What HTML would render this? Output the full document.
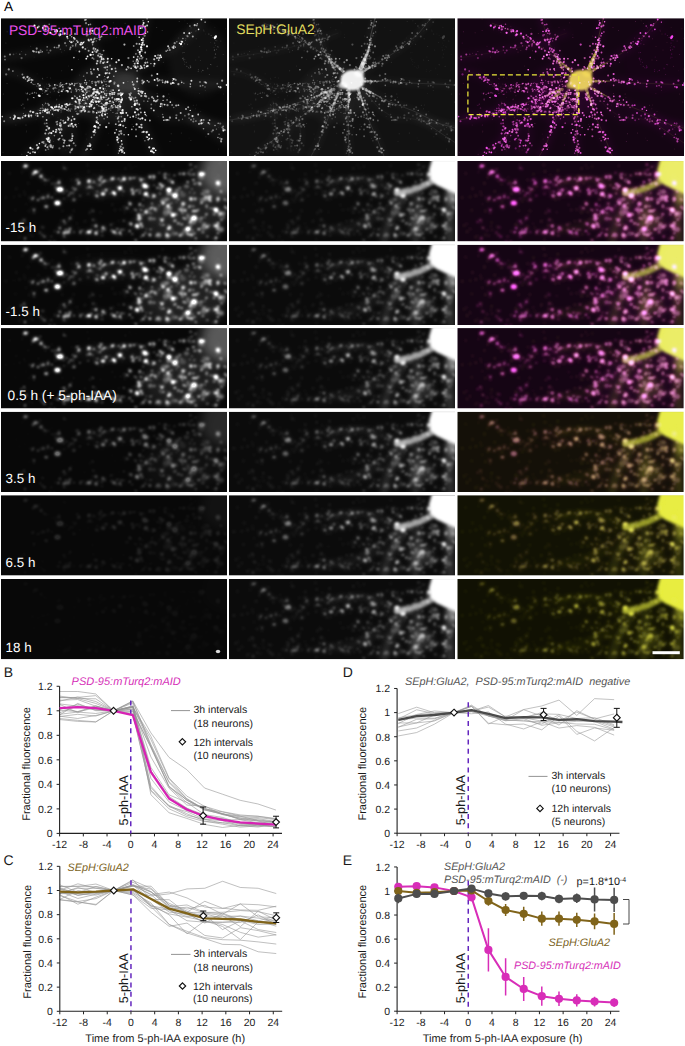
<!DOCTYPE html>
<html><head><meta charset="utf-8"><style>
html,body{margin:0;padding:0;background:#fff;}
svg{display:block;font-family:"Liberation Sans", sans-serif;text-rendering:geometricPrecision;}
</style></head><body>
<svg width="685" height="1046" viewBox="0 0 685 1046">
<text x="4" y="10.9" font-size="13.6">A</text><defs><filter id="bs" x="-20%" y="-20%" width="140%" height="140%"><feGaussianBlur stdDeviation="0.9"/></filter><filter id="b15" x="-20%" y="-20%" width="140%" height="140%"><feGaussianBlur stdDeviation="1.6"/></filter><filter id="b1" x="-5%" y="-5%" width="110%" height="110%"><feGaussianBlur stdDeviation="0.5"/></filter><filter id="gz" x="-5%" y="-5%" width="110%" height="110%"><feGaussianBlur in="SourceGraphic" stdDeviation="0.8" result="a"/><feGaussianBlur in="SourceGraphic" stdDeviation="2.3" result="b"/><feComposite in="a" in2="b" operator="arithmetic" k1="0" k2="1.05" k3="0.5" k4="0"/></filter><filter id="b3" x="-30%" y="-30%" width="160%" height="160%"><feGaussianBlur stdDeviation="3"/></filter><filter id="b6" x="-50%" y="-50%" width="200%" height="200%"><feGaussianBlur stdDeviation="6"/></filter><clipPath id="cz"><rect width="226" height="80.4"/></clipPath><clipPath id="ct"><rect width="226" height="137.8"/></clipPath><clipPath id="ct3"><rect width="226.7" height="137.8"/></clipPath><clipPath id="cz3"><rect width="226.3" height="80.4"/></clipPath><g id="zs"><ellipse cx="24.5" cy="5" rx="1.8" ry="1.4" fill-opacity=".8" transform="rotate(30 24.5 5)"/><ellipse cx="22.7" cy="5.8" rx="1.1" ry=".7" fill-opacity=".44" transform="rotate(30 22.7 5.8)"/><ellipse cx="26.3" cy="4.7" rx="1" ry=".6" fill-opacity=".39"/><ellipse cx="26.6" cy="4.2" rx=".8" ry=".5" fill-opacity=".38" transform="rotate(5 26.6 4.2)"/><ellipse cx="34.5" cy="11" rx="2.3" ry="1.5" fill-opacity=".9" transform="rotate(-10 34.5 11)"/><ellipse cx="37.5" cy="11" rx="1.1" ry=".8" fill-opacity=".39"/><ellipse cx="33.3" cy="12.8" rx=".8" ry=".5" fill-opacity=".48"/><ellipse cx="40" cy="15.5" rx="1.5" ry="1.4" fill-opacity=".7"/><ellipse cx="42.4" cy="17.4" rx=".9" ry=".6" fill-opacity=".29" transform="rotate(-20 42.4 17.4)"/><ellipse cx="44" cy="19" rx="1.1" ry="1.1" fill-opacity=".5"/><ellipse cx="42.8" cy="17.3" rx="1.1" ry=".7" fill-opacity=".14" transform="rotate(30 42.8 17.3)"/><ellipse cx="58" cy="21.5" rx="1.5" ry="1.5" fill-opacity=".6"/><ellipse cx="58.1" cy="19.1" rx="1" ry=".7" fill-opacity=".28" transform="rotate(-5 58.1 19.1)"/><ellipse cx="54.9" cy="21.9" rx=".8" ry=".5" fill-opacity=".32"/><ellipse cx="56.1" cy="22.5" rx=".9" ry=".6" fill-opacity=".22" transform="rotate(-20 56.1 22.5)"/><ellipse cx="59" cy="28.5" rx="3.4" ry="2.1" fill-opacity="1" transform="rotate(5 59 28.5)"/><ellipse cx="59.9" cy="27.2" rx="1.1" ry=".7" fill-opacity=".54"/><ellipse cx="56.5" cy="42" rx="2.9" ry="2.1" fill-opacity="1"/><ellipse cx="56.5" cy="40.4" rx="1" ry=".7" fill-opacity=".42" transform="rotate(30 56.5 40.4)"/><ellipse cx="57.3" cy="43.3" rx=".9" ry=".6" fill-opacity=".53" transform="rotate(5 57.3 43.3)"/><ellipse cx="54.8" cy="41" rx=".8" ry=".5" fill-opacity=".27" transform="rotate(5 54.8 41)"/><ellipse cx="45" cy="45.5" rx="1.7" ry="1.1" fill-opacity=".7"/><ellipse cx="45.8" cy="46.6" rx="1" ry=".6" fill-opacity=".31" transform="rotate(20 45.8 46.6)"/><ellipse cx="46.6" cy="44.8" rx="1.1" ry=".7" fill-opacity=".18" transform="rotate(30 46.6 44.8)"/><ellipse cx="47" cy="35" rx="1.1" ry="1.1" fill-opacity=".5"/><ellipse cx="47.1" cy="37.6" rx=".8" ry=".5" fill-opacity=".14"/><ellipse cx="47.4" cy="33" rx="1.1" ry=".7" fill-opacity=".13" transform="rotate(-10 47.4 33)"/><ellipse cx="46.4" cy="36.8" rx=".8" ry=".5" fill-opacity=".14"/><ellipse cx="42" cy="37" rx="1.1" ry="1.1" fill-opacity=".5"/><ellipse cx="41.9" cy="35" rx=".8" ry=".6" fill-opacity=".27" transform="rotate(-10 41.9 35)"/><ellipse cx="37" cy="39" rx="1.1" ry="1.1" fill-opacity=".5"/><ellipse cx="40.2" cy="38.2" rx=".9" ry=".6" fill-opacity=".15" transform="rotate(20 40.2 38.2)"/><ellipse cx="31.5" cy="38" rx="1.1" ry="1.1" fill-opacity=".5"/><ellipse cx="28.7" cy="36.8" rx=".9" ry=".6" fill-opacity=".21"/><ellipse cx="31.7" cy="36.8" rx="1" ry=".7" fill-opacity=".27" transform="rotate(-5 31.7 36.8)"/><ellipse cx="33" cy="49" rx="1.1" ry="1.1" fill-opacity=".5"/><ellipse cx="33" cy="51.7" rx=".9" ry=".6" fill-opacity=".23"/><ellipse cx="33.7" cy="47.7" rx=".8" ry=".5" fill-opacity=".18" transform="rotate(20 33.7 47.7)"/><ellipse cx="31.1" cy="47.1" rx=".8" ry=".5" fill-opacity=".14" transform="rotate(30 31.1 47.1)"/><ellipse cx="23" cy="59" rx="1.1" ry="1.1" fill-opacity=".3"/><ellipse cx="20.4" cy="60.6" rx="1" ry=".7" fill-opacity=".09" transform="rotate(10 20.4 60.6)"/><ellipse cx="23.9" cy="61.3" rx="1.1" ry=".7" fill-opacity=".13"/><ellipse cx="24" cy="77.5" rx="1.1" ry="1.1" fill-opacity=".4"/><ellipse cx="24.4" cy="76.3" rx=".9" ry=".6" fill-opacity=".11" transform="rotate(30 24.4 76.3)"/><ellipse cx="63" cy="60" rx="1.1" ry="1.1" fill-opacity=".5"/><ellipse cx="63.4" cy="62.7" rx="1" ry=".7" fill-opacity=".24" transform="rotate(20 63.4 62.7)"/><ellipse cx="64.6" cy="62" rx="1.2" ry=".8" fill-opacity=".25"/><ellipse cx="60.4" cy="60.1" rx="1" ry=".7" fill-opacity=".13" transform="rotate(-20 60.4 60.1)"/><ellipse cx="69" cy="57" rx="1.1" ry="1.1" fill-opacity=".5"/><ellipse cx="67.9" cy="59.2" rx="1" ry=".6" fill-opacity=".21"/><ellipse cx="70.4" cy="54.5" rx=".9" ry=".6" fill-opacity=".17"/><ellipse cx="70.3" cy="57.8" rx=".8" ry=".5" fill-opacity=".25" transform="rotate(5 70.3 57.8)"/><ellipse cx="63" cy="72" rx="1.4" ry="1.4" fill-opacity=".6"/><ellipse cx="65.7" cy="71.3" rx="1.1" ry=".7" fill-opacity=".23" transform="rotate(-30 65.7 71.3)"/><ellipse cx="64.2" cy="71.1" rx=".7" ry=".5" fill-opacity=".27" transform="rotate(20 64.2 71.1)"/><ellipse cx="62.6" cy="74.1" rx=".9" ry=".6" fill-opacity=".23" transform="rotate(-10 62.6 74.1)"/><ellipse cx="68" cy="71" rx="1.4" ry="1.4" fill-opacity=".6"/><ellipse cx="65.2" cy="71.2" rx="1.2" ry=".8" fill-opacity=".17" transform="rotate(-10 65.2 71.2)"/><ellipse cx="65.1" cy="71.1" rx="1.1" ry=".8" fill-opacity=".29"/><ellipse cx="73" cy="39" rx="1.1" ry="1.1" fill-opacity=".5"/><ellipse cx="72.7" cy="36.8" rx="1.1" ry=".7" fill-opacity=".16" transform="rotate(-10 72.7 36.8)"/><ellipse cx="70.9" cy="39" rx=".9" ry=".6" fill-opacity=".2"/><ellipse cx="74.5" cy="38.2" rx=".8" ry=".5" fill-opacity=".26" transform="rotate(-5 74.5 38.2)"/><ellipse cx="63" cy="7" rx="1.1" ry="1.1" fill-opacity=".3"/><ellipse cx="64.8" cy="7.8" rx="1.2" ry=".8" fill-opacity=".14" transform="rotate(-30 64.8 7.8)"/><ellipse cx="78" cy="22" rx="1.4" ry="1.4" fill-opacity=".7"/><ellipse cx="77.5" cy="20.5" rx=".9" ry=".6" fill-opacity=".31" transform="rotate(-30 77.5 20.5)"/><ellipse cx="88" cy="20" rx="1.7" ry="1.5" fill-opacity=".9" transform="rotate(-10 88 20)"/><ellipse cx="87.1" cy="21.4" rx="1.1" ry=".8" fill-opacity=".27"/><ellipse cx="93" cy="21" rx="1.1" ry="1.1" fill-opacity=".6"/><ellipse cx="91.9" cy="18.8" rx=".8" ry=".5" fill-opacity=".22" transform="rotate(30 91.9 18.8)"/><ellipse cx="90.3" cy="21.6" rx="1" ry=".7" fill-opacity=".27" transform="rotate(-20 90.3 21.6)"/><ellipse cx="95.8" cy="22.6" rx=".8" ry=".5" fill-opacity=".21" transform="rotate(30 95.8 22.6)"/><ellipse cx="99" cy="19" rx="1.1" ry="1.1" fill-opacity=".6"/><ellipse cx="101.5" cy="19.2" rx=".7" ry=".5" fill-opacity=".26" transform="rotate(-20 101.5 19.2)"/><ellipse cx="99.1" cy="20.2" rx="1" ry=".7" fill-opacity=".17" transform="rotate(-10 99.1 20.2)"/><ellipse cx="103" cy="20" rx="1.1" ry="1.1" fill-opacity=".6"/><ellipse cx="101.8" cy="21" rx="1.1" ry=".7" fill-opacity=".3" transform="rotate(5 101.8 21)"/><ellipse cx="111" cy="18" rx="1.4" ry="1.4" fill-opacity=".7"/><ellipse cx="108.2" cy="19.3" rx=".8" ry=".6" fill-opacity=".3" transform="rotate(30 108.2 19.3)"/><ellipse cx="123" cy="18" rx="1.7" ry="1.7" fill-opacity=".9"/><ellipse cx="124.1" cy="17.2" rx="1" ry=".7" fill-opacity=".25" transform="rotate(-10 124.1 17.2)"/><ellipse cx="122.9" cy="15.6" rx=".8" ry=".5" fill-opacity=".24"/><ellipse cx="129" cy="17" rx="1.1" ry="1.1" fill-opacity=".6"/><ellipse cx="126.1" cy="17.1" rx="1" ry=".7" fill-opacity=".18"/><ellipse cx="128.3" cy="19.2" rx=".7" ry=".5" fill-opacity=".3" transform="rotate(-30 128.3 19.2)"/><ellipse cx="129.7" cy="18.2" rx="1.1" ry=".7" fill-opacity=".21" transform="rotate(-5 129.7 18.2)"/><ellipse cx="133" cy="17" rx="1.1" ry="1.1" fill-opacity=".6"/><ellipse cx="130.1" cy="17.1" rx="1" ry=".7" fill-opacity=".18"/><ellipse cx="135.3" cy="16.1" rx=".9" ry=".6" fill-opacity=".27" transform="rotate(10 135.3 16.1)"/><ellipse cx="131.4" cy="16.8" rx="1.1" ry=".7" fill-opacity=".19"/><ellipse cx="140" cy="19" rx="1.4" ry="1.4" fill-opacity=".7"/><ellipse cx="138.1" cy="17.3" rx=".7" ry=".5" fill-opacity=".25" transform="rotate(-10 138.1 17.3)"/><ellipse cx="141.6" cy="17.6" rx=".7" ry=".5" fill-opacity=".23" transform="rotate(20 141.6 17.6)"/><ellipse cx="138.8" cy="17" rx="1" ry=".7" fill-opacity=".3"/><ellipse cx="149" cy="16" rx="1.4" ry="1.4" fill-opacity=".7"/><ellipse cx="152.2" cy="15" rx="1.1" ry=".7" fill-opacity=".18" transform="rotate(-10 152.2 15)"/><ellipse cx="89" cy="26" rx="1.1" ry="1.1" fill-opacity=".5"/><ellipse cx="91.2" cy="26.3" rx="1.1" ry=".7" fill-opacity=".15" transform="rotate(-10 91.2 26.3)"/><ellipse cx="86.7" cy="26" rx=".8" ry=".6" fill-opacity=".2" transform="rotate(5 86.7 26)"/><ellipse cx="86.1" cy="26.8" rx="1.2" ry=".8" fill-opacity=".26" transform="rotate(30 86.1 26.8)"/><ellipse cx="99" cy="24" rx="1.1" ry="1.1" fill-opacity=".5"/><ellipse cx="96" cy="23.4" rx=".9" ry=".6" fill-opacity=".14" transform="rotate(-20 96 23.4)"/><ellipse cx="96.6" cy="25" rx=".7" ry=".5" fill-opacity=".22" transform="rotate(-20 96.6 25)"/><ellipse cx="105" cy="29" rx="1.1" ry="1.1" fill-opacity=".6"/><ellipse cx="101.7" cy="28.6" rx="1" ry=".6" fill-opacity=".17" transform="rotate(10 101.7 28.6)"/><ellipse cx="102.5" cy="30" rx="1.1" ry=".7" fill-opacity=".29" transform="rotate(-10 102.5 30)"/><ellipse cx="105" cy="30.9" rx=".9" ry=".6" fill-opacity=".24" transform="rotate(-10 105 30.9)"/><ellipse cx="113" cy="32" rx="2.3" ry="1.5" fill-opacity="1" transform="rotate(30 113 32)"/><ellipse cx="113.8" cy="34.4" rx=".9" ry=".6" fill-opacity=".38" transform="rotate(-10 113.8 34.4)"/><ellipse cx="114.2" cy="33.2" rx=".8" ry=".5" fill-opacity=".29"/><ellipse cx="119" cy="27" rx="2.1" ry="1.8" fill-opacity="1"/><ellipse cx="118.1" cy="29.4" rx=".9" ry=".6" fill-opacity=".4" transform="rotate(20 118.1 29.4)"/><ellipse cx="116.1" cy="26.2" rx="1" ry=".7" fill-opacity=".26"/><ellipse cx="120.5" cy="28.3" rx=".9" ry=".6" fill-opacity=".42"/><ellipse cx="102" cy="33" rx="2.1" ry="1.4" fill-opacity=".9" transform="rotate(10 102 33)"/><ellipse cx="104" cy="31.2" rx=".9" ry=".6" fill-opacity=".29" transform="rotate(-20 104 31.2)"/><ellipse cx="96" cy="35" rx="1.4" ry="1.4" fill-opacity=".6"/><ellipse cx="94.2" cy="34" rx="1.1" ry=".8" fill-opacity=".28" transform="rotate(-10 94.2 34)"/><ellipse cx="131" cy="29" rx="1.4" ry="1.4" fill-opacity=".6"/><ellipse cx="133.2" cy="30.3" rx="1" ry=".7" fill-opacity=".24" transform="rotate(-20 133.2 30.3)"/><ellipse cx="131.3" cy="27" rx=".7" ry=".5" fill-opacity=".31"/><ellipse cx="132" cy="32.5" rx="1.4" ry="1.4" fill-opacity=".6"/><ellipse cx="132.6" cy="33.8" rx=".7" ry=".5" fill-opacity=".28" transform="rotate(-30 132.6 33.8)"/><ellipse cx="144" cy="25" rx="2.3" ry="2.3" fill-opacity=".9"/><ellipse cx="143.1" cy="24" rx="1.1" ry=".7" fill-opacity=".39" transform="rotate(-30 143.1 24)"/><ellipse cx="140.6" cy="25" rx=".9" ry=".6" fill-opacity=".4" transform="rotate(20 140.6 25)"/><ellipse cx="142.5" cy="26.3" rx="1.1" ry=".7" fill-opacity=".4"/><ellipse cx="145" cy="33" rx="2.1" ry="2.1" fill-opacity=".9"/><ellipse cx="143.2" cy="33.6" rx="1.1" ry=".8" fill-opacity=".47" transform="rotate(30 143.2 33.6)"/><ellipse cx="129" cy="43" rx="1.4" ry="1.4" fill-opacity=".6"/><ellipse cx="129" cy="41.2" rx=".8" ry=".5" fill-opacity=".15" transform="rotate(30 129 41.2)"/><ellipse cx="128.3" cy="41.4" rx="1.2" ry=".8" fill-opacity=".23" transform="rotate(30 128.3 41.4)"/><ellipse cx="130.8" cy="43.1" rx=".8" ry=".5" fill-opacity=".25" transform="rotate(30 130.8 43.1)"/><ellipse cx="126" cy="47" rx="1.1" ry="1.1" fill-opacity=".5"/><ellipse cx="123.5" cy="48.4" rx=".8" ry=".5" fill-opacity=".23"/><ellipse cx="127.7" cy="47.8" rx="1" ry=".7" fill-opacity=".14" transform="rotate(-20 127.7 47.8)"/><ellipse cx="123.2" cy="45.8" rx="1" ry=".6" fill-opacity=".22" transform="rotate(-10 123.2 45.8)"/><ellipse cx="145" cy="51" rx="1.7" ry="1.7" fill-opacity=".8"/><ellipse cx="146" cy="48.8" rx="1.1" ry=".8" fill-opacity=".3" transform="rotate(20 146 48.8)"/><ellipse cx="147.2" cy="51.5" rx="1.1" ry=".7" fill-opacity=".32" transform="rotate(30 147.2 51.5)"/><ellipse cx="138" cy="55" rx="1.7" ry="1.7" fill-opacity=".7"/><ellipse cx="138.5" cy="52.7" rx="1" ry=".6" fill-opacity=".21"/><ellipse cx="136.6" cy="53.1" rx=".9" ry=".6" fill-opacity=".34" transform="rotate(10 136.6 53.1)"/><ellipse cx="138" cy="58" rx="1.7" ry="1.7" fill-opacity=".7"/><ellipse cx="134.9" cy="58.2" rx=".8" ry=".5" fill-opacity=".33"/><ellipse cx="92" cy="50" rx=".9" ry=".9" fill-opacity=".3"/><ellipse cx="90.7" cy="48.4" rx=".8" ry=".6" fill-opacity=".11" transform="rotate(10 90.7 48.4)"/><ellipse cx="89.4" cy="51" rx="1" ry=".7" fill-opacity=".12" transform="rotate(-20 89.4 51)"/><ellipse cx="92" cy="59" rx=".9" ry=".9" fill-opacity=".3"/><ellipse cx="94.6" cy="59.6" rx="1" ry=".7" fill-opacity=".11"/><ellipse cx="130" cy="63" rx="1.4" ry="1.4" fill-opacity=".6"/><ellipse cx="130.5" cy="64.2" rx=".8" ry=".5" fill-opacity=".31"/><ellipse cx="129" cy="61.6" rx="1" ry=".7" fill-opacity=".23" transform="rotate(30 129 61.6)"/><ellipse cx="127.8" cy="62.7" rx=".9" ry=".6" fill-opacity=".26" transform="rotate(10 127.8 62.7)"/><ellipse cx="136" cy="65" rx="2.1" ry="1.8" fill-opacity=".9"/><ellipse cx="137.4" cy="66.4" rx="1.2" ry=".8" fill-opacity=".4" transform="rotate(-20 137.4 66.4)"/><ellipse cx="136" cy="62.7" rx="1.1" ry=".7" fill-opacity=".25"/><ellipse cx="140" cy="63" rx="1.4" ry="1.4" fill-opacity=".6"/><ellipse cx="138.9" cy="64.6" rx="1.2" ry=".8" fill-opacity=".18" transform="rotate(10 138.9 64.6)"/><ellipse cx="138.6" cy="61.8" rx=".8" ry=".6" fill-opacity=".29" transform="rotate(-20 138.6 61.8)"/><ellipse cx="88" cy="71" rx="2.3" ry="1.5" fill-opacity=".9"/><ellipse cx="90.3" cy="69.1" rx="1.1" ry=".7" fill-opacity=".49" transform="rotate(10 90.3 69.1)"/><ellipse cx="95" cy="72" rx="1.7" ry="1.5" fill-opacity=".7" transform="rotate(-5 95 72)"/><ellipse cx="95.4" cy="73.4" rx="1.2" ry=".8" fill-opacity=".25" transform="rotate(20 95.4 73.4)"/><ellipse cx="95.3" cy="70" rx=".7" ry=".5" fill-opacity=".32"/><ellipse cx="95.9" cy="73.2" rx=".9" ry=".6" fill-opacity=".19"/><ellipse cx="102" cy="67" rx="1.4" ry="1.4" fill-opacity=".6"/><ellipse cx="101.3" cy="68.8" rx="1.1" ry=".7" fill-opacity=".22" transform="rotate(10 101.3 68.8)"/><ellipse cx="101.8" cy="65.6" rx=".9" ry=".6" fill-opacity=".28" transform="rotate(30 101.8 65.6)"/><ellipse cx="104" cy="66.8" rx="1" ry=".7" fill-opacity=".21" transform="rotate(10 104 66.8)"/><ellipse cx="95" cy="65" rx="1.4" ry="1.4" fill-opacity=".6"/><ellipse cx="92.2" cy="64.6" rx="1" ry=".7" fill-opacity=".19" transform="rotate(-5 92.2 64.6)"/><ellipse cx="113" cy="71" rx="1.7" ry="1.5" fill-opacity=".7" transform="rotate(5 113 71)"/><ellipse cx="115.2" cy="71" rx=".8" ry=".5" fill-opacity=".25" transform="rotate(-10 115.2 71)"/><ellipse cx="119" cy="72" rx="1.4" ry="1.4" fill-opacity=".6"/><ellipse cx="120.2" cy="73.9" rx="1" ry=".7" fill-opacity=".3" transform="rotate(30 120.2 73.9)"/><ellipse cx="149" cy="74" rx="1.4" ry="1.4" fill-opacity=".6"/><ellipse cx="147.5" cy="73.1" rx=".8" ry=".5" fill-opacity=".28" transform="rotate(-5 147.5 73.1)"/><ellipse cx="201" cy="13" rx="2.9" ry="1.7" fill-opacity="1" transform="rotate(5 201 13)"/><ellipse cx="198.6" cy="14.5" rx="1.1" ry=".8" fill-opacity=".47" transform="rotate(5 198.6 14.5)"/><ellipse cx="201.1" cy="14.7" rx=".9" ry=".6" fill-opacity=".38" transform="rotate(-5 201.1 14.7)"/><ellipse cx="202.7" cy="13" rx="1.2" ry=".8" fill-opacity=".53"/><ellipse cx="217" cy="22" rx="2.3" ry="2.3" fill-opacity=".9"/><ellipse cx="218.1" cy="24" rx="1.2" ry=".8" fill-opacity=".46" transform="rotate(30 218.1 24)"/><ellipse cx="199" cy="23" rx="1.4" ry="1.4" fill-opacity=".6"/><ellipse cx="195.9" cy="22.1" rx="1.2" ry=".8" fill-opacity=".3"/><ellipse cx="197.9" cy="22.2" rx="1.1" ry=".7" fill-opacity=".33" transform="rotate(20 197.9 22.2)"/><ellipse cx="198.7" cy="21.8" rx="1.1" ry=".8" fill-opacity=".31" transform="rotate(-30 198.7 21.8)"/><ellipse cx="168" cy="29" rx="2.5" ry="2.3" fill-opacity="1" transform="rotate(-5 168 29)"/><ellipse cx="166" cy="28.2" rx="1" ry=".7" fill-opacity=".37" transform="rotate(20 166 28.2)"/><ellipse cx="174" cy="35" rx="2.5" ry="2.3" fill-opacity=".9" transform="rotate(10 174 35)"/><ellipse cx="171.5" cy="34.1" rx="1.2" ry=".8" fill-opacity=".31"/><ellipse cx="153" cy="35" rx="1.7" ry="1.7" fill-opacity=".7"/><ellipse cx="151.5" cy="33.3" rx="1.1" ry=".7" fill-opacity=".26" transform="rotate(-5 151.5 33.3)"/><ellipse cx="151.3" cy="36.5" rx="1.2" ry=".8" fill-opacity=".31" transform="rotate(-10 151.3 36.5)"/><ellipse cx="153" cy="16" rx="1.4" ry="1.4" fill-opacity=".6"/><ellipse cx="152.2" cy="18.5" rx="1" ry=".7" fill-opacity=".24" transform="rotate(10 152.2 18.5)"/><ellipse cx="152.2" cy="14.4" rx="1" ry=".7" fill-opacity=".28" transform="rotate(-5 152.2 14.4)"/><ellipse cx="161" cy="25" rx="1.4" ry="1.4" fill-opacity=".6"/><ellipse cx="163.6" cy="23.4" rx=".8" ry=".5" fill-opacity=".18"/><ellipse cx="162.8" cy="24.6" rx="1.2" ry=".8" fill-opacity=".18" transform="rotate(30 162.8 24.6)"/><ellipse cx="158.3" cy="25.3" rx=".8" ry=".6" fill-opacity=".24" transform="rotate(20 158.3 25.3)"/><ellipse cx="162" cy="42" rx="1.7" ry="1.7" fill-opacity=".7"/><ellipse cx="164.7" cy="40.6" rx="1" ry=".7" fill-opacity=".19" transform="rotate(30 164.7 40.6)"/><ellipse cx="162.7" cy="43.1" rx="1.1" ry=".7" fill-opacity=".28" transform="rotate(-30 162.7 43.1)"/><ellipse cx="160.2" cy="40.3" rx="1.1" ry=".7" fill-opacity=".38" transform="rotate(-20 160.2 40.3)"/><ellipse cx="167" cy="45" rx="1.7" ry="1.7" fill-opacity=".8"/><ellipse cx="166.2" cy="43.2" rx=".7" ry=".5" fill-opacity=".27"/><ellipse cx="167.9" cy="47.1" rx="1.2" ry=".8" fill-opacity=".42"/><ellipse cx="168.5" cy="43.4" rx="1" ry=".7" fill-opacity=".41" transform="rotate(-30 168.5 43.4)"/><ellipse cx="172" cy="54" rx="2.3" ry="2.1" fill-opacity=".9"/><ellipse cx="174.5" cy="53.5" rx="1" ry=".6" fill-opacity=".3" transform="rotate(10 174.5 53.5)"/><ellipse cx="174.6" cy="52.4" rx=".8" ry=".5" fill-opacity=".4" transform="rotate(-5 174.6 52.4)"/><ellipse cx="154" cy="48" rx="1.4" ry="1.4" fill-opacity=".6"/><ellipse cx="155.3" cy="49.9" rx="1.1" ry=".7" fill-opacity=".27"/><ellipse cx="157.1" cy="47.3" rx="1" ry=".6" fill-opacity=".3"/><ellipse cx="155.1" cy="49.6" rx="1.1" ry=".7" fill-opacity=".23"/><ellipse cx="182" cy="43" rx="1.7" ry="1.7" fill-opacity=".7"/><ellipse cx="184.1" cy="42.3" rx="1" ry=".7" fill-opacity=".21" transform="rotate(30 184.1 42.3)"/><ellipse cx="190" cy="38" rx="1.7" ry="1.7" fill-opacity=".8"/><ellipse cx="189.1" cy="36.7" rx="1" ry=".6" fill-opacity=".24"/><ellipse cx="194" cy="38" rx="1.4" ry="1.4" fill-opacity=".6"/><ellipse cx="197" cy="37.5" rx=".9" ry=".6" fill-opacity=".22" transform="rotate(-5 197 37.5)"/><ellipse cx="193" cy="57" rx="2.9" ry="2.5" fill-opacity=".9" transform="rotate(5 193 57)"/><ellipse cx="194.4" cy="56.3" rx="1.1" ry=".7" fill-opacity=".47" transform="rotate(-5 194.4 56.3)"/><ellipse cx="194.5" cy="58.6" rx=".8" ry=".5" fill-opacity=".45" transform="rotate(5 194.5 58.6)"/><ellipse cx="191" cy="58" rx=".9" ry=".6" fill-opacity=".3" transform="rotate(10 191 58)"/><ellipse cx="187" cy="68" rx="2.5" ry="2.3" fill-opacity="1"/><ellipse cx="186" cy="67" rx="1.1" ry=".7" fill-opacity=".46" transform="rotate(-30 186 67)"/><ellipse cx="209" cy="36" rx="1.7" ry="1.7" fill-opacity=".7"/><ellipse cx="206.7" cy="35.1" rx=".8" ry=".6" fill-opacity=".37" transform="rotate(10 206.7 35.1)"/><ellipse cx="206" cy="37" rx="1.1" ry=".8" fill-opacity=".36" transform="rotate(-20 206 37)"/><ellipse cx="217" cy="38" rx="1.7" ry="1.7" fill-opacity=".7"/><ellipse cx="217.1" cy="36.3" rx=".9" ry=".6" fill-opacity=".38" transform="rotate(-30 217.1 36.3)"/><ellipse cx="216.6" cy="40.2" rx="1.2" ry=".8" fill-opacity=".37" transform="rotate(-30 216.6 40.2)"/><ellipse cx="215" cy="49" rx="2.3" ry="2.3" fill-opacity=".9"/><ellipse cx="214.1" cy="50.4" rx=".8" ry=".6" fill-opacity=".44" transform="rotate(10 214.1 50.4)"/><ellipse cx="211.8" cy="48.2" rx=".8" ry=".5" fill-opacity=".39" transform="rotate(20 211.8 48.2)"/><ellipse cx="219" cy="53" rx="1.4" ry="1.4" fill-opacity=".6"/><ellipse cx="217.6" cy="53.8" rx="1" ry=".6" fill-opacity=".31" transform="rotate(-5 217.6 53.8)"/><ellipse cx="216.5" cy="51.2" rx="1.1" ry=".7" fill-opacity=".32" transform="rotate(5 216.5 51.2)"/><ellipse cx="219.6" cy="51.5" rx="1.1" ry=".7" fill-opacity=".15" transform="rotate(5 219.6 51.5)"/><ellipse cx="161" cy="59" rx="1.7" ry="1.7" fill-opacity=".7"/><ellipse cx="158.8" cy="57.7" rx="1.1" ry=".7" fill-opacity=".29"/><ellipse cx="160.7" cy="60.3" rx="1" ry=".7" fill-opacity=".23" transform="rotate(-20 160.7 60.3)"/><ellipse cx="168" cy="67" rx="1.7" ry="1.7" fill-opacity=".7"/><ellipse cx="168.1" cy="64.4" rx="1.2" ry=".8" fill-opacity=".34" transform="rotate(30 168.1 64.4)"/><ellipse cx="171.2" cy="68" rx="1.1" ry=".7" fill-opacity=".23" transform="rotate(-10 171.2 68)"/><ellipse cx="169.2" cy="66.2" rx="1" ry=".6" fill-opacity=".37" transform="rotate(10 169.2 66.2)"/><ellipse cx="166" cy="74" rx="1.7" ry="1.7" fill-opacity=".7"/><ellipse cx="165.2" cy="71.4" rx="1" ry=".7" fill-opacity=".23" transform="rotate(20 165.2 71.4)"/><ellipse cx="168.8" cy="74.7" rx=".9" ry=".6" fill-opacity=".33" transform="rotate(-10 168.8 74.7)"/><ellipse cx="206" cy="66" rx="1.4" ry="1.4" fill-opacity=".6"/><ellipse cx="203.1" cy="64.9" rx="1" ry=".6" fill-opacity=".18"/><ellipse cx="216" cy="65" rx="1.7" ry="1.7" fill-opacity=".7"/><ellipse cx="218" cy="64.8" rx="1.1" ry=".7" fill-opacity=".34" transform="rotate(30 218 64.8)"/><ellipse cx="215" cy="77" rx="1.4" ry="1.4" fill-opacity=".6"/><ellipse cx="211.7" cy="77.4" rx=".8" ry=".5" fill-opacity=".32" transform="rotate(-10 211.7 77.4)"/><ellipse cx="213.6" cy="78.7" rx=".9" ry=".6" fill-opacity=".15" transform="rotate(20 213.6 78.7)"/><ellipse cx="53.9" cy="23.1" rx="1.3" ry=".6" fill-opacity=".2" transform="rotate(10 53.9 23.1)"/><ellipse cx="70.3" cy="32.1" rx="1.4" ry="1" fill-opacity=".25"/><ellipse cx="40.5" cy="13.7" rx="1" ry=".6" fill-opacity=".33" transform="rotate(10 40.5 13.7)"/><ellipse cx="25.1" cy="4.9" rx="1.3" ry=".8" fill-opacity=".3"/><ellipse cx="59.7" cy="26.6" rx="1.5" ry=".7" fill-opacity=".51" transform="rotate(5 59.7 26.6)"/><ellipse cx="31.8" cy="12.9" rx="1.4" ry=".9" fill-opacity=".28" transform="rotate(30 31.8 12.9)"/><ellipse cx="47.8" cy="19" rx=".9" ry=".5" fill-opacity=".36" transform="rotate(-10 47.8 19)"/><ellipse cx="67.8" cy="34.4" rx="1.2" ry=".6" fill-opacity=".44"/><ellipse cx="68.9" cy="32.1" rx=".9" ry=".6" fill-opacity=".4" transform="rotate(5 68.9 32.1)"/><ellipse cx="46" cy="19.4" rx="1" ry=".7" fill-opacity=".31" transform="rotate(-5 46 19.4)"/><ellipse cx="32.2" cy="13.2" rx="1.2" ry=".8" fill-opacity=".54"/><ellipse cx="62.7" cy="31.9" rx="1" ry=".5" fill-opacity=".41" transform="rotate(-5 62.7 31.9)"/><ellipse cx="65.8" cy="30.1" rx="1.1" ry=".7" fill-opacity=".25" transform="rotate(-10 65.8 30.1)"/><ellipse cx="39.4" cy="8.4" rx="1.1" ry=".6" fill-opacity=".31" transform="rotate(-20 39.4 8.4)"/><ellipse cx="51.2" cy="22.7" rx="1.1" ry=".7" fill-opacity=".3"/><ellipse cx="54.6" cy="26.4" rx="1.1" ry=".8" fill-opacity=".36"/><ellipse cx="163.1" cy="13.4" rx="1" ry=".6" fill-opacity=".47"/><ellipse cx="163.7" cy="15.5" rx="1.2" ry=".8" fill-opacity=".43"/><ellipse cx="129.5" cy="17.9" rx="1.1" ry=".6" fill-opacity=".44" transform="rotate(-30 129.5 17.9)"/><ellipse cx="76.8" cy="23.4" rx="1.4" ry=".8" fill-opacity=".25" transform="rotate(-20 76.8 23.4)"/><ellipse cx="194.3" cy="5.9" rx="1.2" ry=".7" fill-opacity=".32" transform="rotate(20 194.3 5.9)"/><ellipse cx="76.7" cy="18.7" rx="1.2" ry=".9" fill-opacity=".37"/><ellipse cx="104" cy="19.6" rx="1.2" ry=".8" fill-opacity=".48" transform="rotate(-20 104 19.6)"/><ellipse cx="164.7" cy="12.9" rx="1.3" ry=".8" fill-opacity=".56" transform="rotate(20 164.7 12.9)"/><ellipse cx="101.7" cy="21.5" rx=".9" ry=".5" fill-opacity=".56" transform="rotate(-5 101.7 21.5)"/><ellipse cx="117.6" cy="17.8" rx="1.5" ry=".8" fill-opacity=".48" transform="rotate(-30 117.6 17.8)"/><ellipse cx="87.2" cy="21.1" rx=".9" ry=".5" fill-opacity=".26" transform="rotate(5 87.2 21.1)"/><ellipse cx="158.3" cy="11.9" rx="1" ry=".6" fill-opacity=".43" transform="rotate(-5 158.3 11.9)"/><ellipse cx="179" cy="12.7" rx="1.4" ry="1" fill-opacity=".46"/><ellipse cx="100.9" cy="21.9" rx="1.5" ry=".9" fill-opacity=".27" transform="rotate(10 100.9 21.9)"/><ellipse cx="97.2" cy="18.5" rx="1.3" ry=".9" fill-opacity=".21" transform="rotate(-5 97.2 18.5)"/><ellipse cx="105.4" cy="20.1" rx="1.2" ry=".8" fill-opacity=".26" transform="rotate(-30 105.4 20.1)"/><ellipse cx="189.3" cy="13.9" rx="1.2" ry=".6" fill-opacity=".49" transform="rotate(5 189.3 13.9)"/><ellipse cx="188.2" cy="9.9" rx="1" ry=".7" fill-opacity=".28" transform="rotate(20 188.2 9.9)"/><ellipse cx="100.2" cy="16.1" rx="1.5" ry="1" fill-opacity=".56" transform="rotate(30 100.2 16.1)"/><ellipse cx="112.4" cy="17.7" rx="1.6" ry=".9" fill-opacity=".54" transform="rotate(10 112.4 17.7)"/><ellipse cx="182.9" cy="12.3" rx="1.3" ry=".8" fill-opacity=".54" transform="rotate(-10 182.9 12.3)"/><ellipse cx="192.7" cy="13.3" rx="1.5" ry="1.1" fill-opacity=".41" transform="rotate(-10 192.7 13.3)"/><ellipse cx="98.8" cy="17.3" rx="1.5" ry=".8" fill-opacity=".26" transform="rotate(5 98.8 17.3)"/><ellipse cx="112.3" cy="16.7" rx="1.1" ry=".8" fill-opacity=".4" transform="rotate(-30 112.3 16.7)"/><ellipse cx="88.4" cy="23.5" rx=".9" ry=".5" fill-opacity=".24" transform="rotate(30 88.4 23.5)"/><ellipse cx="190.7" cy="8.6" rx="1.3" ry=".7" fill-opacity=".4" transform="rotate(-30 190.7 8.6)"/><ellipse cx="75.4" cy="19.1" rx="1.5" ry="1" fill-opacity=".2" transform="rotate(-30 75.4 19.1)"/><ellipse cx="164.2" cy="17.1" rx="1.4" ry=".9" fill-opacity=".57" transform="rotate(20 164.2 17.1)"/><ellipse cx="142.6" cy="18.2" rx="1.2" ry=".8" fill-opacity=".35"/><ellipse cx="187" cy="12.5" rx="1.3" ry=".9" fill-opacity=".32"/><ellipse cx="189" cy="12.1" rx="1.1" ry=".6" fill-opacity=".23"/><ellipse cx="182.8" cy="13.3" rx="1.4" ry="1" fill-opacity=".46" transform="rotate(10 182.8 13.3)"/><ellipse cx="120.2" cy="19.7" rx="1.3" ry=".7" fill-opacity=".53" transform="rotate(-10 120.2 19.7)"/><ellipse cx="88.4" cy="26" rx="1.4" ry=".9" fill-opacity=".45"/><ellipse cx="168.1" cy="13.8" rx="1" ry=".5" fill-opacity=".35" transform="rotate(-30 168.1 13.8)"/><ellipse cx="91.5" cy="26.8" rx="1.4" ry=".7" fill-opacity=".26" transform="rotate(30 91.5 26.8)"/><ellipse cx="225.4" cy="39.5" rx="1.5" ry=".9" fill-opacity=".25"/><ellipse cx="47" cy="36.4" rx="1.2" ry=".6" fill-opacity=".31"/><ellipse cx="74.3" cy="28.1" rx="1.4" ry=".8" fill-opacity=".54" transform="rotate(-20 74.3 28.1)"/><ellipse cx="122.6" cy="30.2" rx="1.3" ry=".8" fill-opacity=".37"/><ellipse cx="119.1" cy="27.8" rx="1.3" ry=".8" fill-opacity=".44" transform="rotate(-10 119.1 27.8)"/><ellipse cx="190.9" cy="28" rx="1" ry=".7" fill-opacity=".39" transform="rotate(10 190.9 28)"/><ellipse cx="133.3" cy="30.2" rx=".9" ry=".6" fill-opacity=".44" transform="rotate(10 133.3 30.2)"/><ellipse cx="87.2" cy="32.7" rx="1.2" ry=".8" fill-opacity=".24" transform="rotate(-5 87.2 32.7)"/><ellipse cx="203" cy="32.9" rx="1.1" ry=".7" fill-opacity=".52" transform="rotate(20 203 32.9)"/><ellipse cx="63.1" cy="37.7" rx="1.1" ry=".7" fill-opacity=".23" transform="rotate(-20 63.1 37.7)"/><ellipse cx="108.8" cy="27.8" rx="1" ry=".5" fill-opacity=".22"/><ellipse cx="50.8" cy="36.5" rx="1" ry=".7" fill-opacity=".58"/><ellipse cx="188.9" cy="31.5" rx="1" ry=".6" fill-opacity=".45"/><ellipse cx="202.6" cy="30.2" rx=".9" ry=".7" fill-opacity=".39" transform="rotate(-10 202.6 30.2)"/><ellipse cx="139" cy="29.1" rx="1.1" ry=".7" fill-opacity=".5" transform="rotate(20 139 29.1)"/><ellipse cx="160" cy="27.7" rx="1.6" ry="1.1" fill-opacity=".31" transform="rotate(-5 160 27.7)"/><ellipse cx="71.9" cy="26.9" rx="1" ry=".6" fill-opacity=".53"/><ellipse cx="176.1" cy="34.6" rx="1.1" ry=".6" fill-opacity=".55" transform="rotate(-20 176.1 34.6)"/><ellipse cx="43.3" cy="36.6" rx="1.2" ry=".9" fill-opacity=".39" transform="rotate(-5 43.3 36.6)"/><ellipse cx="180.5" cy="30.7" rx="1" ry=".7" fill-opacity=".41" transform="rotate(-20 180.5 30.7)"/><ellipse cx="204.3" cy="35.6" rx="1.5" ry=".8" fill-opacity=".45" transform="rotate(-10 204.3 35.6)"/><ellipse cx="118" cy="27.4" rx=".9" ry=".5" fill-opacity=".22" transform="rotate(-10 118 27.4)"/><ellipse cx="169.8" cy="33.1" rx="1.3" ry=".9" fill-opacity=".54" transform="rotate(-10 169.8 33.1)"/><ellipse cx="109.2" cy="32.6" rx=".9" ry=".5" fill-opacity=".54"/><ellipse cx="223.7" cy="38.3" rx="1.3" ry=".8" fill-opacity=".57" transform="rotate(-20 223.7 38.3)"/><ellipse cx="39.7" cy="37" rx="1.3" ry=".9" fill-opacity=".25" transform="rotate(-30 39.7 37)"/><ellipse cx="156.5" cy="26.9" rx="1.5" ry=".8" fill-opacity=".5"/><ellipse cx="142.1" cy="23.1" rx="1.5" ry=".8" fill-opacity=".53" transform="rotate(-5 142.1 23.1)"/><ellipse cx="96.4" cy="30.7" rx="1.5" ry=".8" fill-opacity=".34" transform="rotate(30 96.4 30.7)"/><ellipse cx="79" cy="34.7" rx="1.3" ry=".8" fill-opacity=".25" transform="rotate(-10 79 34.7)"/><ellipse cx="105.3" cy="28.7" rx="1.5" ry="1" fill-opacity=".43" transform="rotate(20 105.3 28.7)"/><ellipse cx="72.7" cy="30.4" rx=".9" ry=".6" fill-opacity=".29"/><ellipse cx="158.9" cy="32.6" rx="1.5" ry="1" fill-opacity=".29" transform="rotate(5 158.9 32.6)"/><ellipse cx="145.7" cy="26.5" rx="1.5" ry=".9" fill-opacity=".55" transform="rotate(5 145.7 26.5)"/><ellipse cx="72.3" cy="32.6" rx="1.1" ry=".8" fill-opacity=".21" transform="rotate(5 72.3 32.6)"/><ellipse cx="153.1" cy="24.2" rx="1.1" ry=".7" fill-opacity=".31" transform="rotate(-10 153.1 24.2)"/><ellipse cx="200.8" cy="32.9" rx="1.2" ry=".6" fill-opacity=".56" transform="rotate(20 200.8 32.9)"/><ellipse cx="193.3" cy="32" rx="1.4" ry=".7" fill-opacity=".36" transform="rotate(-30 193.3 32)"/><ellipse cx="32.5" cy="36.3" rx="1" ry=".6" fill-opacity=".49" transform="rotate(20 32.5 36.3)"/><ellipse cx="224.4" cy="45.3" rx="1.2" ry=".7" fill-opacity=".33" transform="rotate(-5 224.4 45.3)"/><ellipse cx="181.4" cy="52.4" rx="1.3" ry=".9" fill-opacity=".3" transform="rotate(30 181.4 52.4)"/><ellipse cx="160.2" cy="64.7" rx=".8" ry=".5" fill-opacity=".4"/><ellipse cx="69" cy="67.8" rx="1.5" ry="1" fill-opacity=".51" transform="rotate(10 69 67.8)"/><ellipse cx="128.7" cy="70" rx="1.4" ry=".9" fill-opacity=".47" transform="rotate(-10 128.7 70)"/><ellipse cx="223.9" cy="46.2" rx="1.2" ry=".8" fill-opacity=".5" transform="rotate(-20 223.9 46.2)"/><ellipse cx="121.5" cy="68.2" rx=".9" ry=".5" fill-opacity=".2" transform="rotate(-10 121.5 68.2)"/><ellipse cx="120.2" cy="68.8" rx="1.4" ry=".9" fill-opacity=".35"/><ellipse cx="213.2" cy="53.3" rx="1.5" ry="1" fill-opacity=".41" transform="rotate(-5 213.2 53.3)"/><ellipse cx="203.7" cy="56.4" rx="1.4" ry=".7" fill-opacity=".32"/><ellipse cx="110.5" cy="69.5" rx="1.1" ry=".6" fill-opacity=".58" transform="rotate(-30 110.5 69.5)"/><ellipse cx="101.1" cy="74.5" rx="1.4" ry=".8" fill-opacity=".25"/><ellipse cx="79.4" cy="71.7" rx="1.2" ry=".8" fill-opacity=".51" transform="rotate(30 79.4 71.7)"/><ellipse cx="67.7" cy="68.9" rx="1.2" ry=".7" fill-opacity=".28" transform="rotate(-5 67.7 68.9)"/><ellipse cx="145.2" cy="68" rx="1" ry=".6" fill-opacity=".32" transform="rotate(-20 145.2 68)"/><ellipse cx="97.1" cy="69.5" rx="1" ry=".6" fill-opacity=".28"/><ellipse cx="85.2" cy="72" rx=".9" ry=".6" fill-opacity=".43" transform="rotate(5 85.2 72)"/><ellipse cx="200.4" cy="56.9" rx="1.3" ry=".9" fill-opacity=".59"/><ellipse cx="81.9" cy="69.5" rx="1.1" ry=".7" fill-opacity=".25" transform="rotate(5 81.9 69.5)"/><ellipse cx="115.3" cy="72.5" rx="1.1" ry=".7" fill-opacity=".53" transform="rotate(-20 115.3 72.5)"/><ellipse cx="182.6" cy="57" rx="1.4" ry="1" fill-opacity=".51" transform="rotate(-10 182.6 57)"/><ellipse cx="225.8" cy="48" rx="1.3" ry=".7" fill-opacity=".23" transform="rotate(-10 225.8 48)"/><ellipse cx="116.3" cy="67.9" rx="1.3" ry=".7" fill-opacity=".56"/><ellipse cx="65.8" cy="71.9" rx="1.2" ry=".9" fill-opacity=".53" transform="rotate(20 65.8 71.9)"/><ellipse cx="64.9" cy="68.8" rx="1" ry=".7" fill-opacity=".54" transform="rotate(10 64.9 68.8)"/><ellipse cx="64" cy="71.3" rx="1" ry=".7" fill-opacity=".25" transform="rotate(20 64 71.3)"/><ellipse cx="73" cy="71" rx="1" ry=".6" fill-opacity=".5" transform="rotate(5 73 71)"/><ellipse cx="205.4" cy="53.2" rx="1.5" ry="1.1" fill-opacity=".49" transform="rotate(-30 205.4 53.2)"/><ellipse cx="184.1" cy="57.9" rx="1.5" ry=".9" fill-opacity=".24" transform="rotate(5 184.1 57.9)"/><ellipse cx="184.2" cy="57.8" rx="1.4" ry=".8" fill-opacity=".37" transform="rotate(30 184.2 57.8)"/><ellipse cx="57.4" cy="71.1" rx="1.3" ry="1" fill-opacity=".59" transform="rotate(-30 57.4 71.1)"/><ellipse cx="63.2" cy="75.6" rx="1.5" ry=".8" fill-opacity=".29" transform="rotate(10 63.2 75.6)"/><ellipse cx="123" cy="68.7" rx="1.3" ry=".9" fill-opacity=".22" transform="rotate(-10 123 68.7)"/><ellipse cx="79.8" cy="70" rx="1.3" ry=".7" fill-opacity=".41" transform="rotate(-10 79.8 70)"/><ellipse cx="50.3" cy="75.5" rx="1.1" ry=".7" fill-opacity=".21" transform="rotate(-30 50.3 75.5)"/><ellipse cx="159.1" cy="63" rx="1" ry=".5" fill-opacity=".54" transform="rotate(10 159.1 63)"/><ellipse cx="131.2" cy="72.9" rx="1.2" ry=".7" fill-opacity=".44"/><ellipse cx="58.8" cy="67.1" rx="1.4" ry=".8" fill-opacity=".56" transform="rotate(10 58.8 67.1)"/><ellipse cx="100.9" cy="70.7" rx="1.2" ry=".6" fill-opacity=".42" transform="rotate(10 100.9 70.7)"/><ellipse cx="103.8" cy="68.7" rx="1.1" ry=".6" fill-opacity=".55" transform="rotate(-20 103.8 68.7)"/><ellipse cx="149.5" cy="68.4" rx="1.4" ry=".9" fill-opacity=".36"/><ellipse cx="53.9" cy="70.4" rx=".9" ry=".5" fill-opacity=".3" transform="rotate(30 53.9 70.4)"/><ellipse cx="141.1" cy="64.5" rx="1" ry=".6" fill-opacity=".37" transform="rotate(-20 141.1 64.5)"/><ellipse cx="133.6" cy="48.3" rx="1" ry=".6" fill-opacity=".44" transform="rotate(-30 133.6 48.3)"/><ellipse cx="141.6" cy="53.6" rx="1.2" ry=".7" fill-opacity=".45" transform="rotate(20 141.6 53.6)"/><ellipse cx="144.2" cy="71.8" rx="1.4" ry=".9" fill-opacity=".35" transform="rotate(-10 144.2 71.8)"/><ellipse cx="135" cy="49.3" rx="1.2" ry=".7" fill-opacity=".48" transform="rotate(5 135 49.3)"/><ellipse cx="139.9" cy="75.8" rx="1" ry=".7" fill-opacity=".29" transform="rotate(-5 139.9 75.8)"/><ellipse cx="139.1" cy="48.3" rx="1.1" ry=".6" fill-opacity=".22" transform="rotate(20 139.1 48.3)"/><ellipse cx="140" cy="56.8" rx="1" ry=".7" fill-opacity=".45" transform="rotate(20 140 56.8)"/><ellipse cx="139" cy="44.6" rx="1.1" ry=".6" fill-opacity=".39" transform="rotate(-5 139 44.6)"/><ellipse cx="134.8" cy="79.2" rx="1.4" ry="1" fill-opacity=".38" transform="rotate(20 134.8 79.2)"/><ellipse cx="141.3" cy="65.8" rx="1.5" ry="1" fill-opacity=".47" transform="rotate(-30 141.3 65.8)"/><ellipse cx="136.2" cy="66.8" rx="1.2" ry=".7" fill-opacity=".49" transform="rotate(30 136.2 66.8)"/><ellipse cx="140.1" cy="49.2" rx="1.3" ry=".7" fill-opacity=".45" transform="rotate(10 140.1 49.2)"/><ellipse cx="137.8" cy="53.4" rx="1.1" ry=".6" fill-opacity=".5" transform="rotate(5 137.8 53.4)"/><ellipse cx="142.2" cy="38.5" rx="1.1" ry=".8" fill-opacity=".27"/><ellipse cx="138.8" cy="31.9" rx="1.2" ry=".9" fill-opacity=".49"/><ellipse cx="29.7" cy="69.5" rx=".9" ry=".6" fill-opacity=".19" transform="rotate(-10 29.7 69.5)"/><ellipse cx="41.8" cy="66.3" rx="1.5" ry=".9" fill-opacity=".19" transform="rotate(-5 41.8 66.3)"/><ellipse cx="39.1" cy="71.5" rx="1" ry=".6" fill-opacity=".39" transform="rotate(-30 39.1 71.5)"/><ellipse cx="48.9" cy="80.9" rx="1.2" ry=".8" fill-opacity=".34" transform="rotate(10 48.9 80.9)"/><ellipse cx="53.6" cy="80.8" rx="1.3" ry=".7" fill-opacity=".3" transform="rotate(30 53.6 80.8)"/><ellipse cx="25.6" cy="66.8" rx="1.5" ry=".8" fill-opacity=".29" transform="rotate(30 25.6 66.8)"/><ellipse cx="41.3" cy="73.8" rx="1.4" ry=".9" fill-opacity=".23"/><ellipse cx="20.3" cy="61" rx=".9" ry=".7" fill-opacity=".34"/><ellipse cx="43.5" cy="75.6" rx="1.4" ry=".9" fill-opacity=".37" transform="rotate(-10 43.5 75.6)"/><ellipse cx="175.6" cy="32.4" rx="1.1" ry=".7" fill-opacity=".73"/><ellipse cx="186.7" cy="21" rx="1.2" ry=".8" fill-opacity=".7" transform="rotate(30 186.7 21)"/><ellipse cx="194.7" cy="59.8" rx="1.2" ry=".8" fill-opacity=".4" transform="rotate(-30 194.7 59.8)"/><ellipse cx="192.1" cy="45.3" rx="1.7" ry="1.1" fill-opacity=".33"/><ellipse cx="158.3" cy="44.6" rx="1.1" ry=".7" fill-opacity=".41"/><ellipse cx="192.4" cy="50.1" rx="1.7" ry="1.1" fill-opacity=".67" transform="rotate(-5 192.4 50.1)"/><ellipse cx="178" cy="48.6" rx="1.2" ry=".8" fill-opacity=".47" transform="rotate(10 178 48.6)"/><ellipse cx="148.8" cy="51.6" rx="1" ry=".7" fill-opacity=".36" transform="rotate(-10 148.8 51.6)"/><ellipse cx="122.8" cy="59.8" rx="1" ry=".7" fill-opacity=".4" transform="rotate(5 122.8 59.8)"/><ellipse cx="188.8" cy="44.9" rx="1.3" ry=".9" fill-opacity=".49" transform="rotate(-20 188.8 44.9)"/><ellipse cx="190.1" cy="58.1" rx="1" ry=".7" fill-opacity=".52" transform="rotate(30 190.1 58.1)"/><ellipse cx="200.5" cy="41.9" rx="1.3" ry=".9" fill-opacity=".71" transform="rotate(-30 200.5 41.9)"/><ellipse cx="179.2" cy="26.6" rx="1" ry=".7" fill-opacity=".49" transform="rotate(5 179.2 26.6)"/><ellipse cx="189.8" cy="60.3" rx="1.7" ry="1.1" fill-opacity=".59" transform="rotate(-30 189.8 60.3)"/><ellipse cx="169.3" cy="66" rx="1.2" ry=".8" fill-opacity=".74"/><ellipse cx="216.9" cy="72.2" rx="1.3" ry=".8" fill-opacity=".54" transform="rotate(-10 216.9 72.2)"/><ellipse cx="188.2" cy="46.2" rx="1.4" ry=".9" fill-opacity=".45" transform="rotate(-10 188.2 46.2)"/><ellipse cx="177.4" cy="62.4" rx="1.6" ry="1.1" fill-opacity=".51" transform="rotate(-5 177.4 62.4)"/><ellipse cx="163.1" cy="51" rx="1" ry=".7" fill-opacity=".42" transform="rotate(10 163.1 51)"/><ellipse cx="147.4" cy="35.4" rx="1.1" ry=".7" fill-opacity=".65" transform="rotate(-30 147.4 35.4)"/><ellipse cx="171.6" cy="21" rx="1.4" ry=".9" fill-opacity=".73" transform="rotate(10 171.6 21)"/><ellipse cx="217" cy="62" rx="1.6" ry="1" fill-opacity=".64" transform="rotate(-10 217 62)"/><ellipse cx="148.7" cy="48.3" rx="1.4" ry="1" fill-opacity=".33" transform="rotate(5 148.7 48.3)"/><ellipse cx="218.9" cy="55.3" rx="1.1" ry=".8" fill-opacity=".31" transform="rotate(30 218.9 55.3)"/><ellipse cx="181.1" cy="50.5" rx="1.5" ry="1" fill-opacity=".31" transform="rotate(-10 181.1 50.5)"/><ellipse cx="138.7" cy="43.2" rx="1.3" ry=".9" fill-opacity=".68" transform="rotate(-30 138.7 43.2)"/><ellipse cx="197.2" cy="48.9" rx="1.4" ry="1" fill-opacity=".43" transform="rotate(-5 197.2 48.9)"/><ellipse cx="214.1" cy="65" rx="1.4" ry="1" fill-opacity=".74" transform="rotate(-30 214.1 65)"/><ellipse cx="201.9" cy="71.2" rx="1.5" ry="1" fill-opacity=".44"/><ellipse cx="193.6" cy="22.8" rx="1.4" ry="1" fill-opacity=".46" transform="rotate(30 193.6 22.8)"/><ellipse cx="162.4" cy="63.6" rx="1.1" ry=".7" fill-opacity=".32"/><ellipse cx="173" cy="33" rx="1.5" ry="1" fill-opacity=".73" transform="rotate(-20 173 33)"/><ellipse cx="191.4" cy="69.4" rx="1.2" ry=".8" fill-opacity=".37" transform="rotate(-10 191.4 69.4)"/><ellipse cx="180.4" cy="49.1" rx="1.6" ry="1.1" fill-opacity=".52" transform="rotate(5 180.4 49.1)"/><ellipse cx="189.6" cy="73.5" rx="1.4" ry=".9" fill-opacity=".63"/><ellipse cx="209.6" cy="47.3" rx="1" ry=".7" fill-opacity=".59" transform="rotate(20 209.6 47.3)"/><ellipse cx="208.9" cy="39.3" rx="1.8" ry="1.2" fill-opacity=".75" transform="rotate(30 208.9 39.3)"/><ellipse cx="153.2" cy="57.9" rx="1.6" ry="1.1" fill-opacity=".33" transform="rotate(-10 153.2 57.9)"/><ellipse cx="215.1" cy="47.6" rx="1.3" ry=".9" fill-opacity=".73"/><ellipse cx="225.7" cy="47.4" rx="1.3" ry=".9" fill-opacity=".53" transform="rotate(5 225.7 47.4)"/><ellipse cx="162.2" cy="25.5" rx="1.1" ry=".7" fill-opacity=".49" transform="rotate(-20 162.2 25.5)"/><ellipse cx="162.3" cy="63.9" rx="1" ry=".7" fill-opacity=".71" transform="rotate(20 162.3 63.9)"/><ellipse cx="175.1" cy="53.5" rx="1.7" ry="1.2" fill-opacity=".32"/><ellipse cx="173.9" cy="59.7" rx="1.7" ry="1.1" fill-opacity=".57" transform="rotate(-10 173.9 59.7)"/><ellipse cx="177.3" cy="38.3" rx="1" ry=".7" fill-opacity=".66"/><ellipse cx="193.4" cy="72.3" rx="1.5" ry="1" fill-opacity=".38" transform="rotate(5 193.4 72.3)"/><ellipse cx="151" cy="42.6" rx="1.2" ry=".8" fill-opacity=".55"/><ellipse cx="159.2" cy="23.1" rx="1.6" ry="1" fill-opacity=".67"/><ellipse cx="155.2" cy="74.9" rx="1.3" ry=".9" fill-opacity=".32" transform="rotate(-20 155.2 74.9)"/><ellipse cx="171.6" cy="21.7" rx="1.7" ry="1.2" fill-opacity=".41" transform="rotate(30 171.6 21.7)"/><ellipse cx="212.7" cy="47.5" rx="1" ry=".7" fill-opacity=".65" transform="rotate(5 212.7 47.5)"/><ellipse cx="191.2" cy="73.8" rx="1.4" ry=".9" fill-opacity=".41"/><ellipse cx="184" cy="49.1" rx="1.5" ry="1" fill-opacity=".7" transform="rotate(-10 184 49.1)"/><ellipse cx="170" cy="46.9" rx="1.2" ry=".8" fill-opacity=".5" transform="rotate(-10 170 46.9)"/><ellipse cx="109.9" cy="63.8" rx="1.1" ry=".8" fill-opacity=".38"/><ellipse cx="189.6" cy="3.6" rx="1.2" ry=".8" fill-opacity=".53"/><ellipse cx="186.2" cy="72.1" rx="1.2" ry=".8" fill-opacity=".58" transform="rotate(-10 186.2 72.1)"/><ellipse cx="197.9" cy="68.3" rx="1.5" ry="1" fill-opacity=".73" transform="rotate(-5 197.9 68.3)"/><ellipse cx="205.6" cy="45.9" rx="1.3" ry=".9" fill-opacity=".49" transform="rotate(10 205.6 45.9)"/><ellipse cx="142.2" cy="74.3" rx="1.5" ry="1" fill-opacity=".58" transform="rotate(-10 142.2 74.3)"/><ellipse cx="189.8" cy="65.6" rx="1" ry=".7" fill-opacity=".58" transform="rotate(-5 189.8 65.6)"/><ellipse cx="192.4" cy="19.1" rx="1.6" ry="1.1" fill-opacity=".48"/><ellipse cx="157.3" cy="73.6" rx="1" ry=".7" fill-opacity=".58" transform="rotate(-5 157.3 73.6)"/><ellipse cx="142" cy="44.9" rx="1.1" ry=".8" fill-opacity=".32"/><ellipse cx="167.5" cy="67.9" rx="1.7" ry="1.1" fill-opacity=".52"/><ellipse cx="175.6" cy="40.9" rx="1" ry=".7" fill-opacity=".32" transform="rotate(-20 175.6 40.9)"/><ellipse cx="173.4" cy="14.4" rx="1" ry=".7" fill-opacity=".56"/><ellipse cx="150.3" cy="52.5" rx="1" ry=".7" fill-opacity=".3"/><ellipse cx="206.4" cy="75.5" rx="1.3" ry=".9" fill-opacity=".39"/><ellipse cx="193.3" cy="61.9" rx="1.6" ry="1" fill-opacity=".34"/><ellipse cx="188.6" cy="61.6" rx="1" ry=".6" fill-opacity=".72" transform="rotate(-5 188.6 61.6)"/><ellipse cx="194.8" cy="77.3" rx="1.4" ry=".9" fill-opacity=".5" transform="rotate(30 194.8 77.3)"/><ellipse cx="220.4" cy="58.6" rx="1.4" ry=".9" fill-opacity=".49" transform="rotate(30 220.4 58.6)"/><ellipse cx="170.5" cy="42.1" rx="1.1" ry=".7" fill-opacity=".56"/><ellipse cx="166.9" cy="33.2" rx="1.3" ry=".9" fill-opacity=".45"/><ellipse cx="180.6" cy="63.4" rx="1.3" ry=".8" fill-opacity=".68" transform="rotate(-20 180.6 63.4)"/><ellipse cx="195" cy="50" rx="1.7" ry="1.1" fill-opacity=".71"/><ellipse cx="184.4" cy="50.2" rx="1.3" ry=".8" fill-opacity=".38" transform="rotate(10 184.4 50.2)"/><ellipse cx="219.9" cy="30.5" rx="1.3" ry=".9" fill-opacity=".72" transform="rotate(20 219.9 30.5)"/><ellipse cx="173.1" cy="35" rx="1.7" ry="1.1" fill-opacity=".7" transform="rotate(5 173.1 35)"/><ellipse cx="187.2" cy="73.5" rx="1.5" ry="1" fill-opacity=".57" transform="rotate(20 187.2 73.5)"/><ellipse cx="216.3" cy="68.1" rx="1.5" ry="1" fill-opacity=".53"/><ellipse cx="179.2" cy="74.5" rx="1.5" ry="1" fill-opacity=".74"/><ellipse cx="150.6" cy="46.8" rx="1.8" ry="1.2" fill-opacity=".49" transform="rotate(-20 150.6 46.8)"/><ellipse cx="197.5" cy="57.6" rx="1.1" ry=".7" fill-opacity=".51" transform="rotate(-5 197.5 57.6)"/><ellipse cx="135.9" cy="29.4" rx="1.1" ry=".7" fill-opacity=".74" transform="rotate(-30 135.9 29.4)"/><ellipse cx="222.6" cy="56.7" rx="1.3" ry=".8" fill-opacity=".34" transform="rotate(-30 222.6 56.7)"/><ellipse cx="140.1" cy="57.6" rx="1" ry=".7" fill-opacity=".37" transform="rotate(30 140.1 57.6)"/><ellipse cx="175.5" cy="34.3" rx="1.6" ry="1.1" fill-opacity=".43" transform="rotate(-30 175.5 34.3)"/><ellipse cx="205.7" cy="44.3" rx="1.3" ry=".9" fill-opacity=".4" transform="rotate(20 205.7 44.3)"/><ellipse cx="146.8" cy="25.3" rx="1.5" ry="1" fill-opacity=".49"/><ellipse cx="166.9" cy="75.3" rx="2.5" ry="2" fill-opacity=".29" transform="rotate(-30 166.9 75.3)"/><ellipse cx="203.2" cy="63.6" rx="2.4" ry="2" fill-opacity=".3" transform="rotate(-5 203.2 63.6)"/><ellipse cx="186.9" cy="54.3" rx="2.1" ry="1.7" fill-opacity=".2" transform="rotate(10 186.9 54.3)"/><ellipse cx="180.5" cy="47.3" rx="2.5" ry="2.1" fill-opacity=".21" transform="rotate(-10 180.5 47.3)"/><ellipse cx="175.5" cy="29.8" rx="2.1" ry="1.7" fill-opacity=".22" transform="rotate(10 175.5 29.8)"/><ellipse cx="149.3" cy="57.6" rx="2.4" ry="2" fill-opacity=".27" transform="rotate(-5 149.3 57.6)"/><ellipse cx="184.2" cy="69.4" rx="2.4" ry="2" fill-opacity=".26" transform="rotate(10 184.2 69.4)"/><ellipse cx="222.1" cy="52.8" rx="2.9" ry="2.4" fill-opacity=".18" transform="rotate(-30 222.1 52.8)"/><ellipse cx="168.3" cy="50.8" rx="2.9" ry="2.4" fill-opacity=".27" transform="rotate(5 168.3 50.8)"/><ellipse cx="219.8" cy="68.5" rx="3" ry="2.4" fill-opacity=".29"/><ellipse cx="168.8" cy="19.6" rx="2.8" ry="2.3" fill-opacity=".15" transform="rotate(10 168.8 19.6)"/><ellipse cx="165.4" cy="47.9" rx="2.9" ry="2.4" fill-opacity=".14"/><ellipse cx="181.9" cy="33.6" rx="3.1" ry="2.5" fill-opacity=".14" transform="rotate(20 181.9 33.6)"/><ellipse cx="205.5" cy="37.1" rx="3" ry="2.5" fill-opacity=".27" transform="rotate(-20 205.5 37.1)"/><ellipse cx="162.8" cy="39.1" rx="2.9" ry="2.4" fill-opacity=".19" transform="rotate(-10 162.8 39.1)"/><ellipse cx="187.2" cy="56.7" rx="2.1" ry="1.8" fill-opacity=".17" transform="rotate(20 187.2 56.7)"/><ellipse cx="221.1" cy="52.5" rx="2.1" ry="1.7" fill-opacity=".25" transform="rotate(30 221.1 52.5)"/><ellipse cx="190.4" cy="62.6" rx="2" ry="1.6" fill-opacity=".23" transform="rotate(-10 190.4 62.6)"/><ellipse cx="206.2" cy="30.7" rx="2.6" ry="2.2" fill-opacity=".27" transform="rotate(10 206.2 30.7)"/><ellipse cx="166.3" cy="38.1" rx="2.4" ry="1.9" fill-opacity=".25"/><ellipse cx="202.4" cy="67" rx="2.8" ry="2.3" fill-opacity=".21" transform="rotate(10 202.4 67)"/><ellipse cx="217.7" cy="50.8" rx="2.5" ry="2" fill-opacity=".16"/><ellipse cx="175.4" cy="72.7" rx="2" ry="1.6" fill-opacity=".24"/><ellipse cx="190.7" cy="74.1" rx="2" ry="1.7" fill-opacity=".24" transform="rotate(-30 190.7 74.1)"/><ellipse cx="181.1" cy="72.9" rx="2.4" ry="2" fill-opacity=".23" transform="rotate(-30 181.1 72.9)"/><ellipse cx="157.7" cy="74" rx="2.9" ry="2.3" fill-opacity=".3" transform="rotate(20 157.7 74)"/><ellipse cx="185.5" cy="25.3" rx="2.6" ry="2.1" fill-opacity=".23"/><ellipse cx="177.5" cy="28.1" rx="2.2" ry="1.8" fill-opacity=".18" transform="rotate(-10 177.5 28.1)"/><ellipse cx="207.7" cy="64.7" rx="2" ry="1.7" fill-opacity=".22" transform="rotate(5 207.7 64.7)"/><ellipse cx="201.7" cy="39" rx="2.8" ry="2.3" fill-opacity=".24" transform="rotate(-20 201.7 39)"/><ellipse cx="182.5" cy="42.2" rx="2.4" ry="1.9" fill-opacity=".17" transform="rotate(30 182.5 42.2)"/><ellipse cx="199.6" cy="59.8" rx="2.2" ry="1.8" fill-opacity=".17" transform="rotate(-30 199.6 59.8)"/><ellipse cx="167.9" cy="31.8" rx="2.4" ry="2" fill-opacity=".17" transform="rotate(20 167.9 31.8)"/><ellipse cx="190.6" cy="59.4" rx="2" ry="1.6" fill-opacity=".21" transform="rotate(20 190.6 59.4)"/><ellipse cx="199.5" cy="13.4" rx="2.9" ry="2.4" fill-opacity=".27" transform="rotate(30 199.5 13.4)"/><ellipse cx="200.2" cy="16.5" rx="3.1" ry="2.5" fill-opacity=".17"/><ellipse cx="164.7" cy="52.7" rx="2.8" ry="2.3" fill-opacity=".18"/><ellipse cx="213.9" cy="64.1" rx="2.3" ry="1.8" fill-opacity=".19" transform="rotate(-10 213.9 64.1)"/><ellipse cx="172.6" cy="72.6" rx="2.8" ry="2.3" fill-opacity=".14" transform="rotate(-20 172.6 72.6)"/><ellipse cx="182" cy="63.4" rx=".7" ry=".7" fill-opacity=".14"/><ellipse cx="183" cy="51.5" rx=".7" ry=".7" fill-opacity=".13"/><ellipse cx="51.1" cy="16.1" rx=".7" ry=".7" fill-opacity=".12"/><ellipse cx="86.5" cy="4" rx=".7" ry=".7" fill-opacity=".15"/><ellipse cx="171.5" cy="71" rx=".7" ry=".7" fill-opacity=".14"/><ellipse cx="196.3" cy="5.2" rx=".7" ry=".7" fill-opacity=".15"/><ellipse cx="84.3" cy="59.8" rx=".7" ry=".7" fill-opacity=".06"/><ellipse cx="208.8" cy="63.4" rx=".7" ry=".7" fill-opacity=".05"/><ellipse cx="24.2" cy="59.2" rx=".7" ry=".7" fill-opacity=".13"/><ellipse cx="215.3" cy="26.8" rx=".7" ry=".7" fill-opacity=".09"/><ellipse cx="83.5" cy="71.6" rx=".7" ry=".7" fill-opacity=".15"/><ellipse cx="119.8" cy="22.9" rx=".7" ry=".7" fill-opacity=".09"/><ellipse cx="166.5" cy="38.9" rx=".7" ry=".7" fill-opacity=".15"/><ellipse cx="28.1" cy="50" rx=".7" ry=".7" fill-opacity=".13"/><ellipse cx="110.1" cy="19.8" rx=".7" ry=".7" fill-opacity=".1"/><ellipse cx="209.8" cy="32.2" rx=".7" ry=".7" fill-opacity=".07"/><ellipse cx="99.5" cy="51.2" rx=".7" ry=".7" fill-opacity=".11"/><ellipse cx="111.3" cy="43.8" rx=".7" ry=".7" fill-opacity=".15"/><ellipse cx="130.5" cy="7" rx=".7" ry=".7" fill-opacity=".07"/><ellipse cx="143.3" cy="24.3" rx=".7" ry=".7" fill-opacity=".06"/><ellipse cx="126.1" cy="48.4" rx=".7" ry=".7" fill-opacity=".05"/><ellipse cx="14.4" cy="49.2" rx=".7" ry=".7" fill-opacity=".07"/><ellipse cx="206.4" cy="48.3" rx=".7" ry=".7" fill-opacity=".15"/><ellipse cx="159.9" cy="29.1" rx=".7" ry=".7" fill-opacity=".15"/><ellipse cx="120.8" cy="15.1" rx=".7" ry=".7" fill-opacity=".06"/><ellipse cx="75.9" cy="62.5" rx=".7" ry=".7" fill-opacity=".1"/><ellipse cx="28.3" cy="73.9" rx=".7" ry=".7" fill-opacity=".1"/><ellipse cx="90.8" cy="64.4" rx=".7" ry=".7" fill-opacity=".09"/><ellipse cx="70" cy="65.5" rx=".7" ry=".7" fill-opacity=".09"/><ellipse cx="125.1" cy="73.2" rx=".7" ry=".7" fill-opacity=".11"/><ellipse cx="163.4" cy="57.4" rx=".7" ry=".7" fill-opacity=".15"/><ellipse cx="101.6" cy="38.1" rx=".7" ry=".7" fill-opacity=".15"/><ellipse cx="131.9" cy="58.3" rx=".7" ry=".7" fill-opacity=".12"/><ellipse cx="130.5" cy="51" rx=".7" ry=".7" fill-opacity=".1"/><ellipse cx="83.8" cy="60.5" rx=".7" ry=".7" fill-opacity=".15"/><ellipse cx="18.6" cy="34.7" rx=".7" ry=".7" fill-opacity=".14"/><ellipse cx="207.5" cy="7.4" rx=".7" ry=".7" fill-opacity=".09"/><ellipse cx="24" cy="33.5" rx=".7" ry=".7" fill-opacity=".11"/><ellipse cx="106.6" cy="36.1" rx=".7" ry=".7" fill-opacity=".06"/><ellipse cx="25" cy="43.1" rx=".7" ry=".7" fill-opacity=".08"/><ellipse cx="34.3" cy="61.6" rx=".7" ry=".7" fill-opacity=".06"/><ellipse cx="23.2" cy="30.9" rx=".7" ry=".7" fill-opacity=".12"/><ellipse cx="12.9" cy="35.9" rx=".7" ry=".7" fill-opacity=".07"/><ellipse cx="117.7" cy="60.1" rx=".7" ry=".7" fill-opacity=".14"/><ellipse cx="201.1" cy="30" rx=".7" ry=".7" fill-opacity=".12"/><ellipse cx="218.4" cy="75.4" rx=".7" ry=".7" fill-opacity=".15"/><ellipse cx="116.5" cy="75" rx=".7" ry=".7" fill-opacity=".05"/><ellipse cx="37.5" cy="30.4" rx=".7" ry=".7" fill-opacity=".14"/><ellipse cx="128.5" cy="4.1" rx=".7" ry=".7" fill-opacity=".09"/><ellipse cx="124.3" cy="7.4" rx=".7" ry=".7" fill-opacity=".16"/><ellipse cx="157.4" cy="36.3" rx=".7" ry=".7" fill-opacity=".07"/><ellipse cx="148.1" cy="28.6" rx=".7" ry=".7" fill-opacity=".11"/><ellipse cx="152.1" cy="46.5" rx=".7" ry=".7" fill-opacity=".16"/><ellipse cx="20.2" cy="74.6" rx=".7" ry=".7" fill-opacity=".06"/><ellipse cx="217.9" cy="51.5" rx=".7" ry=".7" fill-opacity=".08"/><ellipse cx="34.7" cy="68.9" rx=".7" ry=".7" fill-opacity=".15"/><ellipse cx="65" cy="40.2" rx=".7" ry=".7" fill-opacity=".05"/><ellipse cx="26.5" cy="4.4" rx=".7" ry=".7" fill-opacity=".09"/><ellipse cx="31.3" cy="74.8" rx=".7" ry=".7" fill-opacity=".16"/><ellipse cx="127.2" cy="17.7" rx=".7" ry=".7" fill-opacity=".06"/><ellipse cx="145.6" cy="16.4" rx=".7" ry=".7" fill-opacity=".12"/><ellipse cx="188.1" cy="44.9" rx=".7" ry=".7" fill-opacity=".08"/><ellipse cx="187.6" cy="63.1" rx=".7" ry=".7" fill-opacity=".12"/><ellipse cx="162.9" cy="56.7" rx=".7" ry=".7" fill-opacity=".12"/><ellipse cx="77.4" cy="66.4" rx=".7" ry=".7" fill-opacity=".08"/><ellipse cx="132.6" cy="25.9" rx=".7" ry=".7" fill-opacity=".08"/><ellipse cx="193.7" cy="55.9" rx=".7" ry=".7" fill-opacity=".1"/><ellipse cx="9.2" cy="62.9" rx=".7" ry=".7" fill-opacity=".12"/><ellipse cx="65.5" cy="71.2" rx=".7" ry=".7" fill-opacity=".13"/><ellipse cx="93.4" cy="30.7" rx=".7" ry=".7" fill-opacity=".1"/><ellipse cx="121.3" cy="34" rx=".7" ry=".7" fill-opacity=".13"/><ellipse cx="119.9" cy="25.3" rx=".7" ry=".7" fill-opacity=".1"/><ellipse cx="65.2" cy="29.3" rx=".7" ry=".7" fill-opacity=".16"/><ellipse cx="186.3" cy="79" rx=".7" ry=".7" fill-opacity=".14"/><ellipse cx="44.4" cy="23.1" rx=".7" ry=".7" fill-opacity=".13"/><ellipse cx="30.4" cy="16.4" rx=".7" ry=".7" fill-opacity=".13"/><ellipse cx="70.5" cy="19" rx=".7" ry=".7" fill-opacity=".15"/><ellipse cx="189.8" cy="71.9" rx=".7" ry=".7" fill-opacity=".1"/><ellipse cx="96.9" cy="69.2" rx=".7" ry=".7" fill-opacity=".06"/><ellipse cx="217.4" cy="14.7" rx=".7" ry=".7" fill-opacity=".11"/><ellipse cx="44.7" cy="40.6" rx=".7" ry=".7" fill-opacity=".12"/><ellipse cx="59.6" cy="64.9" rx=".7" ry=".7" fill-opacity=".12"/><ellipse cx="76.2" cy="13.1" rx=".7" ry=".7" fill-opacity=".06"/><ellipse cx="79.4" cy="25.2" rx=".7" ry=".7" fill-opacity=".08"/><ellipse cx="203.1" cy="28.2" rx=".7" ry=".7" fill-opacity=".14"/><ellipse cx="128.1" cy="16.8" rx=".7" ry=".7" fill-opacity=".08"/><ellipse cx="112.1" cy="62.8" rx=".7" ry=".7" fill-opacity=".16"/><ellipse cx="224.9" cy="50.7" rx=".7" ry=".7" fill-opacity=".1"/><ellipse cx="87.2" cy="78.4" rx=".7" ry=".7" fill-opacity=".09"/><ellipse cx="165.5" cy="63.4" rx=".7" ry=".7" fill-opacity=".09"/><ellipse cx="6.9" cy="64.4" rx=".7" ry=".7" fill-opacity=".08"/><ellipse cx="33.7" cy="65.2" rx=".7" ry=".7" fill-opacity=".07"/><ellipse cx="144.8" cy="19.3" rx=".7" ry=".7" fill-opacity=".13"/><ellipse cx="92.5" cy="58.3" rx=".7" ry=".7" fill-opacity=".13"/><ellipse cx="72.6" cy="49.9" rx=".7" ry=".7" fill-opacity=".14"/><ellipse cx="88.3" cy="52" rx=".7" ry=".7" fill-opacity=".15"/><ellipse cx="135" cy="5.4" rx=".7" ry=".7" fill-opacity=".06"/><ellipse cx="129.1" cy="42.4" rx=".7" ry=".7" fill-opacity=".06"/><ellipse cx="21.1" cy="11.1" rx=".7" ry=".7" fill-opacity=".14"/><ellipse cx="74" cy="29.5" rx=".7" ry=".7" fill-opacity=".14"/><ellipse cx="30.4" cy="39.9" rx=".7" ry=".7" fill-opacity=".06"/><ellipse cx="195.4" cy="38.7" rx=".7" ry=".7" fill-opacity=".11"/><ellipse cx="87.7" cy="10.5" rx=".7" ry=".7" fill-opacity=".16"/><ellipse cx="40.2" cy="65.7" rx=".7" ry=".7" fill-opacity=".07"/><ellipse cx="155.2" cy="33.6" rx=".7" ry=".7" fill-opacity=".09"/><ellipse cx="58.3" cy="63.5" rx=".7" ry=".7" fill-opacity=".07"/><ellipse cx="124.6" cy="51.6" rx=".7" ry=".7" fill-opacity=".06"/><ellipse cx="54.1" cy="32.7" rx=".7" ry=".7" fill-opacity=".16"/><ellipse cx="4.9" cy="36.6" rx=".7" ry=".7" fill-opacity=".11"/><ellipse cx="223" cy="51.1" rx=".7" ry=".7" fill-opacity=".08"/><ellipse cx="110.6" cy="67.7" rx=".7" ry=".7" fill-opacity=".13"/><ellipse cx="41.3" cy="19.8" rx=".7" ry=".7" fill-opacity=".11"/><ellipse cx="177.7" cy="75.1" rx=".7" ry=".7" fill-opacity=".06"/><ellipse cx="188" cy="52.6" rx=".7" ry=".7" fill-opacity=".13"/><ellipse cx="93.2" cy="14" rx=".7" ry=".7" fill-opacity=".08"/><ellipse cx="66.7" cy="37.3" rx=".7" ry=".7" fill-opacity=".1"/><ellipse cx="131.8" cy="67.2" rx=".7" ry=".7" fill-opacity=".1"/><ellipse cx="190.3" cy="61.3" rx=".7" ry=".7" fill-opacity=".09"/><ellipse cx="151.4" cy="67.7" rx=".7" ry=".7" fill-opacity=".11"/><ellipse cx="114" cy="49" rx=".7" ry=".7" fill-opacity=".16"/><ellipse cx="210.1" cy="35.1" rx=".7" ry=".7" fill-opacity=".11"/><ellipse cx="180.1" cy="35.4" rx=".7" ry=".7" fill-opacity=".08"/><ellipse cx="123.4" cy="51.4" rx=".7" ry=".7" fill-opacity=".07"/><ellipse cx="126.4" cy="22.5" rx=".7" ry=".7" fill-opacity=".1"/><ellipse cx="52.2" cy="20.7" rx=".7" ry=".7" fill-opacity=".05"/><ellipse cx="216.1" cy="26.3" rx=".7" ry=".7" fill-opacity=".12"/><ellipse cx="218.2" cy="56.5" rx=".7" ry=".7" fill-opacity=".09"/><ellipse cx="9.8" cy="70.8" rx=".7" ry=".7" fill-opacity=".12"/><ellipse cx="107.4" cy="34.6" rx=".7" ry=".7" fill-opacity=".09"/><ellipse cx="12.8" cy="68.1" rx=".7" ry=".7" fill-opacity=".12"/><ellipse cx="98.1" cy="38.5" rx=".7" ry=".7" fill-opacity=".09"/><ellipse cx="198.5" cy="60.9" rx=".7" ry=".7" fill-opacity=".11"/><ellipse cx="142" cy="22.2" rx=".7" ry=".7" fill-opacity=".08"/><ellipse cx="100.6" cy="9.5" rx=".7" ry=".7" fill-opacity=".07"/><ellipse cx="218.7" cy="2.5" rx=".7" ry=".7" fill-opacity=".09"/><ellipse cx="214.6" cy="17.1" rx=".7" ry=".7" fill-opacity=".06"/><ellipse cx="8.4" cy="12.4" rx=".7" ry=".7" fill-opacity=".14"/><ellipse cx="170.1" cy="59.2" rx=".7" ry=".7" fill-opacity=".06"/><ellipse cx="104.5" cy="68.7" rx=".7" ry=".7" fill-opacity=".08"/><ellipse cx="61.3" cy="49.8" rx=".7" ry=".7" fill-opacity=".13"/><ellipse cx="18.4" cy="76" rx=".7" ry=".7" fill-opacity=".11"/><ellipse cx="122.6" cy="29.6" rx=".7" ry=".7" fill-opacity=".05"/><ellipse cx="75.8" cy="28.7" rx=".7" ry=".7" fill-opacity=".14"/><ellipse cx="161.6" cy="4.8" rx=".7" ry=".7" fill-opacity=".13"/><ellipse cx="15.2" cy="27.8" rx=".7" ry=".7" fill-opacity=".15"/><ellipse cx="119.3" cy="48.4" rx=".7" ry=".7" fill-opacity=".15"/><ellipse cx="62.3" cy="3.7" rx=".7" ry=".7" fill-opacity=".09"/><ellipse cx="141.9" cy="18.4" rx=".7" ry=".7" fill-opacity=".14"/><ellipse cx="27.1" cy="22.3" rx=".7" ry=".7" fill-opacity=".13"/><ellipse cx="108.4" cy="21.7" rx=".7" ry=".7" fill-opacity=".08"/></g><g id="zg"><ellipse cx="24.5" cy="5" rx="1.8" ry="1.4" fill-opacity=".21" transform="rotate(30 24.5 5)"/><ellipse cx="22.7" cy="5.8" rx="1.1" ry=".7" fill-opacity=".15" transform="rotate(30 22.7 5.8)"/><ellipse cx="26.3" cy="4.7" rx="1" ry=".6" fill-opacity=".09"/><ellipse cx="26.6" cy="4.2" rx=".8" ry=".5" fill-opacity=".18" transform="rotate(5 26.6 4.2)"/><ellipse cx="34.5" cy="11" rx="2.3" ry="1.5" fill-opacity=".37" transform="rotate(-10 34.5 11)"/><ellipse cx="37.5" cy="11" rx="1.1" ry=".8" fill-opacity=".09"/><ellipse cx="33.3" cy="12.8" rx=".8" ry=".5" fill-opacity=".16"/><ellipse cx="40" cy="15.5" rx="1.5" ry="1.4" fill-opacity=".18"/><ellipse cx="42.4" cy="17.4" rx=".9" ry=".6" fill-opacity=".09" transform="rotate(-20 42.4 17.4)"/><ellipse cx="44" cy="19" rx="1.1" ry="1.1" fill-opacity=".18"/><ellipse cx="42.8" cy="17.3" rx="1.1" ry=".7" fill-opacity=".04" transform="rotate(30 42.8 17.3)"/><ellipse cx="58" cy="21.5" rx="1.5" ry="1.5" fill-opacity=".25"/><ellipse cx="58.1" cy="19.1" rx="1" ry=".7" fill-opacity=".07" transform="rotate(-5 58.1 19.1)"/><ellipse cx="54.9" cy="21.9" rx=".8" ry=".5" fill-opacity=".15"/><ellipse cx="56.1" cy="22.5" rx=".9" ry=".6" fill-opacity=".11" transform="rotate(-20 56.1 22.5)"/><ellipse cx="59" cy="28.5" rx="3.4" ry="2.1" fill-opacity=".33" transform="rotate(5 59 28.5)"/><ellipse cx="59.9" cy="27.2" rx="1.1" ry=".7" fill-opacity=".12"/><ellipse cx="56.5" cy="42" rx="2.9" ry="2.1" fill-opacity=".24"/><ellipse cx="56.5" cy="40.4" rx="1" ry=".7" fill-opacity=".16" transform="rotate(30 56.5 40.4)"/><ellipse cx="57.3" cy="43.3" rx=".9" ry=".6" fill-opacity=".17" transform="rotate(5 57.3 43.3)"/><ellipse cx="54.8" cy="41" rx=".8" ry=".5" fill-opacity=".12" transform="rotate(5 54.8 41)"/><ellipse cx="45" cy="45.5" rx="1.7" ry="1.1" fill-opacity=".31"/><ellipse cx="45.8" cy="46.6" rx="1" ry=".6" fill-opacity=".09" transform="rotate(20 45.8 46.6)"/><ellipse cx="46.6" cy="44.8" rx="1.1" ry=".7" fill-opacity=".06" transform="rotate(30 46.6 44.8)"/><ellipse cx="47" cy="35" rx="1.1" ry="1.1" fill-opacity=".18"/><ellipse cx="47.1" cy="37.6" rx=".8" ry=".5" fill-opacity=".06"/><ellipse cx="47.4" cy="33" rx="1.1" ry=".7" fill-opacity=".04" transform="rotate(-10 47.4 33)"/><ellipse cx="46.4" cy="36.8" rx=".8" ry=".5" fill-opacity=".04"/><ellipse cx="42" cy="37" rx="1.1" ry="1.1" fill-opacity=".24"/><ellipse cx="41.9" cy="35" rx=".8" ry=".6" fill-opacity=".1" transform="rotate(-10 41.9 35)"/><ellipse cx="37" cy="39" rx="1.1" ry="1.1" fill-opacity=".21"/><ellipse cx="40.2" cy="38.2" rx=".9" ry=".6" fill-opacity=".05" transform="rotate(20 40.2 38.2)"/><ellipse cx="31.5" cy="38" rx="1.1" ry="1.1" fill-opacity=".22"/><ellipse cx="28.7" cy="36.8" rx=".9" ry=".6" fill-opacity=".06"/><ellipse cx="31.7" cy="36.8" rx="1" ry=".7" fill-opacity=".06" transform="rotate(-5 31.7 36.8)"/><ellipse cx="33" cy="49" rx="1.1" ry="1.1" fill-opacity=".19"/><ellipse cx="33" cy="51.7" rx=".9" ry=".6" fill-opacity=".1"/><ellipse cx="33.7" cy="47.7" rx=".8" ry=".5" fill-opacity=".05" transform="rotate(20 33.7 47.7)"/><ellipse cx="31.1" cy="47.1" rx=".8" ry=".5" fill-opacity=".04" transform="rotate(30 31.1 47.1)"/><ellipse cx="23" cy="59" rx="1.1" ry="1.1" fill-opacity=".09"/><ellipse cx="20.4" cy="60.6" rx="1" ry=".7" fill-opacity=".04" transform="rotate(10 20.4 60.6)"/><ellipse cx="23.9" cy="61.3" rx="1.1" ry=".7" fill-opacity=".05"/><ellipse cx="24" cy="77.5" rx="1.1" ry="1.1" fill-opacity=".17"/><ellipse cx="24.4" cy="76.3" rx=".9" ry=".6" fill-opacity=".05" transform="rotate(30 24.4 76.3)"/><ellipse cx="63" cy="60" rx="1.1" ry="1.1" fill-opacity=".14"/><ellipse cx="63.4" cy="62.7" rx="1" ry=".7" fill-opacity=".07" transform="rotate(20 63.4 62.7)"/><ellipse cx="64.6" cy="62" rx="1.2" ry=".8" fill-opacity=".11"/><ellipse cx="60.4" cy="60.1" rx="1" ry=".7" fill-opacity=".05" transform="rotate(-20 60.4 60.1)"/><ellipse cx="69" cy="57" rx="1.1" ry="1.1" fill-opacity=".16"/><ellipse cx="67.9" cy="59.2" rx="1" ry=".6" fill-opacity=".05"/><ellipse cx="70.4" cy="54.5" rx=".9" ry=".6" fill-opacity=".09"/><ellipse cx="70.3" cy="57.8" rx=".8" ry=".5" fill-opacity=".11" transform="rotate(5 70.3 57.8)"/><ellipse cx="63" cy="72" rx="1.4" ry="1.4" fill-opacity=".21"/><ellipse cx="65.7" cy="71.3" rx="1.1" ry=".7" fill-opacity=".09" transform="rotate(-30 65.7 71.3)"/><ellipse cx="64.2" cy="71.1" rx=".7" ry=".5" fill-opacity=".06" transform="rotate(20 64.2 71.1)"/><ellipse cx="62.6" cy="74.1" rx=".9" ry=".6" fill-opacity=".1" transform="rotate(-10 62.6 74.1)"/><ellipse cx="68" cy="71" rx="1.4" ry="1.4" fill-opacity=".21"/><ellipse cx="65.2" cy="71.2" rx="1.2" ry=".8" fill-opacity=".06" transform="rotate(-10 65.2 71.2)"/><ellipse cx="65.1" cy="71.1" rx="1.1" ry=".8" fill-opacity=".12"/><ellipse cx="73" cy="39" rx="1.1" ry="1.1" fill-opacity=".23"/><ellipse cx="72.7" cy="36.8" rx="1.1" ry=".7" fill-opacity=".06" transform="rotate(-10 72.7 36.8)"/><ellipse cx="70.9" cy="39" rx=".9" ry=".6" fill-opacity=".09"/><ellipse cx="74.5" cy="38.2" rx=".8" ry=".5" fill-opacity=".11" transform="rotate(-5 74.5 38.2)"/><ellipse cx="63" cy="7" rx="1.1" ry="1.1" fill-opacity=".08"/><ellipse cx="64.8" cy="7.8" rx="1.2" ry=".8" fill-opacity=".05" transform="rotate(-30 64.8 7.8)"/><ellipse cx="78" cy="22" rx="1.4" ry="1.4" fill-opacity=".2"/><ellipse cx="77.5" cy="20.5" rx=".9" ry=".6" fill-opacity=".14" transform="rotate(-30 77.5 20.5)"/><ellipse cx="88" cy="20" rx="1.7" ry="1.5" fill-opacity=".3" transform="rotate(-10 88 20)"/><ellipse cx="87.1" cy="21.4" rx="1.1" ry=".8" fill-opacity=".12"/><ellipse cx="93" cy="21" rx="1.1" ry="1.1" fill-opacity=".2"/><ellipse cx="91.9" cy="18.8" rx=".8" ry=".5" fill-opacity=".08" transform="rotate(30 91.9 18.8)"/><ellipse cx="90.3" cy="21.6" rx="1" ry=".7" fill-opacity=".12" transform="rotate(-20 90.3 21.6)"/><ellipse cx="95.8" cy="22.6" rx=".8" ry=".5" fill-opacity=".1" transform="rotate(30 95.8 22.6)"/><ellipse cx="99" cy="19" rx="1.1" ry="1.1" fill-opacity=".32"/><ellipse cx="101.5" cy="19.2" rx=".7" ry=".5" fill-opacity=".12" transform="rotate(-20 101.5 19.2)"/><ellipse cx="99.1" cy="20.2" rx="1" ry=".7" fill-opacity=".06" transform="rotate(-10 99.1 20.2)"/><ellipse cx="103" cy="20" rx="1.1" ry="1.1" fill-opacity=".25"/><ellipse cx="101.8" cy="21" rx="1.1" ry=".7" fill-opacity=".13" transform="rotate(5 101.8 21)"/><ellipse cx="111" cy="18" rx="1.4" ry="1.4" fill-opacity=".22"/><ellipse cx="108.2" cy="19.3" rx=".8" ry=".6" fill-opacity=".16" transform="rotate(30 108.2 19.3)"/><ellipse cx="123" cy="18" rx="1.7" ry="1.7" fill-opacity=".43"/><ellipse cx="124.1" cy="17.2" rx="1" ry=".7" fill-opacity=".14" transform="rotate(-10 124.1 17.2)"/><ellipse cx="122.9" cy="15.6" rx=".8" ry=".5" fill-opacity=".13"/><ellipse cx="129" cy="17" rx="1.1" ry="1.1" fill-opacity=".3"/><ellipse cx="126.1" cy="17.1" rx="1" ry=".7" fill-opacity=".07"/><ellipse cx="128.3" cy="19.2" rx=".7" ry=".5" fill-opacity=".15" transform="rotate(-30 128.3 19.2)"/><ellipse cx="129.7" cy="18.2" rx="1.1" ry=".7" fill-opacity=".09" transform="rotate(-5 129.7 18.2)"/><ellipse cx="133" cy="17" rx="1.1" ry="1.1" fill-opacity=".23"/><ellipse cx="130.1" cy="17.1" rx="1" ry=".7" fill-opacity=".06"/><ellipse cx="135.3" cy="16.1" rx=".9" ry=".6" fill-opacity=".15" transform="rotate(10 135.3 16.1)"/><ellipse cx="131.4" cy="16.8" rx="1.1" ry=".7" fill-opacity=".07"/><ellipse cx="140" cy="19" rx="1.4" ry="1.4" fill-opacity=".31"/><ellipse cx="138.1" cy="17.3" rx=".7" ry=".5" fill-opacity=".12" transform="rotate(-10 138.1 17.3)"/><ellipse cx="141.6" cy="17.6" rx=".7" ry=".5" fill-opacity=".08" transform="rotate(20 141.6 17.6)"/><ellipse cx="138.8" cy="17" rx="1" ry=".7" fill-opacity=".11"/><ellipse cx="149" cy="16" rx="1.4" ry="1.4" fill-opacity=".31"/><ellipse cx="152.2" cy="15" rx="1.1" ry=".7" fill-opacity=".08" transform="rotate(-10 152.2 15)"/><ellipse cx="89" cy="26" rx="1.1" ry="1.1" fill-opacity=".22"/><ellipse cx="91.2" cy="26.3" rx="1.1" ry=".7" fill-opacity=".08" transform="rotate(-10 91.2 26.3)"/><ellipse cx="86.7" cy="26" rx=".8" ry=".6" fill-opacity=".07" transform="rotate(5 86.7 26)"/><ellipse cx="86.1" cy="26.8" rx="1.2" ry=".8" fill-opacity=".09" transform="rotate(30 86.1 26.8)"/><ellipse cx="99" cy="24" rx="1.1" ry="1.1" fill-opacity=".22"/><ellipse cx="96" cy="23.4" rx=".9" ry=".6" fill-opacity=".04" transform="rotate(-20 96 23.4)"/><ellipse cx="96.6" cy="25" rx=".7" ry=".5" fill-opacity=".08" transform="rotate(-20 96.6 25)"/><ellipse cx="105" cy="29" rx="1.1" ry="1.1" fill-opacity=".19"/><ellipse cx="101.7" cy="28.6" rx="1" ry=".6" fill-opacity=".06" transform="rotate(10 101.7 28.6)"/><ellipse cx="102.5" cy="30" rx="1.1" ry=".7" fill-opacity=".13" transform="rotate(-10 102.5 30)"/><ellipse cx="105" cy="30.9" rx=".9" ry=".6" fill-opacity=".09" transform="rotate(-10 105 30.9)"/><ellipse cx="113" cy="32" rx="2.3" ry="1.5" fill-opacity=".45" transform="rotate(30 113 32)"/><ellipse cx="113.8" cy="34.4" rx=".9" ry=".6" fill-opacity=".15" transform="rotate(-10 113.8 34.4)"/><ellipse cx="114.2" cy="33.2" rx=".8" ry=".5" fill-opacity=".09"/><ellipse cx="119" cy="27" rx="2.1" ry="1.8" fill-opacity=".53"/><ellipse cx="118.1" cy="29.4" rx=".9" ry=".6" fill-opacity=".22" transform="rotate(20 118.1 29.4)"/><ellipse cx="116.1" cy="26.2" rx="1" ry=".7" fill-opacity=".15"/><ellipse cx="120.5" cy="28.3" rx=".9" ry=".6" fill-opacity=".18"/><ellipse cx="102" cy="33" rx="2.1" ry="1.4" fill-opacity=".44" transform="rotate(10 102 33)"/><ellipse cx="104" cy="31.2" rx=".9" ry=".6" fill-opacity=".15" transform="rotate(-20 104 31.2)"/><ellipse cx="96" cy="35" rx="1.4" ry="1.4" fill-opacity=".3"/><ellipse cx="94.2" cy="34" rx="1.1" ry=".8" fill-opacity=".1" transform="rotate(-10 94.2 34)"/><ellipse cx="131" cy="29" rx="1.4" ry="1.4" fill-opacity=".22"/><ellipse cx="133.2" cy="30.3" rx="1" ry=".7" fill-opacity=".09" transform="rotate(-20 133.2 30.3)"/><ellipse cx="131.3" cy="27" rx=".7" ry=".5" fill-opacity=".18"/><ellipse cx="132" cy="32.5" rx="1.4" ry="1.4" fill-opacity=".29"/><ellipse cx="132.6" cy="33.8" rx=".7" ry=".5" fill-opacity=".12" transform="rotate(-30 132.6 33.8)"/><ellipse cx="144" cy="25" rx="2.3" ry="2.3" fill-opacity=".35"/><ellipse cx="143.1" cy="24" rx="1.1" ry=".7" fill-opacity=".18" transform="rotate(-30 143.1 24)"/><ellipse cx="140.6" cy="25" rx=".9" ry=".6" fill-opacity=".21" transform="rotate(20 140.6 25)"/><ellipse cx="142.5" cy="26.3" rx="1.1" ry=".7" fill-opacity=".19"/><ellipse cx="145" cy="33" rx="2.1" ry="2.1" fill-opacity=".45"/><ellipse cx="143.2" cy="33.6" rx="1.1" ry=".8" fill-opacity=".28" transform="rotate(30 143.2 33.6)"/><ellipse cx="129" cy="43" rx="1.4" ry="1.4" fill-opacity=".33"/><ellipse cx="129" cy="41.2" rx=".8" ry=".5" fill-opacity=".06" transform="rotate(30 129 41.2)"/><ellipse cx="128.3" cy="41.4" rx="1.2" ry=".8" fill-opacity=".09" transform="rotate(30 128.3 41.4)"/><ellipse cx="130.8" cy="43.1" rx=".8" ry=".5" fill-opacity=".09" transform="rotate(30 130.8 43.1)"/><ellipse cx="126" cy="47" rx="1.1" ry="1.1" fill-opacity=".25"/><ellipse cx="123.5" cy="48.4" rx=".8" ry=".5" fill-opacity=".11"/><ellipse cx="127.7" cy="47.8" rx="1" ry=".7" fill-opacity=".05" transform="rotate(-20 127.7 47.8)"/><ellipse cx="123.2" cy="45.8" rx="1" ry=".6" fill-opacity=".07" transform="rotate(-10 123.2 45.8)"/><ellipse cx="145" cy="51" rx="1.7" ry="1.7" fill-opacity=".35"/><ellipse cx="146" cy="48.8" rx="1.1" ry=".8" fill-opacity=".15" transform="rotate(20 146 48.8)"/><ellipse cx="147.2" cy="51.5" rx="1.1" ry=".7" fill-opacity=".11" transform="rotate(30 147.2 51.5)"/><ellipse cx="138" cy="55" rx="1.7" ry="1.7" fill-opacity=".37"/><ellipse cx="138.5" cy="52.7" rx="1" ry=".6" fill-opacity=".09"/><ellipse cx="136.6" cy="53.1" rx=".9" ry=".6" fill-opacity=".12" transform="rotate(10 136.6 53.1)"/><ellipse cx="138" cy="58" rx="1.7" ry="1.7" fill-opacity=".3"/><ellipse cx="134.9" cy="58.2" rx=".8" ry=".5" fill-opacity=".14"/><ellipse cx="92" cy="50" rx=".9" ry=".9" fill-opacity=".11"/><ellipse cx="90.7" cy="48.4" rx=".8" ry=".6" fill-opacity=".06" transform="rotate(10 90.7 48.4)"/><ellipse cx="89.4" cy="51" rx="1" ry=".7" fill-opacity=".05" transform="rotate(-20 89.4 51)"/><ellipse cx="92" cy="59" rx=".9" ry=".9" fill-opacity=".11"/><ellipse cx="94.6" cy="59.6" rx="1" ry=".7" fill-opacity=".06"/><ellipse cx="130" cy="63" rx="1.4" ry="1.4" fill-opacity=".2"/><ellipse cx="130.5" cy="64.2" rx=".8" ry=".5" fill-opacity=".13"/><ellipse cx="129" cy="61.6" rx="1" ry=".7" fill-opacity=".12" transform="rotate(30 129 61.6)"/><ellipse cx="127.8" cy="62.7" rx=".9" ry=".6" fill-opacity=".14" transform="rotate(10 127.8 62.7)"/><ellipse cx="136" cy="65" rx="2.1" ry="1.8" fill-opacity=".48"/><ellipse cx="137.4" cy="66.4" rx="1.2" ry=".8" fill-opacity=".17" transform="rotate(-20 137.4 66.4)"/><ellipse cx="136" cy="62.7" rx="1.1" ry=".7" fill-opacity=".09"/><ellipse cx="140" cy="63" rx="1.4" ry="1.4" fill-opacity=".33"/><ellipse cx="138.9" cy="64.6" rx="1.2" ry=".8" fill-opacity=".08" transform="rotate(10 138.9 64.6)"/><ellipse cx="138.6" cy="61.8" rx=".8" ry=".6" fill-opacity=".15" transform="rotate(-20 138.6 61.8)"/><ellipse cx="88" cy="71" rx="2.3" ry="1.5" fill-opacity=".43"/><ellipse cx="90.3" cy="69.1" rx="1.1" ry=".7" fill-opacity=".2" transform="rotate(10 90.3 69.1)"/><ellipse cx="95" cy="72" rx="1.7" ry="1.5" fill-opacity=".33" transform="rotate(-5 95 72)"/><ellipse cx="95.4" cy="73.4" rx="1.2" ry=".8" fill-opacity=".14" transform="rotate(20 95.4 73.4)"/><ellipse cx="95.3" cy="70" rx=".7" ry=".5" fill-opacity=".16"/><ellipse cx="95.9" cy="73.2" rx=".9" ry=".6" fill-opacity=".07"/><ellipse cx="102" cy="67" rx="1.4" ry="1.4" fill-opacity=".2"/><ellipse cx="101.3" cy="68.8" rx="1.1" ry=".7" fill-opacity=".09" transform="rotate(10 101.3 68.8)"/><ellipse cx="101.8" cy="65.6" rx=".9" ry=".6" fill-opacity=".14" transform="rotate(30 101.8 65.6)"/><ellipse cx="104" cy="66.8" rx="1" ry=".7" fill-opacity=".1" transform="rotate(10 104 66.8)"/><ellipse cx="95" cy="65" rx="1.4" ry="1.4" fill-opacity=".31"/><ellipse cx="92.2" cy="64.6" rx="1" ry=".7" fill-opacity=".06" transform="rotate(-5 92.2 64.6)"/><ellipse cx="113" cy="71" rx="1.7" ry="1.5" fill-opacity=".23" transform="rotate(5 113 71)"/><ellipse cx="115.2" cy="71" rx=".8" ry=".5" fill-opacity=".09" transform="rotate(-10 115.2 71)"/><ellipse cx="119" cy="72" rx="1.4" ry="1.4" fill-opacity=".19"/><ellipse cx="120.2" cy="73.9" rx="1" ry=".7" fill-opacity=".17" transform="rotate(30 120.2 73.9)"/><ellipse cx="149" cy="74" rx="1.4" ry="1.4" fill-opacity=".32"/><ellipse cx="147.5" cy="73.1" rx=".8" ry=".5" fill-opacity=".13" transform="rotate(-5 147.5 73.1)"/><ellipse cx="201" cy="13" rx="2.9" ry="1.7" fill-opacity=".53" transform="rotate(5 201 13)"/><ellipse cx="198.6" cy="14.5" rx="1.1" ry=".8" fill-opacity=".31" transform="rotate(5 198.6 14.5)"/><ellipse cx="201.1" cy="14.7" rx=".9" ry=".6" fill-opacity=".26" transform="rotate(-5 201.1 14.7)"/><ellipse cx="202.7" cy="13" rx="1.2" ry=".8" fill-opacity=".3"/><ellipse cx="217" cy="22" rx="2.3" ry="2.3" fill-opacity=".57"/><ellipse cx="218.1" cy="24" rx="1.2" ry=".8" fill-opacity=".32" transform="rotate(30 218.1 24)"/><ellipse cx="199" cy="23" rx="1.4" ry="1.4" fill-opacity=".28"/><ellipse cx="195.9" cy="22.1" rx="1.2" ry=".8" fill-opacity=".21"/><ellipse cx="197.9" cy="22.2" rx="1.1" ry=".7" fill-opacity=".19" transform="rotate(20 197.9 22.2)"/><ellipse cx="198.7" cy="21.8" rx="1.1" ry=".8" fill-opacity=".22" transform="rotate(-30 198.7 21.8)"/><ellipse cx="168" cy="29" rx="2.5" ry="2.3" fill-opacity=".66" transform="rotate(-5 168 29)"/><ellipse cx="166" cy="28.2" rx="1" ry=".7" fill-opacity=".19" transform="rotate(20 166 28.2)"/><ellipse cx="174" cy="35" rx="2.5" ry="2.3" fill-opacity=".55" transform="rotate(10 174 35)"/><ellipse cx="171.5" cy="34.1" rx="1.2" ry=".8" fill-opacity=".2"/><ellipse cx="153" cy="35" rx="1.7" ry="1.7" fill-opacity=".28"/><ellipse cx="151.5" cy="33.3" rx="1.1" ry=".7" fill-opacity=".15" transform="rotate(-5 151.5 33.3)"/><ellipse cx="151.3" cy="36.5" rx="1.2" ry=".8" fill-opacity=".19" transform="rotate(-10 151.3 36.5)"/><ellipse cx="153" cy="16" rx="1.4" ry="1.4" fill-opacity=".3"/><ellipse cx="152.2" cy="18.5" rx="1" ry=".7" fill-opacity=".14" transform="rotate(10 152.2 18.5)"/><ellipse cx="152.2" cy="14.4" rx="1" ry=".7" fill-opacity=".15" transform="rotate(-5 152.2 14.4)"/><ellipse cx="161" cy="25" rx="1.4" ry="1.4" fill-opacity=".35"/><ellipse cx="163.6" cy="23.4" rx=".8" ry=".5" fill-opacity=".1"/><ellipse cx="162.8" cy="24.6" rx="1.2" ry=".8" fill-opacity=".11" transform="rotate(30 162.8 24.6)"/><ellipse cx="158.3" cy="25.3" rx=".8" ry=".6" fill-opacity=".1" transform="rotate(20 158.3 25.3)"/><ellipse cx="162" cy="42" rx="1.7" ry="1.7" fill-opacity=".38"/><ellipse cx="164.7" cy="40.6" rx="1" ry=".7" fill-opacity=".12" transform="rotate(30 164.7 40.6)"/><ellipse cx="162.7" cy="43.1" rx="1.1" ry=".7" fill-opacity=".17" transform="rotate(-30 162.7 43.1)"/><ellipse cx="160.2" cy="40.3" rx="1.1" ry=".7" fill-opacity=".24" transform="rotate(-20 160.2 40.3)"/><ellipse cx="167" cy="45" rx="1.7" ry="1.7" fill-opacity=".4"/><ellipse cx="166.2" cy="43.2" rx=".7" ry=".5" fill-opacity=".13"/><ellipse cx="167.9" cy="47.1" rx="1.2" ry=".8" fill-opacity=".24"/><ellipse cx="168.5" cy="43.4" rx="1" ry=".7" fill-opacity=".17" transform="rotate(-30 168.5 43.4)"/><ellipse cx="172" cy="54" rx="2.3" ry="2.1" fill-opacity=".45"/><ellipse cx="174.5" cy="53.5" rx="1" ry=".6" fill-opacity=".13" transform="rotate(10 174.5 53.5)"/><ellipse cx="174.6" cy="52.4" rx=".8" ry=".5" fill-opacity=".26" transform="rotate(-5 174.6 52.4)"/><ellipse cx="154" cy="48" rx="1.4" ry="1.4" fill-opacity=".25"/><ellipse cx="155.3" cy="49.9" rx="1.1" ry=".7" fill-opacity=".11"/><ellipse cx="157.1" cy="47.3" rx="1" ry=".6" fill-opacity=".16"/><ellipse cx="155.1" cy="49.6" rx="1.1" ry=".7" fill-opacity=".09"/><ellipse cx="182" cy="43" rx="1.7" ry="1.7" fill-opacity=".32"/><ellipse cx="184.1" cy="42.3" rx="1" ry=".7" fill-opacity=".13" transform="rotate(30 184.1 42.3)"/><ellipse cx="190" cy="38" rx="1.7" ry="1.7" fill-opacity=".43"/><ellipse cx="189.1" cy="36.7" rx="1" ry=".6" fill-opacity=".11"/><ellipse cx="194" cy="38" rx="1.4" ry="1.4" fill-opacity=".31"/><ellipse cx="197" cy="37.5" rx=".9" ry=".6" fill-opacity=".14" transform="rotate(-5 197 37.5)"/><ellipse cx="193" cy="57" rx="2.9" ry="2.5" fill-opacity=".45" transform="rotate(5 193 57)"/><ellipse cx="194.4" cy="56.3" rx="1.1" ry=".7" fill-opacity=".28" transform="rotate(-5 194.4 56.3)"/><ellipse cx="194.5" cy="58.6" rx=".8" ry=".5" fill-opacity=".25" transform="rotate(5 194.5 58.6)"/><ellipse cx="191" cy="58" rx=".9" ry=".6" fill-opacity=".18" transform="rotate(10 191 58)"/><ellipse cx="187" cy="68" rx="2.5" ry="2.3" fill-opacity=".44"/><ellipse cx="186" cy="67" rx="1.1" ry=".7" fill-opacity=".23" transform="rotate(-30 186 67)"/><ellipse cx="209" cy="36" rx="1.7" ry="1.7" fill-opacity=".4"/><ellipse cx="206.7" cy="35.1" rx=".8" ry=".6" fill-opacity=".24" transform="rotate(10 206.7 35.1)"/><ellipse cx="206" cy="37" rx="1.1" ry=".8" fill-opacity=".24" transform="rotate(-20 206 37)"/><ellipse cx="217" cy="38" rx="1.7" ry="1.7" fill-opacity=".37"/><ellipse cx="217.1" cy="36.3" rx=".9" ry=".6" fill-opacity=".18" transform="rotate(-30 217.1 36.3)"/><ellipse cx="216.6" cy="40.2" rx="1.2" ry=".8" fill-opacity=".21" transform="rotate(-30 216.6 40.2)"/><ellipse cx="215" cy="49" rx="2.3" ry="2.3" fill-opacity=".6"/><ellipse cx="214.1" cy="50.4" rx=".8" ry=".6" fill-opacity=".21" transform="rotate(10 214.1 50.4)"/><ellipse cx="211.8" cy="48.2" rx=".8" ry=".5" fill-opacity=".23" transform="rotate(20 211.8 48.2)"/><ellipse cx="219" cy="53" rx="1.4" ry="1.4" fill-opacity=".43"/><ellipse cx="217.6" cy="53.8" rx="1" ry=".6" fill-opacity=".14" transform="rotate(-5 217.6 53.8)"/><ellipse cx="216.5" cy="51.2" rx="1.1" ry=".7" fill-opacity=".16" transform="rotate(5 216.5 51.2)"/><ellipse cx="219.6" cy="51.5" rx="1.1" ry=".7" fill-opacity=".1" transform="rotate(5 219.6 51.5)"/><ellipse cx="161" cy="59" rx="1.7" ry="1.7" fill-opacity=".3"/><ellipse cx="158.8" cy="57.7" rx="1.1" ry=".7" fill-opacity=".19"/><ellipse cx="160.7" cy="60.3" rx="1" ry=".7" fill-opacity=".15" transform="rotate(-20 160.7 60.3)"/><ellipse cx="168" cy="67" rx="1.7" ry="1.7" fill-opacity=".45"/><ellipse cx="168.1" cy="64.4" rx="1.2" ry=".8" fill-opacity=".17" transform="rotate(30 168.1 64.4)"/><ellipse cx="171.2" cy="68" rx="1.1" ry=".7" fill-opacity=".09" transform="rotate(-10 171.2 68)"/><ellipse cx="169.2" cy="66.2" rx="1" ry=".6" fill-opacity=".19" transform="rotate(10 169.2 66.2)"/><ellipse cx="166" cy="74" rx="1.7" ry="1.7" fill-opacity=".46"/><ellipse cx="165.2" cy="71.4" rx="1" ry=".7" fill-opacity=".13" transform="rotate(20 165.2 71.4)"/><ellipse cx="168.8" cy="74.7" rx=".9" ry=".6" fill-opacity=".14" transform="rotate(-10 168.8 74.7)"/><ellipse cx="206" cy="66" rx="1.4" ry="1.4" fill-opacity=".36"/><ellipse cx="203.1" cy="64.9" rx="1" ry=".6" fill-opacity=".11"/><ellipse cx="216" cy="65" rx="1.7" ry="1.7" fill-opacity=".35"/><ellipse cx="218" cy="64.8" rx="1.1" ry=".7" fill-opacity=".22" transform="rotate(30 218 64.8)"/><ellipse cx="215" cy="77" rx="1.4" ry="1.4" fill-opacity=".32"/><ellipse cx="211.7" cy="77.4" rx=".8" ry=".5" fill-opacity=".21" transform="rotate(-10 211.7 77.4)"/><ellipse cx="213.6" cy="78.7" rx=".9" ry=".6" fill-opacity=".1" transform="rotate(20 213.6 78.7)"/><ellipse cx="53.9" cy="23.1" rx="1.3" ry=".6" fill-opacity=".1" transform="rotate(10 53.9 23.1)"/><ellipse cx="70.3" cy="32.1" rx="1.4" ry="1" fill-opacity=".1"/><ellipse cx="40.5" cy="13.7" rx="1" ry=".6" fill-opacity=".08" transform="rotate(10 40.5 13.7)"/><ellipse cx="25.1" cy="4.9" rx="1.3" ry=".8" fill-opacity=".1"/><ellipse cx="59.7" cy="26.6" rx="1.5" ry=".7" fill-opacity=".22" transform="rotate(5 59.7 26.6)"/><ellipse cx="31.8" cy="12.9" rx="1.4" ry=".9" fill-opacity=".09" transform="rotate(30 31.8 12.9)"/><ellipse cx="47.8" cy="19" rx=".9" ry=".5" fill-opacity=".12" transform="rotate(-10 47.8 19)"/><ellipse cx="67.8" cy="34.4" rx="1.2" ry=".6" fill-opacity=".17"/><ellipse cx="68.9" cy="32.1" rx=".9" ry=".6" fill-opacity=".13" transform="rotate(5 68.9 32.1)"/><ellipse cx="46" cy="19.4" rx="1" ry=".7" fill-opacity=".08" transform="rotate(-5 46 19.4)"/><ellipse cx="32.2" cy="13.2" rx="1.2" ry=".8" fill-opacity=".17"/><ellipse cx="62.7" cy="31.9" rx="1" ry=".5" fill-opacity=".16" transform="rotate(-5 62.7 31.9)"/><ellipse cx="65.8" cy="30.1" rx="1.1" ry=".7" fill-opacity=".1" transform="rotate(-10 65.8 30.1)"/><ellipse cx="39.4" cy="8.4" rx="1.1" ry=".6" fill-opacity=".1" transform="rotate(-20 39.4 8.4)"/><ellipse cx="51.2" cy="22.7" rx="1.1" ry=".7" fill-opacity=".09"/><ellipse cx="54.6" cy="26.4" rx="1.1" ry=".8" fill-opacity=".16"/><ellipse cx="163.1" cy="13.4" rx="1" ry=".6" fill-opacity=".31"/><ellipse cx="163.7" cy="15.5" rx="1.2" ry=".8" fill-opacity=".24"/><ellipse cx="129.5" cy="17.9" rx="1.1" ry=".6" fill-opacity=".22" transform="rotate(-30 129.5 17.9)"/><ellipse cx="76.8" cy="23.4" rx="1.4" ry=".8" fill-opacity=".12" transform="rotate(-20 76.8 23.4)"/><ellipse cx="194.3" cy="5.9" rx="1.2" ry=".7" fill-opacity=".2" transform="rotate(20 194.3 5.9)"/><ellipse cx="76.7" cy="18.7" rx="1.2" ry=".9" fill-opacity=".09"/><ellipse cx="104" cy="19.6" rx="1.2" ry=".8" fill-opacity=".18" transform="rotate(-20 104 19.6)"/><ellipse cx="164.7" cy="12.9" rx="1.3" ry=".8" fill-opacity=".22" transform="rotate(20 164.7 12.9)"/><ellipse cx="101.7" cy="21.5" rx=".9" ry=".5" fill-opacity=".31" transform="rotate(-5 101.7 21.5)"/><ellipse cx="117.6" cy="17.8" rx="1.5" ry=".8" fill-opacity=".19" transform="rotate(-30 117.6 17.8)"/><ellipse cx="87.2" cy="21.1" rx=".9" ry=".5" fill-opacity=".1" transform="rotate(5 87.2 21.1)"/><ellipse cx="158.3" cy="11.9" rx="1" ry=".6" fill-opacity=".16" transform="rotate(-5 158.3 11.9)"/><ellipse cx="179" cy="12.7" rx="1.4" ry="1" fill-opacity=".29"/><ellipse cx="100.9" cy="21.9" rx="1.5" ry=".9" fill-opacity=".14" transform="rotate(10 100.9 21.9)"/><ellipse cx="97.2" cy="18.5" rx="1.3" ry=".9" fill-opacity=".1" transform="rotate(-5 97.2 18.5)"/><ellipse cx="105.4" cy="20.1" rx="1.2" ry=".8" fill-opacity=".14" transform="rotate(-30 105.4 20.1)"/><ellipse cx="189.3" cy="13.9" rx="1.2" ry=".6" fill-opacity=".28" transform="rotate(5 189.3 13.9)"/><ellipse cx="188.2" cy="9.9" rx="1" ry=".7" fill-opacity=".12" transform="rotate(20 188.2 9.9)"/><ellipse cx="100.2" cy="16.1" rx="1.5" ry="1" fill-opacity=".25" transform="rotate(30 100.2 16.1)"/><ellipse cx="112.4" cy="17.7" rx="1.6" ry=".9" fill-opacity=".3" transform="rotate(10 112.4 17.7)"/><ellipse cx="182.9" cy="12.3" rx="1.3" ry=".8" fill-opacity=".36" transform="rotate(-10 182.9 12.3)"/><ellipse cx="192.7" cy="13.3" rx="1.5" ry="1.1" fill-opacity=".27" transform="rotate(-10 192.7 13.3)"/><ellipse cx="98.8" cy="17.3" rx="1.5" ry=".8" fill-opacity=".08" transform="rotate(5 98.8 17.3)"/><ellipse cx="112.3" cy="16.7" rx="1.1" ry=".8" fill-opacity=".21" transform="rotate(-30 112.3 16.7)"/><ellipse cx="88.4" cy="23.5" rx=".9" ry=".5" fill-opacity=".1" transform="rotate(30 88.4 23.5)"/><ellipse cx="190.7" cy="8.6" rx="1.3" ry=".7" fill-opacity=".17" transform="rotate(-30 190.7 8.6)"/><ellipse cx="75.4" cy="19.1" rx="1.5" ry="1" fill-opacity=".06" transform="rotate(-30 75.4 19.1)"/><ellipse cx="164.2" cy="17.1" rx="1.4" ry=".9" fill-opacity=".35" transform="rotate(20 164.2 17.1)"/><ellipse cx="142.6" cy="18.2" rx="1.2" ry=".8" fill-opacity=".19"/><ellipse cx="187" cy="12.5" rx="1.3" ry=".9" fill-opacity=".16"/><ellipse cx="189" cy="12.1" rx="1.1" ry=".6" fill-opacity=".1"/><ellipse cx="182.8" cy="13.3" rx="1.4" ry="1" fill-opacity=".31" transform="rotate(10 182.8 13.3)"/><ellipse cx="120.2" cy="19.7" rx="1.3" ry=".7" fill-opacity=".31" transform="rotate(-10 120.2 19.7)"/><ellipse cx="88.4" cy="26" rx="1.4" ry=".9" fill-opacity=".15"/><ellipse cx="168.1" cy="13.8" rx="1" ry=".5" fill-opacity=".22" transform="rotate(-30 168.1 13.8)"/><ellipse cx="91.5" cy="26.8" rx="1.4" ry=".7" fill-opacity=".1" transform="rotate(30 91.5 26.8)"/><ellipse cx="225.4" cy="39.5" rx="1.5" ry=".9" fill-opacity=".17"/><ellipse cx="47" cy="36.4" rx="1.2" ry=".6" fill-opacity=".15"/><ellipse cx="74.3" cy="28.1" rx="1.4" ry=".8" fill-opacity=".24" transform="rotate(-20 74.3 28.1)"/><ellipse cx="122.6" cy="30.2" rx="1.3" ry=".8" fill-opacity=".19"/><ellipse cx="119.1" cy="27.8" rx="1.3" ry=".8" fill-opacity=".18" transform="rotate(-10 119.1 27.8)"/><ellipse cx="190.9" cy="28" rx="1" ry=".7" fill-opacity=".23" transform="rotate(10 190.9 28)"/><ellipse cx="133.3" cy="30.2" rx=".9" ry=".6" fill-opacity=".25" transform="rotate(10 133.3 30.2)"/><ellipse cx="87.2" cy="32.7" rx="1.2" ry=".8" fill-opacity=".09" transform="rotate(-5 87.2 32.7)"/><ellipse cx="203" cy="32.9" rx="1.1" ry=".7" fill-opacity=".26" transform="rotate(20 203 32.9)"/><ellipse cx="63.1" cy="37.7" rx="1.1" ry=".7" fill-opacity=".07" transform="rotate(-20 63.1 37.7)"/><ellipse cx="108.8" cy="27.8" rx="1" ry=".5" fill-opacity=".1"/><ellipse cx="50.8" cy="36.5" rx="1" ry=".7" fill-opacity=".17"/><ellipse cx="188.9" cy="31.5" rx="1" ry=".6" fill-opacity=".2"/><ellipse cx="202.6" cy="30.2" rx=".9" ry=".7" fill-opacity=".28" transform="rotate(-10 202.6 30.2)"/><ellipse cx="139" cy="29.1" rx="1.1" ry=".7" fill-opacity=".18" transform="rotate(20 139 29.1)"/><ellipse cx="160" cy="27.7" rx="1.6" ry="1.1" fill-opacity=".16" transform="rotate(-5 160 27.7)"/><ellipse cx="71.9" cy="26.9" rx="1" ry=".6" fill-opacity=".23"/><ellipse cx="176.1" cy="34.6" rx="1.1" ry=".6" fill-opacity=".36" transform="rotate(-20 176.1 34.6)"/><ellipse cx="43.3" cy="36.6" rx="1.2" ry=".9" fill-opacity=".1" transform="rotate(-5 43.3 36.6)"/><ellipse cx="180.5" cy="30.7" rx="1" ry=".7" fill-opacity=".25" transform="rotate(-20 180.5 30.7)"/><ellipse cx="204.3" cy="35.6" rx="1.5" ry=".8" fill-opacity=".28" transform="rotate(-10 204.3 35.6)"/><ellipse cx="118" cy="27.4" rx=".9" ry=".5" fill-opacity=".09" transform="rotate(-10 118 27.4)"/><ellipse cx="169.8" cy="33.1" rx="1.3" ry=".9" fill-opacity=".33" transform="rotate(-10 169.8 33.1)"/><ellipse cx="109.2" cy="32.6" rx=".9" ry=".5" fill-opacity=".28"/><ellipse cx="223.7" cy="38.3" rx="1.3" ry=".8" fill-opacity=".38" transform="rotate(-20 223.7 38.3)"/><ellipse cx="39.7" cy="37" rx="1.3" ry=".9" fill-opacity=".08" transform="rotate(-30 39.7 37)"/><ellipse cx="156.5" cy="26.9" rx="1.5" ry=".8" fill-opacity=".21"/><ellipse cx="142.1" cy="23.1" rx="1.5" ry=".8" fill-opacity=".21" transform="rotate(-5 142.1 23.1)"/><ellipse cx="96.4" cy="30.7" rx="1.5" ry=".8" fill-opacity=".13" transform="rotate(30 96.4 30.7)"/><ellipse cx="79" cy="34.7" rx="1.3" ry=".8" fill-opacity=".07" transform="rotate(-10 79 34.7)"/><ellipse cx="105.3" cy="28.7" rx="1.5" ry="1" fill-opacity=".17" transform="rotate(20 105.3 28.7)"/><ellipse cx="72.7" cy="30.4" rx=".9" ry=".6" fill-opacity=".14"/><ellipse cx="158.9" cy="32.6" rx="1.5" ry="1" fill-opacity=".17" transform="rotate(5 158.9 32.6)"/><ellipse cx="145.7" cy="26.5" rx="1.5" ry=".9" fill-opacity=".22" transform="rotate(5 145.7 26.5)"/><ellipse cx="72.3" cy="32.6" rx="1.1" ry=".8" fill-opacity=".06" transform="rotate(5 72.3 32.6)"/><ellipse cx="153.1" cy="24.2" rx="1.1" ry=".7" fill-opacity=".14" transform="rotate(-10 153.1 24.2)"/><ellipse cx="200.8" cy="32.9" rx="1.2" ry=".6" fill-opacity=".4" transform="rotate(20 200.8 32.9)"/><ellipse cx="193.3" cy="32" rx="1.4" ry=".7" fill-opacity=".25" transform="rotate(-30 193.3 32)"/><ellipse cx="32.5" cy="36.3" rx="1" ry=".6" fill-opacity=".24" transform="rotate(20 32.5 36.3)"/><ellipse cx="224.4" cy="45.3" rx="1.2" ry=".7" fill-opacity=".2" transform="rotate(-5 224.4 45.3)"/><ellipse cx="181.4" cy="52.4" rx="1.3" ry=".9" fill-opacity=".18" transform="rotate(30 181.4 52.4)"/><ellipse cx="160.2" cy="64.7" rx=".8" ry=".5" fill-opacity=".25"/><ellipse cx="69" cy="67.8" rx="1.5" ry="1" fill-opacity=".2" transform="rotate(10 69 67.8)"/><ellipse cx="128.7" cy="70" rx="1.4" ry=".9" fill-opacity=".17" transform="rotate(-10 128.7 70)"/><ellipse cx="223.9" cy="46.2" rx="1.2" ry=".8" fill-opacity=".35" transform="rotate(-20 223.9 46.2)"/><ellipse cx="121.5" cy="68.2" rx=".9" ry=".5" fill-opacity=".08" transform="rotate(-10 121.5 68.2)"/><ellipse cx="120.2" cy="68.8" rx="1.4" ry=".9" fill-opacity=".17"/><ellipse cx="213.2" cy="53.3" rx="1.5" ry="1" fill-opacity=".24" transform="rotate(-5 213.2 53.3)"/><ellipse cx="203.7" cy="56.4" rx="1.4" ry=".7" fill-opacity=".23"/><ellipse cx="110.5" cy="69.5" rx="1.1" ry=".6" fill-opacity=".27" transform="rotate(-30 110.5 69.5)"/><ellipse cx="101.1" cy="74.5" rx="1.4" ry=".8" fill-opacity=".11"/><ellipse cx="79.4" cy="71.7" rx="1.2" ry=".8" fill-opacity=".25" transform="rotate(30 79.4 71.7)"/><ellipse cx="67.7" cy="68.9" rx="1.2" ry=".7" fill-opacity=".14" transform="rotate(-5 67.7 68.9)"/><ellipse cx="145.2" cy="68" rx="1" ry=".6" fill-opacity=".19" transform="rotate(-20 145.2 68)"/><ellipse cx="97.1" cy="69.5" rx="1" ry=".6" fill-opacity=".11"/><ellipse cx="85.2" cy="72" rx=".9" ry=".6" fill-opacity=".2" transform="rotate(5 85.2 72)"/><ellipse cx="200.4" cy="56.9" rx="1.3" ry=".9" fill-opacity=".31"/><ellipse cx="81.9" cy="69.5" rx="1.1" ry=".7" fill-opacity=".09" transform="rotate(5 81.9 69.5)"/><ellipse cx="115.3" cy="72.5" rx="1.1" ry=".7" fill-opacity=".26" transform="rotate(-20 115.3 72.5)"/><ellipse cx="182.6" cy="57" rx="1.4" ry="1" fill-opacity=".3" transform="rotate(-10 182.6 57)"/><ellipse cx="225.8" cy="48" rx="1.3" ry=".7" fill-opacity=".16" transform="rotate(-10 225.8 48)"/><ellipse cx="116.3" cy="67.9" rx="1.3" ry=".7" fill-opacity=".21"/><ellipse cx="65.8" cy="71.9" rx="1.2" ry=".9" fill-opacity=".27" transform="rotate(20 65.8 71.9)"/><ellipse cx="64.9" cy="68.8" rx="1" ry=".7" fill-opacity=".16" transform="rotate(10 64.9 68.8)"/><ellipse cx="64" cy="71.3" rx="1" ry=".7" fill-opacity=".12" transform="rotate(20 64 71.3)"/><ellipse cx="73" cy="71" rx="1" ry=".6" fill-opacity=".13" transform="rotate(5 73 71)"/><ellipse cx="205.4" cy="53.2" rx="1.5" ry="1.1" fill-opacity=".26" transform="rotate(-30 205.4 53.2)"/><ellipse cx="184.1" cy="57.9" rx="1.5" ry=".9" fill-opacity=".12" transform="rotate(5 184.1 57.9)"/><ellipse cx="184.2" cy="57.8" rx="1.4" ry=".8" fill-opacity=".25" transform="rotate(30 184.2 57.8)"/><ellipse cx="57.4" cy="71.1" rx="1.3" ry="1" fill-opacity=".21" transform="rotate(-30 57.4 71.1)"/><ellipse cx="63.2" cy="75.6" rx="1.5" ry=".8" fill-opacity=".07" transform="rotate(10 63.2 75.6)"/><ellipse cx="123" cy="68.7" rx="1.3" ry=".9" fill-opacity=".1" transform="rotate(-10 123 68.7)"/><ellipse cx="79.8" cy="70" rx="1.3" ry=".7" fill-opacity=".2" transform="rotate(-10 79.8 70)"/><ellipse cx="50.3" cy="75.5" rx="1.1" ry=".7" fill-opacity=".08" transform="rotate(-30 50.3 75.5)"/><ellipse cx="159.1" cy="63" rx="1" ry=".5" fill-opacity=".24" transform="rotate(10 159.1 63)"/><ellipse cx="131.2" cy="72.9" rx="1.2" ry=".7" fill-opacity=".16"/><ellipse cx="58.8" cy="67.1" rx="1.4" ry=".8" fill-opacity=".13" transform="rotate(10 58.8 67.1)"/><ellipse cx="100.9" cy="70.7" rx="1.2" ry=".6" fill-opacity=".19" transform="rotate(10 100.9 70.7)"/><ellipse cx="103.8" cy="68.7" rx="1.1" ry=".6" fill-opacity=".28" transform="rotate(-20 103.8 68.7)"/><ellipse cx="149.5" cy="68.4" rx="1.4" ry=".9" fill-opacity=".2"/><ellipse cx="53.9" cy="70.4" rx=".9" ry=".5" fill-opacity=".15" transform="rotate(30 53.9 70.4)"/><ellipse cx="141.1" cy="64.5" rx="1" ry=".6" fill-opacity=".15" transform="rotate(-20 141.1 64.5)"/><ellipse cx="133.6" cy="48.3" rx="1" ry=".6" fill-opacity=".18" transform="rotate(-30 133.6 48.3)"/><ellipse cx="141.6" cy="53.6" rx="1.2" ry=".7" fill-opacity=".25" transform="rotate(20 141.6 53.6)"/><ellipse cx="144.2" cy="71.8" rx="1.4" ry=".9" fill-opacity=".18" transform="rotate(-10 144.2 71.8)"/><ellipse cx="135" cy="49.3" rx="1.2" ry=".7" fill-opacity=".27" transform="rotate(5 135 49.3)"/><ellipse cx="139.9" cy="75.8" rx="1" ry=".7" fill-opacity=".14" transform="rotate(-5 139.9 75.8)"/><ellipse cx="139.1" cy="48.3" rx="1.1" ry=".6" fill-opacity=".12" transform="rotate(20 139.1 48.3)"/><ellipse cx="140" cy="56.8" rx="1" ry=".7" fill-opacity=".22" transform="rotate(20 140 56.8)"/><ellipse cx="139" cy="44.6" rx="1.1" ry=".6" fill-opacity=".16" transform="rotate(-5 139 44.6)"/><ellipse cx="134.8" cy="79.2" rx="1.4" ry="1" fill-opacity=".21" transform="rotate(20 134.8 79.2)"/><ellipse cx="141.3" cy="65.8" rx="1.5" ry="1" fill-opacity=".26" transform="rotate(-30 141.3 65.8)"/><ellipse cx="136.2" cy="66.8" rx="1.2" ry=".7" fill-opacity=".2" transform="rotate(30 136.2 66.8)"/><ellipse cx="140.1" cy="49.2" rx="1.3" ry=".7" fill-opacity=".16" transform="rotate(10 140.1 49.2)"/><ellipse cx="137.8" cy="53.4" rx="1.1" ry=".6" fill-opacity=".25" transform="rotate(5 137.8 53.4)"/><ellipse cx="142.2" cy="38.5" rx="1.1" ry=".8" fill-opacity=".17"/><ellipse cx="138.8" cy="31.9" rx="1.2" ry=".9" fill-opacity=".21"/><ellipse cx="29.7" cy="69.5" rx=".9" ry=".6" fill-opacity=".09" transform="rotate(-10 29.7 69.5)"/><ellipse cx="41.8" cy="66.3" rx="1.5" ry=".9" fill-opacity=".05" transform="rotate(-5 41.8 66.3)"/><ellipse cx="39.1" cy="71.5" rx="1" ry=".6" fill-opacity=".15" transform="rotate(-30 39.1 71.5)"/><ellipse cx="48.9" cy="80.9" rx="1.2" ry=".8" fill-opacity=".08" transform="rotate(10 48.9 80.9)"/><ellipse cx="53.6" cy="80.8" rx="1.3" ry=".7" fill-opacity=".13" transform="rotate(30 53.6 80.8)"/><ellipse cx="25.6" cy="66.8" rx="1.5" ry=".8" fill-opacity=".14" transform="rotate(30 25.6 66.8)"/><ellipse cx="41.3" cy="73.8" rx="1.4" ry=".9" fill-opacity=".11"/><ellipse cx="20.3" cy="61" rx=".9" ry=".7" fill-opacity=".09"/><ellipse cx="43.5" cy="75.6" rx="1.4" ry=".9" fill-opacity=".1" transform="rotate(-10 43.5 75.6)"/><ellipse cx="175.6" cy="32.4" rx="1.1" ry=".7" fill-opacity=".43"/><ellipse cx="186.7" cy="21" rx="1.2" ry=".8" fill-opacity=".3" transform="rotate(30 186.7 21)"/><ellipse cx="194.7" cy="59.8" rx="1.2" ry=".8" fill-opacity=".19" transform="rotate(-30 194.7 59.8)"/><ellipse cx="192.1" cy="45.3" rx="1.7" ry="1.1" fill-opacity=".22"/><ellipse cx="158.3" cy="44.6" rx="1.1" ry=".7" fill-opacity=".17"/><ellipse cx="192.4" cy="50.1" rx="1.7" ry="1.1" fill-opacity=".41" transform="rotate(-5 192.4 50.1)"/><ellipse cx="178" cy="48.6" rx="1.2" ry=".8" fill-opacity=".2" transform="rotate(10 178 48.6)"/><ellipse cx="148.8" cy="51.6" rx="1" ry=".7" fill-opacity=".21" transform="rotate(-10 148.8 51.6)"/><ellipse cx="122.8" cy="59.8" rx="1" ry=".7" fill-opacity=".23" transform="rotate(5 122.8 59.8)"/><ellipse cx="188.8" cy="44.9" rx="1.3" ry=".9" fill-opacity=".32" transform="rotate(-20 188.8 44.9)"/><ellipse cx="190.1" cy="58.1" rx="1" ry=".7" fill-opacity=".35" transform="rotate(30 190.1 58.1)"/><ellipse cx="200.5" cy="41.9" rx="1.3" ry=".9" fill-opacity=".5" transform="rotate(-30 200.5 41.9)"/><ellipse cx="179.2" cy="26.6" rx="1" ry=".7" fill-opacity=".33" transform="rotate(5 179.2 26.6)"/><ellipse cx="189.8" cy="60.3" rx="1.7" ry="1.1" fill-opacity=".34" transform="rotate(-30 189.8 60.3)"/><ellipse cx="169.3" cy="66" rx="1.2" ry=".8" fill-opacity=".36"/><ellipse cx="216.9" cy="72.2" rx="1.3" ry=".8" fill-opacity=".26" transform="rotate(-10 216.9 72.2)"/><ellipse cx="188.2" cy="46.2" rx="1.4" ry=".9" fill-opacity=".3" transform="rotate(-10 188.2 46.2)"/><ellipse cx="177.4" cy="62.4" rx="1.6" ry="1.1" fill-opacity=".33" transform="rotate(-5 177.4 62.4)"/><ellipse cx="163.1" cy="51" rx="1" ry=".7" fill-opacity=".27" transform="rotate(10 163.1 51)"/><ellipse cx="147.4" cy="35.4" rx="1.1" ry=".7" fill-opacity=".39" transform="rotate(-30 147.4 35.4)"/><ellipse cx="171.6" cy="21" rx="1.4" ry=".9" fill-opacity=".41" transform="rotate(10 171.6 21)"/><ellipse cx="217" cy="62" rx="1.6" ry="1" fill-opacity=".46" transform="rotate(-10 217 62)"/><ellipse cx="148.7" cy="48.3" rx="1.4" ry="1" fill-opacity=".13" transform="rotate(5 148.7 48.3)"/><ellipse cx="218.9" cy="55.3" rx="1.1" ry=".8" fill-opacity=".2" transform="rotate(30 218.9 55.3)"/><ellipse cx="181.1" cy="50.5" rx="1.5" ry="1" fill-opacity=".14" transform="rotate(-10 181.1 50.5)"/><ellipse cx="138.7" cy="43.2" rx="1.3" ry=".9" fill-opacity=".24" transform="rotate(-30 138.7 43.2)"/><ellipse cx="197.2" cy="48.9" rx="1.4" ry="1" fill-opacity=".22" transform="rotate(-5 197.2 48.9)"/><ellipse cx="214.1" cy="65" rx="1.4" ry="1" fill-opacity=".53" transform="rotate(-30 214.1 65)"/><ellipse cx="201.9" cy="71.2" rx="1.5" ry="1" fill-opacity=".26"/><ellipse cx="193.6" cy="22.8" rx="1.4" ry="1" fill-opacity=".29" transform="rotate(30 193.6 22.8)"/><ellipse cx="162.4" cy="63.6" rx="1.1" ry=".7" fill-opacity=".19"/><ellipse cx="173" cy="33" rx="1.5" ry="1" fill-opacity=".35" transform="rotate(-20 173 33)"/><ellipse cx="191.4" cy="69.4" rx="1.2" ry=".8" fill-opacity=".18" transform="rotate(-10 191.4 69.4)"/><ellipse cx="180.4" cy="49.1" rx="1.6" ry="1.1" fill-opacity=".27" transform="rotate(5 180.4 49.1)"/><ellipse cx="189.6" cy="73.5" rx="1.4" ry=".9" fill-opacity=".28"/><ellipse cx="209.6" cy="47.3" rx="1" ry=".7" fill-opacity=".29" transform="rotate(20 209.6 47.3)"/><ellipse cx="208.9" cy="39.3" rx="1.8" ry="1.2" fill-opacity=".41" transform="rotate(30 208.9 39.3)"/><ellipse cx="153.2" cy="57.9" rx="1.6" ry="1.1" fill-opacity=".19" transform="rotate(-10 153.2 57.9)"/><ellipse cx="215.1" cy="47.6" rx="1.3" ry=".9" fill-opacity=".41"/><ellipse cx="225.7" cy="47.4" rx="1.3" ry=".9" fill-opacity=".36" transform="rotate(5 225.7 47.4)"/><ellipse cx="162.2" cy="25.5" rx="1.1" ry=".7" fill-opacity=".19" transform="rotate(-20 162.2 25.5)"/><ellipse cx="162.3" cy="63.9" rx="1" ry=".7" fill-opacity=".33" transform="rotate(20 162.3 63.9)"/><ellipse cx="175.1" cy="53.5" rx="1.7" ry="1.2" fill-opacity=".21"/><ellipse cx="173.9" cy="59.7" rx="1.7" ry="1.1" fill-opacity=".31" transform="rotate(-10 173.9 59.7)"/><ellipse cx="177.3" cy="38.3" rx="1" ry=".7" fill-opacity=".37"/><ellipse cx="193.4" cy="72.3" rx="1.5" ry="1" fill-opacity=".26" transform="rotate(5 193.4 72.3)"/><ellipse cx="151" cy="42.6" rx="1.2" ry=".8" fill-opacity=".3"/><ellipse cx="159.2" cy="23.1" rx="1.6" ry="1" fill-opacity=".27"/><ellipse cx="155.2" cy="74.9" rx="1.3" ry=".9" fill-opacity=".19" transform="rotate(-20 155.2 74.9)"/><ellipse cx="171.6" cy="21.7" rx="1.7" ry="1.2" fill-opacity=".18" transform="rotate(30 171.6 21.7)"/><ellipse cx="212.7" cy="47.5" rx="1" ry=".7" fill-opacity=".37" transform="rotate(5 212.7 47.5)"/><ellipse cx="191.2" cy="73.8" rx="1.4" ry=".9" fill-opacity=".27"/><ellipse cx="184" cy="49.1" rx="1.5" ry="1" fill-opacity=".4" transform="rotate(-10 184 49.1)"/><ellipse cx="170" cy="46.9" rx="1.2" ry=".8" fill-opacity=".33" transform="rotate(-10 170 46.9)"/><ellipse cx="109.9" cy="63.8" rx="1.1" ry=".8" fill-opacity=".21"/><ellipse cx="189.6" cy="3.6" rx="1.2" ry=".8" fill-opacity=".24"/><ellipse cx="186.2" cy="72.1" rx="1.2" ry=".8" fill-opacity=".27" transform="rotate(-10 186.2 72.1)"/><ellipse cx="197.9" cy="68.3" rx="1.5" ry="1" fill-opacity=".39" transform="rotate(-5 197.9 68.3)"/><ellipse cx="205.6" cy="45.9" rx="1.3" ry=".9" fill-opacity=".3" transform="rotate(10 205.6 45.9)"/><ellipse cx="142.2" cy="74.3" rx="1.5" ry="1" fill-opacity=".26" transform="rotate(-10 142.2 74.3)"/><ellipse cx="189.8" cy="65.6" rx="1" ry=".7" fill-opacity=".37" transform="rotate(-5 189.8 65.6)"/><ellipse cx="192.4" cy="19.1" rx="1.6" ry="1.1" fill-opacity=".31"/><ellipse cx="157.3" cy="73.6" rx="1" ry=".7" fill-opacity=".22" transform="rotate(-5 157.3 73.6)"/><ellipse cx="142" cy="44.9" rx="1.1" ry=".8" fill-opacity=".14"/><ellipse cx="167.5" cy="67.9" rx="1.7" ry="1.1" fill-opacity=".24"/><ellipse cx="175.6" cy="40.9" rx="1" ry=".7" fill-opacity=".15" transform="rotate(-20 175.6 40.9)"/><ellipse cx="173.4" cy="14.4" rx="1" ry=".7" fill-opacity=".3"/><ellipse cx="150.3" cy="52.5" rx="1" ry=".7" fill-opacity=".15"/><ellipse cx="206.4" cy="75.5" rx="1.3" ry=".9" fill-opacity=".22"/><ellipse cx="193.3" cy="61.9" rx="1.6" ry="1" fill-opacity=".24"/><ellipse cx="188.6" cy="61.6" rx="1" ry=".6" fill-opacity=".45" transform="rotate(-5 188.6 61.6)"/><ellipse cx="194.8" cy="77.3" rx="1.4" ry=".9" fill-opacity=".22" transform="rotate(30 194.8 77.3)"/><ellipse cx="220.4" cy="58.6" rx="1.4" ry=".9" fill-opacity=".26" transform="rotate(30 220.4 58.6)"/><ellipse cx="170.5" cy="42.1" rx="1.1" ry=".7" fill-opacity=".28"/><ellipse cx="166.9" cy="33.2" rx="1.3" ry=".9" fill-opacity=".21"/><ellipse cx="180.6" cy="63.4" rx="1.3" ry=".8" fill-opacity=".39" transform="rotate(-20 180.6 63.4)"/><ellipse cx="195" cy="50" rx="1.7" ry="1.1" fill-opacity=".46"/><ellipse cx="184.4" cy="50.2" rx="1.3" ry=".8" fill-opacity=".21" transform="rotate(10 184.4 50.2)"/><ellipse cx="219.9" cy="30.5" rx="1.3" ry=".9" fill-opacity=".36" transform="rotate(20 219.9 30.5)"/><ellipse cx="173.1" cy="35" rx="1.7" ry="1.1" fill-opacity=".35" transform="rotate(5 173.1 35)"/><ellipse cx="187.2" cy="73.5" rx="1.5" ry="1" fill-opacity=".37" transform="rotate(20 187.2 73.5)"/><ellipse cx="216.3" cy="68.1" rx="1.5" ry="1" fill-opacity=".37"/><ellipse cx="179.2" cy="74.5" rx="1.5" ry="1" fill-opacity=".46"/><ellipse cx="150.6" cy="46.8" rx="1.8" ry="1.2" fill-opacity=".2" transform="rotate(-20 150.6 46.8)"/><ellipse cx="197.5" cy="57.6" rx="1.1" ry=".7" fill-opacity=".36" transform="rotate(-5 197.5 57.6)"/><ellipse cx="135.9" cy="29.4" rx="1.1" ry=".7" fill-opacity=".29" transform="rotate(-30 135.9 29.4)"/><ellipse cx="222.6" cy="56.7" rx="1.3" ry=".8" fill-opacity=".2" transform="rotate(-30 222.6 56.7)"/><ellipse cx="140.1" cy="57.6" rx="1" ry=".7" fill-opacity=".16" transform="rotate(30 140.1 57.6)"/><ellipse cx="175.5" cy="34.3" rx="1.6" ry="1.1" fill-opacity=".23" transform="rotate(-30 175.5 34.3)"/><ellipse cx="205.7" cy="44.3" rx="1.3" ry=".9" fill-opacity=".24" transform="rotate(20 205.7 44.3)"/><ellipse cx="146.8" cy="25.3" rx="1.5" ry="1" fill-opacity=".25"/><ellipse cx="166.9" cy="75.3" rx="2.5" ry="2" fill-opacity=".13" transform="rotate(-30 166.9 75.3)"/><ellipse cx="203.2" cy="63.6" rx="2.4" ry="2" fill-opacity=".2" transform="rotate(-5 203.2 63.6)"/><ellipse cx="186.9" cy="54.3" rx="2.1" ry="1.7" fill-opacity=".13" transform="rotate(10 186.9 54.3)"/><ellipse cx="180.5" cy="47.3" rx="2.5" ry="2.1" fill-opacity=".1" transform="rotate(-10 180.5 47.3)"/><ellipse cx="175.5" cy="29.8" rx="2.1" ry="1.7" fill-opacity=".1" transform="rotate(10 175.5 29.8)"/><ellipse cx="149.3" cy="57.6" rx="2.4" ry="2" fill-opacity=".11" transform="rotate(-5 149.3 57.6)"/><ellipse cx="184.2" cy="69.4" rx="2.4" ry="2" fill-opacity=".16" transform="rotate(10 184.2 69.4)"/><ellipse cx="222.1" cy="52.8" rx="2.9" ry="2.4" fill-opacity=".1" transform="rotate(-30 222.1 52.8)"/><ellipse cx="168.3" cy="50.8" rx="2.9" ry="2.4" fill-opacity=".11" transform="rotate(5 168.3 50.8)"/><ellipse cx="219.8" cy="68.5" rx="3" ry="2.4" fill-opacity=".13"/><ellipse cx="168.8" cy="19.6" rx="2.8" ry="2.3" fill-opacity=".08" transform="rotate(10 168.8 19.6)"/><ellipse cx="165.4" cy="47.9" rx="2.9" ry="2.4" fill-opacity=".06"/><ellipse cx="181.9" cy="33.6" rx="3.1" ry="2.5" fill-opacity=".06" transform="rotate(20 181.9 33.6)"/><ellipse cx="205.5" cy="37.1" rx="3" ry="2.5" fill-opacity=".17" transform="rotate(-20 205.5 37.1)"/><ellipse cx="162.8" cy="39.1" rx="2.9" ry="2.4" fill-opacity=".08" transform="rotate(-10 162.8 39.1)"/><ellipse cx="187.2" cy="56.7" rx="2.1" ry="1.8" fill-opacity=".1" transform="rotate(20 187.2 56.7)"/><ellipse cx="221.1" cy="52.5" rx="2.1" ry="1.7" fill-opacity=".13" transform="rotate(30 221.1 52.5)"/><ellipse cx="190.4" cy="62.6" rx="2" ry="1.6" fill-opacity=".11" transform="rotate(-10 190.4 62.6)"/><ellipse cx="206.2" cy="30.7" rx="2.6" ry="2.2" fill-opacity=".19" transform="rotate(10 206.2 30.7)"/><ellipse cx="166.3" cy="38.1" rx="2.4" ry="1.9" fill-opacity=".16"/><ellipse cx="202.4" cy="67" rx="2.8" ry="2.3" fill-opacity=".12" transform="rotate(10 202.4 67)"/><ellipse cx="217.7" cy="50.8" rx="2.5" ry="2" fill-opacity=".08"/><ellipse cx="175.4" cy="72.7" rx="2" ry="1.6" fill-opacity=".15"/><ellipse cx="190.7" cy="74.1" rx="2" ry="1.7" fill-opacity=".15" transform="rotate(-30 190.7 74.1)"/><ellipse cx="181.1" cy="72.9" rx="2.4" ry="2" fill-opacity=".14" transform="rotate(-30 181.1 72.9)"/><ellipse cx="157.7" cy="74" rx="2.9" ry="2.3" fill-opacity=".14" transform="rotate(20 157.7 74)"/><ellipse cx="185.5" cy="25.3" rx="2.6" ry="2.1" fill-opacity=".14"/><ellipse cx="177.5" cy="28.1" rx="2.2" ry="1.8" fill-opacity=".08" transform="rotate(-10 177.5 28.1)"/><ellipse cx="207.7" cy="64.7" rx="2" ry="1.7" fill-opacity=".12" transform="rotate(5 207.7 64.7)"/><ellipse cx="201.7" cy="39" rx="2.8" ry="2.3" fill-opacity=".12" transform="rotate(-20 201.7 39)"/><ellipse cx="182.5" cy="42.2" rx="2.4" ry="1.9" fill-opacity=".11" transform="rotate(30 182.5 42.2)"/><ellipse cx="199.6" cy="59.8" rx="2.2" ry="1.8" fill-opacity=".11" transform="rotate(-30 199.6 59.8)"/><ellipse cx="167.9" cy="31.8" rx="2.4" ry="2" fill-opacity=".1" transform="rotate(20 167.9 31.8)"/><ellipse cx="190.6" cy="59.4" rx="2" ry="1.6" fill-opacity=".15" transform="rotate(20 190.6 59.4)"/><ellipse cx="199.5" cy="13.4" rx="2.9" ry="2.4" fill-opacity=".12" transform="rotate(30 199.5 13.4)"/><ellipse cx="200.2" cy="16.5" rx="3.1" ry="2.5" fill-opacity=".12"/><ellipse cx="164.7" cy="52.7" rx="2.8" ry="2.3" fill-opacity=".11"/><ellipse cx="213.9" cy="64.1" rx="2.3" ry="1.8" fill-opacity=".08" transform="rotate(-10 213.9 64.1)"/><ellipse cx="172.6" cy="72.6" rx="2.8" ry="2.3" fill-opacity=".08" transform="rotate(-20 172.6 72.6)"/><ellipse cx="182" cy="63.4" rx=".7" ry=".7" fill-opacity=".17"/><ellipse cx="183" cy="51.5" rx=".7" ry=".7" fill-opacity=".14"/><ellipse cx="51.1" cy="16.1" rx=".7" ry=".7" fill-opacity=".06"/><ellipse cx="86.5" cy="4" rx=".7" ry=".7" fill-opacity=".13"/><ellipse cx="171.5" cy="71" rx=".7" ry=".7" fill-opacity=".14"/><ellipse cx="196.3" cy="5.2" rx=".7" ry=".7" fill-opacity=".09"/><ellipse cx="84.3" cy="59.8" rx=".7" ry=".7" fill-opacity=".08"/><ellipse cx="208.8" cy="63.4" rx=".7" ry=".7" fill-opacity=".13"/><ellipse cx="24.2" cy="59.2" rx=".7" ry=".7" fill-opacity=".14"/><ellipse cx="215.3" cy="26.8" rx=".7" ry=".7" fill-opacity=".11"/><ellipse cx="83.5" cy="71.6" rx=".7" ry=".7" fill-opacity=".07"/><ellipse cx="119.8" cy="22.9" rx=".7" ry=".7" fill-opacity=".11"/><ellipse cx="166.5" cy="38.9" rx=".7" ry=".7" fill-opacity=".17"/><ellipse cx="28.1" cy="50" rx=".7" ry=".7" fill-opacity=".19"/><ellipse cx="110.1" cy="19.8" rx=".7" ry=".7" fill-opacity=".16"/><ellipse cx="209.8" cy="32.2" rx=".7" ry=".7" fill-opacity=".16"/><ellipse cx="99.5" cy="51.2" rx=".7" ry=".7" fill-opacity=".07"/><ellipse cx="111.3" cy="43.8" rx=".7" ry=".7" fill-opacity=".07"/><ellipse cx="130.5" cy="7" rx=".7" ry=".7" fill-opacity=".07"/><ellipse cx="143.3" cy="24.3" rx=".7" ry=".7" fill-opacity=".14"/><ellipse cx="126.1" cy="48.4" rx=".7" ry=".7" fill-opacity=".19"/><ellipse cx="14.4" cy="49.2" rx=".7" ry=".7" fill-opacity=".14"/><ellipse cx="206.4" cy="48.3" rx=".7" ry=".7" fill-opacity=".09"/><ellipse cx="159.9" cy="29.1" rx=".7" ry=".7" fill-opacity=".15"/><ellipse cx="120.8" cy="15.1" rx=".7" ry=".7" fill-opacity=".2"/><ellipse cx="75.9" cy="62.5" rx=".7" ry=".7" fill-opacity=".06"/><ellipse cx="28.3" cy="73.9" rx=".7" ry=".7" fill-opacity=".18"/><ellipse cx="90.8" cy="64.4" rx=".7" ry=".7" fill-opacity=".19"/><ellipse cx="70" cy="65.5" rx=".7" ry=".7" fill-opacity=".19"/><ellipse cx="125.1" cy="73.2" rx=".7" ry=".7" fill-opacity=".18"/><ellipse cx="163.4" cy="57.4" rx=".7" ry=".7" fill-opacity=".19"/><ellipse cx="101.6" cy="38.1" rx=".7" ry=".7" fill-opacity=".12"/><ellipse cx="131.9" cy="58.3" rx=".7" ry=".7" fill-opacity=".1"/><ellipse cx="130.5" cy="51" rx=".7" ry=".7" fill-opacity=".17"/><ellipse cx="83.8" cy="60.5" rx=".7" ry=".7" fill-opacity=".13"/><ellipse cx="18.6" cy="34.7" rx=".7" ry=".7" fill-opacity=".18"/><ellipse cx="207.5" cy="7.4" rx=".7" ry=".7" fill-opacity=".11"/><ellipse cx="24" cy="33.5" rx=".7" ry=".7" fill-opacity=".11"/><ellipse cx="106.6" cy="36.1" rx=".7" ry=".7" fill-opacity=".09"/><ellipse cx="25" cy="43.1" rx=".7" ry=".7" fill-opacity=".07"/><ellipse cx="34.3" cy="61.6" rx=".7" ry=".7" fill-opacity=".18"/><ellipse cx="23.2" cy="30.9" rx=".7" ry=".7" fill-opacity=".11"/><ellipse cx="12.9" cy="35.9" rx=".7" ry=".7" fill-opacity=".17"/><ellipse cx="117.7" cy="60.1" rx=".7" ry=".7" fill-opacity=".19"/><ellipse cx="201.1" cy="30" rx=".7" ry=".7" fill-opacity=".15"/><ellipse cx="218.4" cy="75.4" rx=".7" ry=".7" fill-opacity=".07"/><ellipse cx="116.5" cy="75" rx=".7" ry=".7" fill-opacity=".09"/><ellipse cx="37.5" cy="30.4" rx=".7" ry=".7" fill-opacity=".2"/><ellipse cx="128.5" cy="4.1" rx=".7" ry=".7" fill-opacity=".09"/><ellipse cx="124.3" cy="7.4" rx=".7" ry=".7" fill-opacity=".18"/><ellipse cx="157.4" cy="36.3" rx=".7" ry=".7" fill-opacity=".13"/><ellipse cx="148.1" cy="28.6" rx=".7" ry=".7" fill-opacity=".16"/><ellipse cx="152.1" cy="46.5" rx=".7" ry=".7" fill-opacity=".18"/><ellipse cx="20.2" cy="74.6" rx=".7" ry=".7" fill-opacity=".07"/><ellipse cx="217.9" cy="51.5" rx=".7" ry=".7" fill-opacity=".08"/><ellipse cx="34.7" cy="68.9" rx=".7" ry=".7" fill-opacity=".1"/><ellipse cx="65" cy="40.2" rx=".7" ry=".7" fill-opacity=".15"/><ellipse cx="26.5" cy="4.4" rx=".7" ry=".7" fill-opacity=".12"/><ellipse cx="31.3" cy="74.8" rx=".7" ry=".7" fill-opacity=".1"/><ellipse cx="127.2" cy="17.7" rx=".7" ry=".7" fill-opacity=".19"/><ellipse cx="145.6" cy="16.4" rx=".7" ry=".7" fill-opacity=".07"/><ellipse cx="188.1" cy="44.9" rx=".7" ry=".7" fill-opacity=".18"/><ellipse cx="187.6" cy="63.1" rx=".7" ry=".7" fill-opacity=".17"/><ellipse cx="162.9" cy="56.7" rx=".7" ry=".7" fill-opacity=".12"/><ellipse cx="77.4" cy="66.4" rx=".7" ry=".7" fill-opacity=".1"/><ellipse cx="132.6" cy="25.9" rx=".7" ry=".7" fill-opacity=".16"/><ellipse cx="193.7" cy="55.9" rx=".7" ry=".7" fill-opacity=".2"/><ellipse cx="9.2" cy="62.9" rx=".7" ry=".7" fill-opacity=".09"/><ellipse cx="65.5" cy="71.2" rx=".7" ry=".7" fill-opacity=".18"/><ellipse cx="93.4" cy="30.7" rx=".7" ry=".7" fill-opacity=".12"/><ellipse cx="121.3" cy="34" rx=".7" ry=".7" fill-opacity=".1"/><ellipse cx="119.9" cy="25.3" rx=".7" ry=".7" fill-opacity=".09"/><ellipse cx="65.2" cy="29.3" rx=".7" ry=".7" fill-opacity=".07"/><ellipse cx="186.3" cy="79" rx=".7" ry=".7" fill-opacity=".08"/><ellipse cx="44.4" cy="23.1" rx=".7" ry=".7" fill-opacity=".16"/><ellipse cx="30.4" cy="16.4" rx=".7" ry=".7" fill-opacity=".15"/><ellipse cx="70.5" cy="19" rx=".7" ry=".7" fill-opacity=".14"/><ellipse cx="189.8" cy="71.9" rx=".7" ry=".7" fill-opacity=".08"/><ellipse cx="96.9" cy="69.2" rx=".7" ry=".7" fill-opacity=".18"/><ellipse cx="217.4" cy="14.7" rx=".7" ry=".7" fill-opacity=".2"/><ellipse cx="44.7" cy="40.6" rx=".7" ry=".7" fill-opacity=".17"/><ellipse cx="59.6" cy="64.9" rx=".7" ry=".7" fill-opacity=".18"/><ellipse cx="76.2" cy="13.1" rx=".7" ry=".7" fill-opacity=".19"/><ellipse cx="79.4" cy="25.2" rx=".7" ry=".7" fill-opacity=".18"/><ellipse cx="203.1" cy="28.2" rx=".7" ry=".7" fill-opacity=".2"/><ellipse cx="128.1" cy="16.8" rx=".7" ry=".7" fill-opacity=".09"/><ellipse cx="112.1" cy="62.8" rx=".7" ry=".7" fill-opacity=".13"/><ellipse cx="224.9" cy="50.7" rx=".7" ry=".7" fill-opacity=".17"/><ellipse cx="87.2" cy="78.4" rx=".7" ry=".7" fill-opacity=".1"/><ellipse cx="165.5" cy="63.4" rx=".7" ry=".7" fill-opacity=".15"/><ellipse cx="6.9" cy="64.4" rx=".7" ry=".7" fill-opacity=".18"/><ellipse cx="33.7" cy="65.2" rx=".7" ry=".7" fill-opacity=".09"/><ellipse cx="144.8" cy="19.3" rx=".7" ry=".7" fill-opacity=".18"/><ellipse cx="92.5" cy="58.3" rx=".7" ry=".7" fill-opacity=".19"/><ellipse cx="72.6" cy="49.9" rx=".7" ry=".7" fill-opacity=".16"/><ellipse cx="88.3" cy="52" rx=".7" ry=".7" fill-opacity=".14"/><ellipse cx="135" cy="5.4" rx=".7" ry=".7" fill-opacity=".12"/><ellipse cx="129.1" cy="42.4" rx=".7" ry=".7" fill-opacity=".16"/><ellipse cx="21.1" cy="11.1" rx=".7" ry=".7" fill-opacity=".07"/><ellipse cx="74" cy="29.5" rx=".7" ry=".7" fill-opacity=".2"/><ellipse cx="30.4" cy="39.9" rx=".7" ry=".7" fill-opacity=".18"/><ellipse cx="195.4" cy="38.7" rx=".7" ry=".7" fill-opacity=".15"/><ellipse cx="87.7" cy="10.5" rx=".7" ry=".7" fill-opacity=".19"/><ellipse cx="40.2" cy="65.7" rx=".7" ry=".7" fill-opacity=".19"/><ellipse cx="155.2" cy="33.6" rx=".7" ry=".7" fill-opacity=".08"/><ellipse cx="58.3" cy="63.5" rx=".7" ry=".7" fill-opacity=".17"/><ellipse cx="124.6" cy="51.6" rx=".7" ry=".7" fill-opacity=".18"/><ellipse cx="54.1" cy="32.7" rx=".7" ry=".7" fill-opacity=".2"/><ellipse cx="4.9" cy="36.6" rx=".7" ry=".7" fill-opacity=".18"/><ellipse cx="223" cy="51.1" rx=".7" ry=".7" fill-opacity=".15"/><ellipse cx="110.6" cy="67.7" rx=".7" ry=".7" fill-opacity=".14"/><ellipse cx="41.3" cy="19.8" rx=".7" ry=".7" fill-opacity=".14"/><ellipse cx="177.7" cy="75.1" rx=".7" ry=".7" fill-opacity=".18"/><ellipse cx="188" cy="52.6" rx=".7" ry=".7" fill-opacity=".06"/><ellipse cx="93.2" cy="14" rx=".7" ry=".7" fill-opacity=".1"/><ellipse cx="66.7" cy="37.3" rx=".7" ry=".7" fill-opacity=".15"/><ellipse cx="131.8" cy="67.2" rx=".7" ry=".7" fill-opacity=".12"/><ellipse cx="190.3" cy="61.3" rx=".7" ry=".7" fill-opacity=".06"/><ellipse cx="151.4" cy="67.7" rx=".7" ry=".7" fill-opacity=".08"/><ellipse cx="114" cy="49" rx=".7" ry=".7" fill-opacity=".11"/><ellipse cx="210.1" cy="35.1" rx=".7" ry=".7" fill-opacity=".12"/><ellipse cx="180.1" cy="35.4" rx=".7" ry=".7" fill-opacity=".19"/><ellipse cx="123.4" cy="51.4" rx=".7" ry=".7" fill-opacity=".08"/><ellipse cx="126.4" cy="22.5" rx=".7" ry=".7" fill-opacity=".15"/><ellipse cx="52.2" cy="20.7" rx=".7" ry=".7" fill-opacity=".2"/><ellipse cx="216.1" cy="26.3" rx=".7" ry=".7" fill-opacity=".17"/><ellipse cx="218.2" cy="56.5" rx=".7" ry=".7" fill-opacity=".16"/><ellipse cx="9.8" cy="70.8" rx=".7" ry=".7" fill-opacity=".18"/><ellipse cx="107.4" cy="34.6" rx=".7" ry=".7" fill-opacity=".11"/><ellipse cx="12.8" cy="68.1" rx=".7" ry=".7" fill-opacity=".13"/><ellipse cx="98.1" cy="38.5" rx=".7" ry=".7" fill-opacity=".15"/><ellipse cx="198.5" cy="60.9" rx=".7" ry=".7" fill-opacity=".17"/><ellipse cx="142" cy="22.2" rx=".7" ry=".7" fill-opacity=".09"/><ellipse cx="100.6" cy="9.5" rx=".7" ry=".7" fill-opacity=".2"/><ellipse cx="218.7" cy="2.5" rx=".7" ry=".7" fill-opacity=".07"/><ellipse cx="214.6" cy="17.1" rx=".7" ry=".7" fill-opacity=".11"/><ellipse cx="8.4" cy="12.4" rx=".7" ry=".7" fill-opacity=".12"/><ellipse cx="170.1" cy="59.2" rx=".7" ry=".7" fill-opacity=".16"/><ellipse cx="104.5" cy="68.7" rx=".7" ry=".7" fill-opacity=".09"/><ellipse cx="61.3" cy="49.8" rx=".7" ry=".7" fill-opacity=".12"/><ellipse cx="18.4" cy="76" rx=".7" ry=".7" fill-opacity=".19"/><ellipse cx="122.6" cy="29.6" rx=".7" ry=".7" fill-opacity=".16"/><ellipse cx="75.8" cy="28.7" rx=".7" ry=".7" fill-opacity=".14"/><ellipse cx="161.6" cy="4.8" rx=".7" ry=".7" fill-opacity=".1"/><ellipse cx="15.2" cy="27.8" rx=".7" ry=".7" fill-opacity=".15"/><ellipse cx="119.3" cy="48.4" rx=".7" ry=".7" fill-opacity=".13"/><ellipse cx="62.3" cy="3.7" rx=".7" ry=".7" fill-opacity=".07"/><ellipse cx="141.9" cy="18.4" rx=".7" ry=".7" fill-opacity=".19"/><ellipse cx="27.1" cy="22.3" rx=".7" ry=".7" fill-opacity=".19"/><ellipse cx="108.4" cy="21.7" rx=".7" ry=".7" fill-opacity=".1"/></g><g id="zsp"><ellipse cx="228" cy="10" rx="28" ry="26" fill-opacity="0.34"/><path d="M212 20L200 25L187 29L175 33L165 37" fill="none" stroke="currentColor" stroke-width="6" stroke-opacity="0.12"/><ellipse cx="182" cy="55" rx="42" ry="26" fill-opacity="0.09"/><ellipse cx="110" cy="25" rx="40" ry="8" fill-opacity="0.05"/></g><g id="zsg"><path d="M203 -2L200 9L201 18L207 24L218 29L227 33L232 33L232 -2Z" fill-opacity="1"/><path d="M204 20L192 26L180 30L168 32" fill="none" stroke="currentColor" stroke-linecap="round" stroke-width="6" stroke-opacity="0.6"/></g><g id="zsb"><ellipse cx="224" cy="34" rx="6" ry="10" fill-opacity="0.45"/><g fill="none" stroke="currentColor" stroke-linecap="round"><path d="M175 30L171 42L165 51L160 60L156 73L155 82" stroke-width="5" stroke-opacity="0.18"/><path d="M188 32L189 45L187 58L186 69L187 82" stroke-width="5" stroke-opacity="0.18"/><path d="M222 30L221 50L222 82" stroke-width="6" stroke-opacity="0.2"/><path d="M165 31L150 22L128 18L101 22" stroke-width="3" stroke-opacity="0.1"/><path d="M153 54L138 60L119 67L101 69" stroke-width="3" stroke-opacity="0.1"/></g><ellipse cx="192" cy="60" rx="12" ry="10" fill-opacity="0.12"/></g></defs><g transform="translate(1 161)" clip-path="url(#cz)"><rect width="226" height="80.4" fill="#080808"/><use href="#zsp" fill="#fff" style="color:#fff" opacity="1" filter="url(#b6)"/><use href="#zs" fill="#fff" opacity="1" filter="url(#gz)"/></g><g transform="translate(229 161)" clip-path="url(#cz)"><rect width="226" height="80.4" fill="#0b0b0b"/><use href="#zsb" fill="#fff" style="color:#fff" filter="url(#b3)"/><use href="#zsg" fill="#fff" style="color:#fff" filter="url(#b15)"/><use href="#zg" fill="#fff" filter="url(#gz)"/></g><g transform="translate(457.3 161)" clip-path="url(#cz3)" style="isolation:isolate"><rect width="227" height="80.4" fill="#150514"/><use href="#zsp" fill="#f028f0" style="color:#f028f0" opacity="0.5" filter="url(#b6)"/><use href="#zs" fill="#f028f0" opacity="1" filter="url(#gz)"/><g style="mix-blend-mode:screen"><use href="#zsb" fill="#e6ec3c" style="color:#e6ec3c" filter="url(#b3)"/><use href="#zsg" fill="#e6ec3c" style="color:#e6ec3c" filter="url(#b15)"/><use href="#zg" fill="#e6ec3c" filter="url(#gz)"/></g></g><text x="5.6" y="231.6" fill="#fff" font-size="13.4">-15 h</text><g transform="translate(1 244.7)" clip-path="url(#cz)"><rect width="226" height="80.4" fill="#080808"/><use href="#zsp" fill="#fff" style="color:#fff" opacity="1" filter="url(#b6)"/><use href="#zs" fill="#fff" opacity="1" filter="url(#gz)"/></g><g transform="translate(229 244.7)" clip-path="url(#cz)"><rect width="226" height="80.4" fill="#0b0b0b"/><use href="#zsb" fill="#fff" style="color:#fff" filter="url(#b3)"/><use href="#zsg" fill="#fff" style="color:#fff" filter="url(#b15)"/><use href="#zg" fill="#fff" filter="url(#gz)"/></g><g transform="translate(457.3 244.7)" clip-path="url(#cz3)" style="isolation:isolate"><rect width="227" height="80.4" fill="#150514"/><use href="#zsp" fill="#f028f0" style="color:#f028f0" opacity="0.5" filter="url(#b6)"/><use href="#zs" fill="#f028f0" opacity="1" filter="url(#gz)"/><g style="mix-blend-mode:screen"><use href="#zsb" fill="#e6ec3c" style="color:#e6ec3c" filter="url(#b3)"/><use href="#zsg" fill="#e6ec3c" style="color:#e6ec3c" filter="url(#b15)"/><use href="#zg" fill="#e6ec3c" filter="url(#gz)"/></g></g><text x="5.6" y="315.8" fill="#fff" font-size="13.4">-1.5 h</text><g transform="translate(1 328.1)" clip-path="url(#cz)"><rect width="226" height="80.4" fill="#080808"/><use href="#zsp" fill="#fff" style="color:#fff" opacity="0.97" filter="url(#b6)"/><use href="#zs" fill="#fff" opacity="0.97" filter="url(#gz)"/></g><g transform="translate(229 328.1)" clip-path="url(#cz)"><rect width="226" height="80.4" fill="#0b0b0b"/><use href="#zsb" fill="#fff" style="color:#fff" filter="url(#b3)"/><use href="#zsg" fill="#fff" style="color:#fff" filter="url(#b15)"/><use href="#zg" fill="#fff" filter="url(#gz)"/></g><g transform="translate(457.3 328.1)" clip-path="url(#cz3)" style="isolation:isolate"><rect width="227" height="80.4" fill="#150514"/><use href="#zsp" fill="#f028f0" style="color:#f028f0" opacity="0.47" filter="url(#b6)"/><use href="#zs" fill="#f028f0" opacity="0.95" filter="url(#gz)"/><g style="mix-blend-mode:screen"><use href="#zsb" fill="#e6ec3c" style="color:#e6ec3c" filter="url(#b3)"/><use href="#zsg" fill="#e6ec3c" style="color:#e6ec3c" filter="url(#b15)"/><use href="#zg" fill="#e6ec3c" filter="url(#gz)"/></g></g><text x="7.6" y="399.9" fill="#fff" font-size="13.7">0.5 h (+ 5-ph-IAA)</text><g transform="translate(1 411.7)" clip-path="url(#cz)"><rect width="226" height="80.4" fill="#080808"/><use href="#zsp" fill="#fff" style="color:#fff" opacity="0.4" filter="url(#b6)"/><use href="#zs" fill="#fff" opacity="0.4" filter="url(#gz)"/></g><g transform="translate(229 411.7)" clip-path="url(#cz)"><rect width="226" height="80.4" fill="#0b0b0b"/><use href="#zsb" fill="#fff" style="color:#fff" filter="url(#b3)"/><use href="#zsg" fill="#fff" style="color:#fff" filter="url(#b15)"/><use href="#zg" fill="#fff" filter="url(#gz)"/></g><g transform="translate(457.3 411.7)" clip-path="url(#cz3)" style="isolation:isolate"><rect width="227" height="80.4" fill="#141008"/><use href="#zsp" fill="#f028f0" style="color:#f028f0" opacity="0.15" filter="url(#b6)"/><use href="#zs" fill="#f028f0" opacity="0.3" filter="url(#gz)"/><g style="mix-blend-mode:screen"><use href="#zsb" fill="#e6ec3c" style="color:#e6ec3c" filter="url(#b3)"/><use href="#zsg" fill="#e6ec3c" style="color:#e6ec3c" filter="url(#b15)"/><use href="#zg" fill="#e6ec3c" filter="url(#gz)"/></g></g><text x="5.6" y="483.4" fill="#fff" font-size="13.4">3.5 h</text><g transform="translate(1 495.2)" clip-path="url(#cz)"><rect width="226" height="80.4" fill="#080808"/><use href="#zsp" fill="#fff" style="color:#fff" opacity="0.13" filter="url(#b6)"/><use href="#zs" fill="#fff" opacity="0.13" filter="url(#gz)"/></g><g transform="translate(229 495.2)" clip-path="url(#cz)"><rect width="226" height="80.4" fill="#0b0b0b"/><use href="#zsb" fill="#fff" style="color:#fff" filter="url(#b3)"/><use href="#zsg" fill="#fff" style="color:#fff" filter="url(#b15)"/><use href="#zg" fill="#fff" filter="url(#gz)"/></g><g transform="translate(457.3 495.2)" clip-path="url(#cz3)" style="isolation:isolate"><rect width="227" height="80.4" fill="#121204"/><use href="#zsp" fill="#f028f0" style="color:#f028f0" opacity="0.05" filter="url(#b6)"/><use href="#zs" fill="#f028f0" opacity="0.1" filter="url(#gz)"/><g style="mix-blend-mode:screen"><use href="#zsb" fill="#e6ec3c" style="color:#e6ec3c" filter="url(#b3)"/><use href="#zsg" fill="#e6ec3c" style="color:#e6ec3c" filter="url(#b15)"/><use href="#zg" fill="#e6ec3c" filter="url(#gz)"/></g></g><text x="5.6" y="567.3" fill="#fff" font-size="13.4">6.5 h</text><g transform="translate(1 578.9)" clip-path="url(#cz)"><rect width="226" height="80.4" fill="#080808"/><use href="#zsp" fill="#fff" style="color:#fff" opacity="0.04" filter="url(#b6)"/><use href="#zs" fill="#fff" opacity="0.04" filter="url(#gz)"/></g><g transform="translate(229 578.9)" clip-path="url(#cz)"><rect width="226" height="80.4" fill="#0b0b0b"/><use href="#zsb" fill="#fff" style="color:#fff" filter="url(#b3)"/><use href="#zsg" fill="#fff" style="color:#fff" filter="url(#b15)"/><use href="#zg" fill="#fff" filter="url(#gz)"/></g><g transform="translate(457.3 578.9)" clip-path="url(#cz3)" style="isolation:isolate"><rect width="227" height="80.4" fill="#111103"/><use href="#zsp" fill="#f028f0" style="color:#f028f0" opacity="0.01" filter="url(#b6)"/><use href="#zs" fill="#f028f0" opacity="0.03" filter="url(#gz)"/><g style="mix-blend-mode:screen"><use href="#zsb" fill="#e6ec3c" style="color:#e6ec3c" filter="url(#b3)"/><use href="#zsg" fill="#e6ec3c" style="color:#e6ec3c" filter="url(#b15)"/><use href="#zg" fill="#e6ec3c" filter="url(#gz)"/></g></g><ellipse cx="218" cy="651.5" rx="2.2" ry="1.8" fill="#fff" fill-opacity="0.85" filter="url(#b1)"/><text x="5.6" y="651.5" fill="#fff" font-size="13.4">18 h</text><defs><g id="ts"><ellipse cx="138.2" cy="19.1" rx=".8" ry=".8" fill-opacity=".85"/><ellipse cx="146.1" cy="7.3" rx="1" ry="1" fill-opacity=".74"/><ellipse cx="135.6" cy="25.6" rx="1" ry="1" fill-opacity=".61"/><ellipse cx="143.1" cy="26.5" rx="1" ry="1" fill-opacity=".69"/><ellipse cx="142" cy="2.6" rx=".8" ry=".8" fill-opacity=".44"/><ellipse cx="138.7" cy="40.4" rx="1" ry="1" fill-opacity=".49"/><ellipse cx="136.8" cy="38.5" rx=".9" ry=".9" fill-opacity=".61"/><ellipse cx="136.1" cy="41.4" rx="1.1" ry="1.1" fill-opacity=".91"/><ellipse cx="135.1" cy="44.8" rx=".8" ry=".8" fill-opacity=".44"/><ellipse cx="137.2" cy="42.9" rx=".9" ry=".9" fill-opacity=".72"/><ellipse cx="141.1" cy="21.8" rx=".7" ry=".7" fill-opacity=".73"/><ellipse cx="146.6" cy="13.7" rx=".7" ry=".7" fill-opacity=".77"/><ellipse cx="140.9" cy="32.8" rx=".8" ry=".8" fill-opacity=".74"/><ellipse cx="135.2" cy="49.8" rx="1" ry="1" fill-opacity=".72"/><ellipse cx="140.1" cy="29.2" rx="1.1" ry="1.1" fill-opacity=".73"/><ellipse cx="140" cy="29" rx=".7" ry=".7" fill-opacity=".53"/><ellipse cx="140.7" cy="21.9" rx="1" ry="1" fill-opacity="1"/><ellipse cx="141.6" cy="24.6" rx="1.1" ry="1.1" fill-opacity=".91"/><ellipse cx="142.3" cy="22.6" rx="1" ry="1" fill-opacity=".56"/><ellipse cx="134.9" cy="35.7" rx=".8" ry=".8" fill-opacity=".53"/><ellipse cx="136.8" cy="45" rx="1" ry="1" fill-opacity="1"/><ellipse cx="134.2" cy="48.9" rx="1.1" ry="1.1" fill-opacity=".95"/><ellipse cx="136.6" cy="48.5" rx="1.1" ry="1.1" fill-opacity=".56"/><ellipse cx="140.2" cy="29.2" rx="1.1" ry="1.1" fill-opacity="1"/><ellipse cx="144.2" cy="8.3" rx="1.1" ry="1.1" fill-opacity=".82"/><ellipse cx="133.6" cy="45.4" rx=".9" ry=".9" fill-opacity=".71"/><ellipse cx="134" cy="47" rx=".7" ry=".7" fill-opacity=".68"/><ellipse cx="141.1" cy="9.5" rx="1" ry="1" fill-opacity=".56"/><ellipse cx="132.5" cy="47.8" rx=".8" ry=".8" fill-opacity=".61"/><ellipse cx="130.1" cy="50.2" rx=".8" ry=".8" fill-opacity=".89"/><ellipse cx="136.1" cy="52.6" rx=".9" ry=".9" fill-opacity=".48"/><ellipse cx="143.6" cy="17.5" rx="1.1" ry="1.1" fill-opacity=".43"/><ellipse cx="139.5" cy="10" rx=".9" ry=".9" fill-opacity=""/><ellipse cx="142" cy="20.3" rx="1.1" ry="1.1" fill-opacity=".7"/><ellipse cx="137" cy="32" rx="1" ry="1" fill-opacity=".56"/><ellipse cx="146.1" cy=".4" rx=".9" ry=".9" fill-opacity=".47"/><ellipse cx="135.3" cy="42.9" rx=".8" ry=".8" fill-opacity=".66"/><ellipse cx="132.2" cy="43.1" rx=".7" ry=".7" fill-opacity=".5"/><ellipse cx="147.3" cy="3.6" rx=".7" ry=".7" fill-opacity=".99"/><ellipse cx="142.6" cy="4.7" rx="1" ry="1" fill-opacity=".94"/><ellipse cx="138.4" cy="25.7" rx=".9" ry=".9" fill-opacity=".77"/><ellipse cx="141.3" cy="26.8" rx=".8" ry=".8" fill-opacity=".61"/><ellipse cx="140.4" cy="31.3" rx="1.1" ry="1.1" fill-opacity=".95"/><ellipse cx="140.6" cy="26.6" rx="1" ry="1" fill-opacity=".99"/><ellipse cx="139.4" cy="33.4" rx=".8" ry=".8" fill-opacity=".77"/><ellipse cx="142" cy="6.7" rx="1.1" ry="1.1" fill-opacity=".63"/><ellipse cx="138.7" cy="34" rx="1.1" ry="1.1" fill-opacity="1"/><ellipse cx="144.5" cy="15.1" rx=".8" ry=".8" fill-opacity="1"/><ellipse cx="75.1" cy="25.5" rx=".8" ry=".8" fill-opacity=".45"/><ellipse cx="72.8" cy="19.5" rx=".8" ry=".8" fill-opacity="1"/><ellipse cx="81.8" cy="29.2" rx="1.1" ry="1.1" fill-opacity=".89"/><ellipse cx="102.3" cy="40.4" rx=".8" ry=".8" fill-opacity=".61"/><ellipse cx="68.8" cy="23" rx=".7" ry=".7" fill-opacity=".77"/><ellipse cx="94.4" cy="30.7" rx="1" ry="1" fill-opacity=".68"/><ellipse cx="66.6" cy="20.1" rx=".9" ry=".9" fill-opacity=".54"/><ellipse cx="58.9" cy="13.6" rx=".8" ry=".8" fill-opacity=".63"/><ellipse cx="36.6" cy="9.3" rx=".9" ry=".9" fill-opacity="1"/><ellipse cx="66.1" cy="18.6" rx="1" ry="1" fill-opacity="1"/><ellipse cx="70.6" cy="24.1" rx="1" ry="1" fill-opacity=".82"/><ellipse cx="59.8" cy="12.9" rx="1.1" ry="1.1" fill-opacity=".9"/><ellipse cx="49.3" cy="14.6" rx="1.1" ry="1.1" fill-opacity="1"/><ellipse cx="59.5" cy="16.2" rx="1" ry="1" fill-opacity="1"/><ellipse cx="99.4" cy="35.8" rx=".8" ry=".8" fill-opacity=".5"/><ellipse cx="73.7" cy="21" rx="1.1" ry="1.1" fill-opacity=".44"/><ellipse cx="73.4" cy="20.3" rx="1" ry="1" fill-opacity=".65"/><ellipse cx="76.8" cy="23.9" rx=".9" ry=".9" fill-opacity=".85"/><ellipse cx="99.9" cy="38.1" rx=".9" ry=".9" fill-opacity=".93"/><ellipse cx="48" cy="10.3" rx=".7" ry=".7" fill-opacity=".69"/><ellipse cx="92.8" cy="40.8" rx=".8" ry=".8" fill-opacity=".48"/><ellipse cx="106.9" cy="43.3" rx=".9" ry=".9" fill-opacity=".42"/><ellipse cx="96.5" cy="42.9" rx="1.1" ry="1.1" fill-opacity=".67"/><ellipse cx="79.5" cy="26.2" rx="1.1" ry="1.1" fill-opacity=".93"/><ellipse cx="33.5" cy="7.5" rx="1.1" ry="1.1" fill-opacity="1"/><ellipse cx="44.8" cy="11" rx="1" ry="1" fill-opacity=".49"/><ellipse cx="87.6" cy="32.5" rx="1" ry="1" fill-opacity=".61"/><ellipse cx="53.9" cy="11.5" rx="1" ry="1" fill-opacity=".46"/><ellipse cx="100.7" cy="41" rx="1.1" ry="1.1" fill-opacity=".85"/><ellipse cx="44.5" cy="8.6" rx=".8" ry=".8" fill-opacity=".98"/><ellipse cx="69.1" cy="17" rx=".9" ry=".9" fill-opacity=".53"/><ellipse cx="42.3" cy="7.7" rx=".7" ry=".7" fill-opacity=".71"/><ellipse cx="45.9" cy="8.5" rx=".8" ry=".8" fill-opacity=".93"/><ellipse cx="91.5" cy="34" rx=".9" ry=".9" fill-opacity="1"/><ellipse cx="44.3" cy="11.4" rx="1.1" ry="1.1" fill-opacity=".49"/><ellipse cx="37.8" cy="8.2" rx="1" ry="1" fill-opacity=".58"/><ellipse cx="58.5" cy="17.1" rx="1.1" ry="1.1" fill-opacity=".73"/><ellipse cx="50.5" cy="10.8" rx=".7" ry=".7" fill-opacity=".73"/><ellipse cx="59.3" cy="16.3" rx=".9" ry=".9" fill-opacity=".71"/><ellipse cx="43.8" cy="7.3" rx=".8" ry=".8" fill-opacity=".99"/><ellipse cx="48.2" cy="6" rx=".8" ry=".8" fill-opacity=".45"/><ellipse cx="80.2" cy="24.4" rx=".9" ry=".9" fill-opacity=".9"/><ellipse cx="74.7" cy="26.8" rx=".7" ry=".7" fill-opacity=".72"/><ellipse cx="63.7" cy="15.4" rx="1.1" ry="1.1" fill-opacity=".88"/><ellipse cx="70" cy="24.1" rx=".7" ry=".7" fill-opacity="1"/><ellipse cx="114.9" cy="53.2" rx=".8" ry=".8" fill-opacity=".97"/><ellipse cx="41.9" cy="9.7" rx="1.1" ry="1.1" fill-opacity=".98"/><ellipse cx="109" cy="47.3" rx=".9" ry=".9" fill-opacity=".48"/><ellipse cx="89.6" cy="36.7" rx="1.1" ry="1.1" fill-opacity=".52"/><ellipse cx="74.1" cy="15.7" rx="1.1" ry="1.1" fill-opacity=".49"/><ellipse cx="54.1" cy="13.2" rx="1" ry="1" fill-opacity=".83"/><ellipse cx="56" cy="12.9" rx="1.1" ry="1.1" fill-opacity="1"/><ellipse cx="55.7" cy="11.6" rx=".9" ry=".9" fill-opacity=".81"/><ellipse cx="82.2" cy="24.4" rx=".9" ry=".9" fill-opacity="1"/><ellipse cx="70.7" cy="18.6" rx=".8" ry=".8" fill-opacity=".59"/><ellipse cx="84.3" cy="30.9" rx="1" ry="1" fill-opacity=".55"/><ellipse cx="81.3" cy="25.7" rx=".8" ry=".8" fill-opacity=".93"/><ellipse cx="103.3" cy="44" rx="1" ry="1" fill-opacity=".48"/><ellipse cx="92.6" cy="29.8" rx="1" ry="1" fill-opacity=".53"/><ellipse cx="87.7" cy="21" rx=".7" ry=".7" fill-opacity=".38"/><ellipse cx="88.8" cy="13.1" rx=".9" ry=".9" fill-opacity=".92"/><ellipse cx="90.3" cy="10.5" rx=".9" ry=".9" fill-opacity=".36"/><ellipse cx="98.6" cy="38.6" rx=".9" ry=".9" fill-opacity=".62"/><ellipse cx="85.7" cy="13.3" rx=".8" ry=".8" fill-opacity=".93"/><ellipse cx="92.3" cy="15.4" rx="1.1" ry="1.1" fill-opacity=".39"/><ellipse cx="102.1" cy="44.7" rx="1" ry="1" fill-opacity=".78"/><ellipse cx="85" cy="5" rx="1.1" ry="1.1" fill-opacity=".45"/><ellipse cx="96.5" cy="32.2" rx="1.1" ry="1.1" fill-opacity=".79"/><ellipse cx="91.5" cy="12.6" rx="1.1" ry="1.1" fill-opacity=".92"/><ellipse cx="87" cy="16.6" rx=".8" ry=".8" fill-opacity=".5"/><ellipse cx="98" cy="35.6" rx=".8" ry=".8" fill-opacity=".47"/><ellipse cx="89.2" cy="12.1" rx="1" ry="1" fill-opacity=".87"/><ellipse cx="90.2" cy="21.4" rx="1.1" ry="1.1" fill-opacity=".83"/><ellipse cx="92.4" cy="23.3" rx="1.1" ry="1.1" fill-opacity=".66"/><ellipse cx="97.1" cy="37.4" rx="1.1" ry="1.1" fill-opacity=".59"/><ellipse cx="85" cy="1.5" rx=".8" ry=".8" fill-opacity=".72"/><ellipse cx="87.7" cy="22.2" rx=".9" ry=".9" fill-opacity=".7"/><ellipse cx="84" cy="1.9" rx="1" ry="1" fill-opacity=".58"/><ellipse cx="92.3" cy="30.8" rx=".8" ry=".8" fill-opacity=".67"/><ellipse cx="95.4" cy="33.7" rx="1" ry="1" fill-opacity=".69"/><ellipse cx="101" cy="36.5" rx=".7" ry=".7" fill-opacity=".84"/><ellipse cx="91.6" cy="26.6" rx=".8" ry=".8" fill-opacity=".52"/><ellipse cx="85.8" cy="17.2" rx="1.1" ry="1.1" fill-opacity=".38"/><ellipse cx="89.4" cy="6.1" rx=".9" ry=".9" fill-opacity=".49"/><ellipse cx="87.6" cy="6.6" rx=".8" ry=".8" fill-opacity=".76"/><ellipse cx="106.3" cy="48.8" rx=".9" ry=".9" fill-opacity=".67"/><ellipse cx="91.6" cy="24.2" rx="1.1" ry="1.1" fill-opacity=".74"/><ellipse cx="87.4" cy="21.6" rx="1" ry="1" fill-opacity=".5"/><ellipse cx="99.3" cy="44.6" rx=".9" ry=".9" fill-opacity=".43"/><ellipse cx="92.9" cy="21.1" rx=".9" ry=".9" fill-opacity=".51"/><ellipse cx="102.7" cy="41.1" rx="1" ry="1" fill-opacity=".63"/><ellipse cx="90.4" cy="15.1" rx=".8" ry=".8" fill-opacity=".54"/><ellipse cx="46.2" cy="94.5" rx="1.1" ry="1.1" fill-opacity=".91"/><ellipse cx="55.4" cy="88.4" rx="1.1" ry="1.1" fill-opacity=".94"/><ellipse cx="50.1" cy="88.7" rx="1" ry="1" fill-opacity=".75"/><ellipse cx="59.4" cy="89.7" rx=".8" ry=".8" fill-opacity=".58"/><ellipse cx="24.2" cy="97.8" rx=".9" ry=".9" fill-opacity=".8"/><ellipse cx="78.8" cy="78.1" rx=".8" ry=".8" fill-opacity=".5"/><ellipse cx="21.6" cy="99.3" rx=".9" ry=".9" fill-opacity=".74"/><ellipse cx="67.1" cy="86.8" rx="1" ry="1" fill-opacity=".55"/><ellipse cx="91.1" cy="76.9" rx="1.1" ry="1.1" fill-opacity=".55"/><ellipse cx="68.9" cy="85.9" rx=".9" ry=".9" fill-opacity=".68"/><ellipse cx="39.4" cy="92.3" rx=".8" ry=".8" fill-opacity=".43"/><ellipse cx="47.9" cy="86.9" rx="1.1" ry="1.1" fill-opacity=".51"/><ellipse cx="85.4" cy="79" rx=".9" ry=".9" fill-opacity="1"/><ellipse cx="102.5" cy="73.8" rx="1.1" ry="1.1" fill-opacity=".47"/><ellipse cx="14" cy="98.4" rx=".9" ry=".9" fill-opacity=".86"/><ellipse cx="14" cy="97.7" rx=".9" ry=".9" fill-opacity=".47"/><ellipse cx="82.5" cy="77.1" rx="1" ry="1" fill-opacity=".94"/><ellipse cx="36.6" cy="97.9" rx="1" ry="1" fill-opacity=".72"/><ellipse cx="36.3" cy="95.3" rx=".8" ry=".8" fill-opacity=".87"/><ellipse cx="82.7" cy="79.6" rx=".9" ry=".9" fill-opacity=".98"/><ellipse cx="17.1" cy="99.8" rx="1.1" ry="1.1" fill-opacity=".85"/><ellipse cx="53.9" cy="89.3" rx="1.1" ry="1.1" fill-opacity=".42"/><ellipse cx="31.7" cy="94.1" rx=".8" ry=".8" fill-opacity=".74"/><ellipse cx="92.2" cy="75.2" rx="1.1" ry="1.1" fill-opacity=".88"/><ellipse cx="27.6" cy="97.8" rx=".7" ry=".7" fill-opacity=".91"/><ellipse cx="98.2" cy="75.3" rx="1.1" ry="1.1" fill-opacity=".94"/><ellipse cx="66.4" cy="87.3" rx=".8" ry=".8" fill-opacity=".75"/><ellipse cx="96.6" cy="74.2" rx="1.1" ry="1.1" fill-opacity=".42"/><ellipse cx="3.2" cy="103" rx="1" ry="1" fill-opacity=".46"/><ellipse cx="13.8" cy="99.6" rx=".8" ry=".8" fill-opacity=""/><ellipse cx="29.3" cy="93.4" rx="1" ry="1" fill-opacity=".77"/><ellipse cx="30.2" cy="97.2" rx="1" ry="1" fill-opacity=".79"/><ellipse cx="78" cy="82.2" rx=".9" ry=".9" fill-opacity=".52"/><ellipse cx="76.1" cy="79.8" rx="1.1" ry="1.1" fill-opacity=".62"/><ellipse cx="1.3" cy="98.4" rx=".8" ry=".8" fill-opacity=".72"/><ellipse cx="65.7" cy="86" rx="1.1" ry="1.1" fill-opacity=".9"/><ellipse cx="58.2" cy="88.5" rx="1.1" ry="1.1" fill-opacity=".83"/><ellipse cx="44" cy="93.1" rx=".9" ry=".9" fill-opacity=".95"/><ellipse cx="99.1" cy="69.7" rx="1" ry="1" fill-opacity="1"/><ellipse cx="87.6" cy="77.9" rx="1.1" ry="1.1" fill-opacity=".71"/><ellipse cx="51" cy="89.4" rx="1.1" ry="1.1" fill-opacity=".99"/><ellipse cx="43.7" cy="92.3" rx="1.1" ry="1.1" fill-opacity=".63"/><ellipse cx="53.8" cy="88.9" rx=".9" ry=".9" fill-opacity=".83"/><ellipse cx="71.1" cy="80.1" rx="1" ry="1" fill-opacity=".99"/><ellipse cx="61" cy="87.7" rx=".9" ry=".9" fill-opacity="1"/><ellipse cx="84.5" cy="75.9" rx=".8" ry=".8" fill-opacity=".64"/><ellipse cx="58.3" cy="86.3" rx=".8" ry=".8" fill-opacity=".57"/><ellipse cx="77.9" cy="81.4" rx=".9" ry=".9" fill-opacity=".93"/><ellipse cx="46.6" cy="91.4" rx="1" ry="1" fill-opacity=".65"/><ellipse cx="65.1" cy="88.9" rx=".8" ry=".8" fill-opacity=".88"/><ellipse cx="100.5" cy="73.9" rx="1" ry="1" fill-opacity=".82"/><ellipse cx="27.7" cy="97.2" rx="1" ry="1" fill-opacity=".7"/><ellipse cx="88.2" cy="78.7" rx=".7" ry=".7" fill-opacity=".75"/><ellipse cx="12.7" cy="100.2" rx="1" ry="1" fill-opacity=".47"/><ellipse cx="9.3" cy="99.4" rx=".8" ry=".8" fill-opacity=".5"/><ellipse cx="64.1" cy="86.3" rx=".9" ry=".9" fill-opacity=".74"/><ellipse cx="52.1" cy="90.6" rx=".9" ry=".9" fill-opacity=".93"/><ellipse cx="44.9" cy="91.8" rx=".9" ry=".9" fill-opacity=".99"/><ellipse cx="75.3" cy="84.1" rx=".9" ry=".9" fill-opacity=".62"/><ellipse cx="82.3" cy="77" rx=".8" ry=".8" fill-opacity=".92"/><ellipse cx="94.1" cy="73.5" rx=".9" ry=".9" fill-opacity=".6"/><ellipse cx="97.1" cy="74.3" rx="1.1" ry="1.1" fill-opacity=".42"/><ellipse cx="79.1" cy="81.6" rx="1.1" ry="1.1" fill-opacity=".66"/><ellipse cx="68.4" cy="86.5" rx=".8" ry=".8" fill-opacity=".55"/><ellipse cx="74.5" cy="83.4" rx="1" ry="1" fill-opacity=".96"/><ellipse cx="39.2" cy="94.9" rx="1.1" ry="1.1" fill-opacity=".65"/><ellipse cx="31.7" cy="130.9" rx=".8" ry=".8" fill-opacity=".66"/><ellipse cx="83.2" cy="89" rx="1.1" ry="1.1" fill-opacity=".76"/><ellipse cx="50.4" cy="114.9" rx="1.1" ry="1.1" fill-opacity=".83"/><ellipse cx="91.3" cy="83.2" rx="1.1" ry="1.1" fill-opacity=".68"/><ellipse cx="96.5" cy="80.3" rx=".8" ry=".8" fill-opacity=".89"/><ellipse cx="32" cy="133.8" rx=".8" ry=".8" fill-opacity=".94"/><ellipse cx="48.9" cy="122.1" rx="1" ry="1" fill-opacity=".58"/><ellipse cx="42.8" cy="125.2" rx=".7" ry=".7" fill-opacity=".48"/><ellipse cx="35.9" cy="127" rx="1.1" ry="1.1" fill-opacity=".6"/><ellipse cx="83.1" cy="90.5" rx=".7" ry=".7" fill-opacity=".45"/><ellipse cx="34" cy="134.2" rx=".9" ry=".9" fill-opacity="1"/><ellipse cx="82.1" cy="91.8" rx=".9" ry=".9" fill-opacity=".71"/><ellipse cx="96.8" cy="79.9" rx="1.1" ry="1.1" fill-opacity=""/><ellipse cx="76.2" cy="95.6" rx="1.1" ry="1.1" fill-opacity=".49"/><ellipse cx="47.4" cy="120.6" rx="1" ry="1" fill-opacity=".98"/><ellipse cx="91.7" cy="81.5" rx=".8" ry=".8" fill-opacity="1"/><ellipse cx="29.1" cy="135.1" rx=".8" ry=".8" fill-opacity=".92"/><ellipse cx="97.7" cy="83.5" rx="1.1" ry="1.1" fill-opacity=".99"/><ellipse cx="82.8" cy="89.5" rx=".8" ry=".8" fill-opacity="1"/><ellipse cx="73.4" cy="100.9" rx="1.1" ry="1.1" fill-opacity=".79"/><ellipse cx="50.2" cy="115.1" rx=".8" ry=".8" fill-opacity=".73"/><ellipse cx="25.9" cy="137.8" rx=".9" ry=".9" fill-opacity="1"/><ellipse cx="95.4" cy="83.9" rx=".8" ry=".8" fill-opacity=".57"/><ellipse cx="63.1" cy="104.8" rx=".9" ry=".9" fill-opacity=".76"/><ellipse cx="53.4" cy="117.4" rx=".8" ry=".8" fill-opacity=".5"/><ellipse cx="38.4" cy="125.4" rx=".8" ry=".8" fill-opacity=".99"/><ellipse cx="79.4" cy="92.7" rx="1" ry="1" fill-opacity=".41"/><ellipse cx="83.1" cy="91.2" rx=".7" ry=".7" fill-opacity=".64"/><ellipse cx="55.2" cy="111.4" rx=".9" ry=".9" fill-opacity=".93"/><ellipse cx="41.3" cy="124" rx="1" ry="1" fill-opacity=".64"/><ellipse cx="90.2" cy="87.5" rx="1.1" ry="1.1" fill-opacity=".83"/><ellipse cx="80.7" cy="92.6" rx=".9" ry=".9" fill-opacity=".84"/><ellipse cx="45.7" cy="120.5" rx="1" ry="1" fill-opacity=".83"/><ellipse cx="42.7" cy="123.8" rx=".8" ry=".8" fill-opacity=".68"/><ellipse cx="94.9" cy="76.9" rx=".9" ry=".9" fill-opacity="1"/><ellipse cx="77.6" cy="95.5" rx=".8" ry=".8" fill-opacity=".44"/><ellipse cx="54.7" cy="113.9" rx="1" ry="1" fill-opacity=".78"/><ellipse cx="48.5" cy="123.8" rx="1" ry="1" fill-opacity=".92"/><ellipse cx="36.5" cy="130.3" rx="1" ry="1" fill-opacity=".76"/><ellipse cx="67.6" cy="100.3" rx=".9" ry=".9" fill-opacity=".83"/><ellipse cx="71.6" cy="98.4" rx=".8" ry=".8" fill-opacity=".66"/><ellipse cx="88.8" cy="85.6" rx=".9" ry=".9" fill-opacity=".94"/><ellipse cx="64.5" cy="104.3" rx=".9" ry=".9" fill-opacity="1"/><ellipse cx="93.9" cy="79.4" rx=".9" ry=".9" fill-opacity=".54"/><ellipse cx="70.8" cy="105.6" rx="1.1" ry="1.1" fill-opacity="1"/><ellipse cx="92.2" cy="84.3" rx=".8" ry=".8" fill-opacity=".89"/><ellipse cx="47.2" cy="119.4" rx=".8" ry=".8" fill-opacity=".85"/><ellipse cx="58.8" cy="107" rx=".7" ry=".7" fill-opacity="1"/><ellipse cx="88.5" cy="88.3" rx="1.1" ry="1.1" fill-opacity=".97"/><ellipse cx="27.2" cy="134" rx=".8" ry=".8" fill-opacity=".79"/><ellipse cx="85.9" cy="88" rx=".8" ry=".8" fill-opacity=".54"/><ellipse cx="46.7" cy="121.5" rx="1" ry="1" fill-opacity="1"/><ellipse cx="30.1" cy="130.6" rx=".8" ry=".8" fill-opacity=".56"/><ellipse cx="29.4" cy="129.7" rx="1.1" ry="1.1" fill-opacity=".98"/><ellipse cx="90.9" cy="86.6" rx=".8" ry=".8" fill-opacity=".93"/><ellipse cx="90.4" cy="83.3" rx=".9" ry=".9" fill-opacity=".98"/><ellipse cx="84.1" cy="92.7" rx="1.1" ry="1.1" fill-opacity=".71"/><ellipse cx="37.3" cy="129.3" rx="1.1" ry="1.1" fill-opacity=".92"/><ellipse cx="52.2" cy="113" rx=".9" ry=".9" fill-opacity=".89"/><ellipse cx="100.2" cy="79.6" rx="1.1" ry="1.1" fill-opacity=".79"/><ellipse cx="83" cy="89" rx=".8" ry=".8" fill-opacity=".96"/><ellipse cx="94.2" cy="114.1" rx="1.1" ry="1.1" fill-opacity=".49"/><ellipse cx="92.4" cy="113.6" rx="1" ry="1" fill-opacity=".79"/><ellipse cx="99.4" cy="94.1" rx=".8" ry=".8" fill-opacity=".76"/><ellipse cx="109.2" cy="83" rx="1" ry="1" fill-opacity=".6"/><ellipse cx="105.1" cy="89.5" rx=".9" ry=".9" fill-opacity=".68"/><ellipse cx="88.8" cy="125.6" rx="1" ry="1" fill-opacity=".48"/><ellipse cx="95.6" cy="103.1" rx="1.1" ry="1.1" fill-opacity=".6"/><ellipse cx="94.6" cy="108.8" rx=".9" ry=".9" fill-opacity=".89"/><ellipse cx="86" cy="130.9" rx=".8" ry=".8" fill-opacity=".93"/><ellipse cx="96.5" cy="104.2" rx=".8" ry=".8" fill-opacity=".56"/><ellipse cx="89.1" cy="127.7" rx="1.1" ry="1.1" fill-opacity=".69"/><ellipse cx="93.1" cy="116.8" rx=".8" ry=".8" fill-opacity=".62"/><ellipse cx="100.9" cy="96.7" rx=".9" ry=".9" fill-opacity=".92"/><ellipse cx="108.9" cy="75.6" rx="1" ry="1" fill-opacity=".8"/><ellipse cx="84.9" cy="131.9" rx=".8" ry=".8" fill-opacity=".6"/><ellipse cx="104.1" cy="96.3" rx="1" ry="1" fill-opacity=""/><ellipse cx="86.6" cy="127.8" rx=".8" ry=".8" fill-opacity=".69"/><ellipse cx="97.5" cy="93.9" rx=".7" ry=".7" fill-opacity=".85"/><ellipse cx="100.9" cy="88.6" rx="1.1" ry="1.1" fill-opacity=".85"/><ellipse cx="89.9" cy="131.1" rx=".7" ry=".7" fill-opacity=".91"/><ellipse cx="101.3" cy="93" rx="1.1" ry="1.1" fill-opacity=".72"/><ellipse cx="103.9" cy="92.4" rx="1" ry="1" fill-opacity=".65"/><ellipse cx="107.1" cy="80.3" rx=".8" ry=".8" fill-opacity=".5"/><ellipse cx="87.6" cy="127.7" rx="1.1" ry="1.1" fill-opacity=".57"/><ellipse cx="106.1" cy="84.6" rx=".7" ry=".7" fill-opacity=".86"/><ellipse cx="89.5" cy="126.7" rx="1" ry="1" fill-opacity=".65"/><ellipse cx="103.1" cy="100.5" rx=".8" ry=".8" fill-opacity=".41"/><ellipse cx="96.7" cy="101" rx=".7" ry=".7" fill-opacity=".41"/><ellipse cx="93" cy="113.4" rx="1" ry="1" fill-opacity=".95"/><ellipse cx="102.2" cy="91.9" rx=".9" ry=".9" fill-opacity=".85"/><ellipse cx="97.4" cy="109.5" rx="1.1" ry="1.1" fill-opacity=".66"/><ellipse cx="93.9" cy="107.8" rx=".9" ry=".9" fill-opacity="1"/><ellipse cx="95.8" cy="99.3" rx="1.1" ry="1.1" fill-opacity=".71"/><ellipse cx="111.2" cy="76.3" rx=".8" ry=".8" fill-opacity=".72"/><ellipse cx="95.7" cy="94.6" rx=".9" ry=".9" fill-opacity=".95"/><ellipse cx="101.4" cy="97.6" rx=".9" ry=".9" fill-opacity=".57"/><ellipse cx="90.5" cy="119.2" rx=".8" ry=".8" fill-opacity=".59"/><ellipse cx="89" cy="128" rx=".7" ry=".7" fill-opacity=".86"/><ellipse cx="105.6" cy="91.6" rx=".9" ry=".9" fill-opacity=".71"/><ellipse cx="93.8" cy="111.7" rx="1" ry="1" fill-opacity=".95"/><ellipse cx="101.4" cy="95" rx=".9" ry=".9" fill-opacity=".58"/><ellipse cx="95.5" cy="104.2" rx=".8" ry=".8" fill-opacity="1"/><ellipse cx="98.9" cy="106.7" rx=".9" ry=".9" fill-opacity=".71"/><ellipse cx="98.5" cy="97.5" rx=".8" ry=".8" fill-opacity=".48"/><ellipse cx="102.3" cy="86.8" rx=".8" ry=".8" fill-opacity=".84"/><ellipse cx="93.2" cy="108.2" rx="1" ry="1" fill-opacity="1"/><ellipse cx="105.3" cy="77.2" rx=".9" ry=".9" fill-opacity=".84"/><ellipse cx="97.2" cy="105" rx=".9" ry=".9" fill-opacity=".83"/><ellipse cx="118.4" cy="132.6" rx=".9" ry=".9" fill-opacity=".88"/><ellipse cx="121.3" cy="92.5" rx="1.1" ry="1.1" fill-opacity=".67"/><ellipse cx="117.8" cy="81" rx="1.1" ry="1.1" fill-opacity=".99"/><ellipse cx="116.9" cy="87.5" rx=".8" ry=".8" fill-opacity=".51"/><ellipse cx="119.5" cy="94.5" rx=".8" ry=".8" fill-opacity="1"/><ellipse cx="117.2" cy="124.1" rx=".9" ry=".9" fill-opacity=".63"/><ellipse cx="117.8" cy="72.1" rx=".9" ry=".9" fill-opacity="1"/><ellipse cx="120.1" cy="76.7" rx="1" ry="1" fill-opacity=".83"/><ellipse cx="121" cy="126" rx="1" ry="1" fill-opacity=".53"/><ellipse cx="119.3" cy="106.7" rx="1.1" ry="1.1" fill-opacity="1"/><ellipse cx="120.4" cy="132.1" rx=".8" ry=".8" fill-opacity=".76"/><ellipse cx="122.1" cy="129.7" rx="1.1" ry="1.1" fill-opacity=".45"/><ellipse cx="121.9" cy="94.9" rx="1" ry="1" fill-opacity="1"/><ellipse cx="119.2" cy="88.5" rx="1.1" ry="1.1" fill-opacity="1"/><ellipse cx="121" cy="133.8" rx="1" ry="1" fill-opacity=".73"/><ellipse cx="120" cy="74.7" rx="1" ry="1" fill-opacity=".41"/><ellipse cx="118.7" cy="130.6" rx=".8" ry=".8" fill-opacity=".72"/><ellipse cx="121" cy="103.1" rx=".9" ry=".9" fill-opacity=".9"/><ellipse cx="116.4" cy="121.2" rx="1" ry="1" fill-opacity="1"/><ellipse cx="121" cy="131.9" rx="1.1" ry="1.1" fill-opacity=".53"/><ellipse cx="123.5" cy="102.6" rx="1.1" ry="1.1" fill-opacity=".7"/><ellipse cx="118" cy="116.5" rx="1.1" ry="1.1" fill-opacity=".45"/><ellipse cx="118.3" cy="113.1" rx=".8" ry=".8" fill-opacity=".63"/><ellipse cx="121.9" cy="133" rx=".9" ry=".9" fill-opacity=".51"/><ellipse cx="118.3" cy="75.8" rx=".8" ry=".8" fill-opacity=".68"/><ellipse cx="121" cy="76.1" rx="1" ry="1" fill-opacity="1"/><ellipse cx="121" cy="81.4" rx="1" ry="1" fill-opacity=".95"/><ellipse cx="119.6" cy="128.5" rx="1.1" ry="1.1" fill-opacity=".58"/><ellipse cx="113.8" cy="81.6" rx="1" ry="1" fill-opacity=".56"/><ellipse cx="120.1" cy="112.7" rx=".8" ry=".8" fill-opacity=".56"/><ellipse cx="119.2" cy="75" rx=".8" ry=".8" fill-opacity=".63"/><ellipse cx="120.5" cy="131.4" rx="1.1" ry="1.1" fill-opacity=".53"/><ellipse cx="116.7" cy="100.5" rx="1" ry="1" fill-opacity=".43"/><ellipse cx="118.6" cy="86.6" rx="1.1" ry="1.1" fill-opacity=".43"/><ellipse cx="120.1" cy="77.2" rx="1.1" ry="1.1" fill-opacity=".72"/><ellipse cx="123.3" cy="134.7" rx=".9" ry=".9" fill-opacity=".88"/><ellipse cx="120.5" cy="122.7" rx=".8" ry=".8" fill-opacity="1"/><ellipse cx="121.9" cy="75.2" rx=".8" ry=".8" fill-opacity=".69"/><ellipse cx="114.8" cy="106" rx=".9" ry=".9" fill-opacity=".62"/><ellipse cx="119.6" cy="131.7" rx=".7" ry=".7" fill-opacity=".97"/><ellipse cx="117.8" cy="107.1" rx=".8" ry=".8" fill-opacity=".64"/><ellipse cx="120.3" cy="95" rx="1.1" ry="1.1" fill-opacity=".84"/><ellipse cx="113.9" cy="114.7" rx=".8" ry=".8" fill-opacity="1"/><ellipse cx="119.5" cy="113.3" rx="1.1" ry="1.1" fill-opacity=".46"/><ellipse cx="120" cy="83.9" rx="1.1" ry="1.1" fill-opacity=".9"/><ellipse cx="117.4" cy="134.9" rx=".7" ry=".7" fill-opacity=".6"/><ellipse cx="120.1" cy="81.6" rx="1.1" ry="1.1" fill-opacity=".51"/><ellipse cx="117.7" cy="120.2" rx=".8" ry=".8" fill-opacity=".55"/><ellipse cx="145.4" cy="113.9" rx="1.1" ry="1.1" fill-opacity=".66"/><ellipse cx="139.2" cy="90.4" rx="1" ry="1" fill-opacity=".5"/><ellipse cx="130.1" cy="81.1" rx="1.1" ry="1.1" fill-opacity=".98"/><ellipse cx="140.1" cy="106.4" rx=".7" ry=".7" fill-opacity=".63"/><ellipse cx="154.7" cy="132.2" rx=".8" ry=".8" fill-opacity="1"/><ellipse cx="150.5" cy="131.7" rx=".9" ry=".9" fill-opacity=".41"/><ellipse cx="128.4" cy="79.4" rx="1" ry="1" fill-opacity=".78"/><ellipse cx="150" cy="133" rx="1" ry="1" fill-opacity="1"/><ellipse cx="141.3" cy="114" rx=".9" ry=".9" fill-opacity=".56"/><ellipse cx="146.4" cy="119.1" rx=".8" ry=".8" fill-opacity=".96"/><ellipse cx="134.9" cy="85.6" rx=".9" ry=".9" fill-opacity=".52"/><ellipse cx="134" cy="94.1" rx="1.1" ry="1.1" fill-opacity=".92"/><ellipse cx="148" cy="116.6" rx="1.1" ry="1.1" fill-opacity=".98"/><ellipse cx="129.1" cy="80" rx=".7" ry=".7" fill-opacity=".59"/><ellipse cx="152.4" cy="134.2" rx=".9" ry=".9" fill-opacity=".5"/><ellipse cx="128.3" cy="75.6" rx=".9" ry=".9" fill-opacity=".49"/><ellipse cx="140.7" cy="109.4" rx="1" ry="1" fill-opacity=".74"/><ellipse cx="129.1" cy="76.9" rx="1.1" ry="1.1" fill-opacity=".62"/><ellipse cx="133.5" cy="86.5" rx=".9" ry=".9" fill-opacity="1"/><ellipse cx="142.7" cy="113.6" rx="1.1" ry="1.1" fill-opacity=".86"/><ellipse cx="135" cy="98.9" rx=".7" ry=".7" fill-opacity=".62"/><ellipse cx="129.5" cy="81.3" rx=".9" ry=".9" fill-opacity="1"/><ellipse cx="138.3" cy="86.3" rx=".9" ry=".9" fill-opacity=".79"/><ellipse cx="148.3" cy="129.1" rx="1.1" ry="1.1" fill-opacity=".77"/><ellipse cx="145.7" cy="114.3" rx=".9" ry=".9" fill-opacity=".61"/><ellipse cx="134" cy="85.3" rx="1.1" ry="1.1" fill-opacity=".85"/><ellipse cx="150.8" cy="120.4" rx=".8" ry=".8" fill-opacity=".88"/><ellipse cx="145.6" cy="118.7" rx=".9" ry=".9" fill-opacity=".54"/><ellipse cx="143.9" cy="122.6" rx=".8" ry=".8" fill-opacity=".43"/><ellipse cx="130.6" cy="79.2" rx="1.1" ry="1.1" fill-opacity=".49"/><ellipse cx="132.7" cy="80.3" rx=".9" ry=".9" fill-opacity=".44"/><ellipse cx="138.3" cy="108.7" rx="1" ry="1" fill-opacity=".74"/><ellipse cx="136.5" cy="90.9" rx=".9" ry=".9" fill-opacity=".42"/><ellipse cx="147.2" cy="121.6" rx=".8" ry=".8" fill-opacity=".96"/><ellipse cx="136.8" cy="91.6" rx="1" ry="1" fill-opacity=".75"/><ellipse cx="151.9" cy="130.3" rx=".9" ry=".9" fill-opacity=".98"/><ellipse cx="136.3" cy="85.2" rx="1.1" ry="1.1" fill-opacity=".64"/><ellipse cx="143.7" cy="94.2" rx=".9" ry=".9" fill-opacity=".99"/><ellipse cx="152.9" cy="134.4" rx=".9" ry=".9" fill-opacity=".92"/><ellipse cx="137.4" cy="100.1" rx=".9" ry=".9" fill-opacity=".61"/><ellipse cx="135.9" cy="82.4" rx="1.1" ry="1.1" fill-opacity=".71"/><ellipse cx="141.3" cy="100.1" rx="1.1" ry="1.1" fill-opacity="1"/><ellipse cx="133.9" cy="86.9" rx="1" ry="1" fill-opacity="1"/><ellipse cx="148.3" cy="120.4" rx=".9" ry=".9" fill-opacity=".95"/><ellipse cx="146.2" cy="113.7" rx="1.1" ry="1.1" fill-opacity=".44"/><ellipse cx="152.9" cy="130.3" rx="1.1" ry="1.1" fill-opacity="1"/><ellipse cx="135.6" cy="90.8" rx="1.1" ry="1.1" fill-opacity=".79"/><ellipse cx="129.9" cy="75" rx=".9" ry=".9" fill-opacity=".47"/><ellipse cx="151.1" cy="79" rx="1.1" ry="1.1" fill-opacity=".56"/><ellipse cx="156.2" cy="82.6" rx=".9" ry=".9" fill-opacity=".46"/><ellipse cx="222.2" cy="108.2" rx=".9" ry=".9" fill-opacity=".39"/><ellipse cx="222.3" cy="111" rx="1.1" ry="1.1" fill-opacity=".45"/><ellipse cx="215.4" cy="110.9" rx=".7" ry=".7" fill-opacity=".41"/><ellipse cx="140.3" cy="73.4" rx="1" ry="1" fill-opacity=".81"/><ellipse cx="144.2" cy="75.4" rx=".9" ry=".9" fill-opacity=".9"/><ellipse cx="177.4" cy="87" rx=".9" ry=".9" fill-opacity=".71"/><ellipse cx="166.1" cy="81.7" rx=".7" ry=".7" fill-opacity=".81"/><ellipse cx="175.4" cy="97.1" rx="1.1" ry="1.1" fill-opacity=".36"/><ellipse cx="155.4" cy="82.3" rx=".8" ry=".8" fill-opacity=".47"/><ellipse cx="152.4" cy="80.2" rx=".8" ry=".8" fill-opacity=".7"/><ellipse cx="133.9" cy="70.7" rx="1" ry="1" fill-opacity=".89"/><ellipse cx="171.1" cy="86.9" rx="1" ry="1" fill-opacity=".44"/><ellipse cx="160" cy="85.4" rx=".9" ry=".9" fill-opacity=".71"/><ellipse cx="137.4" cy="72.7" rx=".9" ry=".9" fill-opacity=".81"/><ellipse cx="139.5" cy="73.9" rx=".8" ry=".8" fill-opacity=".61"/><ellipse cx="200.6" cy="101.7" rx="1" ry="1" fill-opacity=".55"/><ellipse cx="166.5" cy="87" rx="1.1" ry="1.1" fill-opacity=".54"/><ellipse cx="156.8" cy="81.5" rx=".8" ry=".8" fill-opacity=".56"/><ellipse cx="217.2" cy="105.1" rx=".8" ry=".8" fill-opacity=".55"/><ellipse cx="133.1" cy="69.6" rx=".8" ry=".8" fill-opacity=".52"/><ellipse cx="163.6" cy="86.4" rx=".9" ry=".9" fill-opacity=".86"/><ellipse cx="160.9" cy="87.8" rx=".7" ry=".7" fill-opacity=".42"/><ellipse cx="162.1" cy="82.2" rx=".7" ry=".7" fill-opacity=".72"/><ellipse cx="159.8" cy="86" rx=".8" ry=".8" fill-opacity=".79"/><ellipse cx="179.7" cy="94.7" rx="1" ry="1" fill-opacity=".65"/><ellipse cx="153.1" cy="82.5" rx="1.1" ry="1.1" fill-opacity=".78"/><ellipse cx="222.2" cy="112.5" rx=".9" ry=".9" fill-opacity=".55"/><ellipse cx="161.4" cy="86" rx="1.1" ry="1.1" fill-opacity=".36"/><ellipse cx="197.2" cy="96.3" rx=".9" ry=".9" fill-opacity=".77"/><ellipse cx="175.2" cy="87.3" rx="1.1" ry="1.1" fill-opacity=".61"/><ellipse cx="191.5" cy="97.9" rx="1.1" ry="1.1" fill-opacity=".86"/><ellipse cx="230.7" cy="110.7" rx="1.1" ry="1.1" fill-opacity=".4"/><ellipse cx="207.4" cy="104.6" rx=".9" ry=".9" fill-opacity=".82"/><ellipse cx="169.3" cy="83.9" rx=".9" ry=".9" fill-opacity=".89"/><ellipse cx="192.7" cy="100.8" rx=".8" ry=".8" fill-opacity=".36"/><ellipse cx="187.2" cy="89" rx="1" ry="1" fill-opacity=".59"/><ellipse cx="159.4" cy="88.1" rx=".9" ry=".9" fill-opacity=".92"/><ellipse cx="141.1" cy="74.8" rx="1" ry="1" fill-opacity=".82"/><ellipse cx="162.5" cy="78.2" rx="1.1" ry="1.1" fill-opacity=".71"/><ellipse cx="172.7" cy="89.3" rx=".8" ry=".8" fill-opacity=".37"/><ellipse cx="202.7" cy="101.7" rx=".9" ry=".9" fill-opacity=".54"/><ellipse cx="185" cy="90.8" rx=".9" ry=".9" fill-opacity=".76"/><ellipse cx="137.4" cy="70.3" rx=".8" ry=".8" fill-opacity=".35"/><ellipse cx="223.7" cy="111.9" rx="1.1" ry="1.1" fill-opacity=".49"/><ellipse cx="156.5" cy="78.2" rx=".8" ry=".8" fill-opacity=".78"/><ellipse cx="189.2" cy="92.2" rx=".7" ry=".7" fill-opacity=".93"/><ellipse cx="214" cy="107.3" rx=".8" ry=".8" fill-opacity=".54"/><ellipse cx="154.9" cy="83.2" rx=".9" ry=".9" fill-opacity=".77"/><ellipse cx="222.4" cy="112.4" rx=".8" ry=".8" fill-opacity=".85"/><ellipse cx="200.3" cy="101.9" rx=".8" ry=".8" fill-opacity=".71"/><ellipse cx="166.5" cy="64" rx="1.1" ry="1.1" fill-opacity=".9"/><ellipse cx="199.4" cy="67.8" rx=".9" ry=".9" fill-opacity=".4"/><ellipse cx="156.3" cy="60.6" rx="1.1" ry="1.1" fill-opacity=".73"/><ellipse cx="204" cy="68.8" rx=".8" ry=".8" fill-opacity=".35"/><ellipse cx="164" cy="64.5" rx="1.1" ry="1.1" fill-opacity=".51"/><ellipse cx="172.1" cy="60.5" rx=".7" ry=".7" fill-opacity=".89"/><ellipse cx="173.5" cy="60.9" rx="1.1" ry="1.1" fill-opacity=".48"/><ellipse cx="180.7" cy="64.2" rx=".8" ry=".8" fill-opacity=".7"/><ellipse cx="189.4" cy="65.9" rx=".8" ry=".8" fill-opacity=".75"/><ellipse cx="189.3" cy="68.4" rx=".9" ry=".9" fill-opacity=".5"/><ellipse cx="171.8" cy="62.4" rx=".7" ry=".7" fill-opacity=".52"/><ellipse cx="171.8" cy="64.9" rx="1" ry="1" fill-opacity=".72"/><ellipse cx="143.1" cy="63.3" rx=".7" ry=".7" fill-opacity=".75"/><ellipse cx="136.1" cy="63.2" rx="1" ry="1" fill-opacity=".75"/><ellipse cx="153.6" cy="61.9" rx="1" ry="1" fill-opacity=".94"/><ellipse cx="190.4" cy="62.6" rx="1" ry="1" fill-opacity=".82"/><ellipse cx="164.7" cy="63.3" rx=".9" ry=".9" fill-opacity=".7"/><ellipse cx="219.5" cy="69.1" rx="1" ry="1" fill-opacity=".69"/><ellipse cx="219.4" cy="69.2" rx="1.1" ry="1.1" fill-opacity=".44"/><ellipse cx="203.6" cy="63.9" rx="1.1" ry="1.1" fill-opacity=".34"/><ellipse cx="221.1" cy="62.5" rx="1.1" ry="1.1" fill-opacity=".56"/><ellipse cx="170" cy="65.5" rx="1.1" ry="1.1" fill-opacity=".7"/><ellipse cx="205.3" cy="64.7" rx=".9" ry=".9" fill-opacity=".44"/><ellipse cx="141.4" cy="62.5" rx="1.1" ry="1.1" fill-opacity=".56"/><ellipse cx="146.3" cy="62.5" rx=".8" ry=".8" fill-opacity=".82"/><ellipse cx="166.6" cy="62.8" rx=".8" ry=".8" fill-opacity=".34"/><ellipse cx="216.3" cy="65.5" rx=".9" ry=".9" fill-opacity=".47"/><ellipse cx="141.5" cy="65.1" rx="1.1" ry="1.1" fill-opacity=".51"/><ellipse cx="156.3" cy="67.2" rx=".8" ry=".8" fill-opacity=".58"/><ellipse cx="225.6" cy="66.9" rx="1" ry="1" fill-opacity=".82"/><ellipse cx="172.6" cy="61" rx=".7" ry=".7" fill-opacity=".91"/><ellipse cx="173.2" cy="65" rx=".8" ry=".8" fill-opacity=".47"/><ellipse cx="142.5" cy="64.2" rx=".8" ry=".8" fill-opacity=".88"/><ellipse cx="161.7" cy="64.2" rx=".8" ry=".8" fill-opacity=".63"/><ellipse cx="199" cy="63.8" rx="1.1" ry="1.1" fill-opacity=".35"/><ellipse cx="171.9" cy="64.6" rx="1" ry="1" fill-opacity=".84"/><ellipse cx="157" cy="62.6" rx=".9" ry=".9" fill-opacity=".59"/><ellipse cx="161.3" cy="62.2" rx="1.1" ry="1.1" fill-opacity=".39"/><ellipse cx="217.6" cy="68.5" rx=".8" ry=".8" fill-opacity=".75"/><ellipse cx="147.9" cy="63.7" rx=".7" ry=".7" fill-opacity=".91"/><ellipse cx="229" cy="63.4" rx=".8" ry=".8" fill-opacity=".65"/><ellipse cx="158.5" cy="62" rx="1.1" ry="1.1" fill-opacity=".48"/><ellipse cx="177.4" cy="66" rx="1.1" ry="1.1" fill-opacity=".63"/><ellipse cx="204.6" cy="64.2" rx=".9" ry=".9" fill-opacity=".68"/><ellipse cx="226.7" cy="65" rx=".9" ry=".9" fill-opacity=".46"/><ellipse cx="201.8" cy="67.4" rx=".8" ry=".8" fill-opacity=".48"/><ellipse cx="182.8" cy="65.1" rx=".8" ry=".8" fill-opacity=".36"/><ellipse cx="174.9" cy="61.7" rx="1" ry="1" fill-opacity=".46"/><ellipse cx="158.3" cy="39.7" rx="1.1" ry="1.1" fill-opacity=".77"/><ellipse cx="181" cy="23.5" rx="1" ry="1" fill-opacity=".94"/><ellipse cx="159.3" cy="37.4" rx="1" ry="1" fill-opacity=".99"/><ellipse cx="149.9" cy="45.4" rx=".7" ry=".7" fill-opacity=".74"/><ellipse cx="168.8" cy="31.7" rx="1" ry="1" fill-opacity=".5"/><ellipse cx="146.4" cy="44.2" rx=".9" ry=".9" fill-opacity=".66"/><ellipse cx="202.1" cy="-.8" rx="1.1" ry="1.1" fill-opacity=".41"/><ellipse cx="197.6" cy="11.2" rx=".8" ry=".8" fill-opacity=".89"/><ellipse cx="166.7" cy="32" rx=".7" ry=".7" fill-opacity=".58"/><ellipse cx="153.5" cy="45.6" rx="1" ry="1" fill-opacity=".96"/><ellipse cx="193.7" cy="7" rx="1.1" ry="1.1" fill-opacity=".71"/><ellipse cx="204.1" cy="3.9" rx=".7" ry=".7" fill-opacity=".86"/><ellipse cx="167.1" cy="28.1" rx="1" ry="1" fill-opacity=".78"/><ellipse cx="178.5" cy="25" rx=".7" ry=".7" fill-opacity=".94"/><ellipse cx="144.3" cy="44.6" rx="1.1" ry="1.1" fill-opacity=".66"/><ellipse cx="145.7" cy="48.2" rx=".9" ry=".9" fill-opacity=".99"/><ellipse cx="180.1" cy="23.2" rx=".8" ry=".8" fill-opacity=".42"/><ellipse cx="173.7" cy="25" rx="1.1" ry="1.1" fill-opacity=".47"/><ellipse cx="140.3" cy="48.6" rx=".9" ry=".9" fill-opacity=".7"/><ellipse cx="168" cy="29.8" rx=".7" ry=".7" fill-opacity=".91"/><ellipse cx="165.2" cy="32.9" rx=".9" ry=".9" fill-opacity=".57"/><ellipse cx="153.2" cy="41.1" rx="1.1" ry="1.1" fill-opacity=".72"/><ellipse cx="200.4" cy="1.3" rx=".9" ry=".9" fill-opacity=".95"/><ellipse cx="195.7" cy="7.2" rx=".9" ry=".9" fill-opacity=".53"/><ellipse cx="146.7" cy="47.8" rx="1" ry="1" fill-opacity=".86"/><ellipse cx="171.5" cy="29.1" rx="1" ry="1" fill-opacity=".54"/><ellipse cx="139.7" cy="47.7" rx=".9" ry=".9" fill-opacity=".67"/><ellipse cx="160.2" cy="39" rx=".9" ry=".9" fill-opacity=".92"/><ellipse cx="172.2" cy="29.7" rx=".8" ry=".8" fill-opacity=".66"/><ellipse cx="174.3" cy="28.9" rx=".7" ry=".7" fill-opacity=""/><ellipse cx="196.4" cy="5.6" rx=".7" ry=".7" fill-opacity=".61"/><ellipse cx="139.3" cy="50.2" rx=".9" ry=".9" fill-opacity=".8"/><ellipse cx="152.9" cy="47.7" rx=".9" ry=".9" fill-opacity=".44"/><ellipse cx="172.8" cy="29.8" rx=".8" ry=".8" fill-opacity=".87"/><ellipse cx="181.9" cy="20.3" rx=".7" ry=".7" fill-opacity=".6"/><ellipse cx="188.9" cy="7.9" rx=".8" ry=".8" fill-opacity=".47"/><ellipse cx="156" cy="39.7" rx="1" ry="1" fill-opacity=".75"/><ellipse cx="172.8" cy="28" rx=".9" ry=".9" fill-opacity=".72"/><ellipse cx="157.1" cy="37.1" rx="1.1" ry="1.1" fill-opacity=".43"/><ellipse cx="183.1" cy="14.8" rx=".9" ry=".9" fill-opacity=".77"/><ellipse cx="179.9" cy="26" rx="1" ry="1" fill-opacity=".95"/><ellipse cx="191.8" cy="18.2" rx="1" ry="1" fill-opacity=".61"/><ellipse cx="186.5" cy="18.1" rx="1" ry="1" fill-opacity=".47"/><ellipse cx="157.7" cy="42" rx=".9" ry=".9" fill-opacity=".7"/><ellipse cx="180.1" cy="25.5" rx="1" ry="1" fill-opacity="1"/><ellipse cx="175.8" cy="23.5" rx=".8" ry=".8" fill-opacity=".43"/><ellipse cx="188.4" cy="15" rx="1" ry="1" fill-opacity=".93"/><ellipse cx="143.6" cy="49.6" rx=".9" ry=".9" fill-opacity=".58"/><ellipse cx="35.7" cy="30.2" rx="1.1" ry="1.1" fill-opacity=".38"/><ellipse cx="33.3" cy="33.3" rx=".8" ry=".8" fill-opacity=".25"/><ellipse cx="41.3" cy="33.5" rx=".7" ry=".7" fill-opacity=".6"/><ellipse cx="95.3" cy="22.7" rx=".8" ry=".8" fill-opacity=".25"/><ellipse cx="96" cy="20.2" rx=".7" ry=".7" fill-opacity=".45"/><ellipse cx="59.4" cy="31" rx=".8" ry=".8" fill-opacity=".24"/><ellipse cx="74.6" cy="28.2" rx=".8" ry=".8" fill-opacity=".21"/><ellipse cx="20.6" cy="39.9" rx="1.1" ry="1.1" fill-opacity=".31"/><ellipse cx="39.8" cy="34.1" rx=".8" ry=".8" fill-opacity=".44"/><ellipse cx="9" cy="36.3" rx="1" ry="1" fill-opacity=".53"/><ellipse cx="39.6" cy="32.2" rx="1" ry="1" fill-opacity=".34"/><ellipse cx="37.8" cy="33.8" rx="1" ry="1" fill-opacity=".56"/><ellipse cx="24.6" cy="36.4" rx=".8" ry=".8" fill-opacity=".27"/><ellipse cx="71.7" cy="27.6" rx="1.1" ry="1.1" fill-opacity=".38"/><ellipse cx="58" cy="27.5" rx="1.1" ry="1.1" fill-opacity=".59"/><ellipse cx="72.3" cy="23.1" rx=".7" ry=".7" fill-opacity=".48"/><ellipse cx="57.5" cy="29.2" rx=".9" ry=".9" fill-opacity=".36"/><ellipse cx="75.8" cy="22.5" rx=".9" ry=".9" fill-opacity=".56"/><ellipse cx="53.5" cy="29.1" rx=".9" ry=".9" fill-opacity=".53"/><ellipse cx="100.6" cy="18.2" rx=".9" ry=".9" fill-opacity=".37"/><ellipse cx="64.1" cy="25" rx="1.1" ry="1.1" fill-opacity=".4"/><ellipse cx="97.9" cy="16.5" rx="1" ry="1" fill-opacity=".27"/><ellipse cx="49.4" cy="32.4" rx="1" ry="1" fill-opacity=".36"/><ellipse cx="65.3" cy="27.6" rx=".8" ry=".8" fill-opacity=".28"/><ellipse cx="3.8" cy="38.2" rx="1" ry="1" fill-opacity=".41"/><ellipse cx="18.8" cy="36.1" rx=".7" ry=".7" fill-opacity=".39"/><ellipse cx="37.9" cy="34.5" rx=".9" ry=".9" fill-opacity=".55"/><ellipse cx="69.6" cy="29.3" rx=".9" ry=".9" fill-opacity=".52"/><ellipse cx="35.4" cy="33.7" rx="1.1" ry="1.1" fill-opacity=".45"/><ellipse cx="32.7" cy="33.2" rx="1" ry="1" fill-opacity=".59"/><ellipse cx="83.1" cy="23.7" rx=".7" ry=".7" fill-opacity=".57"/><ellipse cx="100.3" cy="18.3" rx=".9" ry=".9" fill-opacity=".35"/><ellipse cx="47.6" cy="34.5" rx="1" ry="1" fill-opacity=".21"/><ellipse cx="35.7" cy="30.9" rx=".8" ry=".8" fill-opacity=".27"/><ellipse cx="80.4" cy="26.5" rx=".7" ry=".7" fill-opacity=".52"/><ellipse cx="93.8" cy="20.3" rx=".9" ry=".9" fill-opacity=".55"/><ellipse cx="31.9" cy="32.8" rx=".9" ry=".9" fill-opacity=".51"/><ellipse cx="88.3" cy="22.4" rx="1.1" ry="1.1" fill-opacity=".33"/><ellipse cx="46.2" cy="28.6" rx=".9" ry=".9" fill-opacity=".41"/><ellipse cx="99.2" cy="19.2" rx=".8" ry=".8" fill-opacity=".52"/><ellipse cx="4" cy="41.4" rx=".9" ry=".9" fill-opacity=".41"/><ellipse cx="55.8" cy="29.4" rx=".9" ry=".9" fill-opacity=".37"/><ellipse cx="12.5" cy="36.2" rx=".8" ry=".8" fill-opacity=".2"/><ellipse cx="46" cy="31.9" rx=".7" ry=".7" fill-opacity=".34"/><ellipse cx="67" cy="73.3" rx="1.1" ry="1.1" fill-opacity=".62"/><ellipse cx="59.1" cy="67.9" rx=".9" ry=".9" fill-opacity=".64"/><ellipse cx="67.5" cy="69.4" rx="1" ry="1" fill-opacity=".29"/><ellipse cx="61.8" cy="68.6" rx="1.1" ry="1.1" fill-opacity=".5"/><ellipse cx="85.9" cy="70.3" rx="1" ry="1" fill-opacity=".52"/><ellipse cx="26.3" cy="59" rx="1" ry="1" fill-opacity=".52"/><ellipse cx="84.8" cy="72" rx=".9" ry=".9" fill-opacity=".49"/><ellipse cx="31.4" cy="61.9" rx="1.1" ry="1.1" fill-opacity=".57"/><ellipse cx="84.7" cy="71.2" rx=".7" ry=".7" fill-opacity=".44"/><ellipse cx="28.8" cy="59.5" rx=".8" ry=".8" fill-opacity=".39"/><ellipse cx="22.8" cy="60.2" rx=".7" ry=".7" fill-opacity=".54"/><ellipse cx="26.6" cy="58.6" rx="1.1" ry="1.1" fill-opacity=".56"/><ellipse cx="5.2" cy="56.2" rx="1.1" ry="1.1" fill-opacity=".38"/><ellipse cx="7.8" cy="51.2" rx="1.1" ry="1.1" fill-opacity=".53"/><ellipse cx="24.5" cy="60.8" rx=".8" ry=".8" fill-opacity=".56"/><ellipse cx="28.1" cy="60.6" rx="1.1" ry="1.1" fill-opacity=".48"/><ellipse cx="38.7" cy="67.3" rx="1" ry="1" fill-opacity=".6"/><ellipse cx="88.9" cy="68.9" rx="1" ry="1" fill-opacity=".53"/><ellipse cx="30.3" cy="61.5" rx=".9" ry=".9" fill-opacity=".67"/><ellipse cx="86.9" cy="72.9" rx=".8" ry=".8" fill-opacity=".37"/><ellipse cx="11.9" cy="52.9" rx=".8" ry=".8" fill-opacity=".59"/><ellipse cx="45" cy="72.6" rx=".9" ry=".9" fill-opacity=".42"/><ellipse cx="37" cy="65.6" rx=".9" ry=".9" fill-opacity=".6"/><ellipse cx="86.4" cy="69.4" rx=".9" ry=".9" fill-opacity=".32"/><ellipse cx="52.4" cy="70.4" rx="1.1" ry="1.1" fill-opacity=".46"/><ellipse cx="21.4" cy="56.3" rx=".9" ry=".9" fill-opacity=".46"/><ellipse cx="47.4" cy="131" rx=".9" ry=".9" fill-opacity=".28"/><ellipse cx="44.7" cy="131.8" rx=".9" ry=".9" fill-opacity=".41"/><ellipse cx="44.8" cy="126.3" rx="1.1" ry="1.1" fill-opacity=".38"/><ellipse cx="45.4" cy="108.1" rx=".7" ry=".7" fill-opacity=".39"/><ellipse cx="45.8" cy="105.1" rx=".8" ry=".8" fill-opacity=".58"/><ellipse cx="45.3" cy="111.7" rx="1" ry="1" fill-opacity=".67"/><ellipse cx="48.2" cy="109.8" rx="1" ry="1" fill-opacity=".75"/><ellipse cx="49.6" cy="126.5" rx="1" ry="1" fill-opacity=".45"/><ellipse cx="44.3" cy="127.8" rx=".9" ry=".9" fill-opacity=".73"/><ellipse cx="43.5" cy="92.9" rx=".7" ry=".7" fill-opacity=".43"/><ellipse cx="47.4" cy="123.1" rx=".9" ry=".9" fill-opacity=".52"/><ellipse cx="48.6" cy="114.5" rx="1" ry="1" fill-opacity=".54"/><ellipse cx="41.9" cy="98.6" rx=".7" ry=".7" fill-opacity=".68"/><ellipse cx="47.5" cy="115.5" rx=".8" ry=".8" fill-opacity=".57"/><ellipse cx="47" cy="85.5" rx=".9" ry=".9" fill-opacity=".39"/><ellipse cx="49.8" cy="128.8" rx="1.1" ry="1.1" fill-opacity=".53"/><ellipse cx="50" cy="127.6" rx="1.1" ry="1.1" fill-opacity=".53"/><ellipse cx="48.1" cy="95.1" rx="1" ry="1" fill-opacity=".42"/><ellipse cx="52.2" cy="127.7" rx=".9" ry=".9" fill-opacity=".39"/><ellipse cx="46.4" cy="108.3" rx=".9" ry=".9" fill-opacity=".6"/><ellipse cx="43.8" cy="105.3" rx="1.1" ry="1.1" fill-opacity=".3"/><ellipse cx="48.3" cy="119.8" rx=".8" ry=".8" fill-opacity=".74"/><ellipse cx="44.3" cy="115.3" rx="1" ry="1" fill-opacity=".65"/><ellipse cx="48.2" cy="127.8" rx=".8" ry=".8" fill-opacity=".45"/><ellipse cx="41.4" cy="90.1" rx="1" ry="1" fill-opacity=".27"/><ellipse cx="51.5" cy="129.4" rx="1" ry="1" fill-opacity=".68"/><ellipse cx="47.1" cy="123" rx=".8" ry=".8" fill-opacity=".74"/><ellipse cx="46.4" cy="129" rx="1" ry="1" fill-opacity=".66"/><ellipse cx="45.6" cy="101.8" rx=".9" ry=".9" fill-opacity=".73"/><ellipse cx="47.7" cy="110.5" rx="1.1" ry="1.1" fill-opacity=".59"/><ellipse cx="66" cy="127.6" rx=".7" ry=".7" fill-opacity=".8"/><ellipse cx="55.5" cy="112.6" rx="1" ry="1" fill-opacity=".37"/><ellipse cx="59.2" cy="105" rx="1.1" ry="1.1" fill-opacity=".6"/><ellipse cx="55.4" cy="103.9" rx="1.1" ry="1.1" fill-opacity=".36"/><ellipse cx="59.3" cy="107.4" rx="1" ry="1" fill-opacity=".46"/><ellipse cx="63" cy="124.7" rx=".8" ry=".8" fill-opacity=".76"/><ellipse cx="60.1" cy="106.7" rx=".8" ry=".8" fill-opacity=".63"/><ellipse cx="59.2" cy="114.3" rx="1.1" ry="1.1" fill-opacity=".8"/><ellipse cx="58.4" cy="130.2" rx="1.1" ry="1.1" fill-opacity=".29"/><ellipse cx="60.5" cy="111.6" rx="1.1" ry="1.1" fill-opacity=".41"/><ellipse cx="59.6" cy="108.2" rx="1.1" ry="1.1" fill-opacity=".55"/><ellipse cx="57.6" cy="121.3" rx="1.1" ry="1.1" fill-opacity=".67"/><ellipse cx="56.3" cy="103.4" rx=".8" ry=".8" fill-opacity=".49"/><ellipse cx="62.4" cy="128.1" rx="1" ry="1" fill-opacity=".64"/><ellipse cx="58.7" cy="120.3" rx=".8" ry=".8" fill-opacity=".68"/><ellipse cx="63.5" cy="122.4" rx="1.1" ry="1.1" fill-opacity=".8"/><ellipse cx="55.3" cy="113.8" rx=".8" ry=".8" fill-opacity=".37"/><ellipse cx="56.2" cy="106.1" rx="1.1" ry="1.1" fill-opacity=".5"/><ellipse cx="59.9" cy="101.7" rx="1" ry="1" fill-opacity=".31"/><ellipse cx="57.7" cy="110.8" rx="1.1" ry="1.1" fill-opacity=".63"/><ellipse cx="60.5" cy="110.7" rx=".9" ry=".9" fill-opacity=".45"/><ellipse cx="62.2" cy="102.6" rx="1" ry="1" fill-opacity=".49"/><ellipse cx="60.9" cy="117.5" rx=".9" ry=".9" fill-opacity=".62"/><ellipse cx="59.3" cy="110.7" rx=".9" ry=".9" fill-opacity=".35"/><ellipse cx="62" cy="121.3" rx="1.1" ry="1.1" fill-opacity=".35"/><ellipse cx="58.5" cy="111.8" rx=".8" ry=".8" fill-opacity=".73"/><ellipse cx="71.3" cy="122.1" rx=".7" ry=".7" fill-opacity=".71"/><ellipse cx="68.5" cy="122.3" rx="1.1" ry="1.1" fill-opacity=".54"/><ellipse cx="70.9" cy="131.6" rx="1" ry="1" fill-opacity=".36"/><ellipse cx="72.7" cy="125.1" rx="1" ry="1" fill-opacity=".54"/><ellipse cx="71.1" cy="120.1" rx=".9" ry=".9" fill-opacity=".78"/><ellipse cx="74.6" cy="106.6" rx="1.1" ry="1.1" fill-opacity=".73"/><ellipse cx="68.2" cy="127.4" rx="1" ry="1" fill-opacity=".79"/><ellipse cx="70.5" cy="101.9" rx=".8" ry=".8" fill-opacity=".77"/><ellipse cx="74" cy="106.6" rx=".8" ry=".8" fill-opacity=".51"/><ellipse cx="66.8" cy="99.1" rx=".8" ry=".8" fill-opacity=".68"/><ellipse cx="70.1" cy="122.5" rx="1.1" ry="1.1" fill-opacity=".68"/><ellipse cx="67" cy="101.7" rx="1.1" ry="1.1" fill-opacity=".59"/><ellipse cx="71.1" cy="115.7" rx="1" ry="1" fill-opacity=".33"/><ellipse cx="71.5" cy="107.6" rx=".7" ry=".7" fill-opacity=".55"/><ellipse cx="70.4" cy="131.6" rx="1" ry="1" fill-opacity=".36"/><ellipse cx="70.4" cy="102.5" rx=".8" ry=".8" fill-opacity=".48"/><ellipse cx="71.3" cy="130.6" rx="1" ry="1" fill-opacity=".41"/><ellipse cx="67.7" cy="107.7" rx="1.1" ry="1.1" fill-opacity=".68"/><ellipse cx="75.5" cy="108.5" rx=".7" ry=".7" fill-opacity=".57"/><ellipse cx="69.2" cy="134.1" rx="1.1" ry="1.1" fill-opacity=".4"/><ellipse cx="69.8" cy="107.8" rx=".9" ry=".9" fill-opacity=".44"/><ellipse cx="74.5" cy="127.3" rx="1" ry="1" fill-opacity=".28"/><ellipse cx="72.3" cy="108.5" rx="1.1" ry="1.1" fill-opacity=".69"/><ellipse cx="71.5" cy="117.9" rx="1.1" ry="1.1" fill-opacity=".73"/><ellipse cx="70.1" cy="132.4" rx=".8" ry=".8" fill-opacity=".32"/><ellipse cx="69.2" cy="106.3" rx=".9" ry=".9" fill-opacity=".53"/><ellipse cx="199" cy="105.3" rx=".9" ry=".9" fill-opacity=".38"/><ellipse cx="220.1" cy="123.3" rx="1" ry="1" fill-opacity=".6"/><ellipse cx="218.1" cy="116" rx=".8" ry=".8" fill-opacity=".35"/><ellipse cx="202.3" cy="104.1" rx=".9" ry=".9" fill-opacity=".22"/><ellipse cx="194.9" cy="102.9" rx=".8" ry=".8" fill-opacity=".51"/><ellipse cx="188.1" cy="100" rx=".9" ry=".9" fill-opacity=".26"/><ellipse cx="190" cy="101.5" rx=".9" ry=".9" fill-opacity=".44"/><ellipse cx="192.3" cy="103.2" rx="1" ry="1" fill-opacity=".39"/><ellipse cx="187.7" cy="96.1" rx="1.1" ry="1.1" fill-opacity=".52"/><ellipse cx="220.7" cy="120.7" rx=".9" ry=".9" fill-opacity=".59"/><ellipse cx="210.8" cy="113.3" rx="1.1" ry="1.1" fill-opacity=".28"/><ellipse cx="212" cy="112" rx="1" ry="1" fill-opacity=".48"/><ellipse cx="202.5" cy="110.6" rx=".8" ry=".8" fill-opacity=".51"/><ellipse cx="219" cy="120.1" rx=".7" ry=".7" fill-opacity=".59"/><ellipse cx="220" cy="121.7" rx="1" ry="1" fill-opacity=".32"/><ellipse cx="216.9" cy="119.3" rx=".8" ry=".8" fill-opacity=".58"/><ellipse cx="207.3" cy="115.9" rx="1" ry="1" fill-opacity=".5"/><ellipse cx="12.8" cy="100.8" rx=".9" ry=".9" fill-opacity=".73"/><ellipse cx="56.3" cy="91.7" rx=".8" ry=".8" fill-opacity=".57"/><ellipse cx="36.8" cy="95.4" rx=".9" ry=".9" fill-opacity=".36"/><ellipse cx="67.6" cy="91.1" rx=".9" ry=".9" fill-opacity=".52"/><ellipse cx="30.4" cy="98.5" rx=".8" ry=".8" fill-opacity=".32"/><ellipse cx="32.3" cy="94" rx="1.1" ry="1.1" fill-opacity=".66"/><ellipse cx="48" cy="93.8" rx="1" ry="1" fill-opacity=".63"/><ellipse cx="19.3" cy="100.2" rx="1.1" ry="1.1" fill-opacity=".31"/><ellipse cx="13.3" cy="97.2" rx="1" ry="1" fill-opacity=".49"/><ellipse cx="56.6" cy="92.1" rx=".9" ry=".9" fill-opacity=".36"/><ellipse cx="56.9" cy="92" rx="1" ry="1" fill-opacity=".34"/><ellipse cx="51.4" cy="96" rx=".8" ry=".8" fill-opacity=".74"/><ellipse cx="55" cy="91.7" rx=".8" ry=".8" fill-opacity=".63"/><ellipse cx="18.1" cy="99.9" rx=".9" ry=".9" fill-opacity=".57"/><ellipse cx="74.5" cy="90.1" rx="1.1" ry="1.1" fill-opacity=".57"/><ellipse cx="57.8" cy="91.3" rx="1" ry="1" fill-opacity=".42"/><ellipse cx="60.1" cy="89" rx=".8" ry=".8" fill-opacity=".51"/><ellipse cx="27.9" cy="98.6" rx="1.1" ry="1.1" fill-opacity=".35"/><ellipse cx="24.6" cy="97.1" rx=".9" ry=".9" fill-opacity=".72"/><ellipse cx="81" cy="88.2" rx=".9" ry=".9" fill-opacity=".53"/><ellipse cx="22.5" cy="97.3" rx=".7" ry=".7" fill-opacity=".28"/><ellipse cx="60.7" cy="89.2" rx=".8" ry=".8" fill-opacity=".36"/><ellipse cx="35" cy="95.6" rx=".7" ry=".7" fill-opacity=".57"/><ellipse cx="18.8" cy="100" rx="1" ry="1" fill-opacity=".45"/><ellipse cx="76.1" cy="88.7" rx=".9" ry=".9" fill-opacity=".57"/><ellipse cx="27.9" cy="98.1" rx=".8" ry=".8" fill-opacity=".59"/><ellipse cx="81.9" cy="90" rx="1" ry="1" fill-opacity=".44"/><ellipse cx="62.7" cy="90.4" rx=".9" ry=".9" fill-opacity=".33"/><ellipse cx="27.8" cy="96" rx=".8" ry=".8" fill-opacity=".34"/><ellipse cx="63.6" cy="90.9" rx="1" ry="1" fill-opacity=".69"/><ellipse cx="167.6" cy="101.7" rx="1" ry="1" fill-opacity=".43"/><ellipse cx="146.7" cy="83" rx=".8" ry=".8" fill-opacity=".47"/><ellipse cx="150.3" cy="86.2" rx=".9" ry=".9" fill-opacity=".4"/><ellipse cx="134.5" cy="79.4" rx=".9" ry=".9" fill-opacity=".52"/><ellipse cx="138.7" cy="72.8" rx=".8" ry=".8" fill-opacity=".73"/><ellipse cx="177.9" cy="102" rx="1" ry="1" fill-opacity=".31"/><ellipse cx="208.5" cy="105.7" rx=".8" ry=".8" fill-opacity=".39"/><ellipse cx="181.5" cy="101" rx=".7" ry=".7" fill-opacity=".35"/><ellipse cx="140.3" cy="77.7" rx="1.1" ry="1.1" fill-opacity=".66"/><ellipse cx="138.6" cy="76.4" rx=".7" ry=".7" fill-opacity=".63"/><ellipse cx="199.7" cy="102.9" rx="1.1" ry="1.1" fill-opacity=".37"/><ellipse cx="200.2" cy="105.4" rx="1" ry="1" fill-opacity=".55"/><ellipse cx="166.2" cy="101.6" rx=".8" ry=".8" fill-opacity=".73"/><ellipse cx="162.8" cy="102.1" rx=".8" ry=".8" fill-opacity=".73"/><ellipse cx="221.3" cy="109.2" rx="1" ry="1" fill-opacity=".35"/><ellipse cx="169" cy="99.5" rx="1.1" ry="1.1" fill-opacity=".56"/><ellipse cx="145.1" cy="78.2" rx="1.1" ry="1.1" fill-opacity=".62"/><ellipse cx="219.2" cy="105.4" rx="1.1" ry="1.1" fill-opacity=".3"/><ellipse cx="200.8" cy="105.1" rx="1" ry="1" fill-opacity=".72"/><ellipse cx="175.2" cy="99.9" rx="1" ry="1" fill-opacity=".57"/><ellipse cx="197.9" cy="105.7" rx=".9" ry=".9" fill-opacity=".69"/><ellipse cx="150.3" cy="90.1" rx=".9" ry=".9" fill-opacity=".55"/><ellipse cx="165.9" cy="101.9" rx="1.1" ry="1.1" fill-opacity=".56"/><ellipse cx="142.9" cy="82.9" rx=".9" ry=".9" fill-opacity=".27"/><ellipse cx="164.3" cy="101.9" rx="1" ry="1" fill-opacity=".4"/><ellipse cx="183.9" cy="97.5" rx=".9" ry=".9" fill-opacity=".32"/><ellipse cx="161.6" cy="96.3" rx=".8" ry=".8" fill-opacity=".37"/><ellipse cx="162.2" cy="98.9" rx=".9" ry=".9" fill-opacity=".62"/><ellipse cx="143.8" cy="77.8" rx="1" ry="1" fill-opacity=".66"/><ellipse cx="208.6" cy="102" rx=".9" ry=".9" fill-opacity=".62"/><ellipse cx="100.9" cy="64.2" rx="1" ry="1" fill-opacity=".73"/><ellipse cx="110.6" cy="40.6" rx=".8" ry=".8" fill-opacity=".91"/><ellipse cx="126.9" cy="48.6" rx=".9" ry=".9" fill-opacity=".66"/><ellipse cx="70.2" cy="73.9" rx=".8" ry=".8" fill-opacity=".47"/><ellipse cx="113.3" cy="65.7" rx=".9" ry=".9" fill-opacity=".37"/><ellipse cx="90" cy="53.7" rx=".9" ry=".9" fill-opacity=".54"/><ellipse cx="91.5" cy="39.9" rx="1" ry="1" fill-opacity=".48"/><ellipse cx="68.9" cy="66.4" rx="1.1" ry="1.1" fill-opacity=".46"/><ellipse cx="102.4" cy="70.6" rx=".9" ry=".9" fill-opacity=".99"/><ellipse cx="120.3" cy="98.4" rx=".9" ry=".9" fill-opacity=".41"/><ellipse cx="104.7" cy="55.1" rx="1.1" ry="1.1" fill-opacity=".9"/><ellipse cx="90.6" cy="55.5" rx="1.1" ry="1.1" fill-opacity=".54"/><ellipse cx="113.6" cy="74.5" rx=".9" ry=".9" fill-opacity=".6"/><ellipse cx="82.6" cy="58.1" rx=".8" ry=".8" fill-opacity=".36"/><ellipse cx="80.5" cy="71.4" rx=".8" ry=".8" fill-opacity=".84"/><ellipse cx="97.7" cy="64.2" rx="1" ry="1" fill-opacity=".38"/><ellipse cx="96.3" cy="58.7" rx=".9" ry=".9" fill-opacity=".8"/><ellipse cx="92.9" cy="51.2" rx=".9" ry=".9" fill-opacity=".74"/><ellipse cx="97" cy="63.1" rx=".9" ry=".9" fill-opacity=".59"/><ellipse cx="89.9" cy="84.2" rx=".8" ry=".8" fill-opacity=".69"/><ellipse cx="108.6" cy="83.1" rx=".9" ry=".9" fill-opacity=".64"/><ellipse cx="79.4" cy="68" rx=".9" ry=".9" fill-opacity=".9"/><ellipse cx="86" cy="54.7" rx=".9" ry=".9" fill-opacity=".45"/><ellipse cx="103.1" cy="49.3" rx=".7" ry=".7" fill-opacity=".41"/><ellipse cx="89" cy="77.9" rx=".8" ry=".8" fill-opacity=".41"/><ellipse cx="110.8" cy="87.6" rx="1" ry="1" fill-opacity=".7"/><ellipse cx="94.8" cy="66.2" rx="1" ry="1" fill-opacity=".38"/><ellipse cx="98.8" cy="83.2" rx=".8" ry=".8" fill-opacity=".58"/><ellipse cx="111.2" cy="74.9" rx=".8" ry=".8" fill-opacity=".56"/><ellipse cx="125.5" cy="51.4" rx="1" ry="1" fill-opacity=".75"/><ellipse cx="84" cy="70.9" rx=".9" ry=".9" fill-opacity=".91"/><ellipse cx="98.3" cy="56.8" rx="1.1" ry="1.1" fill-opacity=".81"/><ellipse cx="84.9" cy="85" rx=".8" ry=".8" fill-opacity=".92"/><ellipse cx="96.3" cy="71.9" rx="1.1" ry="1.1" fill-opacity=".38"/><ellipse cx="131.4" cy="63.8" rx=".7" ry=".7" fill-opacity=".87"/><ellipse cx="95.3" cy="79.4" rx="1.1" ry="1.1" fill-opacity=".67"/><ellipse cx="87.1" cy="68.5" rx="1.1" ry="1.1" fill-opacity=".58"/><ellipse cx="96.8" cy="50.7" rx=".9" ry=".9" fill-opacity=".95"/><ellipse cx="106.1" cy="54.7" rx=".9" ry=".9" fill-opacity=".61"/><ellipse cx="112.8" cy="58.1" rx=".7" ry=".7" fill-opacity=".63"/><ellipse cx="73.3" cy="67.2" rx=".8" ry=".8" fill-opacity=".68"/><ellipse cx="94.6" cy="64.2" rx="1.1" ry="1.1" fill-opacity=".53"/><ellipse cx="106.8" cy="40.6" rx="1" ry="1" fill-opacity=".92"/><ellipse cx="109.5" cy="62.6" rx=".9" ry=".9" fill-opacity=".69"/><ellipse cx="93" cy="74.5" rx="1.1" ry="1.1" fill-opacity=".6"/><ellipse cx="107.3" cy="58.8" rx=".7" ry=".7" fill-opacity=".96"/><ellipse cx="106.6" cy="59.4" rx=".9" ry=".9" fill-opacity=".82"/><ellipse cx="113.5" cy="64.5" rx="1.1" ry="1.1" fill-opacity=".36"/><ellipse cx="108.4" cy="55.1" rx="1" ry="1" fill-opacity=".75"/><ellipse cx="84.4" cy="62" rx=".8" ry=".8" fill-opacity=".85"/><ellipse cx="123.7" cy="100.9" rx="1.1" ry="1.1" fill-opacity=".86"/><ellipse cx="121.7" cy="91.7" rx="1" ry="1" fill-opacity=".89"/><ellipse cx="117.7" cy="103.3" rx=".9" ry=".9" fill-opacity=".47"/><ellipse cx="126.7" cy="96.8" rx=".8" ry=".8" fill-opacity=".54"/><ellipse cx="111.2" cy="79.6" rx="1.1" ry="1.1" fill-opacity=".4"/><ellipse cx="121.3" cy="76.1" rx=".8" ry=".8" fill-opacity=".77"/><ellipse cx="120.7" cy="82.2" rx="1.1" ry="1.1" fill-opacity=".69"/><ellipse cx="117.7" cy="98.5" rx="1" ry="1" fill-opacity=".49"/><ellipse cx="122.5" cy="64.6" rx=".9" ry=".9" fill-opacity=".86"/><ellipse cx="102.5" cy="79" rx="1" ry="1" fill-opacity=".78"/><ellipse cx="137.5" cy="96.2" rx="1" ry="1" fill-opacity=".77"/><ellipse cx="114.8" cy="89" rx="1" ry="1" fill-opacity=".53"/><ellipse cx="116.2" cy="122.3" rx=".9" ry=".9" fill-opacity=".51"/><ellipse cx="101.3" cy="89.8" rx="1.1" ry="1.1" fill-opacity=".77"/><ellipse cx="140.5" cy="106.6" rx="1.1" ry="1.1" fill-opacity=".6"/><ellipse cx="132.4" cy="66.4" rx="1.1" ry="1.1" fill-opacity=".65"/><ellipse cx="126.6" cy="97.4" rx=".8" ry=".8" fill-opacity=".67"/><ellipse cx="105.2" cy="108.9" rx="1.1" ry="1.1" fill-opacity=".87"/><ellipse cx="107.8" cy="80.1" rx=".8" ry=".8" fill-opacity=".87"/><ellipse cx="152.8" cy="92.2" rx=".9" ry=".9" fill-opacity=".84"/><ellipse cx="137.6" cy="75.2" rx=".9" ry=".9" fill-opacity=".86"/><ellipse cx="130.9" cy="88.6" rx=".7" ry=".7" fill-opacity=".82"/><ellipse cx="107.9" cy="105" rx=".9" ry=".9" fill-opacity=".38"/><ellipse cx="125.3" cy="94.6" rx=".9" ry=".9" fill-opacity=".91"/><ellipse cx="122.2" cy="107.6" rx="1.1" ry="1.1" fill-opacity=".58"/><ellipse cx="114.5" cy="87.7" rx=".8" ry=".8" fill-opacity=".53"/><ellipse cx="135.2" cy="96.9" rx=".9" ry=".9" fill-opacity=".54"/><ellipse cx="112.2" cy="72.1" rx=".7" ry=".7" fill-opacity=".79"/><ellipse cx="141.8" cy="73.5" rx=".9" ry=".9" fill-opacity=".84"/><ellipse cx="121.9" cy="93.5" rx="1" ry="1" fill-opacity=".37"/><ellipse cx="139.7" cy="109" rx=".9" ry=".9" fill-opacity=".39"/><ellipse cx="112.9" cy="86.4" rx=".8" ry=".8" fill-opacity=".71"/><ellipse cx="139.9" cy="94.2" rx=".9" ry=".9" fill-opacity=".68"/><ellipse cx="127.4" cy="116.5" rx=".8" ry=".8" fill-opacity=".92"/><ellipse cx="117" cy="99.8" rx="1.1" ry="1.1" fill-opacity=".5"/><ellipse cx="117.8" cy="42" rx="1.1" ry="1.1" fill-opacity=".81"/><ellipse cx="115.4" cy="111.5" rx=".8" ry=".8" fill-opacity=".82"/><ellipse cx="106.3" cy="98.9" rx=".8" ry=".8" fill-opacity=".71"/><ellipse cx="147.8" cy="80.2" rx=".9" ry=".9" fill-opacity=".45"/><ellipse cx="112.3" cy="84.2" rx=".9" ry=".9" fill-opacity=".79"/><ellipse cx="85.3" cy="40.5" rx=".9" ry=".9" fill-opacity=".97"/><ellipse cx="102.6" cy="32.4" rx=".9" ry=".9" fill-opacity=".52"/><ellipse cx="89.6" cy="36.6" rx="1.1" ry="1.1" fill-opacity=".98"/><ellipse cx="99.6" cy="43.6" rx=".8" ry=".8" fill-opacity=".59"/><ellipse cx="78.4" cy="33.3" rx=".9" ry=".9" fill-opacity=".72"/><ellipse cx="93.6" cy="32.8" rx="1.1" ry="1.1" fill-opacity=".38"/><ellipse cx="100.5" cy="39" rx="1" ry="1" fill-opacity=".79"/><ellipse cx="70.9" cy="51.5" rx=".8" ry=".8" fill-opacity=".99"/><ellipse cx="86.5" cy="38.2" rx=".9" ry=".9" fill-opacity=".94"/><ellipse cx="72.9" cy="39.4" rx=".8" ry=".8" fill-opacity=".8"/><ellipse cx="95.8" cy="45.2" rx="1" ry="1" fill-opacity=".8"/><ellipse cx="98.6" cy="21.1" rx="1.1" ry="1.1" fill-opacity=".51"/><ellipse cx="69" cy="31.1" rx="1" ry="1" fill-opacity=".4"/><ellipse cx="120.9" cy="46.9" rx="1.1" ry="1.1" fill-opacity=".66"/><ellipse cx="106.3" cy="44" rx=".9" ry=".9" fill-opacity=".86"/><ellipse cx="115.3" cy="44.1" rx="1" ry="1" fill-opacity=".87"/><ellipse cx="114.4" cy="50.2" rx=".9" ry=".9" fill-opacity=".56"/><ellipse cx="99.7" cy="42.8" rx="1.1" ry="1.1" fill-opacity=".5"/><ellipse cx="92.1" cy="36.4" rx=".9" ry=".9" fill-opacity=".62"/><ellipse cx="110.8" cy="50.9" rx="1.1" ry="1.1" fill-opacity=".86"/><ellipse cx="97.3" cy="52" rx=".7" ry=".7" fill-opacity=".56"/><ellipse cx="85.3" cy="66" rx=".7" ry=".7" fill-opacity=".65"/><ellipse cx="106.1" cy="51.7" rx=".7" ry=".7" fill-opacity=".85"/><ellipse cx="89.7" cy="50.9" rx=".7" ry=".7" fill-opacity=".78"/><ellipse cx="104.3" cy="49.2" rx="1" ry="1" fill-opacity=".65"/><ellipse cx="127.4" cy="39.9" rx="1.1" ry="1.1" fill-opacity=".49"/><ellipse cx="145.5" cy="40.8" rx=".8" ry=".8" fill-opacity=".56"/><ellipse cx="123.4" cy="26.4" rx="1.1" ry="1.1" fill-opacity=".68"/><ellipse cx="144.2" cy="34.3" rx=".9" ry=".9" fill-opacity=".66"/><ellipse cx="140.2" cy="37.7" rx=".9" ry=".9" fill-opacity=".98"/><ellipse cx="127.7" cy="49.6" rx="1.1" ry="1.1" fill-opacity=".36"/><ellipse cx="141.5" cy="26.3" rx="1" ry="1" fill-opacity=".36"/><ellipse cx="156.3" cy="55.7" rx="1" ry="1" fill-opacity=".87"/><ellipse cx="143.2" cy="46.9" rx=".7" ry=".7" fill-opacity=".63"/><ellipse cx="132.7" cy="38.9" rx=".9" ry=".9" fill-opacity=".86"/><ellipse cx="150.8" cy="57.4" rx="1" ry="1" fill-opacity=".53"/><ellipse cx="140.9" cy="49.8" rx="1" ry="1" fill-opacity=".84"/><ellipse cx="136.3" cy="60.3" rx=".9" ry=".9" fill-opacity=".73"/><ellipse cx="143.3" cy="47.2" rx="1" ry="1" fill-opacity=".48"/><ellipse cx="132.7" cy="27.8" rx=".9" ry=".9" fill-opacity=".49"/><ellipse cx="154.2" cy="37.8" rx="1.1" ry="1.1" fill-opacity=".87"/><ellipse cx="146" cy="28.1" rx="1.1" ry="1.1" fill-opacity=".96"/><ellipse cx="141.5" cy="39.2" rx="1" ry="1" fill-opacity=".45"/><ellipse cx="140.8" cy="40.5" rx=".9" ry=".9" fill-opacity=".36"/><ellipse cx="138.9" cy="35.9" rx="1.1" ry="1.1" fill-opacity=".55"/><ellipse cx="145.2" cy="97.4" rx=".8" ry=".8" fill-opacity=".48"/><ellipse cx="132.2" cy="98.4" rx="1" ry="1" fill-opacity=".94"/><ellipse cx="129.2" cy="99" rx=".7" ry=".7" fill-opacity=".84"/><ellipse cx="124.8" cy="109.4" rx=".7" ry=".7" fill-opacity=".87"/><ellipse cx="151.3" cy="133.3" rx="1" ry="1" fill-opacity=".94"/><ellipse cx="144.3" cy="96.3" rx=".8" ry=".8" fill-opacity=".88"/><ellipse cx="133.6" cy="82.8" rx="1.1" ry="1.1" fill-opacity=".57"/><ellipse cx="116.2" cy="119" rx="1" ry="1" fill-opacity=".92"/><ellipse cx="144.4" cy="101.8" rx=".8" ry=".8" fill-opacity=".9"/><ellipse cx="135.6" cy="106.2" rx=".8" ry=".8" fill-opacity=".47"/><ellipse cx="135" cy="111.4" rx="1" ry="1" fill-opacity=".46"/><ellipse cx="120.3" cy="115.4" rx="1.1" ry="1.1" fill-opacity=".64"/><ellipse cx="135.1" cy="118.1" rx="1" ry="1" fill-opacity=".56"/><ellipse cx="135.6" cy="106.2" rx="1.1" ry="1.1" fill-opacity=".64"/><ellipse cx="144.1" cy="101.6" rx="1.1" ry="1.1" fill-opacity=".38"/><ellipse cx="130.8" cy="111.1" rx=".9" ry=".9" fill-opacity=".62"/><ellipse cx="139.2" cy="100.7" rx="1" ry="1" fill-opacity=".67"/><ellipse cx="123.1" cy="116.5" rx=".8" ry=".8" fill-opacity=".68"/><ellipse cx="132.4" cy="108.4" rx=".7" ry=".7" fill-opacity=".43"/><ellipse cx="148.9" cy="102.3" rx=".9" ry=".9" fill-opacity=".69"/><ellipse cx="22.6" cy="59.1" rx="1" ry=".8" fill-opacity=".72" transform="rotate(10 22.6 59.1)"/><ellipse cx="21.7" cy="59.5" rx=".6" ry=".5" fill-opacity=".39"/><ellipse cx="23.5" cy="58.9" rx=".5" ry=".5" fill-opacity=".35"/><ellipse cx="23.7" cy="58.7" rx=".5" ry=".5" fill-opacity=".34"/><ellipse cx="27.5" cy="62.1" rx="1.3" ry=".8" fill-opacity=".81" transform="rotate(-10 27.5 62.1)"/><ellipse cx="29" cy="62.1" rx=".6" ry=".5" fill-opacity=".35"/><ellipse cx="26.9" cy="63" rx=".5" ry=".5" fill-opacity=".43"/><ellipse cx="30.2" cy="64.3" rx=".8" ry=".8" fill-opacity=".63"/><ellipse cx="31.4" cy="65.3" rx=".5" ry=".5" fill-opacity=".26"/><ellipse cx="32.2" cy="66.1" rx=".6" ry=".6" fill-opacity=".45"/><ellipse cx="39.1" cy="67.3" rx=".8" ry=".8" fill-opacity=".54"/><ellipse cx="39.1" cy="66.1" rx=".5" ry=".5" fill-opacity=".25"/><ellipse cx="37.5" cy="67.5" rx=".5" ry=".5" fill-opacity=".28"/><ellipse cx="38.1" cy="67.8" rx=".5" ry=".5" fill-opacity=".2"/><ellipse cx="39.6" cy="70.8" rx="1.9" ry="1.1" fill-opacity=".9" transform="rotate(10 39.6 70.8)"/><ellipse cx="40" cy="70.2" rx=".6" ry=".5" fill-opacity=".49"/><ellipse cx="38.3" cy="77.5" rx="1.6" ry="1.1" fill-opacity=".9" transform="rotate(20 38.3 77.5)"/><ellipse cx="38.3" cy="76.8" rx=".6" ry=".5" fill-opacity=".38"/><ellipse cx="38.7" cy="78.2" rx=".5" ry=".5" fill-opacity=".48"/><ellipse cx="37.5" cy="77.1" rx=".5" ry=".5" fill-opacity=".24"/><ellipse cx="32.7" cy="79.3" rx=".9" ry=".6" fill-opacity=".63" transform="rotate(-10 32.7 79.3)"/><ellipse cx="33.1" cy="79.8" rx=".5" ry=".5" fill-opacity=".28"/><ellipse cx="33.7" cy="74.1" rx=".6" ry=".6" fill-opacity=".45"/><ellipse cx="31.2" cy="75.1" rx=".6" ry=".6" fill-opacity=".45"/><ellipse cx="31.2" cy="74.1" rx=".5" ry=".5" fill-opacity=".24"/><ellipse cx="28.8" cy="76.1" rx=".6" ry=".6" fill-opacity=".45"/><ellipse cx="26.1" cy="75.6" rx=".6" ry=".6" fill-opacity=".45"/><ellipse cx="24.7" cy="74.9" rx=".5" ry=".5" fill-opacity=".18"/><ellipse cx="26.1" cy="75" rx=".6" ry=".5" fill-opacity=".24"/><ellipse cx="26.8" cy="81" rx=".6" ry=".6" fill-opacity=".45"/><ellipse cx="26.8" cy="82.4" rx=".5" ry=".5" fill-opacity=".2"/><ellipse cx="21.9" cy="86" rx=".6" ry=".6" fill-opacity=".27"/><ellipse cx="22.4" cy="95.3" rx=".6" ry=".6" fill-opacity=".36"/><ellipse cx="41.5" cy="86.5" rx=".6" ry=".6" fill-opacity=".45"/><ellipse cx="41.7" cy="87.9" rx=".6" ry=".5" fill-opacity=".21"/><ellipse cx="42.3" cy="87.5" rx=".7" ry=".5" fill-opacity=".22" transform="rotate(20 42.3 87.5)"/><ellipse cx="44.5" cy="85" rx=".6" ry=".6" fill-opacity=".45"/><ellipse cx="43.9" cy="86.1" rx=".5" ry=".5" fill-opacity=".19"/><ellipse cx="45.1" cy="85.4" rx=".5" ry=".5" fill-opacity=".22"/><ellipse cx="41.5" cy="92.5" rx=".8" ry=".8" fill-opacity=".54"/><ellipse cx="42.8" cy="92.1" rx=".6" ry=".5" fill-opacity=".21"/><ellipse cx="42.1" cy="92.1" rx=".5" ry=".5" fill-opacity=".24"/><ellipse cx="41.3" cy="93.6" rx=".5" ry=".5" fill-opacity=".2"/><ellipse cx="44" cy="92" rx=".8" ry=".8" fill-opacity=".54"/><ellipse cx="42.5" cy="92.1" rx=".6" ry=".5" fill-opacity=".26"/><ellipse cx="46.4" cy="76.1" rx=".6" ry=".6" fill-opacity=".45"/><ellipse cx="45.4" cy="76.1" rx=".5" ry=".5" fill-opacity=".18"/><ellipse cx="47.2" cy="75.7" rx=".5" ry=".5" fill-opacity=".23"/><ellipse cx="41.5" cy="60.1" rx=".6" ry=".6" fill-opacity=".27"/><ellipse cx="48.9" cy="67.6" rx=".8" ry=".8" fill-opacity=".63"/><ellipse cx="48.6" cy="66.8" rx=".5" ry=".5" fill-opacity=".28"/><ellipse cx="53.8" cy="66.6" rx=".9" ry=".8" fill-opacity=".81"/><ellipse cx="53.4" cy="67.3" rx=".6" ry=".5" fill-opacity=".24"/><ellipse cx="56.2" cy="67.1" rx=".6" ry=".6" fill-opacity=".54"/><ellipse cx="55.7" cy="66" rx=".5" ry=".5" fill-opacity=".2"/><ellipse cx="54.9" cy="67.4" rx=".6" ry=".5" fill-opacity=".24"/><ellipse cx="57.6" cy="67.9" rx=".5" ry=".5" fill-opacity=".19"/><ellipse cx="59.2" cy="66.1" rx=".6" ry=".6" fill-opacity=".54"/><ellipse cx="60.4" cy="66.2" rx=".5" ry=".5" fill-opacity=".23"/><ellipse cx="61.1" cy="66.6" rx=".6" ry=".6" fill-opacity=".54"/><ellipse cx="60.5" cy="67.1" rx=".6" ry=".5" fill-opacity=".27"/><ellipse cx="65.1" cy="65.6" rx=".8" ry=".8" fill-opacity=".63"/><ellipse cx="63.7" cy="66.2" rx=".5" ry=".5" fill-opacity=".27"/><ellipse cx="71" cy="65.6" rx=".9" ry=".9" fill-opacity=".81"/><ellipse cx="71.5" cy="65.2" rx=".5" ry=".5" fill-opacity=".22"/><ellipse cx="70.9" cy="64.4" rx=".5" ry=".5" fill-opacity=".22"/><ellipse cx="73.9" cy="65.1" rx=".6" ry=".6" fill-opacity=".54"/><ellipse cx="73.6" cy="66.2" rx=".5" ry=".5" fill-opacity=".27"/><ellipse cx="74.2" cy="65.7" rx=".6" ry=".5" fill-opacity=".19"/><ellipse cx="75.9" cy="65.1" rx=".6" ry=".6" fill-opacity=".54"/><ellipse cx="77" cy="64.6" rx=".5" ry=".5" fill-opacity=".25"/><ellipse cx="79.3" cy="66.1" rx=".8" ry=".8" fill-opacity=".63"/><ellipse cx="78.4" cy="65.3" rx=".5" ry=".5" fill-opacity=".23"/><ellipse cx="80.1" cy="65.4" rx=".5" ry=".5" fill-opacity=".21"/><ellipse cx="78.7" cy="65.1" rx=".6" ry=".5" fill-opacity=".27"/><ellipse cx="83.7" cy="64.6" rx=".8" ry=".8" fill-opacity=".63"/><ellipse cx="54.3" cy="69.6" rx=".6" ry=".6" fill-opacity=".45"/><ellipse cx="53.1" cy="69.6" rx=".5" ry=".5" fill-opacity=".18"/><ellipse cx="52.9" cy="69.9" rx=".6" ry=".5" fill-opacity=".24"/><ellipse cx="59.2" cy="68.6" rx=".6" ry=".6" fill-opacity=".45"/><ellipse cx="58" cy="69.1" rx=".5" ry=".5" fill-opacity=".2"/><ellipse cx="62.1" cy="71.1" rx=".6" ry=".6" fill-opacity=".54"/><ellipse cx="60.9" cy="71.6" rx=".6" ry=".5" fill-opacity=".26"/><ellipse cx="62.1" cy="72" rx=".5" ry=".5" fill-opacity=".21"/><ellipse cx="66" cy="72.6" rx="1.3" ry=".8" fill-opacity=".9"/><ellipse cx="66.5" cy="73.7" rx=".5" ry=".5" fill-opacity=".34"/><ellipse cx="66.7" cy="73.2" rx=".5" ry=".5" fill-opacity=".26"/><ellipse cx="69" cy="70.1" rx="1.1" ry="1" fill-opacity=".9"/><ellipse cx="68.5" cy="71.3" rx=".5" ry=".5" fill-opacity=".36"/><ellipse cx="67.6" cy="69.7" rx=".6" ry=".5" fill-opacity=".23"/><ellipse cx="69.7" cy="70.7" rx=".5" ry=".5" fill-opacity=".38"/><ellipse cx="60.7" cy="73.1" rx="1.1" ry=".8" fill-opacity=".81" transform="rotate(10 60.7 73.1)"/><ellipse cx="61.6" cy="72.2" rx=".5" ry=".5" fill-opacity=".26"/><ellipse cx="57.7" cy="74.1" rx=".8" ry=".8" fill-opacity=".54"/><ellipse cx="56.8" cy="73.6" rx=".6" ry=".5" fill-opacity=".26"/><ellipse cx="74.9" cy="71.1" rx=".8" ry=".8" fill-opacity=".54"/><ellipse cx="75.9" cy="71.7" rx=".6" ry=".5" fill-opacity=".22"/><ellipse cx="75" cy="70.1" rx=".5" ry=".5" fill-opacity=".28"/><ellipse cx="75.4" cy="72.8" rx=".8" ry=".8" fill-opacity=".54"/><ellipse cx="75.7" cy="73.5" rx=".5" ry=".5" fill-opacity=".25"/><ellipse cx="81.3" cy="69.1" rx="1.3" ry="1.3" fill-opacity=".81"/><ellipse cx="80.8" cy="68.6" rx=".6" ry=".5" fill-opacity=".35"/><ellipse cx="79.6" cy="69.1" rx=".5" ry=".5" fill-opacity=".36"/><ellipse cx="80.5" cy="69.7" rx=".6" ry=".5" fill-opacity=".36"/><ellipse cx="81.8" cy="73.1" rx="1.1" ry="1.1" fill-opacity=".81"/><ellipse cx="80.9" cy="73.4" rx=".6" ry=".5" fill-opacity=".42"/><ellipse cx="73.9" cy="78" rx=".8" ry=".8" fill-opacity=".54"/><ellipse cx="73.5" cy="77.3" rx=".7" ry=".5" fill-opacity=".21" transform="rotate(5 73.5 77.3)"/><ellipse cx="74.8" cy="78.1" rx=".5" ry=".5" fill-opacity=".22"/><ellipse cx="72.4" cy="80" rx=".6" ry=".6" fill-opacity=".45"/><ellipse cx="71.2" cy="80.7" rx=".5" ry=".5" fill-opacity=".21"/><ellipse cx="71.1" cy="79.5" rx=".5" ry=".5" fill-opacity=".2"/><ellipse cx="81.8" cy="82" rx=".9" ry=".9" fill-opacity=".72"/><ellipse cx="82.2" cy="81" rx=".6" ry=".5" fill-opacity=".27"/><ellipse cx="82.8" cy="82.3" rx=".6" ry=".5" fill-opacity=".28"/><ellipse cx="78.3" cy="84" rx=".9" ry=".9" fill-opacity=".63"/><ellipse cx="78.6" cy="82.9" rx=".5" ry=".5" fill-opacity=".19"/><ellipse cx="77.6" cy="83.1" rx=".5" ry=".5" fill-opacity=".31"/><ellipse cx="78.3" cy="85.5" rx=".9" ry=".9" fill-opacity=".63"/><ellipse cx="76.8" cy="85.6" rx=".5" ry=".5" fill-opacity=".29"/><ellipse cx="55.7" cy="81.5" rx=".5" ry=".5" fill-opacity=".27"/><ellipse cx="55.7" cy="86" rx=".5" ry=".5" fill-opacity=".27"/><ellipse cx="74.4" cy="88" rx=".8" ry=".8" fill-opacity=".54"/><ellipse cx="74.6" cy="88.6" rx=".5" ry=".5" fill-opacity=".28"/><ellipse cx="73.9" cy="87.3" rx=".6" ry=".5" fill-opacity=".21"/><ellipse cx="73.3" cy="87.9" rx=".5" ry=".5" fill-opacity=".23"/><ellipse cx="77.3" cy="89" rx="1.1" ry="1" fill-opacity=".81"/><ellipse cx="78" cy="89.7" rx=".6" ry=".5" fill-opacity=".36"/><ellipse cx="77.3" cy="87.9" rx=".6" ry=".5" fill-opacity=".22"/><ellipse cx="79.3" cy="88" rx=".8" ry=".8" fill-opacity=".54"/><ellipse cx="78.6" cy="87.4" rx=".5" ry=".5" fill-opacity=".26"/><ellipse cx="53.8" cy="92" rx="1.3" ry=".8" fill-opacity=".81"/><ellipse cx="54.9" cy="91.1" rx=".6" ry=".5" fill-opacity=".44"/><ellipse cx="57.2" cy="92.5" rx=".9" ry=".8" fill-opacity=".63"/><ellipse cx="57.4" cy="93.2" rx=".6" ry=".5" fill-opacity=".23"/><ellipse cx="57.4" cy="91.5" rx=".5" ry=".5" fill-opacity=".29"/><ellipse cx="60.7" cy="90" rx=".8" ry=".8" fill-opacity=".54"/><ellipse cx="60.3" cy="90.9" rx=".6" ry=".5" fill-opacity=".2"/><ellipse cx="60.5" cy="89.3" rx=".5" ry=".5" fill-opacity=".25"/><ellipse cx="61.6" cy="89.9" rx=".6" ry=".5" fill-opacity=".19"/><ellipse cx="57.2" cy="89" rx=".8" ry=".8" fill-opacity=".54"/><ellipse cx="66" cy="92" rx=".9" ry=".8" fill-opacity=".63"/><ellipse cx="67.1" cy="92" rx=".5" ry=".5" fill-opacity=".22"/><ellipse cx="69" cy="92.5" rx=".8" ry=".8" fill-opacity=".54"/><ellipse cx="69.6" cy="93.4" rx=".5" ry=".5" fill-opacity=".27"/><ellipse cx="83.7" cy="93.5" rx=".8" ry=".8" fill-opacity=".54"/><ellipse cx="83" cy="93" rx=".5" ry=".5" fill-opacity=".25"/><ellipse cx="109.2" cy="63.1" rx="1.6" ry=".9" fill-opacity=".9" transform="rotate(-30 109.2 63.1)"/><ellipse cx="108" cy="63.8" rx=".6" ry=".5" fill-opacity=".43"/><ellipse cx="109.3" cy="63.9" rx=".5" ry=".5" fill-opacity=".34"/><ellipse cx="110" cy="63.1" rx=".7" ry=".5" fill-opacity=".47" transform="rotate(5 110 63.1)"/><ellipse cx="117.1" cy="67.6" rx="1.3" ry="1.3" fill-opacity=".81"/><ellipse cx="117.6" cy="68.6" rx=".7" ry=".5" fill-opacity=".42"/><ellipse cx="108.2" cy="68.1" rx=".8" ry=".8" fill-opacity=".54"/><ellipse cx="106.7" cy="67.6" rx=".6" ry=".5" fill-opacity=".27"/><ellipse cx="107.7" cy="67.7" rx=".6" ry=".5" fill-opacity=".3"/><ellipse cx="108.1" cy="67.5" rx=".6" ry=".5" fill-opacity=".28"/><ellipse cx="93" cy="71.1" rx="1.4" ry="1.3" fill-opacity=".9"/><ellipse cx="92.1" cy="70.7" rx=".6" ry=".5" fill-opacity=".33"/><ellipse cx="96" cy="74.1" rx="1.4" ry="1.3" fill-opacity=".81"/><ellipse cx="94.7" cy="73.6" rx=".7" ry=".5" fill-opacity=".28" transform="rotate(20 94.7 73.6)"/><ellipse cx="85.7" cy="74.1" rx=".9" ry=".9" fill-opacity=".63"/><ellipse cx="84.9" cy="73.2" rx=".6" ry=".5" fill-opacity=".23"/><ellipse cx="84.8" cy="74.8" rx=".6" ry=".5" fill-opacity=".28"/><ellipse cx="85.7" cy="64.6" rx=".8" ry=".8" fill-opacity=".54"/><ellipse cx="85.3" cy="65.8" rx=".6" ry=".5" fill-opacity=".21"/><ellipse cx="85.3" cy="63.8" rx=".6" ry=".5" fill-opacity=".26"/><ellipse cx="89.6" cy="69.1" rx=".8" ry=".8" fill-opacity=".54"/><ellipse cx="88.3" cy="69.2" rx=".5" ry=".5" fill-opacity=".22"/><ellipse cx="90.1" cy="77.5" rx=".9" ry=".9" fill-opacity=".63"/><ellipse cx="90.5" cy="78.1" rx=".6" ry=".5" fill-opacity=".25"/><ellipse cx="89.2" cy="76.7" rx=".6" ry=".5" fill-opacity=".35"/><ellipse cx="92.5" cy="79" rx=".9" ry=".9" fill-opacity=".72"/><ellipse cx="92.1" cy="78.2" rx=".5" ry=".5" fill-opacity=".24"/><ellipse cx="93" cy="80.1" rx=".7" ry=".5" fill-opacity=".38" transform="rotate(10 93 80.1)"/><ellipse cx="93.3" cy="78.3" rx=".6" ry=".5" fill-opacity=".37"/><ellipse cx="95" cy="83.5" rx="1.3" ry="1.1" fill-opacity=".81"/><ellipse cx="96.2" cy="83.3" rx=".5" ry=".5" fill-opacity=".27"/><ellipse cx="96.3" cy="82.8" rx=".5" ry=".5" fill-opacity=".36"/><ellipse cx="86.2" cy="80.5" rx=".8" ry=".8" fill-opacity=".54"/><ellipse cx="86.8" cy="81.5" rx=".6" ry=".5" fill-opacity=".24"/><ellipse cx="87.7" cy="80.2" rx=".5" ry=".5" fill-opacity=".27"/><ellipse cx="86.7" cy="81.3" rx=".6" ry=".5" fill-opacity=".21"/><ellipse cx="99.9" cy="78" rx=".9" ry=".9" fill-opacity=".63"/><ellipse cx="100.9" cy="77.7" rx=".6" ry=".5" fill-opacity=".19"/><ellipse cx="103.8" cy="75.6" rx=".9" ry=".9" fill-opacity=".72"/><ellipse cx="103.4" cy="74.9" rx=".5" ry=".5" fill-opacity=".22"/><ellipse cx="105.8" cy="75.6" rx=".8" ry=".8" fill-opacity=".54"/><ellipse cx="107.3" cy="75.3" rx=".5" ry=".5" fill-opacity=".2"/><ellipse cx="105.3" cy="85" rx="1.6" ry="1.4" fill-opacity=".81" transform="rotate(-30 105.3 85)"/><ellipse cx="106" cy="84.7" rx=".6" ry=".5" fill-opacity=".42"/><ellipse cx="106.1" cy="85.8" rx=".5" ry=".5" fill-opacity=".41"/><ellipse cx="104.3" cy="85.5" rx=".5" ry=".5" fill-opacity=".27"/><ellipse cx="102.4" cy="90.5" rx="1.4" ry="1.3" fill-opacity=".9"/><ellipse cx="101.9" cy="90" rx=".6" ry=".5" fill-opacity=".42"/><ellipse cx="113.2" cy="74.6" rx=".9" ry=".9" fill-opacity=".63"/><ellipse cx="112" cy="74.1" rx=".5" ry=".5" fill-opacity=".34"/><ellipse cx="111.7" cy="75.1" rx=".6" ry=".5" fill-opacity=".32"/><ellipse cx="117.1" cy="75.6" rx=".9" ry=".9" fill-opacity=".63"/><ellipse cx="117.1" cy="74.7" rx=".5" ry=".5" fill-opacity=".34"/><ellipse cx="116.9" cy="76.7" rx=".6" ry=".5" fill-opacity=".34"/><ellipse cx="116.1" cy="81" rx="1.3" ry="1.3" fill-opacity=".81"/><ellipse cx="115.6" cy="81.7" rx=".5" ry=".5" fill-opacity=".39"/><ellipse cx="114.5" cy="80.7" rx=".5" ry=".5" fill-opacity=".36"/><ellipse cx="118.1" cy="83" rx=".8" ry=".8" fill-opacity=".54"/><ellipse cx="117.4" cy="83.4" rx=".5" ry=".5" fill-opacity=".28"/><ellipse cx="116.8" cy="82.1" rx=".6" ry=".5" fill-opacity=".29"/><ellipse cx="89.6" cy="86" rx=".9" ry=".9" fill-opacity=".63"/><ellipse cx="88.5" cy="85.4" rx=".6" ry=".5" fill-opacity=".26"/><ellipse cx="89.4" cy="86.7" rx=".5" ry=".5" fill-opacity=".21"/><ellipse cx="93" cy="90" rx=".9" ry=".9" fill-opacity=".63"/><ellipse cx="93.1" cy="88.7" rx=".6" ry=".5" fill-opacity=".31"/><ellipse cx="94.6" cy="90.5" rx=".6" ry=".5" fill-opacity=".21"/><ellipse cx="93.6" cy="89.6" rx=".5" ry=".5" fill-opacity=".34"/><ellipse cx="92.1" cy="93.5" rx=".9" ry=".9" fill-opacity=".63"/><ellipse cx="91.7" cy="92.2" rx=".5" ry=".5" fill-opacity=".21"/><ellipse cx="93.4" cy="93.9" rx=".5" ry=".5" fill-opacity=".29"/><ellipse cx="111.7" cy="89.5" rx=".8" ry=".8" fill-opacity=".54"/><ellipse cx="116.6" cy="89" rx=".9" ry=".9" fill-opacity=".63"/><ellipse cx="117.6" cy="88.9" rx=".6" ry=".5" fill-opacity=".31"/><ellipse cx="116.1" cy="95" rx=".8" ry=".8" fill-opacity=".54"/><ellipse cx="114.5" cy="95.2" rx=".5" ry=".5" fill-opacity=".29"/><ellipse cx="37.1" cy="68.1" rx=".7" ry=".5" fill-opacity=".18" transform="rotate(-20 37.1 68.1)"/><ellipse cx="45.1" cy="72.6" rx=".8" ry=".6" fill-opacity=".22" transform="rotate(-5 45.1 72.6)"/><ellipse cx="30.5" cy="63.4" rx=".5" ry=".5" fill-opacity=".3"/><ellipse cx="22.9" cy="59.1" rx=".7" ry=".5" fill-opacity=".27" transform="rotate(-20 22.9 59.1)"/><ellipse cx="39.9" cy="69.9" rx=".8" ry=".5" fill-opacity=".45" transform="rotate(20 39.9 69.9)"/><ellipse cx="26.2" cy="63" rx=".8" ry=".5" fill-opacity=".25" transform="rotate(30 26.2 63)"/><ellipse cx="34.1" cy="66.1" rx=".5" ry=".5" fill-opacity=".33"/><ellipse cx="43.9" cy="73.8" rx=".6" ry=".5" fill-opacity=".4"/><ellipse cx="44.4" cy="72.6" rx=".5" ry=".5" fill-opacity=".36"/><ellipse cx="33.2" cy="66.3" rx=".6" ry=".5" fill-opacity=".28"/><ellipse cx="26.4" cy="63.2" rx=".6" ry=".5" fill-opacity=".49"/><ellipse cx="41.4" cy="72.5" rx=".5" ry=".5" fill-opacity=".37"/><ellipse cx="42.9" cy="71.6" rx=".6" ry=".5" fill-opacity=".23"/><ellipse cx="29.9" cy="60.8" rx=".6" ry=".5" fill-opacity=".28"/><ellipse cx="35.7" cy="67.9" rx=".6" ry=".5" fill-opacity=".27"/><ellipse cx="37.4" cy="69.7" rx=".6" ry=".5" fill-opacity=".32"/><ellipse cx="90.6" cy="63.3" rx=".6" ry=".5" fill-opacity=".42"/><ellipse cx="90.9" cy="64.3" rx=".6" ry=".5" fill-opacity=".38"/><ellipse cx="74.1" cy="65.5" rx=".6" ry=".5" fill-opacity=".39"/><ellipse cx="48.3" cy="68.3" rx=".8" ry=".5" fill-opacity=".23" transform="rotate(20 48.3 68.3)"/><ellipse cx="106" cy="59.5" rx=".7" ry=".5" fill-opacity=".29"/><ellipse cx="48.2" cy="65.9" rx=".7" ry=".5" fill-opacity=".33" transform="rotate(30 48.2 65.9)"/><ellipse cx="61.6" cy="66.4" rx=".7" ry=".5" fill-opacity=".43" transform="rotate(10 61.6 66.4)"/><ellipse cx="91.4" cy="63.1" rx=".7" ry=".5" fill-opacity=".51"/><ellipse cx="60.5" cy="67.3" rx=".5" ry=".5" fill-opacity=".5"/><ellipse cx="68.3" cy="65.5" rx=".8" ry=".5" fill-opacity=".43" transform="rotate(-10 68.3 65.5)"/><ellipse cx="53.4" cy="67.1" rx=".5" ry=".5" fill-opacity=".23"/><ellipse cx="88.3" cy="62.5" rx=".6" ry=".5" fill-opacity=".38"/><ellipse cx="98.4" cy="62.9" rx=".8" ry=".6" fill-opacity=".41" transform="rotate(-30 98.4 62.9)"/><ellipse cx="60.1" cy="67.5" rx=".8" ry=".5" fill-opacity=".24" transform="rotate(-5 60.1 67.5)"/><ellipse cx="58.3" cy="65.8" rx=".7" ry=".5" fill-opacity=".19" transform="rotate(-30 58.3 65.8)"/><ellipse cx="62.3" cy="66.6" rx=".6" ry=".5" fill-opacity=".24"/><ellipse cx="103.5" cy="63.5" rx=".6" ry=".5" fill-opacity=".44"/><ellipse cx="103" cy="61.5" rx=".6" ry=".5" fill-opacity=".25"/><ellipse cx="59.7" cy="64.6" rx=".8" ry=".6" fill-opacity=".51" transform="rotate(20 59.7 64.6)"/><ellipse cx="65.7" cy="65.4" rx=".9" ry=".5" fill-opacity=".48"/><ellipse cx="100.3" cy="62.8" rx=".7" ry=".5" fill-opacity=".49" transform="rotate(-10 100.3 62.8)"/><ellipse cx="105.1" cy="63.3" rx=".8" ry=".6" fill-opacity=".37" transform="rotate(-30 105.1 63.3)"/><ellipse cx="59.1" cy="65.2" rx=".8" ry=".5" fill-opacity=".23" transform="rotate(-10 59.1 65.2)"/><ellipse cx="65.7" cy="64.9" rx=".6" ry=".5" fill-opacity=".36"/><ellipse cx="54" cy="68.3" rx=".5" ry=".5" fill-opacity=".22"/><ellipse cx="104.2" cy="60.9" rx=".7" ry=".5" fill-opacity=".36" transform="rotate(20 104.2 60.9)"/><ellipse cx="47.6" cy="66.1" rx=".8" ry=".6" fill-opacity=".18" transform="rotate(5 47.6 66.1)"/><ellipse cx="91.2" cy="65.1" rx=".8" ry=".5" fill-opacity=".51" transform="rotate(10 91.2 65.1)"/><ellipse cx="80.6" cy="65.7" rx=".7" ry=".5" fill-opacity=".31"/><ellipse cx="102.4" cy="62.8" rx=".7" ry=".5" fill-opacity=".29" transform="rotate(20 102.4 62.8)"/><ellipse cx="103.3" cy="62.6" rx=".6" ry=".5" fill-opacity=".21"/><ellipse cx="100.3" cy="63.2" rx=".7" ry=".5" fill-opacity=".42" transform="rotate(-30 100.3 63.2)"/><ellipse cx="69.6" cy="66.4" rx=".7" ry=".5" fill-opacity=".48"/><ellipse cx="54" cy="69.6" rx=".8" ry=".5" fill-opacity=".4" transform="rotate(10 54 69.6)"/><ellipse cx="93.1" cy="63.5" rx=".6" ry=".5" fill-opacity=".32"/><ellipse cx="55.5" cy="70" rx=".8" ry=".5" fill-opacity=".24" transform="rotate(-20 55.5 70)"/><ellipse cx="121.2" cy="76.3" rx=".8" ry=".5" fill-opacity=".22" transform="rotate(5 121.2 76.3)"/><ellipse cx="33.7" cy="74.7" rx=".6" ry=".5" fill-opacity=".28"/><ellipse cx="47.1" cy="70.6" rx=".8" ry=".5" fill-opacity=".49"/><ellipse cx="70.7" cy="71.7" rx=".7" ry=".5" fill-opacity=".34" transform="rotate(-10 70.7 71.7)"/><ellipse cx="69" cy="70.5" rx=".7" ry=".5" fill-opacity=".4" transform="rotate(-30 69 70.5)"/><ellipse cx="104.3" cy="70.6" rx=".6" ry=".5" fill-opacity=".35"/><ellipse cx="76" cy="71.7" rx=".5" ry=".5" fill-opacity=".39"/><ellipse cx="53.4" cy="72.9" rx=".7" ry=".5" fill-opacity=".21" transform="rotate(-5 53.4 72.9)"/><ellipse cx="110.2" cy="73" rx=".6" ry=".5" fill-opacity=".47"/><ellipse cx="41.6" cy="75.4" rx=".6" ry=".5" fill-opacity=".21"/><ellipse cx="64" cy="70.5" rx=".5" ry=".5" fill-opacity=".2"/><ellipse cx="35.5" cy="74.8" rx=".5" ry=".5" fill-opacity=".52"/><ellipse cx="103.3" cy="72.3" rx=".5" ry=".5" fill-opacity=".4"/><ellipse cx="110" cy="71.7" rx=".5" ry=".5" fill-opacity=".35"/><ellipse cx="78.8" cy="71.1" rx=".6" ry=".5" fill-opacity=".45"/><ellipse cx="89.1" cy="70.4" rx=".9" ry=".6" fill-opacity=".28"/><ellipse cx="45.9" cy="70" rx=".5" ry=".5" fill-opacity=".48"/><ellipse cx="97" cy="73.9" rx=".6" ry=".5" fill-opacity=".5"/><ellipse cx="31.8" cy="74.9" rx=".6" ry=".5" fill-opacity=".35"/><ellipse cx="99.2" cy="71.9" rx=".5" ry=".5" fill-opacity=".37"/><ellipse cx="110.9" cy="74.3" rx=".8" ry=".5" fill-opacity=".41" transform="rotate(10 110.9 74.3)"/><ellipse cx="68.5" cy="70.3" rx=".5" ry=".5" fill-opacity=".2"/><ellipse cx="93.9" cy="73.1" rx=".7" ry=".5" fill-opacity=".49"/><ellipse cx="64.2" cy="72.9" rx=".5" ry=".5" fill-opacity=".49"/><ellipse cx="120.4" cy="75.7" rx=".7" ry=".5" fill-opacity=".51"/><ellipse cx="30.1" cy="75.1" rx=".7" ry=".5" fill-opacity=".22" transform="rotate(10 30.1 75.1)"/><ellipse cx="87.4" cy="70" rx=".8" ry=".5" fill-opacity=".45"/><ellipse cx="80.3" cy="68.1" rx=".8" ry=".5" fill-opacity=".48" transform="rotate(-30 80.3 68.1)"/><ellipse cx="57.9" cy="71.9" rx=".8" ry=".5" fill-opacity=".31"/><ellipse cx="49.3" cy="73.9" rx=".7" ry=".5" fill-opacity=".23" transform="rotate(20 49.3 73.9)"/><ellipse cx="62.3" cy="70.9" rx=".8" ry=".5" fill-opacity=".39"/><ellipse cx="46.3" cy="71.8" rx=".5" ry=".5" fill-opacity=".27"/><ellipse cx="88.6" cy="72.9" rx=".8" ry=".6" fill-opacity=".26" transform="rotate(-20 88.6 72.9)"/><ellipse cx="82.1" cy="69.8" rx=".8" ry=".5" fill-opacity=".49"/><ellipse cx="46.1" cy="72.8" rx=".6" ry=".5" fill-opacity=".19"/><ellipse cx="85.7" cy="68.7" rx=".6" ry=".5" fill-opacity=".28"/><ellipse cx="109.1" cy="73" rx=".6" ry=".5" fill-opacity=".51"/><ellipse cx="105.4" cy="72.6" rx=".8" ry=".5" fill-opacity=".33"/><ellipse cx="26.6" cy="74.7" rx=".6" ry=".5" fill-opacity=".44"/><ellipse cx="120.7" cy="79.2" rx=".7" ry=".5" fill-opacity=".3" transform="rotate(30 120.7 79.2)"/><ellipse cx="99.6" cy="82.7" rx=".7" ry=".5" fill-opacity=".27" transform="rotate(-30 99.6 82.7)"/><ellipse cx="89.2" cy="88.9" rx=".5" ry=".5" fill-opacity=".36"/><ellipse cx="44.5" cy="90.4" rx=".8" ry=".6" fill-opacity=".46" transform="rotate(-20 44.5 90.4)"/><ellipse cx="73.8" cy="91.5" rx=".7" ry=".5" fill-opacity=".42" transform="rotate(-10 73.8 91.5)"/><ellipse cx="120.5" cy="79.6" rx=".7" ry=".5" fill-opacity=".45" transform="rotate(-30 120.5 79.6)"/><ellipse cx="70.2" cy="90.6" rx=".5" ry=".5" fill-opacity=".18"/><ellipse cx="69.6" cy="90.9" rx=".8" ry=".5" fill-opacity=".32" transform="rotate(-20 69.6 90.9)"/><ellipse cx="115.2" cy="83.2" rx=".8" ry=".6" fill-opacity=".37" transform="rotate(-20 115.2 83.2)"/><ellipse cx="110.6" cy="84.7" rx=".8" ry=".5" fill-opacity=".29" transform="rotate(-20 110.6 84.7)"/><ellipse cx="64.8" cy="91.3" rx=".6" ry=".5" fill-opacity=".52"/><ellipse cx="60.2" cy="93.8" rx=".8" ry=".5" fill-opacity=".22" transform="rotate(-20 60.2 93.8)"/><ellipse cx="49.6" cy="92.4" rx=".6" ry=".5" fill-opacity=".46"/><ellipse cx="43.8" cy="91" rx=".7" ry=".5" fill-opacity=".25" transform="rotate(10 43.8 91)"/><ellipse cx="81.8" cy="90.5" rx=".5" ry=".5" fill-opacity=".29"/><ellipse cx="58.2" cy="91.3" rx=".6" ry=".5" fill-opacity=".25"/><ellipse cx="52.4" cy="92.5" rx=".5" ry=".5" fill-opacity=".39"/><ellipse cx="108.9" cy="85" rx=".7" ry=".5" fill-opacity=".53"/><ellipse cx="50.8" cy="91.3" rx=".6" ry=".5" fill-opacity=".23"/><ellipse cx="67.2" cy="92.8" rx=".6" ry=".5" fill-opacity=".48"/><ellipse cx="100.2" cy="85" rx=".8" ry=".5" fill-opacity=".46" transform="rotate(-30 100.2 85)"/><ellipse cx="121.4" cy="80.5" rx=".7" ry=".5" fill-opacity=".21" transform="rotate(30 121.4 80.5)"/><ellipse cx="67.6" cy="90.5" rx=".7" ry=".5" fill-opacity=".5" transform="rotate(-10 67.6 90.5)"/><ellipse cx="42.9" cy="92.4" rx=".7" ry=".5" fill-opacity=".47"/><ellipse cx="42.4" cy="90.9" rx=".6" ry=".5" fill-opacity=".49"/><ellipse cx="42" cy="92.1" rx=".6" ry=".5" fill-opacity=".23"/><ellipse cx="46.4" cy="92" rx=".6" ry=".5" fill-opacity=".45"/><ellipse cx="111.4" cy="83.1" rx=".8" ry=".6" fill-opacity=".44" transform="rotate(20 111.4 83.1)"/><ellipse cx="100.9" cy="85.5" rx=".8" ry=".5" fill-opacity=".21" transform="rotate(-20 100.9 85.5)"/><ellipse cx="101" cy="85.4" rx=".8" ry=".5" fill-opacity=".33" transform="rotate(20 101 85.4)"/><ellipse cx="38.8" cy="92.1" rx=".7" ry=".5" fill-opacity=".53" transform="rotate(-10 38.8 92.1)"/><ellipse cx="41.6" cy="94.3" rx=".8" ry=".5" fill-opacity=".26" transform="rotate(10 41.6 94.3)"/><ellipse cx="71" cy="90.9" rx=".7" ry=".5" fill-opacity=".2" transform="rotate(-5 71 90.9)"/><ellipse cx="49.7" cy="91.5" rx=".7" ry=".5" fill-opacity=".37" transform="rotate(10 49.7 91.5)"/><ellipse cx="35.3" cy="94.2" rx=".6" ry=".5" fill-opacity=".19"/><ellipse cx="88.6" cy="88" rx=".5" ry=".5" fill-opacity=".48"/><ellipse cx="75" cy="93" rx=".6" ry=".5" fill-opacity=".4"/><ellipse cx="39.5" cy="90.1" rx=".8" ry=".5" fill-opacity=".5"/><ellipse cx="60.1" cy="91.9" rx=".7" ry=".5" fill-opacity=".38" transform="rotate(-5 60.1 91.9)"/><ellipse cx="61.5" cy="90.9" rx=".6" ry=".5" fill-opacity=".49"/><ellipse cx="84" cy="90.7" rx=".8" ry=".5" fill-opacity=".32" transform="rotate(-30 84 90.7)"/><ellipse cx="37.1" cy="91.7" rx=".5" ry=".5" fill-opacity=".27"/><ellipse cx="79.9" cy="88.8" rx=".5" ry=".5" fill-opacity=".33"/><ellipse cx="76.2" cy="80.7" rx=".6" ry=".5" fill-opacity=".4"/><ellipse cx="80.1" cy="83.3" rx=".7" ry=".5" fill-opacity=".41" transform="rotate(-5 80.1 83.3)"/><ellipse cx="81.4" cy="92.4" rx=".8" ry=".5" fill-opacity=".32"/><ellipse cx="76.9" cy="81.2" rx=".7" ry=".5" fill-opacity=".44" transform="rotate(5 76.9 81.2)"/><ellipse cx="79.2" cy="94.4" rx=".6" ry=".5" fill-opacity=".26"/><ellipse cx="78.9" cy="80.7" rx=".6" ry=".5" fill-opacity=".2"/><ellipse cx="79.3" cy="84.9" rx=".6" ry=".5" fill-opacity=".4"/><ellipse cx="78.8" cy="78.8" rx=".6" ry=".5" fill-opacity=".35"/><ellipse cx="76.7" cy="96.1" rx=".8" ry=".5" fill-opacity=".35" transform="rotate(30 76.7 96.1)"/><ellipse cx="79.9" cy="89.4" rx=".8" ry=".6" fill-opacity=".43"/><ellipse cx="77.4" cy="89.9" rx=".6" ry=".5" fill-opacity=".44"/><ellipse cx="79.4" cy="81.1" rx=".7" ry=".5" fill-opacity=".41" transform="rotate(-30 79.4 81.1)"/><ellipse cx="78.2" cy="83.3" rx=".6" ry=".5" fill-opacity=".45"/><ellipse cx="80.4" cy="75.8" rx=".6" ry=".5" fill-opacity=".24"/><ellipse cx="78.7" cy="72.5" rx=".7" ry=".5" fill-opacity=".44" transform="rotate(-20 78.7 72.5)"/><ellipse cx="29.8" cy="92.3" rx=".6" ry=".5" fill-opacity=".35"/><ellipse cx="34.6" cy="97" rx=".7" ry=".5" fill-opacity=".31"/><ellipse cx="36.9" cy="96.9" rx=".7" ry=".5" fill-opacity=".27" transform="rotate(-10 36.9 96.9)"/><ellipse cx="23.2" cy="89.9" rx=".8" ry=".5" fill-opacity=".26" transform="rotate(-10 23.2 89.9)"/><ellipse cx="30.9" cy="93.4" rx=".8" ry=".5" fill-opacity=".21" transform="rotate(-5 30.9 93.4)"/><ellipse cx="20.6" cy="87" rx=".5" ry=".5" fill-opacity=".31"/><ellipse cx="32" cy="94.3" rx=".7" ry=".5" fill-opacity=".34" transform="rotate(-20 32 94.3)"/><ellipse cx="96.8" cy="72.8" rx=".6" ry=".5" fill-opacity=".66"/><ellipse cx="102.2" cy="67.1" rx=".7" ry=".5" fill-opacity=".63" transform="rotate(10 102.2 67.1)"/><ellipse cx="106.2" cy="86.4" rx=".6" ry=".5" fill-opacity=".36"/><ellipse cx="104.9" cy="79.2" rx=".9" ry=".6" fill-opacity=".3"/><ellipse cx="88.3" cy="78.9" rx=".6" ry=".5" fill-opacity=".37"/><ellipse cx="105" cy="81.6" rx=".9" ry=".6" fill-opacity=".6"/><ellipse cx="97.9" cy="80.8" rx=".7" ry=".5" fill-opacity=".43"/><ellipse cx="83.6" cy="82.3" rx=".6" ry=".5" fill-opacity=".33"/><ellipse cx="70.9" cy="86.4" rx=".6" ry=".5" fill-opacity=".36"/><ellipse cx="103.3" cy="79" rx=".7" ry=".5" fill-opacity=".44" transform="rotate(5 103.3 79)"/><ellipse cx="103.9" cy="85.6" rx=".6" ry=".5" fill-opacity=".47"/><ellipse cx="109" cy="77.5" rx=".7" ry=".5" fill-opacity=".64" transform="rotate(-5 109 77.5)"/><ellipse cx="98.5" cy="69.9" rx=".5" ry=".5" fill-opacity=".44"/><ellipse cx="103.7" cy="86.7" rx=".9" ry=".6" fill-opacity=".54"/><ellipse cx="93.7" cy="89.5" rx=".7" ry=".5" fill-opacity=".66" transform="rotate(5 93.7 89.5)"/><ellipse cx="117" cy="92.6" rx=".7" ry=".5" fill-opacity=".48" transform="rotate(10 117 92.6)"/><ellipse cx="103" cy="79.7" rx=".8" ry=".5" fill-opacity=".4" transform="rotate(5 103 79.7)"/><ellipse cx="97.7" cy="87.7" rx=".9" ry=".6" fill-opacity=".46" transform="rotate(10 97.7 87.7)"/><ellipse cx="90.6" cy="82" rx=".6" ry=".5" fill-opacity=".38"/><ellipse cx="82.9" cy="74.3" rx=".6" ry=".5" fill-opacity=".58"/><ellipse cx="94.8" cy="67.1" rx=".8" ry=".5" fill-opacity=".66" transform="rotate(-10 94.8 67.1)"/><ellipse cx="117.1" cy="87.5" rx=".9" ry=".6" fill-opacity=".58"/><ellipse cx="83.6" cy="80.7" rx=".8" ry=".5" fill-opacity=".29"/><ellipse cx="118" cy="84.2" rx=".6" ry=".5" fill-opacity=".28"/><ellipse cx="99.4" cy="81.8" rx=".8" ry=".5" fill-opacity=".28" transform="rotate(20 99.4 81.8)"/><ellipse cx="78.6" cy="78.1" rx=".7" ry=".5" fill-opacity=".62"/><ellipse cx="107.4" cy="81" rx=".8" ry=".5" fill-opacity=".39"/><ellipse cx="115.7" cy="89" rx=".8" ry=".5" fill-opacity=".66"/><ellipse cx="109.7" cy="92.1" rx=".8" ry=".5" fill-opacity=".39" transform="rotate(5 109.7 92.1)"/><ellipse cx="105.6" cy="68" rx=".8" ry=".5" fill-opacity=".41" transform="rotate(-20 105.6 68)"/><ellipse cx="90.3" cy="88.3" rx=".6" ry=".5" fill-opacity=".29"/><ellipse cx="95.5" cy="73.1" rx=".8" ry=".6" fill-opacity=".66" transform="rotate(-20 95.5 73.1)"/><ellipse cx="104.5" cy="91.2" rx=".7" ry=".5" fill-opacity=".34" transform="rotate(-5 104.5 91.2)"/><ellipse cx="99.1" cy="81.1" rx=".9" ry=".6" fill-opacity=".47" transform="rotate(-20 99.1 81.1)"/><ellipse cx="103.6" cy="93.2" rx=".7" ry=".5" fill-opacity=".57" transform="rotate(-10 103.6 93.2)"/><ellipse cx="113.4" cy="80.2" rx=".5" ry=".5" fill-opacity=".53"/><ellipse cx="113.1" cy="76.2" rx="1" ry=".7" fill-opacity=".67"/><ellipse cx="85.8" cy="85.5" rx=".9" ry=".6" fill-opacity=".3"/><ellipse cx="116.1" cy="80.3" rx=".7" ry=".5" fill-opacity=".66" transform="rotate(-10 116.1 80.3)"/><ellipse cx="121.4" cy="80.2" rx=".7" ry=".5" fill-opacity=".48"/><ellipse cx="90.2" cy="69.3" rx=".6" ry=".5" fill-opacity=".44"/><ellipse cx="90.3" cy="88.5" rx=".6" ry=".5" fill-opacity=".64"/><ellipse cx="96.5" cy="83.3" rx=".9" ry=".6" fill-opacity=".29" transform="rotate(-5 96.5 83.3)"/><ellipse cx="95.9" cy="86.4" rx=".9" ry=".6" fill-opacity=".51" transform="rotate(10 95.9 86.4)"/><ellipse cx="97.6" cy="75.7" rx=".6" ry=".5" fill-opacity=".59"/><ellipse cx="105.5" cy="92.7" rx=".8" ry=".6" fill-opacity=".34" transform="rotate(10 105.5 92.7)"/><ellipse cx="84.7" cy="77.9" rx=".6" ry=".5" fill-opacity=".49"/><ellipse cx="88.7" cy="68.1" rx=".9" ry=".6" fill-opacity=".61" transform="rotate(-10 88.7 68.1)"/><ellipse cx="86.8" cy="94" rx=".7" ry=".5" fill-opacity=".29" transform="rotate(-5 86.8 94)"/><ellipse cx="94.8" cy="67.4" rx="1" ry=".6" fill-opacity=".37" transform="rotate(20 94.8 67.4)"/><ellipse cx="115" cy="80.3" rx=".5" ry=".5" fill-opacity=".58"/><ellipse cx="104.4" cy="93.4" rx=".7" ry=".5" fill-opacity=".37" transform="rotate(-30 104.4 93.4)"/><ellipse cx="100.9" cy="81.1" rx=".8" ry=".6" fill-opacity=".63" transform="rotate(-20 100.9 81.1)"/><ellipse cx="94" cy="80" rx=".7" ry=".5" fill-opacity=".45" transform="rotate(5 94 80)"/><ellipse cx="64.5" cy="88.4" rx=".6" ry=".5" fill-opacity=".34"/><ellipse cx="103.6" cy="58.4" rx=".6" ry=".5" fill-opacity=".47"/><ellipse cx="102" cy="92.6" rx=".6" ry=".5" fill-opacity=".52"/><ellipse cx="107.7" cy="90.7" rx=".8" ry=".6" fill-opacity=".66" transform="rotate(20 107.7 90.7)"/><ellipse cx="111.5" cy="79.5" rx=".7" ry=".5" fill-opacity=".44" transform="rotate(-10 111.5 79.5)"/><ellipse cx="80.4" cy="93.7" rx=".8" ry=".5" fill-opacity=".52" transform="rotate(-10 80.4 93.7)"/><ellipse cx="103.7" cy="89.3" rx=".6" ry=".5" fill-opacity=".52"/><ellipse cx="105" cy="66.1" rx=".9" ry=".6" fill-opacity=".43"/><ellipse cx="87.8" cy="93.3" rx=".6" ry=".5" fill-opacity=".52"/><ellipse cx="80.3" cy="79" rx=".6" ry=".5" fill-opacity=".28"/><ellipse cx="92.8" cy="90.5" rx=".9" ry=".6" fill-opacity=".46"/><ellipse cx="96.8" cy="77" rx=".5" ry=".5" fill-opacity=".29"/><ellipse cx="95.7" cy="63.8" rx=".6" ry=".5" fill-opacity=".51"/><ellipse cx="84.3" cy="82.8" rx=".5" ry=".5" fill-opacity=".27"/><ellipse cx="111.9" cy="94.3" rx=".7" ry=".5" fill-opacity=".35" transform="rotate(-5 111.9 94.3)"/><ellipse cx="105.4" cy="87.5" rx=".9" ry=".6" fill-opacity=".31"/><ellipse cx="103.2" cy="87.3" rx=".5" ry=".5" fill-opacity=".65"/><ellipse cx="106.2" cy="95.2" rx=".8" ry=".5" fill-opacity=".45" transform="rotate(-5 106.2 95.2)"/><ellipse cx="118.8" cy="85.8" rx=".8" ry=".5" fill-opacity=".44" transform="rotate(10 118.8 85.8)"/><ellipse cx="94.3" cy="77.6" rx=".6" ry=".5" fill-opacity=".51"/><ellipse cx="92.5" cy="73.2" rx=".7" ry=".5" fill-opacity=".4"/><ellipse cx="99.2" cy="88.2" rx=".7" ry=".5" fill-opacity=".61" transform="rotate(5 99.2 88.2)"/><ellipse cx="106.3" cy="81.5" rx=".9" ry=".6" fill-opacity=".64"/><ellipse cx="101.1" cy="81.6" rx=".7" ry=".5" fill-opacity=".34" transform="rotate(5 101.1 81.6)"/><ellipse cx="118.5" cy="71.8" rx=".7" ry=".5" fill-opacity=".65" transform="rotate(-20 118.5 71.8)"/><ellipse cx="95.5" cy="74.1" rx=".9" ry=".6" fill-opacity=".63"/><ellipse cx="102.5" cy="93.2" rx=".8" ry=".5" fill-opacity=".51" transform="rotate(5 102.5 93.2)"/><ellipse cx="116.7" cy="90.6" rx=".8" ry=".5" fill-opacity=".48" transform="rotate(-10 116.7 90.6)"/><ellipse cx="98.6" cy="93.8" rx=".8" ry=".6" fill-opacity=".67"/><ellipse cx="84.5" cy="80" rx="1" ry=".6" fill-opacity=".44" transform="rotate(10 84.5 80)"/><ellipse cx="107.5" cy="85.3" rx=".6" ry=".5" fill-opacity=".46"/><ellipse cx="77.3" cy="71.3" rx=".6" ry=".5" fill-opacity=".67"/><ellipse cx="119.8" cy="84.9" rx=".7" ry=".5" fill-opacity=".31"/><ellipse cx="79.3" cy="85.3" rx=".6" ry=".5" fill-opacity=".33"/><ellipse cx="96.7" cy="73.7" rx=".9" ry=".6" fill-opacity=".39"/><ellipse cx="111.5" cy="78.7" rx=".7" ry=".5" fill-opacity=".36" transform="rotate(5 111.5 78.7)"/><ellipse cx="82.6" cy="69.2" rx=".8" ry=".5" fill-opacity=".44" transform="rotate(10 82.6 69.2)"/><ellipse cx="92.5" cy="94.2" rx="1.4" ry="1.1" fill-opacity=".26" transform="rotate(-30 92.5 94.2)"/><ellipse cx="110.3" cy="88.3" rx="1.3" ry="1.1" fill-opacity=".27"/><ellipse cx="99.2" cy="80.2" rx="1.4" ry="1.1" fill-opacity=".19"/><ellipse cx="96.7" cy="71.5" rx="1.1" ry=".9" fill-opacity=".2" transform="rotate(10 96.7 71.5)"/><ellipse cx="83.8" cy="85.3" rx="1.3" ry="1.1" fill-opacity=".24" transform="rotate(-30 83.8 85.3)"/><ellipse cx="101" cy="91.2" rx="1.3" ry="1.1" fill-opacity=".24" transform="rotate(20 101 91.2)"/><ellipse cx="93.2" cy="82" rx="1.6" ry="1.3" fill-opacity=".24" transform="rotate(-30 93.2 82)"/><ellipse cx="118.4" cy="90.8" rx="1.6" ry="1.3" fill-opacity=".26" transform="rotate(30 118.4 90.8)"/><ellipse cx="111.4" cy="75.1" rx="1.7" ry="1.4" fill-opacity=".25" transform="rotate(-10 111.4 75.1)"/><ellipse cx="119.1" cy="82.8" rx="1.2" ry=".9" fill-opacity=".23" transform="rotate(5 119.1 82.8)"/><ellipse cx="104" cy="87.8" rx="1.1" ry=".9" fill-opacity=".21"/><ellipse cx="111.8" cy="71.9" rx="1.4" ry="1.2" fill-opacity=".25" transform="rotate(10 111.8 71.9)"/><ellipse cx="92.2" cy="75.6" rx="1.3" ry="1.1" fill-opacity=".23"/><ellipse cx="109.9" cy="90" rx="1.5" ry="1.3" fill-opacity=".19" transform="rotate(-20 109.9 90)"/><ellipse cx="96.6" cy="92.9" rx="1.1" ry=".9" fill-opacity=".21" transform="rotate(-10 96.6 92.9)"/><ellipse cx="104.2" cy="93.5" rx="1.1" ry=".9" fill-opacity=".22" transform="rotate(30 104.2 93.5)"/><ellipse cx="99.5" cy="93" rx="1.3" ry="1.1" fill-opacity=".21"/><ellipse cx="88" cy="93.5" rx="1.6" ry="1.3" fill-opacity=".27" transform="rotate(5 88 93.5)"/><ellipse cx="101.6" cy="69.2" rx="1.4" ry="1.2" fill-opacity=".2" transform="rotate(5 101.6 69.2)"/><ellipse cx="112.5" cy="88.8" rx="1.1" ry=".9" fill-opacity=".2" transform="rotate(-10 112.5 88.8)"/><ellipse cx="109.6" cy="76" rx="1.5" ry="1.3" fill-opacity=".21"/><ellipse cx="104.1" cy="86.2" rx="1.1" ry=".9" fill-opacity=".19" transform="rotate(20 104.1 86.2)"/><ellipse cx="108.5" cy="63.3" rx="1.6" ry="1.3" fill-opacity=".24"/><ellipse cx="189.3" cy="48.5" rx=".5" ry=".5" fill-opacity=".16"/><ellipse cx="197.4" cy="51.5" rx=".5" ry=".5" fill-opacity=".25"/><ellipse cx="213.5" cy="31.5" rx=".5" ry=".5" fill-opacity=".21"/><ellipse cx="183" cy="34.3" rx=".5" ry=".5" fill-opacity=".27"/><ellipse cx="206.8" cy="50.5" rx=".5" ry=".5" fill-opacity=".26"/><ellipse cx="214.4" cy="27.2" rx=".5" ry=".5" fill-opacity=".12"/><ellipse cx="183.6" cy="25.5" rx=".5" ry=".5" fill-opacity=".29"/><ellipse cx="183.8" cy="41.1" rx=".5" ry=".5" fill-opacity=".17"/><ellipse cx="209.5" cy="46.4" rx=".5" ry=".5" fill-opacity=".25"/><ellipse cx="201.9" cy="52.1" rx=".5" ry=".5" fill-opacity=".22"/><ellipse cx="197.2" cy="53.3" rx=".5" ry=".5" fill-opacity=".21"/><ellipse cx="187.5" cy="49.6" rx=".5" ry=".5" fill-opacity=".25"/><ellipse cx="184.4" cy="22.3" rx=".5" ry=".5" fill-opacity=".21"/><ellipse cx="187.9" cy="18.7" rx=".5" ry=".5" fill-opacity=".13"/><ellipse cx="189.1" cy="47.4" rx=".5" ry=".5" fill-opacity=".16"/><ellipse cx="206.7" cy="49.8" rx=".5" ry=".5" fill-opacity=".18"/><ellipse cx="207.9" cy="15.9" rx=".5" ry=".5" fill-opacity=".29"/><ellipse cx="213.6" cy="38.7" rx=".5" ry=".5" fill-opacity=".15"/><ellipse cx="214.7" cy="22.1" rx=".5" ry=".5" fill-opacity=".21"/><ellipse cx="181.3" cy="24.1" rx=".5" ry=".5" fill-opacity=".2"/><ellipse cx="210.1" cy="17.2" rx=".5" ry=".5" fill-opacity=".23"/><ellipse cx="201.9" cy="52" rx=".5" ry=".5" fill-opacity=".23"/><ellipse cx="185.2" cy="44" rx=".5" ry=".5" fill-opacity=".19"/><ellipse cx="189.8" cy="48.9" rx=".5" ry=".5" fill-opacity=".29"/><ellipse cx="182.7" cy="42" rx=".5" ry=".5" fill-opacity=".14"/><ellipse cx="214.4" cy="35.8" rx=".5" ry=".5" fill-opacity=".3"/><ellipse cx="213" cy="29.1" rx=".5" ry=".5" fill-opacity=".15"/><ellipse cx="211.7" cy="19.2" rx=".5" ry=".5" fill-opacity=".21"/><ellipse cx="213.3" cy="31.8" rx=".5" ry=".5" fill-opacity=".22"/><ellipse cx="197.4" cy="11.2" rx=".5" ry=".5" fill-opacity=".24"/><ellipse cx="194.7" cy="12.8" rx=".5" ry=".5" fill-opacity=".14"/><ellipse cx="181.4" cy="28.1" rx=".5" ry=".5" fill-opacity=".16"/><ellipse cx="189.4" cy="49" rx=".5" ry=".5" fill-opacity=".27"/><ellipse cx="214.6" cy="35.7" rx=".5" ry=".5" fill-opacity=".13"/><ellipse cx="202.6" cy="11.9" rx=".5" ry=".5" fill-opacity=".15"/><ellipse cx="213.7" cy="24.7" rx=".5" ry=".5" fill-opacity=".26"/><ellipse cx="183.5" cy="46" rx=".5" ry=".5" fill-opacity=".13"/><ellipse cx="182.4" cy="23.8" rx=".5" ry=".5" fill-opacity=".15"/><ellipse cx="214.7" cy="39" rx=".5" ry=".5" fill-opacity=".21"/><ellipse cx="183.4" cy="43.6" rx=".5" ry=".5" fill-opacity=".14"/><ellipse cx="213.1" cy="39.8" rx=".5" ry=".5" fill-opacity=".17"/><ellipse cx="215.8" cy="22.6" rx=".5" ry=".5" fill-opacity=".15"/><ellipse cx="190.1" cy="14.1" rx=".5" ry=".5" fill-opacity=".13"/><ellipse cx="216.6" cy="28.5" rx=".5" ry=".5" fill-opacity=".28"/><ellipse cx="185.9" cy="48" rx=".5" ry=".5" fill-opacity=".3"/><ellipse cx="188.8" cy="50.1" rx=".5" ry=".5" fill-opacity=".15"/><ellipse cx="184.8" cy="20.5" rx=".5" ry=".5" fill-opacity=".27"/><ellipse cx="185.2" cy="17.2" rx=".5" ry=".5" fill-opacity=".25"/><ellipse cx="200.4" cy="53.5" rx=".5" ry=".5" fill-opacity=".13"/><ellipse cx="182.3" cy="41.2" rx=".5" ry=".5" fill-opacity=".2"/><ellipse cx="217.4" cy="28.9" rx=".5" ry=".5" fill-opacity=".18"/><ellipse cx="195.2" cy="12.6" rx=".5" ry=".5" fill-opacity=".16"/><ellipse cx="215.4" cy="31.1" rx=".5" ry=".5" fill-opacity=".19"/><ellipse cx="197.2" cy="11.5" rx=".5" ry=".5" fill-opacity=".2"/><ellipse cx="181.6" cy="34.5" rx=".5" ry=".5" fill-opacity=".15"/><ellipse cx="186.7" cy="16.9" rx=".5" ry=".5" fill-opacity=".15"/><ellipse cx="182.1" cy="39.9" rx=".5" ry=".5" fill-opacity=".28"/><ellipse cx="212.5" cy="19.3" rx=".5" ry=".5" fill-opacity=".17"/><ellipse cx="181.8" cy="40.2" rx=".5" ry=".5" fill-opacity=".29"/><ellipse cx="190.5" cy="14.1" rx=".5" ry=".5" fill-opacity=".24"/><ellipse cx="214.4" cy="19" rx="1.3" ry="2.2" fill-opacity="1" transform="rotate(30 214.4 19)"/><ellipse cx="168.5" cy="79" rx=".5" ry=".5" fill-opacity=".08"/><ellipse cx="60.7" cy="33.9" rx=".5" ry=".5" fill-opacity=".15"/><ellipse cx="81" cy="15.3" rx=".5" ry=".5" fill-opacity=".17"/><ellipse cx="166.8" cy="64.2" rx=".5" ry=".5" fill-opacity=".12"/><ellipse cx="49.2" cy="117.5" rx=".5" ry=".5" fill-opacity=".12"/><ellipse cx="4.9" cy="24.9" rx=".5" ry=".5" fill-opacity=".15"/><ellipse cx="221.4" cy="52.6" rx=".5" ry=".5" fill-opacity=".06"/><ellipse cx="57" cy="99.3" rx=".5" ry=".5" fill-opacity=".06"/><ellipse cx="168.7" cy="98" rx=".5" ry=".5" fill-opacity=".14"/><ellipse cx="74.5" cy="25.5" rx=".5" ry=".5" fill-opacity=".12"/><ellipse cx="91.6" cy="86.4" rx=".5" ry=".5" fill-opacity=".09"/><ellipse cx="2.4" cy="75.8" rx=".5" ry=".5" fill-opacity=".18"/><ellipse cx="119.2" cy="131" rx=".5" ry=".5" fill-opacity=".11"/><ellipse cx="17.8" cy="14.6" rx=".5" ry=".5" fill-opacity=".13"/><ellipse cx="85.8" cy="120.9" rx=".5" ry=".5" fill-opacity=".09"/><ellipse cx="20.8" cy="136.1" rx=".5" ry=".5" fill-opacity=".17"/><ellipse cx="155.7" cy="9.2" rx=".5" ry=".5" fill-opacity=".2"/><ellipse cx="41.1" cy="65.6" rx=".5" ry=".5" fill-opacity=".05"/><ellipse cx="167.8" cy="75.9" rx=".5" ry=".5" fill-opacity=".19"/><ellipse cx="144.1" cy="64.5" rx=".5" ry=".5" fill-opacity=".14"/><ellipse cx="210.4" cy="46.5" rx=".5" ry=".5" fill-opacity=".12"/><ellipse cx="63.5" cy="32.4" rx=".5" ry=".5" fill-opacity=".12"/><ellipse cx="204.9" cy="118.6" rx=".5" ry=".5" fill-opacity=".11"/><ellipse cx="107.7" cy="115.1" rx=".5" ry=".5" fill-opacity=".06"/><ellipse cx="120.1" cy="124" rx=".5" ry=".5" fill-opacity=".14"/><ellipse cx="112.3" cy="4.5" rx=".5" ry=".5" fill-opacity=".11"/><ellipse cx="107" cy="126.7" rx=".5" ry=".5" fill-opacity=".19"/><ellipse cx="96.8" cy="82.7" rx=".5" ry=".5" fill-opacity=".08"/><ellipse cx="24.8" cy="12.4" rx=".5" ry=".5" fill-opacity=".16"/><ellipse cx="101.7" cy="9.2" rx=".5" ry=".5" fill-opacity=".12"/><ellipse cx="53.6" cy="8.1" rx=".5" ry=".5" fill-opacity=".05"/><ellipse cx="58.6" cy="77.6" rx=".5" ry=".5" fill-opacity=".17"/><ellipse cx="115.6" cy="16.6" rx=".5" ry=".5" fill-opacity=".07"/><ellipse cx="106.9" cy="11.5" rx=".5" ry=".5" fill-opacity=".12"/><ellipse cx="162.3" cy="44.1" rx=".5" ry=".5" fill-opacity=".18"/><ellipse cx="146.1" cy="97.9" rx=".5" ry=".5" fill-opacity=".12"/><ellipse cx="190" cy="9.6" rx=".5" ry=".5" fill-opacity=".19"/><ellipse cx="106.5" cy="62.8" rx=".5" ry=".5" fill-opacity=".12"/><ellipse cx="222.4" cy="75.9" rx=".5" ry=".5" fill-opacity=".11"/><ellipse cx="91.1" cy="129.4" rx=".5" ry=".5" fill-opacity=".11"/><ellipse cx="16.7" cy="57.5" rx=".5" ry=".5" fill-opacity=".16"/><ellipse cx="48" cy="99.7" rx=".5" ry=".5" fill-opacity=".17"/><ellipse cx="222.2" cy="36.3" rx=".5" ry=".5" fill-opacity=".17"/><ellipse cx="180.1" cy="62.3" rx=".5" ry=".5" fill-opacity=".18"/><ellipse cx="195.2" cy="20.6" rx=".5" ry=".5" fill-opacity=".16"/><ellipse cx="156.1" cy="75.3" rx=".5" ry=".5" fill-opacity=".19"/><ellipse cx="125.5" cy="80" rx=".5" ry=".5" fill-opacity=".1"/><ellipse cx="194.5" cy="90.5" rx=".5" ry=".5" fill-opacity=".1"/><ellipse cx="217.4" cy="130.8" rx=".5" ry=".5" fill-opacity=".09"/><ellipse cx="213.9" cy="9.1" rx=".5" ry=".5" fill-opacity=".08"/><ellipse cx="36.4" cy="11.6" rx=".5" ry=".5" fill-opacity=".15"/><ellipse cx="52.6" cy="123.4" rx=".5" ry=".5" fill-opacity=".12"/><ellipse cx="186.6" cy="26" rx=".5" ry=".5" fill-opacity=".18"/><ellipse cx="25" cy="106.8" rx=".5" ry=".5" fill-opacity=".2"/><ellipse cx="86.2" cy="29.5" rx=".5" ry=".5" fill-opacity=".17"/><ellipse cx="43.6" cy="68.7" rx=".5" ry=".5" fill-opacity=".12"/><ellipse cx="60.7" cy="52.6" rx=".5" ry=".5" fill-opacity=".12"/><ellipse cx="113.5" cy="53.9" rx=".5" ry=".5" fill-opacity=".09"/><ellipse cx="145.5" cy="46.1" rx=".5" ry=".5" fill-opacity=".11"/><ellipse cx="25.5" cy="112.8" rx=".5" ry=".5" fill-opacity=".13"/><ellipse cx="84.3" cy="59.7" rx=".5" ry=".5" fill-opacity=".09"/><ellipse cx="170.1" cy="34.1" rx=".5" ry=".5" fill-opacity=".06"/><ellipse cx="116.5" cy="82.6" rx=".5" ry=".5" fill-opacity=".13"/><ellipse cx="14.9" cy="106.9" rx=".5" ry=".5" fill-opacity=".12"/><ellipse cx="187.2" cy="91" rx=".5" ry=".5" fill-opacity=".09"/><ellipse cx="55.9" cy="80.7" rx=".5" ry=".5" fill-opacity=".14"/><ellipse cx="124.1" cy="5" rx=".5" ry=".5" fill-opacity=".17"/><ellipse cx="36.1" cy="55.6" rx=".5" ry=".5" fill-opacity=".06"/><ellipse cx="90.7" cy="40.3" rx=".5" ry=".5" fill-opacity=".09"/><ellipse cx="203" cy="12.8" rx=".5" ry=".5" fill-opacity=".14"/><ellipse cx="171.3" cy="98.7" rx=".5" ry=".5" fill-opacity=".07"/><ellipse cx="75.1" cy="32.6" rx=".5" ry=".5" fill-opacity=".18"/><ellipse cx="126.9" cy="63.4" rx=".5" ry=".5" fill-opacity=".18"/><ellipse cx="198.7" cy="28.2" rx=".5" ry=".5" fill-opacity=".11"/><ellipse cx="180.3" cy="114.7" rx=".5" ry=".5" fill-opacity=".15"/><ellipse cx="225.5" cy="83.8" rx=".5" ry=".5" fill-opacity=".12"/><ellipse cx="49.1" cy="79.1" rx=".5" ry=".5" fill-opacity=".06"/><ellipse cx="58.3" cy="71" rx=".5" ry=".5" fill-opacity=".08"/><ellipse cx="77.4" cy="41.1" rx=".5" ry=".5" fill-opacity=".16"/><ellipse cx="51.3" cy="96.7" rx=".5" ry=".5" fill-opacity=".16"/><ellipse cx="177.3" cy="19.7" rx=".5" ry=".5" fill-opacity=".18"/><ellipse cx="24.8" cy=".9" rx=".5" ry=".5" fill-opacity=".07"/><ellipse cx="73.6" cy="10.3" rx=".5" ry=".5" fill-opacity=".16"/><ellipse cx="52.6" cy="97.6" rx=".5" ry=".5" fill-opacity=".17"/><ellipse cx="58.8" cy="122.3" rx=".5" ry=".5" fill-opacity=".06"/><ellipse cx="29.7" cy="28" rx=".5" ry=".5" fill-opacity=".15"/><ellipse cx="198.6" cy="75.3" rx=".5" ry=".5" fill-opacity=".12"/><ellipse cx="35.2" cy="101.1" rx=".5" ry=".5" fill-opacity=".09"/><ellipse cx="226.6" cy="50.8" rx=".5" ry=".5" fill-opacity=".18"/><ellipse cx="178.2" cy="3.3" rx=".5" ry=".5" fill-opacity=".18"/><ellipse cx="213.3" cy="32.3" rx=".5" ry=".5" fill-opacity=".14"/><ellipse cx="186.3" cy="5.2" rx=".5" ry=".5" fill-opacity=".16"/><ellipse cx="43.6" cy="14.3" rx=".5" ry=".5" fill-opacity=".06"/><ellipse cx="116.9" cy="122.2" rx=".5" ry=".5" fill-opacity=".15"/><ellipse cx="216.1" cy="48" rx=".5" ry=".5" fill-opacity=".16"/><ellipse cx="219.8" cy="22.7" rx=".5" ry=".5" fill-opacity=".17"/><ellipse cx="192.3" cy="87.1" rx=".5" ry=".5" fill-opacity=".13"/><ellipse cx="139.6" cy="106.8" rx=".5" ry=".5" fill-opacity=".16"/><ellipse cx="115.9" cy="40.7" rx=".5" ry=".5" fill-opacity=".1"/><ellipse cx="93.3" cy="55.3" rx=".5" ry=".5" fill-opacity=".07"/><ellipse cx="161.6" cy="89.1" rx=".5" ry=".5" fill-opacity=".12"/><ellipse cx="25.3" cy="113.8" rx=".5" ry=".5" fill-opacity=".09"/><ellipse cx="188.1" cy="119.8" rx=".5" ry=".5" fill-opacity=".05"/><ellipse cx="85" cy="115.9" rx=".5" ry=".5" fill-opacity=".07"/><ellipse cx="209.7" cy="24.3" rx=".5" ry=".5" fill-opacity=".08"/><ellipse cx="131.1" cy="106" rx=".5" ry=".5" fill-opacity=".14"/><ellipse cx="6.1" cy="13.5" rx=".5" ry=".5" fill-opacity=".18"/><ellipse cx="6" cy="65.4" rx=".5" ry=".5" fill-opacity=".18"/><ellipse cx="207.1" cy="113" rx=".5" ry=".5" fill-opacity=".06"/><ellipse cx="46.1" cy="59" rx=".5" ry=".5" fill-opacity=".15"/><ellipse cx="115.6" cy="19.2" rx=".5" ry=".5" fill-opacity=".18"/><ellipse cx="15.2" cy="35" rx=".5" ry=".5" fill-opacity=".11"/><ellipse cx="49.6" cy="59.8" rx=".5" ry=".5" fill-opacity=".17"/><ellipse cx="2" cy="134.1" rx=".5" ry=".5" fill-opacity=".12"/><ellipse cx="154.1" cy="86.9" rx=".5" ry=".5" fill-opacity=".12"/><ellipse cx="224.6" cy="10.5" rx=".5" ry=".5" fill-opacity=".08"/><ellipse cx="100.1" cy="45.3" rx=".5" ry=".5" fill-opacity=".11"/><ellipse cx="115" cy="98.3" rx=".5" ry=".5" fill-opacity=".18"/><ellipse cx="199.4" cy="42.2" rx=".5" ry=".5" fill-opacity=".13"/><ellipse cx="208.3" cy="56.2" rx=".5" ry=".5" fill-opacity=".2"/><ellipse cx="37.9" cy="133.8" rx=".5" ry=".5" fill-opacity=".12"/><ellipse cx="142.6" cy="120.3" rx=".5" ry=".5" fill-opacity=".08"/><ellipse cx="194.7" cy="41.7" rx=".5" ry=".5" fill-opacity=".13"/><ellipse cx="69.1" cy="133.4" rx=".5" ry=".5" fill-opacity=".17"/><ellipse cx="41.6" cy="11.8" rx=".5" ry=".5" fill-opacity=".17"/><ellipse cx="20.6" cy="33.3" rx=".5" ry=".5" fill-opacity=".18"/><ellipse cx="157.2" cy="98.3" rx=".5" ry=".5" fill-opacity=".06"/><ellipse cx="204.3" cy="72.2" rx=".5" ry=".5" fill-opacity=".13"/><ellipse cx="115.2" cy="65.2" rx=".5" ry=".5" fill-opacity=".06"/><ellipse cx="183.9" cy="2.5" rx=".5" ry=".5" fill-opacity=".06"/><ellipse cx="169" cy="123.4" rx=".5" ry=".5" fill-opacity=".2"/><ellipse cx="67.4" cy="47.8" rx=".5" ry=".5" fill-opacity=".09"/><ellipse cx="144.4" cy="42.9" rx=".5" ry=".5" fill-opacity=".18"/><ellipse cx="83" cy="56.9" rx=".5" ry=".5" fill-opacity=".11"/><ellipse cx="41.9" cy="61.4" rx=".5" ry=".5" fill-opacity=".13"/><ellipse cx="97.3" cy="29.9" rx=".5" ry=".5" fill-opacity=".13"/><ellipse cx="170.2" cy="115.5" rx=".5" ry=".5" fill-opacity=".19"/><ellipse cx="104.1" cy="85" rx=".5" ry=".5" fill-opacity=".08"/><ellipse cx="19.6" cy="86.8" rx=".5" ry=".5" fill-opacity=".06"/><ellipse cx="226.3" cy="20.1" rx=".5" ry=".5" fill-opacity=".09"/><ellipse cx="135.5" cy="17.9" rx=".5" ry=".5" fill-opacity=".17"/><ellipse cx="82.9" cy="71.7" rx=".5" ry=".5" fill-opacity=".13"/><ellipse cx="77.6" cy="105.4" rx=".5" ry=".5" fill-opacity=".2"/><ellipse cx="51" cy="67.9" rx=".5" ry=".5" fill-opacity=".16"/><ellipse cx="78.6" cy="56.9" rx=".5" ry=".5" fill-opacity=".13"/><ellipse cx="197.9" cy="38.8" rx=".5" ry=".5" fill-opacity=".16"/><ellipse cx="77.9" cy="25.2" rx=".5" ry=".5" fill-opacity=".1"/><ellipse cx="161.2" cy="12.3" rx=".5" ry=".5" fill-opacity=".19"/><ellipse cx="195.3" cy="86.9" rx=".5" ry=".5" fill-opacity=".09"/><ellipse cx="199.7" cy="93.4" rx=".5" ry=".5" fill-opacity=".11"/><ellipse cx="189.9" cy="122.4" rx=".5" ry=".5" fill-opacity=".17"/><ellipse cx="69" cy="84.1" rx=".5" ry=".5" fill-opacity=".19"/><ellipse cx="217.6" cy="109.2" rx=".5" ry=".5" fill-opacity=".08"/><ellipse cx="93.4" cy="64.7" rx=".5" ry=".5" fill-opacity=".06"/><ellipse cx="204.7" cy="15.9" rx=".5" ry=".5" fill-opacity=".06"/><ellipse cx="205.7" cy="31.7" rx=".5" ry=".5" fill-opacity=".1"/><ellipse cx="33.1" cy="38.8" rx=".5" ry=".5" fill-opacity=".07"/><ellipse cx="45.6" cy="65.9" rx=".5" ry=".5" fill-opacity=".11"/><ellipse cx="64.8" cy="131.8" rx=".5" ry=".5" fill-opacity=".06"/><ellipse cx="67.6" cy="130.4" rx=".5" ry=".5" fill-opacity=".11"/></g><g id="tg"><ellipse cx="138.2" cy="19.1" rx=".8" ry=".8" fill-opacity=".44"/><ellipse cx="146.1" cy="7.3" rx="1" ry="1" fill-opacity=".37"/><ellipse cx="135.6" cy="25.6" rx="1" ry="1" fill-opacity=".25"/><ellipse cx="143.1" cy="26.5" rx="1" ry="1" fill-opacity=".37"/><ellipse cx="142" cy="2.6" rx=".8" ry=".8" fill-opacity=".22"/><ellipse cx="138.7" cy="40.4" rx="1" ry="1" fill-opacity=".23"/><ellipse cx="136.8" cy="38.5" rx=".9" ry=".9" fill-opacity=".3"/><ellipse cx="136.1" cy="41.4" rx="1.1" ry="1.1" fill-opacity=".49"/><ellipse cx="135.1" cy="44.8" rx=".8" ry=".8" fill-opacity=".22"/><ellipse cx="137.2" cy="42.9" rx=".9" ry=".9" fill-opacity=".36"/><ellipse cx="141.1" cy="21.8" rx=".7" ry=".7" fill-opacity=".29"/><ellipse cx="146.6" cy="13.7" rx=".7" ry=".7" fill-opacity=".3"/><ellipse cx="140.9" cy="32.8" rx=".8" ry=".8" fill-opacity=".37"/><ellipse cx="135.2" cy="49.8" rx="1" ry="1" fill-opacity=".4"/><ellipse cx="140.1" cy="29.2" rx="1.1" ry="1.1" fill-opacity=".25"/><ellipse cx="140" cy="29" rx=".7" ry=".7" fill-opacity=".27"/><ellipse cx="140.7" cy="21.9" rx="1" ry="1" fill-opacity=".51"/><ellipse cx="141.6" cy="24.6" rx="1.1" ry="1.1" fill-opacity=".42"/><ellipse cx="142.3" cy="22.6" rx="1" ry="1" fill-opacity=".18"/><ellipse cx="134.9" cy="35.7" rx=".8" ry=".8" fill-opacity=".33"/><ellipse cx="136.8" cy="45" rx="1" ry="1" fill-opacity=".59"/><ellipse cx="134.2" cy="48.9" rx="1.1" ry="1.1" fill-opacity=".46"/><ellipse cx="136.6" cy="48.5" rx="1.1" ry="1.1" fill-opacity=".26"/><ellipse cx="140.2" cy="29.2" rx="1.1" ry="1.1" fill-opacity=".52"/><ellipse cx="144.2" cy="8.3" rx="1.1" ry="1.1" fill-opacity=".28"/><ellipse cx="133.6" cy="45.4" rx=".9" ry=".9" fill-opacity=".34"/><ellipse cx="134" cy="47" rx=".7" ry=".7" fill-opacity=".32"/><ellipse cx="141.1" cy="9.5" rx="1" ry="1" fill-opacity=".15"/><ellipse cx="132.5" cy="47.8" rx=".8" ry=".8" fill-opacity=".4"/><ellipse cx="130.1" cy="50.2" rx=".8" ry=".8" fill-opacity=".47"/><ellipse cx="136.1" cy="52.6" rx=".9" ry=".9" fill-opacity=".34"/><ellipse cx="143.6" cy="17.5" rx="1.1" ry="1.1" fill-opacity=".15"/><ellipse cx="139.5" cy="10" rx=".9" ry=".9" fill-opacity=".29"/><ellipse cx="142" cy="20.3" rx="1.1" ry="1.1" fill-opacity=".35"/><ellipse cx="137" cy="32" rx="1" ry="1" fill-opacity=".29"/><ellipse cx="146.1" cy=".4" rx=".9" ry=".9" fill-opacity=".2"/><ellipse cx="135.3" cy="42.9" rx=".8" ry=".8" fill-opacity=".35"/><ellipse cx="132.2" cy="43.1" rx=".7" ry=".7" fill-opacity=".27"/><ellipse cx="147.3" cy="3.6" rx=".7" ry=".7" fill-opacity=".49"/><ellipse cx="142.6" cy="4.7" rx="1" ry="1" fill-opacity=".47"/><ellipse cx="138.4" cy="25.7" rx=".9" ry=".9" fill-opacity=".3"/><ellipse cx="141.3" cy="26.8" rx=".8" ry=".8" fill-opacity=".33"/><ellipse cx="140.4" cy="31.3" rx="1.1" ry="1.1" fill-opacity=".37"/><ellipse cx="140.6" cy="26.6" rx="1" ry="1" fill-opacity=".55"/><ellipse cx="139.4" cy="33.4" rx=".8" ry=".8" fill-opacity=".33"/><ellipse cx="142" cy="6.7" rx="1.1" ry="1.1" fill-opacity=".26"/><ellipse cx="138.7" cy="34" rx="1.1" ry="1.1" fill-opacity=".37"/><ellipse cx="144.5" cy="15.1" rx=".8" ry=".8" fill-opacity=".39"/><ellipse cx="75.1" cy="25.5" rx=".8" ry=".8" fill-opacity=".12"/><ellipse cx="72.8" cy="19.5" rx=".8" ry=".8" fill-opacity=".27"/><ellipse cx="81.8" cy="29.2" rx="1.1" ry="1.1" fill-opacity=".28"/><ellipse cx="102.3" cy="40.4" rx=".8" ry=".8" fill-opacity=".28"/><ellipse cx="68.8" cy="23" rx=".7" ry=".7" fill-opacity=".3"/><ellipse cx="94.4" cy="30.7" rx="1" ry="1" fill-opacity=".24"/><ellipse cx="66.6" cy="20.1" rx=".9" ry=".9" fill-opacity=".22"/><ellipse cx="58.9" cy="13.6" rx=".8" ry=".8" fill-opacity=".25"/><ellipse cx="36.6" cy="9.3" rx=".9" ry=".9" fill-opacity=".24"/><ellipse cx="66.1" cy="18.6" rx="1" ry="1" fill-opacity=".43"/><ellipse cx="70.6" cy="24.1" rx="1" ry="1" fill-opacity=".35"/><ellipse cx="59.8" cy="12.9" rx="1.1" ry="1.1" fill-opacity=".29"/><ellipse cx="49.3" cy="14.6" rx="1.1" ry="1.1" fill-opacity=".44"/><ellipse cx="59.5" cy="16.2" rx="1" ry="1" fill-opacity=".31"/><ellipse cx="99.4" cy="35.8" rx=".8" ry=".8" fill-opacity=".19"/><ellipse cx="73.7" cy="21" rx="1.1" ry="1.1" fill-opacity=".13"/><ellipse cx="73.4" cy="20.3" rx="1" ry="1" fill-opacity=".22"/><ellipse cx="76.8" cy="23.9" rx=".9" ry=".9" fill-opacity=".26"/><ellipse cx="99.9" cy="38.1" rx=".9" ry=".9" fill-opacity=".5"/><ellipse cx="48" cy="10.3" rx=".7" ry=".7" fill-opacity=".21"/><ellipse cx="92.8" cy="40.8" rx=".8" ry=".8" fill-opacity=".21"/><ellipse cx="106.9" cy="43.3" rx=".9" ry=".9" fill-opacity=".23"/><ellipse cx="96.5" cy="42.9" rx="1.1" ry="1.1" fill-opacity=".38"/><ellipse cx="79.5" cy="26.2" rx="1.1" ry="1.1" fill-opacity=".42"/><ellipse cx="33.5" cy="7.5" rx="1.1" ry="1.1" fill-opacity=".41"/><ellipse cx="44.8" cy="11" rx="1" ry="1" fill-opacity=".14"/><ellipse cx="87.6" cy="32.5" rx="1" ry="1" fill-opacity=".2"/><ellipse cx="53.9" cy="11.5" rx="1" ry="1" fill-opacity=".12"/><ellipse cx="100.7" cy="41" rx="1.1" ry="1.1" fill-opacity=".48"/><ellipse cx="44.5" cy="8.6" rx=".8" ry=".8" fill-opacity=".4"/><ellipse cx="69.1" cy="17" rx=".9" ry=".9" fill-opacity=".18"/><ellipse cx="42.3" cy="7.7" rx=".7" ry=".7" fill-opacity=".3"/><ellipse cx="45.9" cy="8.5" rx=".8" ry=".8" fill-opacity=".29"/><ellipse cx="91.5" cy="34" rx=".9" ry=".9" fill-opacity=".49"/><ellipse cx="44.3" cy="11.4" rx="1.1" ry="1.1" fill-opacity=".15"/><ellipse cx="37.8" cy="8.2" rx="1" ry="1" fill-opacity=".26"/><ellipse cx="58.5" cy="17.1" rx="1.1" ry="1.1" fill-opacity=".17"/><ellipse cx="50.5" cy="10.8" rx=".7" ry=".7" fill-opacity=".3"/><ellipse cx="59.3" cy="16.3" rx=".9" ry=".9" fill-opacity=".34"/><ellipse cx="43.8" cy="7.3" rx=".8" ry=".8" fill-opacity=".33"/><ellipse cx="48.2" cy="6" rx=".8" ry=".8" fill-opacity=".18"/><ellipse cx="80.2" cy="24.4" rx=".9" ry=".9" fill-opacity=".33"/><ellipse cx="74.7" cy="26.8" rx=".7" ry=".7" fill-opacity=".29"/><ellipse cx="63.7" cy="15.4" rx="1.1" ry="1.1" fill-opacity=".29"/><ellipse cx="70" cy="24.1" rx=".7" ry=".7" fill-opacity=".34"/><ellipse cx="114.9" cy="53.2" rx=".8" ry=".8" fill-opacity=".57"/><ellipse cx="41.9" cy="9.7" rx="1.1" ry="1.1" fill-opacity=".43"/><ellipse cx="109" cy="47.3" rx=".9" ry=".9" fill-opacity=".22"/><ellipse cx="89.6" cy="36.7" rx="1.1" ry="1.1" fill-opacity=".27"/><ellipse cx="74.1" cy="15.7" rx="1.1" ry="1.1" fill-opacity=".21"/><ellipse cx="54.1" cy="13.2" rx="1" ry="1" fill-opacity=".34"/><ellipse cx="56" cy="12.9" rx="1.1" ry="1.1" fill-opacity=".3"/><ellipse cx="55.7" cy="11.6" rx=".9" ry=".9" fill-opacity=".33"/><ellipse cx="82.2" cy="24.4" rx=".9" ry=".9" fill-opacity=".31"/><ellipse cx="70.7" cy="18.6" rx=".8" ry=".8" fill-opacity=".2"/><ellipse cx="84.3" cy="30.9" rx="1" ry="1" fill-opacity=".2"/><ellipse cx="81.3" cy="25.7" rx=".8" ry=".8" fill-opacity=".39"/><ellipse cx="103.3" cy="44" rx="1" ry="1" fill-opacity=".29"/><ellipse cx="92.6" cy="29.8" rx="1" ry="1" fill-opacity=".2"/><ellipse cx="87.7" cy="21" rx=".7" ry=".7" fill-opacity=".1"/><ellipse cx="88.8" cy="13.1" rx=".9" ry=".9" fill-opacity=".38"/><ellipse cx="90.3" cy="10.5" rx=".9" ry=".9" fill-opacity=".17"/><ellipse cx="98.6" cy="38.6" rx=".9" ry=".9" fill-opacity=".29"/><ellipse cx="85.7" cy="13.3" rx=".8" ry=".8" fill-opacity=".3"/><ellipse cx="92.3" cy="15.4" rx="1.1" ry="1.1" fill-opacity=".2"/><ellipse cx="102.1" cy="44.7" rx="1" ry="1" fill-opacity=".42"/><ellipse cx="85" cy="5" rx="1.1" ry="1.1" fill-opacity=".16"/><ellipse cx="96.5" cy="32.2" rx="1.1" ry="1.1" fill-opacity=".27"/><ellipse cx="91.5" cy="12.6" rx="1.1" ry="1.1" fill-opacity=".4"/><ellipse cx="87" cy="16.6" rx=".8" ry=".8" fill-opacity=".17"/><ellipse cx="98" cy="35.6" rx=".8" ry=".8" fill-opacity=".16"/><ellipse cx="89.2" cy="12.1" rx="1" ry="1" fill-opacity=".23"/><ellipse cx="90.2" cy="21.4" rx="1.1" ry="1.1" fill-opacity=".34"/><ellipse cx="92.4" cy="23.3" rx="1.1" ry="1.1" fill-opacity=".24"/><ellipse cx="97.1" cy="37.4" rx="1.1" ry="1.1" fill-opacity=".33"/><ellipse cx="85" cy="1.5" rx=".8" ry=".8" fill-opacity=".34"/><ellipse cx="87.7" cy="22.2" rx=".9" ry=".9" fill-opacity=".27"/><ellipse cx="84" cy="1.9" rx="1" ry="1" fill-opacity=".16"/><ellipse cx="92.3" cy="30.8" rx=".8" ry=".8" fill-opacity=".21"/><ellipse cx="95.4" cy="33.7" rx="1" ry="1" fill-opacity=".33"/><ellipse cx="101" cy="36.5" rx=".7" ry=".7" fill-opacity=".33"/><ellipse cx="91.6" cy="26.6" rx=".8" ry=".8" fill-opacity=".22"/><ellipse cx="85.8" cy="17.2" rx="1.1" ry="1.1" fill-opacity=".14"/><ellipse cx="89.4" cy="6.1" rx=".9" ry=".9" fill-opacity=".2"/><ellipse cx="87.6" cy="6.6" rx=".8" ry=".8" fill-opacity=".23"/><ellipse cx="106.3" cy="48.8" rx=".9" ry=".9" fill-opacity=".36"/><ellipse cx="91.6" cy="24.2" rx="1.1" ry="1.1" fill-opacity=".37"/><ellipse cx="87.4" cy="21.6" rx="1" ry="1" fill-opacity=".25"/><ellipse cx="99.3" cy="44.6" rx=".9" ry=".9" fill-opacity=".26"/><ellipse cx="92.9" cy="21.1" rx=".9" ry=".9" fill-opacity=".24"/><ellipse cx="102.7" cy="41.1" rx="1" ry="1" fill-opacity=".38"/><ellipse cx="90.4" cy="15.1" rx=".8" ry=".8" fill-opacity=".21"/><ellipse cx="46.2" cy="94.5" rx="1.1" ry="1.1" fill-opacity=".2"/><ellipse cx="55.4" cy="88.4" rx="1.1" ry="1.1" fill-opacity=".35"/><ellipse cx="50.1" cy="88.7" rx="1" ry="1" fill-opacity=".24"/><ellipse cx="59.4" cy="89.7" rx=".8" ry=".8" fill-opacity=".16"/><ellipse cx="24.2" cy="97.8" rx=".9" ry=".9" fill-opacity=".23"/><ellipse cx="78.8" cy="78.1" rx=".8" ry=".8" fill-opacity=".2"/><ellipse cx="21.6" cy="99.3" rx=".9" ry=".9" fill-opacity=".26"/><ellipse cx="67.1" cy="86.8" rx="1" ry="1" fill-opacity=".22"/><ellipse cx="91.1" cy="76.9" rx="1.1" ry="1.1" fill-opacity=".23"/><ellipse cx="68.9" cy="85.9" rx=".9" ry=".9" fill-opacity=".2"/><ellipse cx="39.4" cy="92.3" rx=".8" ry=".8" fill-opacity=".11"/><ellipse cx="47.9" cy="86.9" rx="1.1" ry="1.1" fill-opacity=".15"/><ellipse cx="85.4" cy="79" rx=".9" ry=".9" fill-opacity=".57"/><ellipse cx="102.5" cy="73.8" rx="1.1" ry="1.1" fill-opacity=".25"/><ellipse cx="14" cy="98.4" rx=".9" ry=".9" fill-opacity=".19"/><ellipse cx="14" cy="97.7" rx=".9" ry=".9" fill-opacity=".19"/><ellipse cx="82.5" cy="77.1" rx="1" ry="1" fill-opacity=".37"/><ellipse cx="36.6" cy="97.9" rx="1" ry="1" fill-opacity=".28"/><ellipse cx="36.3" cy="95.3" rx=".8" ry=".8" fill-opacity=".36"/><ellipse cx="82.7" cy="79.6" rx=".9" ry=".9" fill-opacity=".38"/><ellipse cx="17.1" cy="99.8" rx="1.1" ry="1.1" fill-opacity=".18"/><ellipse cx="53.9" cy="89.3" rx="1.1" ry="1.1" fill-opacity=".2"/><ellipse cx="31.7" cy="94.1" rx=".8" ry=".8" fill-opacity=".32"/><ellipse cx="92.2" cy="75.2" rx="1.1" ry="1.1" fill-opacity=".53"/><ellipse cx="27.6" cy="97.8" rx=".7" ry=".7" fill-opacity=".18"/><ellipse cx="98.2" cy="75.3" rx="1.1" ry="1.1" fill-opacity=".51"/><ellipse cx="66.4" cy="87.3" rx=".8" ry=".8" fill-opacity=".32"/><ellipse cx="96.6" cy="74.2" rx="1.1" ry="1.1" fill-opacity=".16"/><ellipse cx="3.2" cy="103" rx="1" ry="1" fill-opacity=".15"/><ellipse cx="13.8" cy="99.6" rx=".8" ry=".8" fill-opacity=".23"/><ellipse cx="29.3" cy="93.4" rx="1" ry="1" fill-opacity=".31"/><ellipse cx="30.2" cy="97.2" rx="1" ry="1" fill-opacity=".29"/><ellipse cx="78" cy="82.2" rx=".9" ry=".9" fill-opacity=".18"/><ellipse cx="76.1" cy="79.8" rx="1.1" ry="1.1" fill-opacity=".31"/><ellipse cx="1.3" cy="98.4" rx=".8" ry=".8" fill-opacity=".19"/><ellipse cx="65.7" cy="86" rx="1.1" ry="1.1" fill-opacity=".29"/><ellipse cx="58.2" cy="88.5" rx="1.1" ry="1.1" fill-opacity=".31"/><ellipse cx="44" cy="93.1" rx=".9" ry=".9" fill-opacity=".39"/><ellipse cx="99.1" cy="69.7" rx="1" ry="1" fill-opacity=".48"/><ellipse cx="87.6" cy="77.9" rx="1.1" ry="1.1" fill-opacity=".35"/><ellipse cx="51" cy="89.4" rx="1.1" ry="1.1" fill-opacity=".47"/><ellipse cx="43.7" cy="92.3" rx="1.1" ry="1.1" fill-opacity=".14"/><ellipse cx="53.8" cy="88.9" rx=".9" ry=".9" fill-opacity=".32"/><ellipse cx="71.1" cy="80.1" rx="1" ry="1" fill-opacity=".31"/><ellipse cx="61" cy="87.7" rx=".9" ry=".9" fill-opacity=".43"/><ellipse cx="84.5" cy="75.9" rx=".8" ry=".8" fill-opacity=".23"/><ellipse cx="58.3" cy="86.3" rx=".8" ry=".8" fill-opacity=".28"/><ellipse cx="77.9" cy="81.4" rx=".9" ry=".9" fill-opacity=".48"/><ellipse cx="46.6" cy="91.4" rx="1" ry="1" fill-opacity=".19"/><ellipse cx="65.1" cy="88.9" rx=".8" ry=".8" fill-opacity=".39"/><ellipse cx="100.5" cy="73.9" rx="1" ry="1" fill-opacity=".33"/><ellipse cx="27.7" cy="97.2" rx="1" ry="1" fill-opacity=".17"/><ellipse cx="88.2" cy="78.7" rx=".7" ry=".7" fill-opacity=".34"/><ellipse cx="12.7" cy="100.2" rx="1" ry="1" fill-opacity=".1"/><ellipse cx="9.3" cy="99.4" rx=".8" ry=".8" fill-opacity=".14"/><ellipse cx="64.1" cy="86.3" rx=".9" ry=".9" fill-opacity=".25"/><ellipse cx="52.1" cy="90.6" rx=".9" ry=".9" fill-opacity=".23"/><ellipse cx="44.9" cy="91.8" rx=".9" ry=".9" fill-opacity=".4"/><ellipse cx="75.3" cy="84.1" rx=".9" ry=".9" fill-opacity=".18"/><ellipse cx="82.3" cy="77" rx=".8" ry=".8" fill-opacity=".47"/><ellipse cx="94.1" cy="73.5" rx=".9" ry=".9" fill-opacity=".3"/><ellipse cx="97.1" cy="74.3" rx="1.1" ry="1.1" fill-opacity=".21"/><ellipse cx="79.1" cy="81.6" rx="1.1" ry="1.1" fill-opacity=".22"/><ellipse cx="68.4" cy="86.5" rx=".8" ry=".8" fill-opacity=".17"/><ellipse cx="74.5" cy="83.4" rx="1" ry="1" fill-opacity=".38"/><ellipse cx="39.2" cy="94.9" rx="1.1" ry="1.1" fill-opacity=".15"/><ellipse cx="31.7" cy="130.9" rx=".8" ry=".8" fill-opacity=".2"/><ellipse cx="83.2" cy="89" rx="1.1" ry="1.1" fill-opacity=".41"/><ellipse cx="50.4" cy="114.9" rx="1.1" ry="1.1" fill-opacity=".29"/><ellipse cx="91.3" cy="83.2" rx="1.1" ry="1.1" fill-opacity=".26"/><ellipse cx="96.5" cy="80.3" rx=".8" ry=".8" fill-opacity=".37"/><ellipse cx="32" cy="133.8" rx=".8" ry=".8" fill-opacity=".38"/><ellipse cx="48.9" cy="122.1" rx="1" ry="1" fill-opacity=".24"/><ellipse cx="42.8" cy="125.2" rx=".7" ry=".7" fill-opacity=".1"/><ellipse cx="35.9" cy="127" rx="1.1" ry="1.1" fill-opacity=".13"/><ellipse cx="83.1" cy="90.5" rx=".7" ry=".7" fill-opacity=".18"/><ellipse cx="34" cy="134.2" rx=".9" ry=".9" fill-opacity=".33"/><ellipse cx="82.1" cy="91.8" rx=".9" ry=".9" fill-opacity=".38"/><ellipse cx="96.8" cy="79.9" rx="1.1" ry="1.1" fill-opacity=".46"/><ellipse cx="76.2" cy="95.6" rx="1.1" ry="1.1" fill-opacity=".23"/><ellipse cx="47.4" cy="120.6" rx="1" ry="1" fill-opacity=".31"/><ellipse cx="91.7" cy="81.5" rx=".8" ry=".8" fill-opacity=".46"/><ellipse cx="29.1" cy="135.1" rx=".8" ry=".8" fill-opacity=".2"/><ellipse cx="97.7" cy="83.5" rx="1.1" ry="1.1" fill-opacity=".45"/><ellipse cx="82.8" cy="89.5" rx=".8" ry=".8" fill-opacity=".54"/><ellipse cx="73.4" cy="100.9" rx="1.1" ry="1.1" fill-opacity=".31"/><ellipse cx="50.2" cy="115.1" rx=".8" ry=".8" fill-opacity=".24"/><ellipse cx="25.9" cy="137.8" rx=".9" ry=".9" fill-opacity=".41"/><ellipse cx="95.4" cy="83.9" rx=".8" ry=".8" fill-opacity=".23"/><ellipse cx="63.1" cy="104.8" rx=".9" ry=".9" fill-opacity=".21"/><ellipse cx="53.4" cy="117.4" rx=".8" ry=".8" fill-opacity=".18"/><ellipse cx="38.4" cy="125.4" rx=".8" ry=".8" fill-opacity=".33"/><ellipse cx="79.4" cy="92.7" rx="1" ry="1" fill-opacity=".2"/><ellipse cx="83.1" cy="91.2" rx=".7" ry=".7" fill-opacity=".29"/><ellipse cx="55.2" cy="111.4" rx=".9" ry=".9" fill-opacity=".26"/><ellipse cx="41.3" cy="124" rx="1" ry="1" fill-opacity=".14"/><ellipse cx="90.2" cy="87.5" rx="1.1" ry="1.1" fill-opacity=".34"/><ellipse cx="80.7" cy="92.6" rx=".9" ry=".9" fill-opacity=".41"/><ellipse cx="45.7" cy="120.5" rx="1" ry="1" fill-opacity=".3"/><ellipse cx="42.7" cy="123.8" rx=".8" ry=".8" fill-opacity=".21"/><ellipse cx="94.9" cy="76.9" rx=".9" ry=".9" fill-opacity=".43"/><ellipse cx="77.6" cy="95.5" rx=".8" ry=".8" fill-opacity=".16"/><ellipse cx="54.7" cy="113.9" rx="1" ry="1" fill-opacity=".36"/><ellipse cx="48.5" cy="123.8" rx="1" ry="1" fill-opacity=".38"/><ellipse cx="36.5" cy="130.3" rx="1" ry="1" fill-opacity=".29"/><ellipse cx="67.6" cy="100.3" rx=".9" ry=".9" fill-opacity=".3"/><ellipse cx="71.6" cy="98.4" rx=".8" ry=".8" fill-opacity=".26"/><ellipse cx="88.8" cy="85.6" rx=".9" ry=".9" fill-opacity=".37"/><ellipse cx="64.5" cy="104.3" rx=".9" ry=".9" fill-opacity=".47"/><ellipse cx="93.9" cy="79.4" rx=".9" ry=".9" fill-opacity=".23"/><ellipse cx="70.8" cy="105.6" rx="1.1" ry="1.1" fill-opacity=".26"/><ellipse cx="92.2" cy="84.3" rx=".8" ry=".8" fill-opacity=".43"/><ellipse cx="47.2" cy="119.4" rx=".8" ry=".8" fill-opacity=".38"/><ellipse cx="58.8" cy="107" rx=".7" ry=".7" fill-opacity=".36"/><ellipse cx="88.5" cy="88.3" rx="1.1" ry="1.1" fill-opacity=".5"/><ellipse cx="27.2" cy="134" rx=".8" ry=".8" fill-opacity=".24"/><ellipse cx="85.9" cy="88" rx=".8" ry=".8" fill-opacity=".23"/><ellipse cx="46.7" cy="121.5" rx="1" ry="1" fill-opacity=".32"/><ellipse cx="30.1" cy="130.6" rx=".8" ry=".8" fill-opacity=".15"/><ellipse cx="29.4" cy="129.7" rx="1.1" ry="1.1" fill-opacity=".26"/><ellipse cx="90.9" cy="86.6" rx=".8" ry=".8" fill-opacity=".5"/><ellipse cx="90.4" cy="83.3" rx=".9" ry=".9" fill-opacity=".34"/><ellipse cx="84.1" cy="92.7" rx="1.1" ry="1.1" fill-opacity=".23"/><ellipse cx="37.3" cy="129.3" rx="1.1" ry="1.1" fill-opacity=".32"/><ellipse cx="52.2" cy="113" rx=".9" ry=".9" fill-opacity=".39"/><ellipse cx="100.2" cy="79.6" rx="1.1" ry="1.1" fill-opacity=".39"/><ellipse cx="83" cy="89" rx=".8" ry=".8" fill-opacity=".41"/><ellipse cx="94.2" cy="114.1" rx="1.1" ry="1.1" fill-opacity=".19"/><ellipse cx="92.4" cy="113.6" rx="1" ry="1" fill-opacity=".22"/><ellipse cx="99.4" cy="94.1" rx=".8" ry=".8" fill-opacity=".33"/><ellipse cx="109.2" cy="83" rx="1" ry="1" fill-opacity=".3"/><ellipse cx="105.1" cy="89.5" rx=".9" ry=".9" fill-opacity=".26"/><ellipse cx="88.8" cy="125.6" rx="1" ry="1" fill-opacity=".19"/><ellipse cx="95.6" cy="103.1" rx="1.1" ry="1.1" fill-opacity=".19"/><ellipse cx="94.6" cy="108.8" rx=".9" ry=".9" fill-opacity=".27"/><ellipse cx="86" cy="130.9" rx=".8" ry=".8" fill-opacity=".35"/><ellipse cx="96.5" cy="104.2" rx=".8" ry=".8" fill-opacity=".17"/><ellipse cx="89.1" cy="127.7" rx="1.1" ry="1.1" fill-opacity=".31"/><ellipse cx="93.1" cy="116.8" rx=".8" ry=".8" fill-opacity=".2"/><ellipse cx="100.9" cy="96.7" rx=".9" ry=".9" fill-opacity=".48"/><ellipse cx="108.9" cy="75.6" rx="1" ry="1" fill-opacity=".52"/><ellipse cx="84.9" cy="131.9" rx=".8" ry=".8" fill-opacity=".14"/><ellipse cx="104.1" cy="96.3" rx="1" ry="1" fill-opacity=".56"/><ellipse cx="86.6" cy="127.8" rx=".8" ry=".8" fill-opacity=".3"/><ellipse cx="97.5" cy="93.9" rx=".7" ry=".7" fill-opacity=".28"/><ellipse cx="100.9" cy="88.6" rx="1.1" ry="1.1" fill-opacity=".48"/><ellipse cx="89.9" cy="131.1" rx=".7" ry=".7" fill-opacity=".29"/><ellipse cx="101.3" cy="93" rx="1.1" ry="1.1" fill-opacity=".4"/><ellipse cx="103.9" cy="92.4" rx="1" ry="1" fill-opacity=".27"/><ellipse cx="107.1" cy="80.3" rx=".8" ry=".8" fill-opacity=".32"/><ellipse cx="87.6" cy="127.7" rx="1.1" ry="1.1" fill-opacity=".2"/><ellipse cx="106.1" cy="84.6" rx=".7" ry=".7" fill-opacity=".38"/><ellipse cx="89.5" cy="126.7" rx="1" ry="1" fill-opacity=".17"/><ellipse cx="103.1" cy="100.5" rx=".8" ry=".8" fill-opacity=".18"/><ellipse cx="96.7" cy="101" rx=".7" ry=".7" fill-opacity=".22"/><ellipse cx="93" cy="113.4" rx="1" ry="1" fill-opacity=".39"/><ellipse cx="102.2" cy="91.9" rx=".9" ry=".9" fill-opacity=".29"/><ellipse cx="97.4" cy="109.5" rx="1.1" ry="1.1" fill-opacity=".24"/><ellipse cx="93.9" cy="107.8" rx=".9" ry=".9" fill-opacity=".52"/><ellipse cx="95.8" cy="99.3" rx="1.1" ry="1.1" fill-opacity=".27"/><ellipse cx="111.2" cy="76.3" rx=".8" ry=".8" fill-opacity=".47"/><ellipse cx="95.7" cy="94.6" rx=".9" ry=".9" fill-opacity=".53"/><ellipse cx="101.4" cy="97.6" rx=".9" ry=".9" fill-opacity=".22"/><ellipse cx="90.5" cy="119.2" rx=".8" ry=".8" fill-opacity=".19"/><ellipse cx="89" cy="128" rx=".7" ry=".7" fill-opacity=".38"/><ellipse cx="105.6" cy="91.6" rx=".9" ry=".9" fill-opacity=".4"/><ellipse cx="93.8" cy="111.7" rx="1" ry="1" fill-opacity=".32"/><ellipse cx="101.4" cy="95" rx=".9" ry=".9" fill-opacity=".19"/><ellipse cx="95.5" cy="104.2" rx=".8" ry=".8" fill-opacity=".32"/><ellipse cx="98.9" cy="106.7" rx=".9" ry=".9" fill-opacity=".24"/><ellipse cx="98.5" cy="97.5" rx=".8" ry=".8" fill-opacity=".2"/><ellipse cx="102.3" cy="86.8" rx=".8" ry=".8" fill-opacity=".51"/><ellipse cx="93.2" cy="108.2" rx="1" ry="1" fill-opacity=".4"/><ellipse cx="105.3" cy="77.2" rx=".9" ry=".9" fill-opacity=".51"/><ellipse cx="97.2" cy="105" rx=".9" ry=".9" fill-opacity=".24"/><ellipse cx="118.4" cy="132.6" rx=".9" ry=".9" fill-opacity=".32"/><ellipse cx="121.3" cy="92.5" rx="1.1" ry="1.1" fill-opacity=".34"/><ellipse cx="117.8" cy="81" rx="1.1" ry="1.1" fill-opacity=".47"/><ellipse cx="116.9" cy="87.5" rx=".8" ry=".8" fill-opacity=".24"/><ellipse cx="119.5" cy="94.5" rx=".8" ry=".8" fill-opacity=".55"/><ellipse cx="117.2" cy="124.1" rx=".9" ry=".9" fill-opacity=".18"/><ellipse cx="117.8" cy="72.1" rx=".9" ry=".9" fill-opacity=".5"/><ellipse cx="120.1" cy="76.7" rx="1" ry="1" fill-opacity=".55"/><ellipse cx="121" cy="126" rx="1" ry="1" fill-opacity=".22"/><ellipse cx="119.3" cy="106.7" rx="1.1" ry="1.1" fill-opacity=".33"/><ellipse cx="120.4" cy="132.1" rx=".8" ry=".8" fill-opacity=".33"/><ellipse cx="122.1" cy="129.7" rx="1.1" ry="1.1" fill-opacity=".21"/><ellipse cx="121.9" cy="94.9" rx="1" ry="1" fill-opacity=".4"/><ellipse cx="119.2" cy="88.5" rx="1.1" ry="1.1" fill-opacity=".59"/><ellipse cx="121" cy="133.8" rx="1" ry="1" fill-opacity=".31"/><ellipse cx="120" cy="74.7" rx="1" ry="1" fill-opacity=".25"/><ellipse cx="118.7" cy="130.6" rx=".8" ry=".8" fill-opacity=".18"/><ellipse cx="121" cy="103.1" rx=".9" ry=".9" fill-opacity=".34"/><ellipse cx="116.4" cy="121.2" rx="1" ry="1" fill-opacity=".46"/><ellipse cx="121" cy="131.9" rx="1.1" ry="1.1" fill-opacity=".18"/><ellipse cx="123.5" cy="102.6" rx="1.1" ry="1.1" fill-opacity=".36"/><ellipse cx="118" cy="116.5" rx="1.1" ry="1.1" fill-opacity=".17"/><ellipse cx="118.3" cy="113.1" rx=".8" ry=".8" fill-opacity=".29"/><ellipse cx="121.9" cy="133" rx=".9" ry=".9" fill-opacity=".15"/><ellipse cx="118.3" cy="75.8" rx=".8" ry=".8" fill-opacity=".4"/><ellipse cx="121" cy="76.1" rx="1" ry="1" fill-opacity=".49"/><ellipse cx="121" cy="81.4" rx="1" ry="1" fill-opacity=".56"/><ellipse cx="119.6" cy="128.5" rx="1.1" ry="1.1" fill-opacity=".24"/><ellipse cx="113.8" cy="81.6" rx="1" ry="1" fill-opacity=".35"/><ellipse cx="120.1" cy="112.7" rx=".8" ry=".8" fill-opacity=".22"/><ellipse cx="119.2" cy="75" rx=".8" ry=".8" fill-opacity=".35"/><ellipse cx="120.5" cy="131.4" rx="1.1" ry="1.1" fill-opacity=".19"/><ellipse cx="116.7" cy="100.5" rx="1" ry="1" fill-opacity=".21"/><ellipse cx="118.6" cy="86.6" rx="1.1" ry="1.1" fill-opacity=".18"/><ellipse cx="120.1" cy="77.2" rx="1.1" ry="1.1" fill-opacity=".42"/><ellipse cx="123.3" cy="134.7" rx=".9" ry=".9" fill-opacity=".32"/><ellipse cx="120.5" cy="122.7" rx=".8" ry=".8" fill-opacity=".41"/><ellipse cx="121.9" cy="75.2" rx=".8" ry=".8" fill-opacity=".45"/><ellipse cx="114.8" cy="106" rx=".9" ry=".9" fill-opacity=".29"/><ellipse cx="119.6" cy="131.7" rx=".7" ry=".7" fill-opacity=".37"/><ellipse cx="117.8" cy="107.1" rx=".8" ry=".8" fill-opacity=".2"/><ellipse cx="120.3" cy="95" rx="1.1" ry="1.1" fill-opacity=".39"/><ellipse cx="113.9" cy="114.7" rx=".8" ry=".8" fill-opacity=".42"/><ellipse cx="119.5" cy="113.3" rx="1.1" ry="1.1" fill-opacity=".17"/><ellipse cx="120" cy="83.9" rx="1.1" ry="1.1" fill-opacity=".46"/><ellipse cx="117.4" cy="134.9" rx=".7" ry=".7" fill-opacity=".21"/><ellipse cx="120.1" cy="81.6" rx="1.1" ry="1.1" fill-opacity=".28"/><ellipse cx="117.7" cy="120.2" rx=".8" ry=".8" fill-opacity=".17"/><ellipse cx="145.4" cy="113.9" rx="1.1" ry="1.1" fill-opacity=".18"/><ellipse cx="139.2" cy="90.4" rx="1" ry="1" fill-opacity=".19"/><ellipse cx="130.1" cy="81.1" rx="1.1" ry="1.1" fill-opacity=".44"/><ellipse cx="140.1" cy="106.4" rx=".7" ry=".7" fill-opacity=".22"/><ellipse cx="154.7" cy="132.2" rx=".8" ry=".8" fill-opacity=".37"/><ellipse cx="150.5" cy="131.7" rx=".9" ry=".9" fill-opacity=".12"/><ellipse cx="128.4" cy="79.4" rx="1" ry="1" fill-opacity=".42"/><ellipse cx="150" cy="133" rx="1" ry="1" fill-opacity=".32"/><ellipse cx="141.3" cy="114" rx=".9" ry=".9" fill-opacity=".24"/><ellipse cx="146.4" cy="119.1" rx=".8" ry=".8" fill-opacity=".25"/><ellipse cx="134.9" cy="85.6" rx=".9" ry=".9" fill-opacity=".32"/><ellipse cx="134" cy="94.1" rx="1.1" ry="1.1" fill-opacity=".39"/><ellipse cx="148" cy="116.6" rx="1.1" ry="1.1" fill-opacity=".29"/><ellipse cx="129.1" cy="80" rx=".7" ry=".7" fill-opacity=".32"/><ellipse cx="152.4" cy="134.2" rx=".9" ry=".9" fill-opacity=".23"/><ellipse cx="128.3" cy="75.6" rx=".9" ry=".9" fill-opacity=".32"/><ellipse cx="140.7" cy="109.4" rx="1" ry="1" fill-opacity=".38"/><ellipse cx="129.1" cy="76.9" rx="1.1" ry="1.1" fill-opacity=".43"/><ellipse cx="133.5" cy="86.5" rx=".9" ry=".9" fill-opacity=".62"/><ellipse cx="142.7" cy="113.6" rx="1.1" ry="1.1" fill-opacity=".38"/><ellipse cx="135" cy="98.9" rx=".7" ry=".7" fill-opacity=".32"/><ellipse cx="129.5" cy="81.3" rx=".9" ry=".9" fill-opacity=".5"/><ellipse cx="138.3" cy="86.3" rx=".9" ry=".9" fill-opacity=".41"/><ellipse cx="148.3" cy="129.1" rx="1.1" ry="1.1" fill-opacity=".31"/><ellipse cx="145.7" cy="114.3" rx=".9" ry=".9" fill-opacity=".18"/><ellipse cx="134" cy="85.3" rx="1.1" ry="1.1" fill-opacity=".51"/><ellipse cx="150.8" cy="120.4" rx=".8" ry=".8" fill-opacity=".26"/><ellipse cx="145.6" cy="118.7" rx=".9" ry=".9" fill-opacity=".27"/><ellipse cx="143.9" cy="122.6" rx=".8" ry=".8" fill-opacity=".16"/><ellipse cx="130.6" cy="79.2" rx="1.1" ry="1.1" fill-opacity=".33"/><ellipse cx="132.7" cy="80.3" rx=".9" ry=".9" fill-opacity=".27"/><ellipse cx="138.3" cy="108.7" rx="1" ry="1" fill-opacity=".36"/><ellipse cx="136.5" cy="90.9" rx=".9" ry=".9" fill-opacity=".19"/><ellipse cx="147.2" cy="121.6" rx=".8" ry=".8" fill-opacity=".29"/><ellipse cx="136.8" cy="91.6" rx="1" ry="1" fill-opacity=".36"/><ellipse cx="151.9" cy="130.3" rx=".9" ry=".9" fill-opacity=".35"/><ellipse cx="136.3" cy="85.2" rx="1.1" ry="1.1" fill-opacity=".27"/><ellipse cx="143.7" cy="94.2" rx=".9" ry=".9" fill-opacity=".5"/><ellipse cx="152.9" cy="134.4" rx=".9" ry=".9" fill-opacity=".33"/><ellipse cx="137.4" cy="100.1" rx=".9" ry=".9" fill-opacity=".33"/><ellipse cx="135.9" cy="82.4" rx="1.1" ry="1.1" fill-opacity=".46"/><ellipse cx="141.3" cy="100.1" rx="1.1" ry="1.1" fill-opacity=".51"/><ellipse cx="133.9" cy="86.9" rx="1" ry="1" fill-opacity=".62"/><ellipse cx="148.3" cy="120.4" rx=".9" ry=".9" fill-opacity=".43"/><ellipse cx="146.2" cy="113.7" rx="1.1" ry="1.1" fill-opacity=".12"/><ellipse cx="152.9" cy="130.3" rx="1.1" ry="1.1" fill-opacity=".38"/><ellipse cx="135.6" cy="90.8" rx="1.1" ry="1.1" fill-opacity=".29"/><ellipse cx="129.9" cy="75" rx=".9" ry=".9" fill-opacity=".29"/><ellipse cx="151.1" cy="79" rx="1.1" ry="1.1" fill-opacity=".24"/><ellipse cx="156.2" cy="82.6" rx=".9" ry=".9" fill-opacity=".26"/><ellipse cx="222.2" cy="108.2" rx=".9" ry=".9" fill-opacity=".13"/><ellipse cx="222.3" cy="111" rx="1.1" ry="1.1" fill-opacity=".18"/><ellipse cx="215.4" cy="110.9" rx=".7" ry=".7" fill-opacity=".14"/><ellipse cx="140.3" cy="73.4" rx="1" ry="1" fill-opacity=".45"/><ellipse cx="144.2" cy="75.4" rx=".9" ry=".9" fill-opacity=".45"/><ellipse cx="177.4" cy="87" rx=".9" ry=".9" fill-opacity=".19"/><ellipse cx="166.1" cy="81.7" rx=".7" ry=".7" fill-opacity=".41"/><ellipse cx="175.4" cy="97.1" rx="1.1" ry="1.1" fill-opacity=".14"/><ellipse cx="155.4" cy="82.3" rx=".8" ry=".8" fill-opacity=".26"/><ellipse cx="152.4" cy="80.2" rx=".8" ry=".8" fill-opacity=".29"/><ellipse cx="133.9" cy="70.7" rx="1" ry="1" fill-opacity=".64"/><ellipse cx="171.1" cy="86.9" rx="1" ry="1" fill-opacity=".2"/><ellipse cx="160" cy="85.4" rx=".9" ry=".9" fill-opacity=".4"/><ellipse cx="137.4" cy="72.7" rx=".9" ry=".9" fill-opacity=".4"/><ellipse cx="139.5" cy="73.9" rx=".8" ry=".8" fill-opacity=".27"/><ellipse cx="200.6" cy="101.7" rx="1" ry="1" fill-opacity=".14"/><ellipse cx="166.5" cy="87" rx="1.1" ry="1.1" fill-opacity=".22"/><ellipse cx="156.8" cy="81.5" rx=".8" ry=".8" fill-opacity=".24"/><ellipse cx="217.2" cy="105.1" rx=".8" ry=".8" fill-opacity=".17"/><ellipse cx="133.1" cy="69.6" rx=".8" ry=".8" fill-opacity=".3"/><ellipse cx="163.6" cy="86.4" rx=".9" ry=".9" fill-opacity=".35"/><ellipse cx="160.9" cy="87.8" rx=".7" ry=".7" fill-opacity=".14"/><ellipse cx="162.1" cy="82.2" rx=".7" ry=".7" fill-opacity=".25"/><ellipse cx="159.8" cy="86" rx=".8" ry=".8" fill-opacity=".37"/><ellipse cx="179.7" cy="94.7" rx="1" ry="1" fill-opacity=".21"/><ellipse cx="153.1" cy="82.5" rx="1.1" ry="1.1" fill-opacity=".46"/><ellipse cx="222.2" cy="112.5" rx=".9" ry=".9" fill-opacity=".16"/><ellipse cx="161.4" cy="86" rx="1.1" ry="1.1" fill-opacity=".18"/><ellipse cx="197.2" cy="96.3" rx=".9" ry=".9" fill-opacity=".28"/><ellipse cx="175.2" cy="87.3" rx="1.1" ry="1.1" fill-opacity=".18"/><ellipse cx="191.5" cy="97.9" rx="1.1" ry="1.1" fill-opacity=".38"/><ellipse cx="230.7" cy="110.7" rx="1.1" ry="1.1" fill-opacity=".08"/><ellipse cx="207.4" cy="104.6" rx=".9" ry=".9" fill-opacity=".36"/><ellipse cx="169.3" cy="83.9" rx=".9" ry=".9" fill-opacity=".43"/><ellipse cx="192.7" cy="100.8" rx=".8" ry=".8" fill-opacity=".11"/><ellipse cx="187.2" cy="89" rx="1" ry="1" fill-opacity=".16"/><ellipse cx="159.4" cy="88.1" rx=".9" ry=".9" fill-opacity=".46"/><ellipse cx="141.1" cy="74.8" rx="1" ry="1" fill-opacity=".55"/><ellipse cx="162.5" cy="78.2" rx="1.1" ry="1.1" fill-opacity=".28"/><ellipse cx="172.7" cy="89.3" rx=".8" ry=".8" fill-opacity=".15"/><ellipse cx="202.7" cy="101.7" rx=".9" ry=".9" fill-opacity=".21"/><ellipse cx="185" cy="90.8" rx=".9" ry=".9" fill-opacity=".19"/><ellipse cx="137.4" cy="70.3" rx=".8" ry=".8" fill-opacity=".23"/><ellipse cx="223.7" cy="111.9" rx="1.1" ry="1.1" fill-opacity=".13"/><ellipse cx="156.5" cy="78.2" rx=".8" ry=".8" fill-opacity=".38"/><ellipse cx="189.2" cy="92.2" rx=".7" ry=".7" fill-opacity=".45"/><ellipse cx="214" cy="107.3" rx=".8" ry=".8" fill-opacity=".18"/><ellipse cx="154.9" cy="83.2" rx=".9" ry=".9" fill-opacity=".4"/><ellipse cx="222.4" cy="112.4" rx=".8" ry=".8" fill-opacity=".21"/><ellipse cx="200.3" cy="101.9" rx=".8" ry=".8" fill-opacity=".15"/><ellipse cx="166.5" cy="64" rx="1.1" ry="1.1" fill-opacity=".36"/><ellipse cx="199.4" cy="67.8" rx=".9" ry=".9" fill-opacity=".1"/><ellipse cx="156.3" cy="60.6" rx="1.1" ry="1.1" fill-opacity=".39"/><ellipse cx="204" cy="68.8" rx=".8" ry=".8" fill-opacity=".1"/><ellipse cx="164" cy="64.5" rx="1.1" ry="1.1" fill-opacity=".2"/><ellipse cx="172.1" cy="60.5" rx=".7" ry=".7" fill-opacity=".36"/><ellipse cx="173.5" cy="60.9" rx="1.1" ry="1.1" fill-opacity=".19"/><ellipse cx="180.7" cy="64.2" rx=".8" ry=".8" fill-opacity=".29"/><ellipse cx="189.4" cy="65.9" rx=".8" ry=".8" fill-opacity=".35"/><ellipse cx="189.3" cy="68.4" rx=".9" ry=".9" fill-opacity=".18"/><ellipse cx="171.8" cy="62.4" rx=".7" ry=".7" fill-opacity=".26"/><ellipse cx="171.8" cy="64.9" rx="1" ry="1" fill-opacity=".37"/><ellipse cx="143.1" cy="63.3" rx=".7" ry=".7" fill-opacity=".51"/><ellipse cx="136.1" cy="63.2" rx="1" ry="1" fill-opacity=".52"/><ellipse cx="153.6" cy="61.9" rx="1" ry="1" fill-opacity=".36"/><ellipse cx="190.4" cy="62.6" rx="1" ry="1" fill-opacity=".41"/><ellipse cx="164.7" cy="63.3" rx=".9" ry=".9" fill-opacity=".39"/><ellipse cx="219.5" cy="69.1" rx="1" ry="1" fill-opacity=".15"/><ellipse cx="219.4" cy="69.2" rx="1.1" ry="1.1" fill-opacity=".09"/><ellipse cx="203.6" cy="63.9" rx="1.1" ry="1.1" fill-opacity=".12"/><ellipse cx="221.1" cy="62.5" rx="1.1" ry="1.1" fill-opacity=".19"/><ellipse cx="170" cy="65.5" rx="1.1" ry="1.1" fill-opacity=".23"/><ellipse cx="205.3" cy="64.7" rx=".9" ry=".9" fill-opacity=".1"/><ellipse cx="141.4" cy="62.5" rx="1.1" ry="1.1" fill-opacity=".32"/><ellipse cx="146.3" cy="62.5" rx=".8" ry=".8" fill-opacity=".41"/><ellipse cx="166.6" cy="62.8" rx=".8" ry=".8" fill-opacity=".13"/><ellipse cx="216.3" cy="65.5" rx=".9" ry=".9" fill-opacity=".18"/><ellipse cx="141.5" cy="65.1" rx="1.1" ry="1.1" fill-opacity=".27"/><ellipse cx="156.3" cy="67.2" rx=".8" ry=".8" fill-opacity=".35"/><ellipse cx="225.6" cy="66.9" rx="1" ry="1" fill-opacity=".19"/><ellipse cx="172.6" cy="61" rx=".7" ry=".7" fill-opacity=".33"/><ellipse cx="173.2" cy="65" rx=".8" ry=".8" fill-opacity=".18"/><ellipse cx="142.5" cy="64.2" rx=".8" ry=".8" fill-opacity=".4"/><ellipse cx="161.7" cy="64.2" rx=".8" ry=".8" fill-opacity=".31"/><ellipse cx="199" cy="63.8" rx="1.1" ry="1.1" fill-opacity=".09"/><ellipse cx="171.9" cy="64.6" rx="1" ry="1" fill-opacity=".34"/><ellipse cx="157" cy="62.6" rx=".9" ry=".9" fill-opacity=".25"/><ellipse cx="161.3" cy="62.2" rx="1.1" ry="1.1" fill-opacity=".14"/><ellipse cx="217.6" cy="68.5" rx=".8" ry=".8" fill-opacity=".24"/><ellipse cx="147.9" cy="63.7" rx=".7" ry=".7" fill-opacity=".45"/><ellipse cx="229" cy="63.4" rx=".8" ry=".8" fill-opacity=".14"/><ellipse cx="158.5" cy="62" rx="1.1" ry="1.1" fill-opacity=".24"/><ellipse cx="177.4" cy="66" rx="1.1" ry="1.1" fill-opacity=".21"/><ellipse cx="204.6" cy="64.2" rx=".9" ry=".9" fill-opacity=".19"/><ellipse cx="226.7" cy="65" rx=".9" ry=".9" fill-opacity=".16"/><ellipse cx="201.8" cy="67.4" rx=".8" ry=".8" fill-opacity=".22"/><ellipse cx="182.8" cy="65.1" rx=".8" ry=".8" fill-opacity=".15"/><ellipse cx="174.9" cy="61.7" rx="1" ry="1" fill-opacity=".14"/><ellipse cx="158.3" cy="39.7" rx="1.1" ry="1.1" fill-opacity=".34"/><ellipse cx="181" cy="23.5" rx="1" ry="1" fill-opacity=".26"/><ellipse cx="159.3" cy="37.4" rx="1" ry="1" fill-opacity=".48"/><ellipse cx="149.9" cy="45.4" rx=".7" ry=".7" fill-opacity=".45"/><ellipse cx="168.8" cy="31.7" rx="1" ry="1" fill-opacity=".23"/><ellipse cx="146.4" cy="44.2" rx=".9" ry=".9" fill-opacity=".32"/><ellipse cx="202.1" cy="-.8" rx="1.1" ry="1.1" fill-opacity=".16"/><ellipse cx="197.6" cy="11.2" rx=".8" ry=".8" fill-opacity=".22"/><ellipse cx="166.7" cy="32" rx=".7" ry=".7" fill-opacity=".24"/><ellipse cx="153.5" cy="45.6" rx="1" ry="1" fill-opacity=".39"/><ellipse cx="193.7" cy="7" rx="1.1" ry="1.1" fill-opacity=".2"/><ellipse cx="204.1" cy="3.9" rx=".7" ry=".7" fill-opacity=".28"/><ellipse cx="167.1" cy="28.1" rx="1" ry="1" fill-opacity=".26"/><ellipse cx="178.5" cy="25" rx=".7" ry=".7" fill-opacity=".31"/><ellipse cx="144.3" cy="44.6" rx="1.1" ry="1.1" fill-opacity=".34"/><ellipse cx="145.7" cy="48.2" rx=".9" ry=".9" fill-opacity=".49"/><ellipse cx="180.1" cy="23.2" rx=".8" ry=".8" fill-opacity=".12"/><ellipse cx="173.7" cy="25" rx="1.1" ry="1.1" fill-opacity=".19"/><ellipse cx="140.3" cy="48.6" rx=".9" ry=".9" fill-opacity=".43"/><ellipse cx="168" cy="29.8" rx=".7" ry=".7" fill-opacity=".41"/><ellipse cx="165.2" cy="32.9" rx=".9" ry=".9" fill-opacity=".26"/><ellipse cx="153.2" cy="41.1" rx="1.1" ry="1.1" fill-opacity=".37"/><ellipse cx="200.4" cy="1.3" rx=".9" ry=".9" fill-opacity=".23"/><ellipse cx="195.7" cy="7.2" rx=".9" ry=".9" fill-opacity=".23"/><ellipse cx="146.7" cy="47.8" rx="1" ry="1" fill-opacity=".35"/><ellipse cx="171.5" cy="29.1" rx="1" ry="1" fill-opacity=".27"/><ellipse cx="139.7" cy="47.7" rx=".9" ry=".9" fill-opacity=".41"/><ellipse cx="160.2" cy="39" rx=".9" ry=".9" fill-opacity=".35"/><ellipse cx="172.2" cy="29.7" rx=".8" ry=".8" fill-opacity=".19"/><ellipse cx="174.3" cy="28.9" rx=".7" ry=".7" fill-opacity=".47"/><ellipse cx="196.4" cy="5.6" rx=".7" ry=".7" fill-opacity=".21"/><ellipse cx="139.3" cy="50.2" rx=".9" ry=".9" fill-opacity=".52"/><ellipse cx="152.9" cy="47.7" rx=".9" ry=".9" fill-opacity=".2"/><ellipse cx="172.8" cy="29.8" rx=".8" ry=".8" fill-opacity=".37"/><ellipse cx="181.9" cy="20.3" rx=".7" ry=".7" fill-opacity=".27"/><ellipse cx="188.9" cy="7.9" rx=".8" ry=".8" fill-opacity=".14"/><ellipse cx="156" cy="39.7" rx="1" ry="1" fill-opacity=".41"/><ellipse cx="172.8" cy="28" rx=".9" ry=".9" fill-opacity=".33"/><ellipse cx="157.1" cy="37.1" rx="1.1" ry="1.1" fill-opacity=".21"/><ellipse cx="183.1" cy="14.8" rx=".9" ry=".9" fill-opacity=".28"/><ellipse cx="179.9" cy="26" rx="1" ry="1" fill-opacity=".24"/><ellipse cx="191.8" cy="18.2" rx="1" ry="1" fill-opacity=".19"/><ellipse cx="186.5" cy="18.1" rx="1" ry="1" fill-opacity=".17"/><ellipse cx="157.7" cy="42" rx=".9" ry=".9" fill-opacity=".4"/><ellipse cx="180.1" cy="25.5" rx="1" ry="1" fill-opacity=".33"/><ellipse cx="175.8" cy="23.5" rx=".8" ry=".8" fill-opacity=".15"/><ellipse cx="188.4" cy="15" rx="1" ry="1" fill-opacity=".28"/><ellipse cx="143.6" cy="49.6" rx=".9" ry=".9" fill-opacity=".32"/><ellipse cx="35.7" cy="30.2" rx="1.1" ry="1.1" fill-opacity=".1"/><ellipse cx="33.3" cy="33.3" rx=".8" ry=".8" fill-opacity=".09"/><ellipse cx="41.3" cy="33.5" rx=".7" ry=".7" fill-opacity=".21"/><ellipse cx="95.3" cy="22.7" rx=".8" ry=".8" fill-opacity=".11"/><ellipse cx="96" cy="20.2" rx=".7" ry=".7" fill-opacity=".21"/><ellipse cx="59.4" cy="31" rx=".8" ry=".8" fill-opacity=".1"/><ellipse cx="74.6" cy="28.2" rx=".8" ry=".8" fill-opacity=".1"/><ellipse cx="20.6" cy="39.9" rx="1.1" ry="1.1" fill-opacity=".13"/><ellipse cx="39.8" cy="34.1" rx=".8" ry=".8" fill-opacity=".17"/><ellipse cx="9" cy="36.3" rx="1" ry="1" fill-opacity=".22"/><ellipse cx="39.6" cy="32.2" rx="1" ry="1" fill-opacity=".13"/><ellipse cx="37.8" cy="33.8" rx="1" ry="1" fill-opacity=".18"/><ellipse cx="24.6" cy="36.4" rx=".8" ry=".8" fill-opacity=".08"/><ellipse cx="71.7" cy="27.6" rx="1.1" ry="1.1" fill-opacity=".14"/><ellipse cx="58" cy="27.5" rx="1.1" ry="1.1" fill-opacity=".22"/><ellipse cx="72.3" cy="23.1" rx=".7" ry=".7" fill-opacity=".2"/><ellipse cx="57.5" cy="29.2" rx=".9" ry=".9" fill-opacity=".12"/><ellipse cx="75.8" cy="22.5" rx=".9" ry=".9" fill-opacity=".29"/><ellipse cx="53.5" cy="29.1" rx=".9" ry=".9" fill-opacity=".18"/><ellipse cx="100.6" cy="18.2" rx=".9" ry=".9" fill-opacity=".11"/><ellipse cx="64.1" cy="25" rx="1.1" ry="1.1" fill-opacity=".18"/><ellipse cx="97.9" cy="16.5" rx="1" ry="1" fill-opacity=".12"/><ellipse cx="49.4" cy="32.4" rx="1" ry="1" fill-opacity=".09"/><ellipse cx="65.3" cy="27.6" rx=".8" ry=".8" fill-opacity=".08"/><ellipse cx="3.8" cy="38.2" rx="1" ry="1" fill-opacity=".11"/><ellipse cx="18.8" cy="36.1" rx=".7" ry=".7" fill-opacity=".12"/><ellipse cx="37.9" cy="34.5" rx=".9" ry=".9" fill-opacity=".18"/><ellipse cx="69.6" cy="29.3" rx=".9" ry=".9" fill-opacity=".21"/><ellipse cx="35.4" cy="33.7" rx="1.1" ry="1.1" fill-opacity=".19"/><ellipse cx="32.7" cy="33.2" rx="1" ry="1" fill-opacity=".18"/><ellipse cx="83.1" cy="23.7" rx=".7" ry=".7" fill-opacity=".24"/><ellipse cx="100.3" cy="18.3" rx=".9" ry=".9" fill-opacity=".17"/><ellipse cx="47.6" cy="34.5" rx="1" ry="1" fill-opacity=".08"/><ellipse cx="35.7" cy="30.9" rx=".8" ry=".8" fill-opacity=".08"/><ellipse cx="80.4" cy="26.5" rx=".7" ry=".7" fill-opacity=".15"/><ellipse cx="93.8" cy="20.3" rx=".9" ry=".9" fill-opacity=".17"/><ellipse cx="31.9" cy="32.8" rx=".9" ry=".9" fill-opacity=".22"/><ellipse cx="88.3" cy="22.4" rx="1.1" ry="1.1" fill-opacity=".11"/><ellipse cx="46.2" cy="28.6" rx=".9" ry=".9" fill-opacity=".15"/><ellipse cx="99.2" cy="19.2" rx=".8" ry=".8" fill-opacity=".24"/><ellipse cx="4" cy="41.4" rx=".9" ry=".9" fill-opacity=".13"/><ellipse cx="55.8" cy="29.4" rx=".9" ry=".9" fill-opacity=".11"/><ellipse cx="12.5" cy="36.2" rx=".8" ry=".8" fill-opacity=".05"/><ellipse cx="46" cy="31.9" rx=".7" ry=".7" fill-opacity=".1"/><ellipse cx="67" cy="73.3" rx="1.1" ry="1.1" fill-opacity=".21"/><ellipse cx="59.1" cy="67.9" rx=".9" ry=".9" fill-opacity=".27"/><ellipse cx="67.5" cy="69.4" rx="1" ry="1" fill-opacity=".08"/><ellipse cx="61.8" cy="68.6" rx="1.1" ry="1.1" fill-opacity=".23"/><ellipse cx="85.9" cy="70.3" rx="1" ry="1" fill-opacity=".29"/><ellipse cx="26.3" cy="59" rx="1" ry="1" fill-opacity=".16"/><ellipse cx="84.8" cy="72" rx=".9" ry=".9" fill-opacity=".18"/><ellipse cx="31.4" cy="61.9" rx="1.1" ry="1.1" fill-opacity=".23"/><ellipse cx="84.7" cy="71.2" rx=".7" ry=".7" fill-opacity=".22"/><ellipse cx="28.8" cy="59.5" rx=".8" ry=".8" fill-opacity=".16"/><ellipse cx="22.8" cy="60.2" rx=".7" ry=".7" fill-opacity=".17"/><ellipse cx="26.6" cy="58.6" rx="1.1" ry="1.1" fill-opacity=".16"/><ellipse cx="5.2" cy="56.2" rx="1.1" ry="1.1" fill-opacity=".07"/><ellipse cx="7.8" cy="51.2" rx="1.1" ry="1.1" fill-opacity=".18"/><ellipse cx="24.5" cy="60.8" rx=".8" ry=".8" fill-opacity=".13"/><ellipse cx="28.1" cy="60.6" rx="1.1" ry="1.1" fill-opacity=".12"/><ellipse cx="38.7" cy="67.3" rx="1" ry="1" fill-opacity=".26"/><ellipse cx="88.9" cy="68.9" rx="1" ry="1" fill-opacity=".28"/><ellipse cx="30.3" cy="61.5" rx=".9" ry=".9" fill-opacity=".28"/><ellipse cx="86.9" cy="72.9" rx=".8" ry=".8" fill-opacity=".19"/><ellipse cx="11.9" cy="52.9" rx=".8" ry=".8" fill-opacity=".23"/><ellipse cx="45" cy="72.6" rx=".9" ry=".9" fill-opacity=".17"/><ellipse cx="37" cy="65.6" rx=".9" ry=".9" fill-opacity=".14"/><ellipse cx="86.4" cy="69.4" rx=".9" ry=".9" fill-opacity=".18"/><ellipse cx="52.4" cy="70.4" rx="1.1" ry="1.1" fill-opacity=".22"/><ellipse cx="21.4" cy="56.3" rx=".9" ry=".9" fill-opacity=".13"/><ellipse cx="47.4" cy="131" rx=".9" ry=".9" fill-opacity=".09"/><ellipse cx="44.7" cy="131.8" rx=".9" ry=".9" fill-opacity=".16"/><ellipse cx="44.8" cy="126.3" rx="1.1" ry="1.1" fill-opacity=".12"/><ellipse cx="45.4" cy="108.1" rx=".7" ry=".7" fill-opacity=".12"/><ellipse cx="45.8" cy="105.1" rx=".8" ry=".8" fill-opacity=".13"/><ellipse cx="45.3" cy="111.7" rx="1" ry="1" fill-opacity=".15"/><ellipse cx="48.2" cy="109.8" rx="1" ry="1" fill-opacity=".32"/><ellipse cx="49.6" cy="126.5" rx="1" ry="1" fill-opacity=".19"/><ellipse cx="44.3" cy="127.8" rx=".9" ry=".9" fill-opacity=".15"/><ellipse cx="43.5" cy="92.9" rx=".7" ry=".7" fill-opacity=".15"/><ellipse cx="47.4" cy="123.1" rx=".9" ry=".9" fill-opacity=".21"/><ellipse cx="48.6" cy="114.5" rx="1" ry="1" fill-opacity=".22"/><ellipse cx="41.9" cy="98.6" rx=".7" ry=".7" fill-opacity=".18"/><ellipse cx="47.5" cy="115.5" rx=".8" ry=".8" fill-opacity=".15"/><ellipse cx="47" cy="85.5" rx=".9" ry=".9" fill-opacity=".14"/><ellipse cx="49.8" cy="128.8" rx="1.1" ry="1.1" fill-opacity=".14"/><ellipse cx="50" cy="127.6" rx="1.1" ry="1.1" fill-opacity=".19"/><ellipse cx="48.1" cy="95.1" rx="1" ry="1" fill-opacity=".11"/><ellipse cx="52.2" cy="127.7" rx=".9" ry=".9" fill-opacity=".16"/><ellipse cx="46.4" cy="108.3" rx=".9" ry=".9" fill-opacity=".14"/><ellipse cx="43.8" cy="105.3" rx="1.1" ry="1.1" fill-opacity=".08"/><ellipse cx="48.3" cy="119.8" rx=".8" ry=".8" fill-opacity=".24"/><ellipse cx="44.3" cy="115.3" rx="1" ry="1" fill-opacity=".23"/><ellipse cx="48.2" cy="127.8" rx=".8" ry=".8" fill-opacity=".15"/><ellipse cx="41.4" cy="90.1" rx="1" ry="1" fill-opacity=".07"/><ellipse cx="51.5" cy="129.4" rx="1" ry="1" fill-opacity=".29"/><ellipse cx="47.1" cy="123" rx=".8" ry=".8" fill-opacity=".16"/><ellipse cx="46.4" cy="129" rx="1" ry="1" fill-opacity=".23"/><ellipse cx="45.6" cy="101.8" rx=".9" ry=".9" fill-opacity=".19"/><ellipse cx="47.7" cy="110.5" rx="1.1" ry="1.1" fill-opacity=".13"/><ellipse cx="66" cy="127.6" rx=".7" ry=".7" fill-opacity=".33"/><ellipse cx="55.5" cy="112.6" rx="1" ry="1" fill-opacity=".14"/><ellipse cx="59.2" cy="105" rx="1.1" ry="1.1" fill-opacity=".21"/><ellipse cx="55.4" cy="103.9" rx="1.1" ry="1.1" fill-opacity=".11"/><ellipse cx="59.3" cy="107.4" rx="1" ry="1" fill-opacity=".16"/><ellipse cx="63" cy="124.7" rx=".8" ry=".8" fill-opacity=".22"/><ellipse cx="60.1" cy="106.7" rx=".8" ry=".8" fill-opacity=".2"/><ellipse cx="59.2" cy="114.3" rx="1.1" ry="1.1" fill-opacity=".37"/><ellipse cx="58.4" cy="130.2" rx="1.1" ry="1.1" fill-opacity=".06"/><ellipse cx="60.5" cy="111.6" rx="1.1" ry="1.1" fill-opacity=".14"/><ellipse cx="59.6" cy="108.2" rx="1.1" ry="1.1" fill-opacity=".25"/><ellipse cx="57.6" cy="121.3" rx="1.1" ry="1.1" fill-opacity=".15"/><ellipse cx="56.3" cy="103.4" rx=".8" ry=".8" fill-opacity=".16"/><ellipse cx="62.4" cy="128.1" rx="1" ry="1" fill-opacity=".14"/><ellipse cx="58.7" cy="120.3" rx=".8" ry=".8" fill-opacity=".23"/><ellipse cx="63.5" cy="122.4" rx="1.1" ry="1.1" fill-opacity=".2"/><ellipse cx="55.3" cy="113.8" rx=".8" ry=".8" fill-opacity=".12"/><ellipse cx="56.2" cy="106.1" rx="1.1" ry="1.1" fill-opacity=".16"/><ellipse cx="59.9" cy="101.7" rx="1" ry="1" fill-opacity=".07"/><ellipse cx="57.7" cy="110.8" rx="1.1" ry="1.1" fill-opacity=".26"/><ellipse cx="60.5" cy="110.7" rx=".9" ry=".9" fill-opacity=".15"/><ellipse cx="62.2" cy="102.6" rx="1" ry="1" fill-opacity=".23"/><ellipse cx="60.9" cy="117.5" rx=".9" ry=".9" fill-opacity=".18"/><ellipse cx="59.3" cy="110.7" rx=".9" ry=".9" fill-opacity=".15"/><ellipse cx="62" cy="121.3" rx="1.1" ry="1.1" fill-opacity=".14"/><ellipse cx="58.5" cy="111.8" rx=".8" ry=".8" fill-opacity=".19"/><ellipse cx="71.3" cy="122.1" rx=".7" ry=".7" fill-opacity=".22"/><ellipse cx="68.5" cy="122.3" rx="1.1" ry="1.1" fill-opacity=".15"/><ellipse cx="70.9" cy="131.6" rx="1" ry="1" fill-opacity=".08"/><ellipse cx="72.7" cy="125.1" rx="1" ry="1" fill-opacity=".22"/><ellipse cx="71.1" cy="120.1" rx=".9" ry=".9" fill-opacity=".29"/><ellipse cx="74.6" cy="106.6" rx="1.1" ry="1.1" fill-opacity=".29"/><ellipse cx="68.2" cy="127.4" rx="1" ry="1" fill-opacity=".34"/><ellipse cx="70.5" cy="101.9" rx=".8" ry=".8" fill-opacity=".34"/><ellipse cx="74" cy="106.6" rx=".8" ry=".8" fill-opacity=".2"/><ellipse cx="66.8" cy="99.1" rx=".8" ry=".8" fill-opacity=".27"/><ellipse cx="70.1" cy="122.5" rx="1.1" ry="1.1" fill-opacity=".31"/><ellipse cx="67" cy="101.7" rx="1.1" ry="1.1" fill-opacity=".19"/><ellipse cx="71.1" cy="115.7" rx="1" ry="1" fill-opacity=".1"/><ellipse cx="71.5" cy="107.6" rx=".7" ry=".7" fill-opacity=".16"/><ellipse cx="70.4" cy="131.6" rx="1" ry="1" fill-opacity=".13"/><ellipse cx="70.4" cy="102.5" rx=".8" ry=".8" fill-opacity=".15"/><ellipse cx="71.3" cy="130.6" rx="1" ry="1" fill-opacity=".09"/><ellipse cx="67.7" cy="107.7" rx="1.1" ry="1.1" fill-opacity=".27"/><ellipse cx="75.5" cy="108.5" rx=".7" ry=".7" fill-opacity=".27"/><ellipse cx="69.2" cy="134.1" rx="1.1" ry="1.1" fill-opacity=".09"/><ellipse cx="69.8" cy="107.8" rx=".9" ry=".9" fill-opacity=".15"/><ellipse cx="74.5" cy="127.3" rx="1" ry="1" fill-opacity=".1"/><ellipse cx="72.3" cy="108.5" rx="1.1" ry="1.1" fill-opacity=".22"/><ellipse cx="71.5" cy="117.9" rx="1.1" ry="1.1" fill-opacity=".34"/><ellipse cx="70.1" cy="132.4" rx=".8" ry=".8" fill-opacity=".12"/><ellipse cx="69.2" cy="106.3" rx=".9" ry=".9" fill-opacity=".13"/><ellipse cx="199" cy="105.3" rx=".9" ry=".9" fill-opacity=".08"/><ellipse cx="220.1" cy="123.3" rx="1" ry="1" fill-opacity=".24"/><ellipse cx="218.1" cy="116" rx=".8" ry=".8" fill-opacity=".11"/><ellipse cx="202.3" cy="104.1" rx=".9" ry=".9" fill-opacity=".09"/><ellipse cx="194.9" cy="102.9" rx=".8" ry=".8" fill-opacity=".23"/><ellipse cx="188.1" cy="100" rx=".9" ry=".9" fill-opacity=".1"/><ellipse cx="190" cy="101.5" rx=".9" ry=".9" fill-opacity=".21"/><ellipse cx="192.3" cy="103.2" rx="1" ry="1" fill-opacity=".14"/><ellipse cx="187.7" cy="96.1" rx="1.1" ry="1.1" fill-opacity=".15"/><ellipse cx="220.7" cy="120.7" rx=".9" ry=".9" fill-opacity=".17"/><ellipse cx="210.8" cy="113.3" rx="1.1" ry="1.1" fill-opacity=".09"/><ellipse cx="212" cy="112" rx="1" ry="1" fill-opacity=".14"/><ellipse cx="202.5" cy="110.6" rx=".8" ry=".8" fill-opacity=".17"/><ellipse cx="219" cy="120.1" rx=".7" ry=".7" fill-opacity=".2"/><ellipse cx="220" cy="121.7" rx="1" ry="1" fill-opacity=".09"/><ellipse cx="216.9" cy="119.3" rx=".8" ry=".8" fill-opacity=".13"/><ellipse cx="207.3" cy="115.9" rx="1" ry="1" fill-opacity=".16"/><ellipse cx="12.8" cy="100.8" rx=".9" ry=".9" fill-opacity=".19"/><ellipse cx="56.3" cy="91.7" rx=".8" ry=".8" fill-opacity=".17"/><ellipse cx="36.8" cy="95.4" rx=".9" ry=".9" fill-opacity=".16"/><ellipse cx="67.6" cy="91.1" rx=".9" ry=".9" fill-opacity=".2"/><ellipse cx="30.4" cy="98.5" rx=".8" ry=".8" fill-opacity=".1"/><ellipse cx="32.3" cy="94" rx="1.1" ry="1.1" fill-opacity=".23"/><ellipse cx="48" cy="93.8" rx="1" ry="1" fill-opacity=".2"/><ellipse cx="19.3" cy="100.2" rx="1.1" ry="1.1" fill-opacity=".07"/><ellipse cx="13.3" cy="97.2" rx="1" ry="1" fill-opacity=".18"/><ellipse cx="56.6" cy="92.1" rx=".9" ry=".9" fill-opacity=".15"/><ellipse cx="56.9" cy="92" rx="1" ry="1" fill-opacity=".09"/><ellipse cx="51.4" cy="96" rx=".8" ry=".8" fill-opacity=".27"/><ellipse cx="55" cy="91.7" rx=".8" ry=".8" fill-opacity=".16"/><ellipse cx="18.1" cy="99.9" rx=".9" ry=".9" fill-opacity=".18"/><ellipse cx="74.5" cy="90.1" rx="1.1" ry="1.1" fill-opacity=".22"/><ellipse cx="57.8" cy="91.3" rx="1" ry="1" fill-opacity=".1"/><ellipse cx="60.1" cy="89" rx=".8" ry=".8" fill-opacity=".23"/><ellipse cx="27.9" cy="98.6" rx="1.1" ry="1.1" fill-opacity=".07"/><ellipse cx="24.6" cy="97.1" rx=".9" ry=".9" fill-opacity=".28"/><ellipse cx="81" cy="88.2" rx=".9" ry=".9" fill-opacity=".27"/><ellipse cx="22.5" cy="97.3" rx=".7" ry=".7" fill-opacity=".1"/><ellipse cx="60.7" cy="89.2" rx=".8" ry=".8" fill-opacity=".1"/><ellipse cx="35" cy="95.6" rx=".7" ry=".7" fill-opacity=".21"/><ellipse cx="18.8" cy="100" rx="1" ry="1" fill-opacity=".16"/><ellipse cx="76.1" cy="88.7" rx=".9" ry=".9" fill-opacity=".3"/><ellipse cx="27.9" cy="98.1" rx=".8" ry=".8" fill-opacity=".26"/><ellipse cx="81.9" cy="90" rx="1" ry="1" fill-opacity=".24"/><ellipse cx="62.7" cy="90.4" rx=".9" ry=".9" fill-opacity=".14"/><ellipse cx="27.8" cy="96" rx=".8" ry=".8" fill-opacity=".15"/><ellipse cx="63.6" cy="90.9" rx="1" ry="1" fill-opacity=".21"/><ellipse cx="167.6" cy="101.7" rx="1" ry="1" fill-opacity=".19"/><ellipse cx="146.7" cy="83" rx=".8" ry=".8" fill-opacity=".26"/><ellipse cx="150.3" cy="86.2" rx=".9" ry=".9" fill-opacity=".21"/><ellipse cx="134.5" cy="79.4" rx=".9" ry=".9" fill-opacity=".34"/><ellipse cx="138.7" cy="72.8" rx=".8" ry=".8" fill-opacity=".48"/><ellipse cx="177.9" cy="102" rx="1" ry="1" fill-opacity=".08"/><ellipse cx="208.5" cy="105.7" rx=".8" ry=".8" fill-opacity=".09"/><ellipse cx="181.5" cy="101" rx=".7" ry=".7" fill-opacity=".09"/><ellipse cx="140.3" cy="77.7" rx="1.1" ry="1.1" fill-opacity=".38"/><ellipse cx="138.6" cy="76.4" rx=".7" ry=".7" fill-opacity=".41"/><ellipse cx="199.7" cy="102.9" rx="1.1" ry="1.1" fill-opacity=".16"/><ellipse cx="200.2" cy="105.4" rx="1" ry="1" fill-opacity=".23"/><ellipse cx="166.2" cy="101.6" rx=".8" ry=".8" fill-opacity=".24"/><ellipse cx="162.8" cy="102.1" rx=".8" ry=".8" fill-opacity=".25"/><ellipse cx="221.3" cy="109.2" rx="1" ry="1" fill-opacity=".12"/><ellipse cx="169" cy="99.5" rx="1.1" ry="1.1" fill-opacity=".2"/><ellipse cx="145.1" cy="78.2" rx="1.1" ry="1.1" fill-opacity=".27"/><ellipse cx="219.2" cy="105.4" rx="1.1" ry="1.1" fill-opacity=".11"/><ellipse cx="200.8" cy="105.1" rx="1" ry="1" fill-opacity=".24"/><ellipse cx="175.2" cy="99.9" rx="1" ry="1" fill-opacity=".2"/><ellipse cx="197.9" cy="105.7" rx=".9" ry=".9" fill-opacity=".17"/><ellipse cx="150.3" cy="90.1" rx=".9" ry=".9" fill-opacity=".32"/><ellipse cx="165.9" cy="101.9" rx="1.1" ry="1.1" fill-opacity=".19"/><ellipse cx="142.9" cy="82.9" rx=".9" ry=".9" fill-opacity=".14"/><ellipse cx="164.3" cy="101.9" rx="1" ry="1" fill-opacity=".2"/><ellipse cx="183.9" cy="97.5" rx=".9" ry=".9" fill-opacity=".12"/><ellipse cx="161.6" cy="96.3" rx=".8" ry=".8" fill-opacity=".11"/><ellipse cx="162.2" cy="98.9" rx=".9" ry=".9" fill-opacity=".32"/><ellipse cx="143.8" cy="77.8" rx="1" ry="1" fill-opacity=".39"/><ellipse cx="208.6" cy="102" rx=".9" ry=".9" fill-opacity=".16"/><ellipse cx="100.9" cy="64.2" rx="1" ry="1" fill-opacity=".35"/><ellipse cx="110.6" cy="40.6" rx=".8" ry=".8" fill-opacity=".53"/><ellipse cx="126.9" cy="48.6" rx=".9" ry=".9" fill-opacity=".35"/><ellipse cx="70.2" cy="73.9" rx=".8" ry=".8" fill-opacity=".22"/><ellipse cx="113.3" cy="65.7" rx=".9" ry=".9" fill-opacity=".23"/><ellipse cx="90" cy="53.7" rx=".9" ry=".9" fill-opacity=".3"/><ellipse cx="91.5" cy="39.9" rx="1" ry="1" fill-opacity=".26"/><ellipse cx="68.9" cy="66.4" rx="1.1" ry="1.1" fill-opacity=".25"/><ellipse cx="102.4" cy="70.6" rx=".9" ry=".9" fill-opacity=".44"/><ellipse cx="120.3" cy="98.4" rx=".9" ry=".9" fill-opacity=".21"/><ellipse cx="104.7" cy="55.1" rx="1.1" ry="1.1" fill-opacity=".56"/><ellipse cx="90.6" cy="55.5" rx="1.1" ry="1.1" fill-opacity=".22"/><ellipse cx="113.6" cy="74.5" rx=".9" ry=".9" fill-opacity=".37"/><ellipse cx="82.6" cy="58.1" rx=".8" ry=".8" fill-opacity=".19"/><ellipse cx="80.5" cy="71.4" rx=".8" ry=".8" fill-opacity=".43"/><ellipse cx="97.7" cy="64.2" rx="1" ry="1" fill-opacity=".23"/><ellipse cx="96.3" cy="58.7" rx=".9" ry=".9" fill-opacity=".32"/><ellipse cx="92.9" cy="51.2" rx=".9" ry=".9" fill-opacity=".41"/><ellipse cx="97" cy="63.1" rx=".9" ry=".9" fill-opacity=".33"/><ellipse cx="89.9" cy="84.2" rx=".8" ry=".8" fill-opacity=".35"/><ellipse cx="108.6" cy="83.1" rx=".9" ry=".9" fill-opacity=".27"/><ellipse cx="79.4" cy="68" rx=".9" ry=".9" fill-opacity=".35"/><ellipse cx="86" cy="54.7" rx=".9" ry=".9" fill-opacity=".25"/><ellipse cx="103.1" cy="49.3" rx=".7" ry=".7" fill-opacity=".25"/><ellipse cx="89" cy="77.9" rx=".8" ry=".8" fill-opacity=".17"/><ellipse cx="110.8" cy="87.6" rx="1" ry="1" fill-opacity=".35"/><ellipse cx="94.8" cy="66.2" rx="1" ry="1" fill-opacity=".22"/><ellipse cx="98.8" cy="83.2" rx=".8" ry=".8" fill-opacity=".3"/><ellipse cx="111.2" cy="74.9" rx=".8" ry=".8" fill-opacity=".27"/><ellipse cx="125.5" cy="51.4" rx="1" ry="1" fill-opacity=".43"/><ellipse cx="84" cy="70.9" rx=".9" ry=".9" fill-opacity=".37"/><ellipse cx="98.3" cy="56.8" rx="1.1" ry="1.1" fill-opacity=".45"/><ellipse cx="84.9" cy="85" rx=".8" ry=".8" fill-opacity=".36"/><ellipse cx="96.3" cy="71.9" rx="1.1" ry="1.1" fill-opacity=".18"/><ellipse cx="131.4" cy="63.8" rx=".7" ry=".7" fill-opacity=".48"/><ellipse cx="95.3" cy="79.4" rx="1.1" ry="1.1" fill-opacity=".32"/><ellipse cx="87.1" cy="68.5" rx="1.1" ry="1.1" fill-opacity=".34"/><ellipse cx="96.8" cy="50.7" rx=".9" ry=".9" fill-opacity=".54"/><ellipse cx="106.1" cy="54.7" rx=".9" ry=".9" fill-opacity=".41"/><ellipse cx="112.8" cy="58.1" rx=".7" ry=".7" fill-opacity=".34"/><ellipse cx="73.3" cy="67.2" rx=".8" ry=".8" fill-opacity=".28"/><ellipse cx="94.6" cy="64.2" rx="1.1" ry="1.1" fill-opacity=".25"/><ellipse cx="106.8" cy="40.6" rx="1" ry="1" fill-opacity=".54"/><ellipse cx="109.5" cy="62.6" rx=".9" ry=".9" fill-opacity=".48"/><ellipse cx="93" cy="74.5" rx="1.1" ry="1.1" fill-opacity=".3"/><ellipse cx="107.3" cy="58.8" rx=".7" ry=".7" fill-opacity=".58"/><ellipse cx="106.6" cy="59.4" rx=".9" ry=".9" fill-opacity=".57"/><ellipse cx="113.5" cy="64.5" rx="1.1" ry="1.1" fill-opacity=".23"/><ellipse cx="108.4" cy="55.1" rx="1" ry="1" fill-opacity=".36"/><ellipse cx="84.4" cy="62" rx=".8" ry=".8" fill-opacity=".35"/><ellipse cx="123.7" cy="100.9" rx="1.1" ry="1.1" fill-opacity=".47"/><ellipse cx="121.7" cy="91.7" rx="1" ry="1" fill-opacity=".43"/><ellipse cx="117.7" cy="103.3" rx=".9" ry=".9" fill-opacity=".26"/><ellipse cx="126.7" cy="96.8" rx=".8" ry=".8" fill-opacity=".19"/><ellipse cx="111.2" cy="79.6" rx="1.1" ry="1.1" fill-opacity=".25"/><ellipse cx="121.3" cy="76.1" rx=".8" ry=".8" fill-opacity=".44"/><ellipse cx="120.7" cy="82.2" rx="1.1" ry="1.1" fill-opacity=".4"/><ellipse cx="117.7" cy="98.5" rx="1" ry="1" fill-opacity=".27"/><ellipse cx="122.5" cy="64.6" rx=".9" ry=".9" fill-opacity=".66"/><ellipse cx="102.5" cy="79" rx="1" ry="1" fill-opacity=".44"/><ellipse cx="137.5" cy="96.2" rx="1" ry="1" fill-opacity=".32"/><ellipse cx="114.8" cy="89" rx="1" ry="1" fill-opacity=".29"/><ellipse cx="116.2" cy="122.3" rx=".9" ry=".9" fill-opacity=".19"/><ellipse cx="101.3" cy="89.8" rx="1.1" ry="1.1" fill-opacity=".36"/><ellipse cx="140.5" cy="106.6" rx="1.1" ry="1.1" fill-opacity=".22"/><ellipse cx="132.4" cy="66.4" rx="1.1" ry="1.1" fill-opacity=".45"/><ellipse cx="126.6" cy="97.4" rx=".8" ry=".8" fill-opacity=".24"/><ellipse cx="105.2" cy="108.9" rx="1.1" ry="1.1" fill-opacity=".28"/><ellipse cx="107.8" cy="80.1" rx=".8" ry=".8" fill-opacity=".37"/><ellipse cx="152.8" cy="92.2" rx=".9" ry=".9" fill-opacity=".39"/><ellipse cx="137.6" cy="75.2" rx=".9" ry=".9" fill-opacity=".43"/><ellipse cx="130.9" cy="88.6" rx=".7" ry=".7" fill-opacity=".43"/><ellipse cx="107.9" cy="105" rx=".9" ry=".9" fill-opacity=".12"/><ellipse cx="125.3" cy="94.6" rx=".9" ry=".9" fill-opacity=".52"/><ellipse cx="122.2" cy="107.6" rx="1.1" ry="1.1" fill-opacity=".31"/><ellipse cx="114.5" cy="87.7" rx=".8" ry=".8" fill-opacity=".3"/><ellipse cx="135.2" cy="96.9" rx=".9" ry=".9" fill-opacity=".27"/><ellipse cx="112.2" cy="72.1" rx=".7" ry=".7" fill-opacity=".42"/><ellipse cx="141.8" cy="73.5" rx=".9" ry=".9" fill-opacity=".43"/><ellipse cx="121.9" cy="93.5" rx="1" ry="1" fill-opacity=".2"/><ellipse cx="139.7" cy="109" rx=".9" ry=".9" fill-opacity=".16"/><ellipse cx="112.9" cy="86.4" rx=".8" ry=".8" fill-opacity=".44"/><ellipse cx="139.9" cy="94.2" rx=".9" ry=".9" fill-opacity=".33"/><ellipse cx="127.4" cy="116.5" rx=".8" ry=".8" fill-opacity=".42"/><ellipse cx="117" cy="99.8" rx="1.1" ry="1.1" fill-opacity=".26"/><ellipse cx="117.8" cy="42" rx="1.1" ry="1.1" fill-opacity=".51"/><ellipse cx="115.4" cy="111.5" rx=".8" ry=".8" fill-opacity=".39"/><ellipse cx="106.3" cy="98.9" rx=".8" ry=".8" fill-opacity=".25"/><ellipse cx="147.8" cy="80.2" rx=".9" ry=".9" fill-opacity=".18"/><ellipse cx="112.3" cy="84.2" rx=".9" ry=".9" fill-opacity=".38"/><ellipse cx="85.3" cy="40.5" rx=".9" ry=".9" fill-opacity=".46"/><ellipse cx="102.6" cy="32.4" rx=".9" ry=".9" fill-opacity=".24"/><ellipse cx="89.6" cy="36.6" rx="1.1" ry="1.1" fill-opacity=".55"/><ellipse cx="99.6" cy="43.6" rx=".8" ry=".8" fill-opacity=".36"/><ellipse cx="78.4" cy="33.3" rx=".9" ry=".9" fill-opacity=".3"/><ellipse cx="93.6" cy="32.8" rx="1.1" ry="1.1" fill-opacity=".17"/><ellipse cx="100.5" cy="39" rx="1" ry="1" fill-opacity=".29"/><ellipse cx="70.9" cy="51.5" rx=".8" ry=".8" fill-opacity=".53"/><ellipse cx="86.5" cy="38.2" rx=".9" ry=".9" fill-opacity=".51"/><ellipse cx="72.9" cy="39.4" rx=".8" ry=".8" fill-opacity=".36"/><ellipse cx="95.8" cy="45.2" rx="1" ry="1" fill-opacity=".43"/><ellipse cx="98.6" cy="21.1" rx="1.1" ry="1.1" fill-opacity=".22"/><ellipse cx="69" cy="31.1" rx="1" ry="1" fill-opacity=".15"/><ellipse cx="120.9" cy="46.9" rx="1.1" ry="1.1" fill-opacity=".34"/><ellipse cx="106.3" cy="44" rx=".9" ry=".9" fill-opacity=".36"/><ellipse cx="115.3" cy="44.1" rx="1" ry="1" fill-opacity=".43"/><ellipse cx="114.4" cy="50.2" rx=".9" ry=".9" fill-opacity=".34"/><ellipse cx="99.7" cy="42.8" rx="1.1" ry="1.1" fill-opacity=".31"/><ellipse cx="92.1" cy="36.4" rx=".9" ry=".9" fill-opacity=".25"/><ellipse cx="110.8" cy="50.9" rx="1.1" ry="1.1" fill-opacity=".49"/><ellipse cx="97.3" cy="52" rx=".7" ry=".7" fill-opacity=".33"/><ellipse cx="85.3" cy="66" rx=".7" ry=".7" fill-opacity=".27"/><ellipse cx="106.1" cy="51.7" rx=".7" ry=".7" fill-opacity=".54"/><ellipse cx="89.7" cy="50.9" rx=".7" ry=".7" fill-opacity=".47"/><ellipse cx="104.3" cy="49.2" rx="1" ry="1" fill-opacity=".42"/><ellipse cx="127.4" cy="39.9" rx="1.1" ry="1.1" fill-opacity=".3"/><ellipse cx="145.5" cy="40.8" rx=".8" ry=".8" fill-opacity=".22"/><ellipse cx="123.4" cy="26.4" rx="1.1" ry="1.1" fill-opacity=".25"/><ellipse cx="144.2" cy="34.3" rx=".9" ry=".9" fill-opacity=".29"/><ellipse cx="140.2" cy="37.7" rx=".9" ry=".9" fill-opacity=".38"/><ellipse cx="127.7" cy="49.6" rx="1.1" ry="1.1" fill-opacity=".21"/><ellipse cx="141.5" cy="26.3" rx="1" ry="1" fill-opacity=".13"/><ellipse cx="156.3" cy="55.7" rx="1" ry="1" fill-opacity=".33"/><ellipse cx="143.2" cy="46.9" rx=".7" ry=".7" fill-opacity=".38"/><ellipse cx="132.7" cy="38.9" rx=".9" ry=".9" fill-opacity=".46"/><ellipse cx="150.8" cy="57.4" rx="1" ry="1" fill-opacity=".29"/><ellipse cx="140.9" cy="49.8" rx="1" ry="1" fill-opacity=".37"/><ellipse cx="136.3" cy="60.3" rx=".9" ry=".9" fill-opacity=".51"/><ellipse cx="143.3" cy="47.2" rx="1" ry="1" fill-opacity=".23"/><ellipse cx="132.7" cy="27.8" rx=".9" ry=".9" fill-opacity=".28"/><ellipse cx="154.2" cy="37.8" rx="1.1" ry="1.1" fill-opacity=".33"/><ellipse cx="146" cy="28.1" rx="1.1" ry="1.1" fill-opacity=".46"/><ellipse cx="141.5" cy="39.2" rx="1" ry="1" fill-opacity=".23"/><ellipse cx="140.8" cy="40.5" rx=".9" ry=".9" fill-opacity=".19"/><ellipse cx="138.9" cy="35.9" rx="1.1" ry="1.1" fill-opacity=".31"/><ellipse cx="145.2" cy="97.4" rx=".8" ry=".8" fill-opacity=".24"/><ellipse cx="132.2" cy="98.4" rx="1" ry="1" fill-opacity=".31"/><ellipse cx="129.2" cy="99" rx=".7" ry=".7" fill-opacity=".31"/><ellipse cx="124.8" cy="109.4" rx=".7" ry=".7" fill-opacity=".32"/><ellipse cx="151.3" cy="133.3" rx="1" ry="1" fill-opacity=".29"/><ellipse cx="144.3" cy="96.3" rx=".8" ry=".8" fill-opacity=".5"/><ellipse cx="133.6" cy="82.8" rx="1.1" ry="1.1" fill-opacity=".34"/><ellipse cx="116.2" cy="119" rx="1" ry="1" fill-opacity=".35"/><ellipse cx="144.4" cy="101.8" rx=".8" ry=".8" fill-opacity=".39"/><ellipse cx="135.6" cy="106.2" rx=".8" ry=".8" fill-opacity=".2"/><ellipse cx="135" cy="111.4" rx="1" ry="1" fill-opacity=".22"/><ellipse cx="120.3" cy="115.4" rx="1.1" ry="1.1" fill-opacity=".29"/><ellipse cx="135.1" cy="118.1" rx="1" ry="1" fill-opacity=".27"/><ellipse cx="135.6" cy="106.2" rx="1.1" ry="1.1" fill-opacity=".23"/><ellipse cx="144.1" cy="101.6" rx="1.1" ry="1.1" fill-opacity=".13"/><ellipse cx="130.8" cy="111.1" rx=".9" ry=".9" fill-opacity=".23"/><ellipse cx="139.2" cy="100.7" rx="1" ry="1" fill-opacity=".31"/><ellipse cx="123.1" cy="116.5" rx=".8" ry=".8" fill-opacity=".24"/><ellipse cx="132.4" cy="108.4" rx=".7" ry=".7" fill-opacity=".14"/><ellipse cx="148.9" cy="102.3" rx=".9" ry=".9" fill-opacity=".29"/><ellipse cx="22.6" cy="59.1" rx="1" ry=".8" fill-opacity=".19" transform="rotate(10 22.6 59.1)"/><ellipse cx="21.7" cy="59.5" rx=".6" ry=".5" fill-opacity=".14"/><ellipse cx="23.5" cy="58.9" rx=".5" ry=".5" fill-opacity=".08"/><ellipse cx="23.7" cy="58.7" rx=".5" ry=".5" fill-opacity=".16"/><ellipse cx="27.5" cy="62.1" rx="1.3" ry=".8" fill-opacity=".34" transform="rotate(-10 27.5 62.1)"/><ellipse cx="29" cy="62.1" rx=".6" ry=".5" fill-opacity=".08"/><ellipse cx="26.9" cy="63" rx=".5" ry=".5" fill-opacity=".14"/><ellipse cx="30.2" cy="64.3" rx=".8" ry=".8" fill-opacity=".17"/><ellipse cx="31.4" cy="65.3" rx=".5" ry=".5" fill-opacity=".08"/><ellipse cx="32.2" cy="66.1" rx=".6" ry=".6" fill-opacity=".16"/><ellipse cx="39.1" cy="67.3" rx=".8" ry=".8" fill-opacity=".22"/><ellipse cx="39.1" cy="66.1" rx=".5" ry=".5" fill-opacity=".06"/><ellipse cx="37.5" cy="67.5" rx=".5" ry=".5" fill-opacity=".13"/><ellipse cx="38.1" cy="67.8" rx=".5" ry=".5" fill-opacity=".1"/><ellipse cx="39.6" cy="70.8" rx="1.9" ry="1.1" fill-opacity=".3" transform="rotate(10 39.6 70.8)"/><ellipse cx="40" cy="70.2" rx=".6" ry=".5" fill-opacity=".11"/><ellipse cx="38.3" cy="77.5" rx="1.6" ry="1.1" fill-opacity=".22" transform="rotate(20 38.3 77.5)"/><ellipse cx="38.3" cy="76.8" rx=".6" ry=".5" fill-opacity=".15"/><ellipse cx="38.7" cy="78.2" rx=".5" ry=".5" fill-opacity=".15"/><ellipse cx="37.5" cy="77.1" rx=".5" ry=".5" fill-opacity=".11"/><ellipse cx="32.7" cy="79.3" rx=".9" ry=".6" fill-opacity=".28" transform="rotate(-10 32.7 79.3)"/><ellipse cx="33.1" cy="79.8" rx=".5" ry=".5" fill-opacity=".08"/><ellipse cx="33.7" cy="74.1" rx=".6" ry=".6" fill-opacity=".16"/><ellipse cx="31.2" cy="75.1" rx=".6" ry=".6" fill-opacity=".21"/><ellipse cx="31.2" cy="74.1" rx=".5" ry=".5" fill-opacity=".09"/><ellipse cx="28.8" cy="76.1" rx=".6" ry=".6" fill-opacity=".19"/><ellipse cx="26.1" cy="75.6" rx=".6" ry=".6" fill-opacity=".2"/><ellipse cx="24.7" cy="74.9" rx=".5" ry=".5" fill-opacity=".05"/><ellipse cx="26.1" cy="75" rx=".6" ry=".5" fill-opacity=".05"/><ellipse cx="26.8" cy="81" rx=".6" ry=".6" fill-opacity=".17"/><ellipse cx="26.8" cy="82.4" rx=".5" ry=".5" fill-opacity=".09"/><ellipse cx="21.9" cy="86" rx=".6" ry=".6" fill-opacity=".08"/><ellipse cx="22.4" cy="95.3" rx=".6" ry=".6" fill-opacity=".15"/><ellipse cx="41.5" cy="86.5" rx=".6" ry=".6" fill-opacity=".12"/><ellipse cx="41.7" cy="87.9" rx=".6" ry=".5" fill-opacity=".06"/><ellipse cx="42.3" cy="87.5" rx=".7" ry=".5" fill-opacity=".1" transform="rotate(20 42.3 87.5)"/><ellipse cx="44.5" cy="85" rx=".6" ry=".6" fill-opacity=".15"/><ellipse cx="43.9" cy="86.1" rx=".5" ry=".5" fill-opacity=".05"/><ellipse cx="45.1" cy="85.4" rx=".5" ry=".5" fill-opacity=".1"/><ellipse cx="41.5" cy="92.5" rx=".8" ry=".8" fill-opacity=".19"/><ellipse cx="42.8" cy="92.1" rx=".6" ry=".5" fill-opacity=".08"/><ellipse cx="42.1" cy="92.1" rx=".5" ry=".5" fill-opacity=".06"/><ellipse cx="41.3" cy="93.6" rx=".5" ry=".5" fill-opacity=".09"/><ellipse cx="44" cy="92" rx=".8" ry=".8" fill-opacity=".19"/><ellipse cx="42.5" cy="92.1" rx=".6" ry=".5" fill-opacity=".11"/><ellipse cx="46.4" cy="76.1" rx=".6" ry=".6" fill-opacity=".2"/><ellipse cx="45.4" cy="76.1" rx=".5" ry=".5" fill-opacity=".08"/><ellipse cx="47.2" cy="75.7" rx=".5" ry=".5" fill-opacity=".1"/><ellipse cx="41.5" cy="60.1" rx=".6" ry=".6" fill-opacity=".07"/><ellipse cx="48.9" cy="67.6" rx=".8" ry=".8" fill-opacity=".18"/><ellipse cx="48.6" cy="66.8" rx=".5" ry=".5" fill-opacity=".12"/><ellipse cx="53.8" cy="66.6" rx=".9" ry=".8" fill-opacity=".27"/><ellipse cx="53.4" cy="67.3" rx=".6" ry=".5" fill-opacity=".11"/><ellipse cx="56.2" cy="67.1" rx=".6" ry=".6" fill-opacity=".18"/><ellipse cx="55.7" cy="66" rx=".5" ry=".5" fill-opacity=".08"/><ellipse cx="54.9" cy="67.4" rx=".6" ry=".5" fill-opacity=".11"/><ellipse cx="57.6" cy="67.9" rx=".5" ry=".5" fill-opacity=".09"/><ellipse cx="59.2" cy="66.1" rx=".6" ry=".6" fill-opacity=".28"/><ellipse cx="60.4" cy="66.2" rx=".5" ry=".5" fill-opacity=".11"/><ellipse cx="61.1" cy="66.6" rx=".6" ry=".6" fill-opacity=".22"/><ellipse cx="60.5" cy="67.1" rx=".6" ry=".5" fill-opacity=".12"/><ellipse cx="65.1" cy="65.6" rx=".8" ry=".8" fill-opacity=".2"/><ellipse cx="63.7" cy="66.2" rx=".5" ry=".5" fill-opacity=".14"/><ellipse cx="71" cy="65.6" rx=".9" ry=".9" fill-opacity=".39"/><ellipse cx="71.5" cy="65.2" rx=".5" ry=".5" fill-opacity=".13"/><ellipse cx="70.9" cy="64.4" rx=".5" ry=".5" fill-opacity=".12"/><ellipse cx="73.9" cy="65.1" rx=".6" ry=".6" fill-opacity=".27"/><ellipse cx="73.6" cy="66.2" rx=".5" ry=".5" fill-opacity=".14"/><ellipse cx="74.2" cy="65.7" rx=".6" ry=".5" fill-opacity=".08"/><ellipse cx="75.9" cy="65.1" rx=".6" ry=".6" fill-opacity=".21"/><ellipse cx="77" cy="64.6" rx=".5" ry=".5" fill-opacity=".13"/><ellipse cx="79.3" cy="66.1" rx=".8" ry=".8" fill-opacity=".28"/><ellipse cx="78.4" cy="65.3" rx=".5" ry=".5" fill-opacity=".11"/><ellipse cx="80.1" cy="65.4" rx=".5" ry=".5" fill-opacity=".08"/><ellipse cx="78.7" cy="65.1" rx=".6" ry=".5" fill-opacity=".1"/><ellipse cx="83.7" cy="64.6" rx=".8" ry=".8" fill-opacity=".28"/><ellipse cx="54.3" cy="69.6" rx=".6" ry=".6" fill-opacity=".2"/><ellipse cx="53.1" cy="69.6" rx=".5" ry=".5" fill-opacity=".06"/><ellipse cx="52.9" cy="69.9" rx=".6" ry=".5" fill-opacity=".08"/><ellipse cx="59.2" cy="68.6" rx=".6" ry=".6" fill-opacity=".2"/><ellipse cx="58" cy="69.1" rx=".5" ry=".5" fill-opacity=".07"/><ellipse cx="62.1" cy="71.1" rx=".6" ry=".6" fill-opacity=".17"/><ellipse cx="60.9" cy="71.6" rx=".6" ry=".5" fill-opacity=".12"/><ellipse cx="62.1" cy="72" rx=".5" ry=".5" fill-opacity=".08"/><ellipse cx="66" cy="72.6" rx="1.3" ry=".8" fill-opacity=".41"/><ellipse cx="66.5" cy="73.7" rx=".5" ry=".5" fill-opacity=".13"/><ellipse cx="66.7" cy="73.2" rx=".5" ry=".5" fill-opacity=".08"/><ellipse cx="69" cy="70.1" rx="1.1" ry="1" fill-opacity=".48"/><ellipse cx="68.5" cy="71.3" rx=".5" ry=".5" fill-opacity=".2"/><ellipse cx="67.6" cy="69.7" rx=".6" ry=".5" fill-opacity=".13"/><ellipse cx="69.7" cy="70.7" rx=".5" ry=".5" fill-opacity=".17"/><ellipse cx="60.7" cy="73.1" rx="1.1" ry=".8" fill-opacity=".39" transform="rotate(10 60.7 73.1)"/><ellipse cx="61.6" cy="72.2" rx=".5" ry=".5" fill-opacity=".13"/><ellipse cx="57.7" cy="74.1" rx=".8" ry=".8" fill-opacity=".27"/><ellipse cx="56.8" cy="73.6" rx=".6" ry=".5" fill-opacity=".09"/><ellipse cx="74.9" cy="71.1" rx=".8" ry=".8" fill-opacity=".2"/><ellipse cx="75.9" cy="71.7" rx=".6" ry=".5" fill-opacity=".08"/><ellipse cx="75" cy="70.1" rx=".5" ry=".5" fill-opacity=".17"/><ellipse cx="75.4" cy="72.8" rx=".8" ry=".8" fill-opacity=".26"/><ellipse cx="75.7" cy="73.5" rx=".5" ry=".5" fill-opacity=".11"/><ellipse cx="81.3" cy="69.1" rx="1.3" ry="1.3" fill-opacity=".31"/><ellipse cx="80.8" cy="68.6" rx=".6" ry=".5" fill-opacity=".17"/><ellipse cx="79.6" cy="69.1" rx=".5" ry=".5" fill-opacity=".19"/><ellipse cx="80.5" cy="69.7" rx=".6" ry=".5" fill-opacity=".17"/><ellipse cx="81.8" cy="73.1" rx="1.1" ry="1.1" fill-opacity=".4"/><ellipse cx="80.9" cy="73.4" rx=".6" ry=".5" fill-opacity=".25"/><ellipse cx="73.9" cy="78" rx=".8" ry=".8" fill-opacity=".29"/><ellipse cx="73.5" cy="77.3" rx=".7" ry=".5" fill-opacity=".08" transform="rotate(5 73.5 77.3)"/><ellipse cx="74.8" cy="78.1" rx=".5" ry=".5" fill-opacity=".08"/><ellipse cx="72.4" cy="80" rx=".6" ry=".6" fill-opacity=".23"/><ellipse cx="71.2" cy="80.7" rx=".5" ry=".5" fill-opacity=".1"/><ellipse cx="71.1" cy="79.5" rx=".5" ry=".5" fill-opacity=".07"/><ellipse cx="81.8" cy="82" rx=".9" ry=".9" fill-opacity=".32"/><ellipse cx="82.2" cy="81" rx=".6" ry=".5" fill-opacity=".14"/><ellipse cx="82.8" cy="82.3" rx=".6" ry=".5" fill-opacity=".1"/><ellipse cx="78.3" cy="84" rx=".9" ry=".9" fill-opacity=".33"/><ellipse cx="78.6" cy="82.9" rx=".5" ry=".5" fill-opacity=".08"/><ellipse cx="77.6" cy="83.1" rx=".5" ry=".5" fill-opacity=".11"/><ellipse cx="78.3" cy="85.5" rx=".9" ry=".9" fill-opacity=".27"/><ellipse cx="76.8" cy="85.6" rx=".5" ry=".5" fill-opacity=".13"/><ellipse cx="55.7" cy="81.5" rx=".5" ry=".5" fill-opacity=".1"/><ellipse cx="55.7" cy="86" rx=".5" ry=".5" fill-opacity=".1"/><ellipse cx="74.4" cy="88" rx=".8" ry=".8" fill-opacity=".18"/><ellipse cx="74.6" cy="88.6" rx=".5" ry=".5" fill-opacity=".12"/><ellipse cx="73.9" cy="87.3" rx=".6" ry=".5" fill-opacity=".11"/><ellipse cx="73.3" cy="87.9" rx=".5" ry=".5" fill-opacity=".13"/><ellipse cx="77.3" cy="89" rx="1.1" ry="1" fill-opacity=".43"/><ellipse cx="78" cy="89.7" rx=".6" ry=".5" fill-opacity=".15"/><ellipse cx="77.3" cy="87.9" rx=".6" ry=".5" fill-opacity=".08"/><ellipse cx="79.3" cy="88" rx=".8" ry=".8" fill-opacity=".3"/><ellipse cx="78.6" cy="87.4" rx=".5" ry=".5" fill-opacity=".14"/><ellipse cx="53.8" cy="92" rx="1.3" ry=".8" fill-opacity=".38"/><ellipse cx="54.9" cy="91.1" rx=".6" ry=".5" fill-opacity=".18"/><ellipse cx="57.2" cy="92.5" rx=".9" ry=".8" fill-opacity=".3"/><ellipse cx="57.4" cy="93.2" rx=".6" ry=".5" fill-opacity=".12"/><ellipse cx="57.4" cy="91.5" rx=".5" ry=".5" fill-opacity=".14"/><ellipse cx="60.7" cy="90" rx=".8" ry=".8" fill-opacity=".18"/><ellipse cx="60.3" cy="90.9" rx=".6" ry=".5" fill-opacity=".08"/><ellipse cx="60.5" cy="89.3" rx=".5" ry=".5" fill-opacity=".13"/><ellipse cx="61.6" cy="89.9" rx=".6" ry=".5" fill-opacity=".09"/><ellipse cx="57.2" cy="89" rx=".8" ry=".8" fill-opacity=".28"/><ellipse cx="66" cy="92" rx=".9" ry=".8" fill-opacity=".21"/><ellipse cx="67.1" cy="92" rx=".5" ry=".5" fill-opacity=".08"/><ellipse cx="69" cy="92.5" rx=".8" ry=".8" fill-opacity=".17"/><ellipse cx="69.6" cy="93.4" rx=".5" ry=".5" fill-opacity=".15"/><ellipse cx="83.7" cy="93.5" rx=".8" ry=".8" fill-opacity=".29"/><ellipse cx="83" cy="93" rx=".5" ry=".5" fill-opacity=".12"/><ellipse cx="109.2" cy="63.1" rx="1.6" ry=".9" fill-opacity=".48" transform="rotate(-30 109.2 63.1)"/><ellipse cx="108" cy="63.8" rx=".6" ry=".5" fill-opacity=".27"/><ellipse cx="109.3" cy="63.9" rx=".5" ry=".5" fill-opacity=".23"/><ellipse cx="110" cy="63.1" rx=".7" ry=".5" fill-opacity=".27" transform="rotate(5 110 63.1)"/><ellipse cx="117.1" cy="67.6" rx="1.3" ry="1.3" fill-opacity=".51"/><ellipse cx="117.6" cy="68.6" rx=".7" ry=".5" fill-opacity=".29"/><ellipse cx="108.2" cy="68.1" rx=".8" ry=".8" fill-opacity=".25"/><ellipse cx="106.7" cy="67.6" rx=".6" ry=".5" fill-opacity=".19"/><ellipse cx="107.7" cy="67.7" rx=".6" ry=".5" fill-opacity=".17"/><ellipse cx="108.1" cy="67.5" rx=".6" ry=".5" fill-opacity=".2"/><ellipse cx="93" cy="71.1" rx="1.4" ry="1.3" fill-opacity=".59"/><ellipse cx="92.1" cy="70.7" rx=".6" ry=".5" fill-opacity=".17"/><ellipse cx="96" cy="74.1" rx="1.4" ry="1.3" fill-opacity=".49"/><ellipse cx="94.7" cy="73.6" rx=".7" ry=".5" fill-opacity=".18" transform="rotate(20 94.7 73.6)"/><ellipse cx="85.7" cy="74.1" rx=".9" ry=".9" fill-opacity=".26"/><ellipse cx="84.9" cy="73.2" rx=".6" ry=".5" fill-opacity=".13"/><ellipse cx="84.8" cy="74.8" rx=".6" ry=".5" fill-opacity=".17"/><ellipse cx="85.7" cy="64.6" rx=".8" ry=".8" fill-opacity=".27"/><ellipse cx="85.3" cy="65.8" rx=".6" ry=".5" fill-opacity=".12"/><ellipse cx="85.3" cy="63.8" rx=".6" ry=".5" fill-opacity=".13"/><ellipse cx="89.6" cy="69.1" rx=".8" ry=".8" fill-opacity=".32"/><ellipse cx="88.3" cy="69.2" rx=".5" ry=".5" fill-opacity=".09"/><ellipse cx="90.1" cy="77.5" rx=".9" ry=".9" fill-opacity=".35"/><ellipse cx="90.5" cy="78.1" rx=".6" ry=".5" fill-opacity=".15"/><ellipse cx="89.2" cy="76.7" rx=".6" ry=".5" fill-opacity=".21"/><ellipse cx="92.5" cy="79" rx=".9" ry=".9" fill-opacity=".36"/><ellipse cx="92.1" cy="78.2" rx=".5" ry=".5" fill-opacity=".12"/><ellipse cx="93" cy="80.1" rx=".7" ry=".5" fill-opacity=".22" transform="rotate(10 93 80.1)"/><ellipse cx="93.3" cy="78.3" rx=".6" ry=".5" fill-opacity=".15"/><ellipse cx="95" cy="83.5" rx="1.3" ry="1.1" fill-opacity=".4"/><ellipse cx="96.2" cy="83.3" rx=".5" ry=".5" fill-opacity=".12"/><ellipse cx="96.3" cy="82.8" rx=".5" ry=".5" fill-opacity=".24"/><ellipse cx="86.2" cy="80.5" rx=".8" ry=".8" fill-opacity=".22"/><ellipse cx="86.8" cy="81.5" rx=".6" ry=".5" fill-opacity=".1"/><ellipse cx="87.7" cy="80.2" rx=".5" ry=".5" fill-opacity=".15"/><ellipse cx="86.7" cy="81.3" rx=".6" ry=".5" fill-opacity=".08"/><ellipse cx="99.9" cy="78" rx=".9" ry=".9" fill-opacity=".29"/><ellipse cx="100.9" cy="77.7" rx=".6" ry=".5" fill-opacity=".12"/><ellipse cx="103.8" cy="75.6" rx=".9" ry=".9" fill-opacity=".38"/><ellipse cx="103.4" cy="74.9" rx=".5" ry=".5" fill-opacity=".1"/><ellipse cx="105.8" cy="75.6" rx=".8" ry=".8" fill-opacity=".28"/><ellipse cx="107.3" cy="75.3" rx=".5" ry=".5" fill-opacity=".13"/><ellipse cx="105.3" cy="85" rx="1.6" ry="1.4" fill-opacity=".41" transform="rotate(-30 105.3 85)"/><ellipse cx="106" cy="84.7" rx=".6" ry=".5" fill-opacity=".25"/><ellipse cx="106.1" cy="85.8" rx=".5" ry=".5" fill-opacity=".23"/><ellipse cx="104.3" cy="85.5" rx=".5" ry=".5" fill-opacity=".16"/><ellipse cx="102.4" cy="90.5" rx="1.4" ry="1.3" fill-opacity=".39"/><ellipse cx="101.9" cy="90" rx=".6" ry=".5" fill-opacity=".21"/><ellipse cx="113.2" cy="74.6" rx=".9" ry=".9" fill-opacity=".36"/><ellipse cx="112" cy="74.1" rx=".5" ry=".5" fill-opacity=".22"/><ellipse cx="111.7" cy="75.1" rx=".6" ry=".5" fill-opacity=".22"/><ellipse cx="117.1" cy="75.6" rx=".9" ry=".9" fill-opacity=".33"/><ellipse cx="117.1" cy="74.7" rx=".5" ry=".5" fill-opacity=".16"/><ellipse cx="116.9" cy="76.7" rx=".6" ry=".5" fill-opacity=".19"/><ellipse cx="116.1" cy="81" rx="1.3" ry="1.3" fill-opacity=".54"/><ellipse cx="115.6" cy="81.7" rx=".5" ry=".5" fill-opacity=".19"/><ellipse cx="114.5" cy="80.7" rx=".5" ry=".5" fill-opacity=".21"/><ellipse cx="118.1" cy="83" rx=".8" ry=".8" fill-opacity=".38"/><ellipse cx="117.4" cy="83.4" rx=".5" ry=".5" fill-opacity=".13"/><ellipse cx="116.8" cy="82.1" rx=".6" ry=".5" fill-opacity=".14"/><ellipse cx="89.6" cy="86" rx=".9" ry=".9" fill-opacity=".27"/><ellipse cx="88.5" cy="85.4" rx=".6" ry=".5" fill-opacity=".17"/><ellipse cx="89.4" cy="86.7" rx=".5" ry=".5" fill-opacity=".14"/><ellipse cx="93" cy="90" rx=".9" ry=".9" fill-opacity=".41"/><ellipse cx="93.1" cy="88.7" rx=".6" ry=".5" fill-opacity=".16"/><ellipse cx="94.6" cy="90.5" rx=".6" ry=".5" fill-opacity=".08"/><ellipse cx="93.6" cy="89.6" rx=".5" ry=".5" fill-opacity=".17"/><ellipse cx="92.1" cy="93.5" rx=".9" ry=".9" fill-opacity=".41"/><ellipse cx="91.7" cy="92.2" rx=".5" ry=".5" fill-opacity=".12"/><ellipse cx="93.4" cy="93.9" rx=".5" ry=".5" fill-opacity=".12"/><ellipse cx="111.7" cy="89.5" rx=".8" ry=".8" fill-opacity=".33"/><ellipse cx="116.6" cy="89" rx=".9" ry=".9" fill-opacity=".32"/><ellipse cx="117.6" cy="88.9" rx=".6" ry=".5" fill-opacity=".2"/><ellipse cx="116.1" cy="95" rx=".8" ry=".8" fill-opacity=".29"/><ellipse cx="114.5" cy="95.2" rx=".5" ry=".5" fill-opacity=".19"/><ellipse cx="37.1" cy="68.1" rx=".7" ry=".5" fill-opacity=".09" transform="rotate(-20 37.1 68.1)"/><ellipse cx="45.1" cy="72.6" rx=".8" ry=".6" fill-opacity=".09" transform="rotate(-5 45.1 72.6)"/><ellipse cx="30.5" cy="63.4" rx=".5" ry=".5" fill-opacity=".07"/><ellipse cx="22.9" cy="59.1" rx=".7" ry=".5" fill-opacity=".09" transform="rotate(-20 22.9 59.1)"/><ellipse cx="39.9" cy="69.9" rx=".8" ry=".5" fill-opacity=".2" transform="rotate(20 39.9 69.9)"/><ellipse cx="26.2" cy="63" rx=".8" ry=".5" fill-opacity=".08" transform="rotate(30 26.2 63)"/><ellipse cx="34.1" cy="66.1" rx=".5" ry=".5" fill-opacity=".11"/><ellipse cx="43.9" cy="73.8" rx=".6" ry=".5" fill-opacity=".15"/><ellipse cx="44.4" cy="72.6" rx=".5" ry=".5" fill-opacity=".12"/><ellipse cx="33.2" cy="66.3" rx=".6" ry=".5" fill-opacity=".08"/><ellipse cx="26.4" cy="63.2" rx=".6" ry=".5" fill-opacity=".16"/><ellipse cx="41.4" cy="72.5" rx=".5" ry=".5" fill-opacity=".15"/><ellipse cx="42.9" cy="71.6" rx=".6" ry=".5" fill-opacity=".09"/><ellipse cx="29.9" cy="60.8" rx=".6" ry=".5" fill-opacity=".09"/><ellipse cx="35.7" cy="67.9" rx=".6" ry=".5" fill-opacity=".09"/><ellipse cx="37.4" cy="69.7" rx=".6" ry=".5" fill-opacity=".15"/><ellipse cx="90.6" cy="63.3" rx=".6" ry=".5" fill-opacity=".28"/><ellipse cx="90.9" cy="64.3" rx=".6" ry=".5" fill-opacity=".22"/><ellipse cx="74.1" cy="65.5" rx=".6" ry=".5" fill-opacity=".2"/><ellipse cx="48.3" cy="68.3" rx=".8" ry=".5" fill-opacity=".11" transform="rotate(20 48.3 68.3)"/><ellipse cx="106" cy="59.5" rx=".7" ry=".5" fill-opacity=".18"/><ellipse cx="48.2" cy="65.9" rx=".7" ry=".5" fill-opacity=".09" transform="rotate(30 48.2 65.9)"/><ellipse cx="61.6" cy="66.4" rx=".7" ry=".5" fill-opacity=".16" transform="rotate(10 61.6 66.4)"/><ellipse cx="91.4" cy="63.1" rx=".7" ry=".5" fill-opacity=".2"/><ellipse cx="60.5" cy="67.3" rx=".5" ry=".5" fill-opacity=".28"/><ellipse cx="68.3" cy="65.5" rx=".8" ry=".5" fill-opacity=".17" transform="rotate(-10 68.3 65.5)"/><ellipse cx="53.4" cy="67.1" rx=".5" ry=".5" fill-opacity=".09"/><ellipse cx="88.3" cy="62.5" rx=".6" ry=".5" fill-opacity=".15"/><ellipse cx="98.4" cy="62.9" rx=".8" ry=".6" fill-opacity=".26" transform="rotate(-30 98.4 62.9)"/><ellipse cx="60.1" cy="67.5" rx=".8" ry=".5" fill-opacity=".13" transform="rotate(-5 60.1 67.5)"/><ellipse cx="58.3" cy="65.8" rx=".7" ry=".5" fill-opacity=".09" transform="rotate(-30 58.3 65.8)"/><ellipse cx="62.3" cy="66.6" rx=".6" ry=".5" fill-opacity=".13"/><ellipse cx="103.5" cy="63.5" rx=".6" ry=".5" fill-opacity=".26"/><ellipse cx="103" cy="61.5" rx=".6" ry=".5" fill-opacity=".11"/><ellipse cx="59.7" cy="64.6" rx=".8" ry=".6" fill-opacity=".22" transform="rotate(20 59.7 64.6)"/><ellipse cx="65.7" cy="65.4" rx=".9" ry=".5" fill-opacity=".27"/><ellipse cx="100.3" cy="62.8" rx=".7" ry=".5" fill-opacity=".33" transform="rotate(-10 100.3 62.8)"/><ellipse cx="105.1" cy="63.3" rx=".8" ry=".6" fill-opacity=".24" transform="rotate(-30 105.1 63.3)"/><ellipse cx="59.1" cy="65.2" rx=".8" ry=".5" fill-opacity=".07" transform="rotate(-10 59.1 65.2)"/><ellipse cx="65.7" cy="64.9" rx=".6" ry=".5" fill-opacity=".19"/><ellipse cx="54" cy="68.3" rx=".5" ry=".5" fill-opacity=".09"/><ellipse cx="104.2" cy="60.9" rx=".7" ry=".5" fill-opacity=".16" transform="rotate(20 104.2 60.9)"/><ellipse cx="47.6" cy="66.1" rx=".8" ry=".6" fill-opacity=".05" transform="rotate(5 47.6 66.1)"/><ellipse cx="91.2" cy="65.1" rx=".8" ry=".5" fill-opacity=".31" transform="rotate(10 91.2 65.1)"/><ellipse cx="80.6" cy="65.7" rx=".7" ry=".5" fill-opacity=".17"/><ellipse cx="102.4" cy="62.8" rx=".7" ry=".5" fill-opacity=".15" transform="rotate(20 102.4 62.8)"/><ellipse cx="103.3" cy="62.6" rx=".6" ry=".5" fill-opacity=".09"/><ellipse cx="100.3" cy="63.2" rx=".7" ry=".5" fill-opacity=".28" transform="rotate(-30 100.3 63.2)"/><ellipse cx="69.6" cy="66.4" rx=".7" ry=".5" fill-opacity=".28"/><ellipse cx="54" cy="69.6" rx=".8" ry=".5" fill-opacity=".13" transform="rotate(10 54 69.6)"/><ellipse cx="93.1" cy="63.5" rx=".6" ry=".5" fill-opacity=".2"/><ellipse cx="55.5" cy="70" rx=".8" ry=".5" fill-opacity=".09" transform="rotate(-20 55.5 70)"/><ellipse cx="121.2" cy="76.3" rx=".8" ry=".5" fill-opacity=".16" transform="rotate(5 121.2 76.3)"/><ellipse cx="33.7" cy="74.7" rx=".6" ry=".5" fill-opacity=".14"/><ellipse cx="47.1" cy="70.6" rx=".8" ry=".5" fill-opacity=".22"/><ellipse cx="70.7" cy="71.7" rx=".7" ry=".5" fill-opacity=".17" transform="rotate(-10 70.7 71.7)"/><ellipse cx="69" cy="70.5" rx=".7" ry=".5" fill-opacity=".16" transform="rotate(-30 69 70.5)"/><ellipse cx="104.3" cy="70.6" rx=".6" ry=".5" fill-opacity=".2"/><ellipse cx="76" cy="71.7" rx=".5" ry=".5" fill-opacity=".22"/><ellipse cx="53.4" cy="72.9" rx=".7" ry=".5" fill-opacity=".08" transform="rotate(-5 53.4 72.9)"/><ellipse cx="110.2" cy="73" rx=".6" ry=".5" fill-opacity=".23"/><ellipse cx="41.6" cy="75.4" rx=".6" ry=".5" fill-opacity=".07"/><ellipse cx="64" cy="70.5" rx=".5" ry=".5" fill-opacity=".09"/><ellipse cx="35.5" cy="74.8" rx=".5" ry=".5" fill-opacity=".15"/><ellipse cx="103.3" cy="72.3" rx=".5" ry=".5" fill-opacity=".18"/><ellipse cx="110" cy="71.7" rx=".5" ry=".5" fill-opacity=".25"/><ellipse cx="78.8" cy="71.1" rx=".6" ry=".5" fill-opacity=".16"/><ellipse cx="89.1" cy="70.4" rx=".9" ry=".6" fill-opacity=".15"/><ellipse cx="45.9" cy="70" rx=".5" ry=".5" fill-opacity=".2"/><ellipse cx="97" cy="73.9" rx=".6" ry=".5" fill-opacity=".32"/><ellipse cx="31.8" cy="74.9" rx=".6" ry=".5" fill-opacity=".09"/><ellipse cx="99.2" cy="71.9" rx=".5" ry=".5" fill-opacity=".23"/><ellipse cx="110.9" cy="74.3" rx=".8" ry=".5" fill-opacity=".25" transform="rotate(10 110.9 74.3)"/><ellipse cx="68.5" cy="70.3" rx=".5" ry=".5" fill-opacity=".08"/><ellipse cx="93.9" cy="73.1" rx=".7" ry=".5" fill-opacity=".3"/><ellipse cx="64.2" cy="72.9" rx=".5" ry=".5" fill-opacity=".25"/><ellipse cx="120.4" cy="75.7" rx=".7" ry=".5" fill-opacity=".34"/><ellipse cx="30.1" cy="75.1" rx=".7" ry=".5" fill-opacity=".07" transform="rotate(10 30.1 75.1)"/><ellipse cx="87.4" cy="70" rx=".8" ry=".5" fill-opacity=".19"/><ellipse cx="80.3" cy="68.1" rx=".8" ry=".5" fill-opacity=".19" transform="rotate(-30 80.3 68.1)"/><ellipse cx="57.9" cy="71.9" rx=".8" ry=".5" fill-opacity=".12"/><ellipse cx="49.3" cy="73.9" rx=".7" ry=".5" fill-opacity=".06" transform="rotate(20 49.3 73.9)"/><ellipse cx="62.3" cy="70.9" rx=".8" ry=".5" fill-opacity=".15"/><ellipse cx="46.3" cy="71.8" rx=".5" ry=".5" fill-opacity=".13"/><ellipse cx="88.6" cy="72.9" rx=".8" ry=".6" fill-opacity=".15" transform="rotate(-20 88.6 72.9)"/><ellipse cx="82.1" cy="69.8" rx=".8" ry=".5" fill-opacity=".2"/><ellipse cx="46.1" cy="72.8" rx=".6" ry=".5" fill-opacity=".06"/><ellipse cx="85.7" cy="68.7" rx=".6" ry=".5" fill-opacity=".12"/><ellipse cx="109.1" cy="73" rx=".6" ry=".5" fill-opacity=".36"/><ellipse cx="105.4" cy="72.6" rx=".8" ry=".5" fill-opacity=".22"/><ellipse cx="26.6" cy="74.7" rx=".6" ry=".5" fill-opacity=".22"/><ellipse cx="120.7" cy="79.2" rx=".7" ry=".5" fill-opacity=".18" transform="rotate(30 120.7 79.2)"/><ellipse cx="99.6" cy="82.7" rx=".7" ry=".5" fill-opacity=".17" transform="rotate(-30 99.6 82.7)"/><ellipse cx="89.2" cy="88.9" rx=".5" ry=".5" fill-opacity=".23"/><ellipse cx="44.5" cy="90.4" rx=".8" ry=".6" fill-opacity=".18" transform="rotate(-20 44.5 90.4)"/><ellipse cx="73.8" cy="91.5" rx=".7" ry=".5" fill-opacity=".15" transform="rotate(-10 73.8 91.5)"/><ellipse cx="120.5" cy="79.6" rx=".7" ry=".5" fill-opacity=".31" transform="rotate(-30 120.5 79.6)"/><ellipse cx="70.2" cy="90.6" rx=".5" ry=".5" fill-opacity=".07"/><ellipse cx="69.6" cy="90.9" rx=".8" ry=".5" fill-opacity=".15" transform="rotate(-20 69.6 90.9)"/><ellipse cx="115.2" cy="83.2" rx=".8" ry=".6" fill-opacity=".21" transform="rotate(-20 115.2 83.2)"/><ellipse cx="110.6" cy="84.7" rx=".8" ry=".5" fill-opacity=".21" transform="rotate(-20 110.6 84.7)"/><ellipse cx="64.8" cy="91.3" rx=".6" ry=".5" fill-opacity=".24"/><ellipse cx="60.2" cy="93.8" rx=".8" ry=".5" fill-opacity=".1" transform="rotate(-20 60.2 93.8)"/><ellipse cx="49.6" cy="92.4" rx=".6" ry=".5" fill-opacity=".23"/><ellipse cx="43.8" cy="91" rx=".7" ry=".5" fill-opacity=".12" transform="rotate(10 43.8 91)"/><ellipse cx="81.8" cy="90.5" rx=".5" ry=".5" fill-opacity=".17"/><ellipse cx="58.2" cy="91.3" rx=".6" ry=".5" fill-opacity=".1"/><ellipse cx="52.4" cy="92.5" rx=".5" ry=".5" fill-opacity=".18"/><ellipse cx="108.9" cy="85" rx=".7" ry=".5" fill-opacity=".28"/><ellipse cx="50.8" cy="91.3" rx=".6" ry=".5" fill-opacity=".08"/><ellipse cx="67.2" cy="92.8" rx=".6" ry=".5" fill-opacity=".23"/><ellipse cx="100.2" cy="85" rx=".8" ry=".5" fill-opacity=".27" transform="rotate(-30 100.2 85)"/><ellipse cx="121.4" cy="80.5" rx=".7" ry=".5" fill-opacity=".15" transform="rotate(30 121.4 80.5)"/><ellipse cx="67.6" cy="90.5" rx=".7" ry=".5" fill-opacity=".19" transform="rotate(-10 67.6 90.5)"/><ellipse cx="42.9" cy="92.4" rx=".7" ry=".5" fill-opacity=".24"/><ellipse cx="42.4" cy="90.9" rx=".6" ry=".5" fill-opacity=".15"/><ellipse cx="42" cy="92.1" rx=".6" ry=".5" fill-opacity=".11"/><ellipse cx="46.4" cy="92" rx=".6" ry=".5" fill-opacity=".12"/><ellipse cx="111.4" cy="83.1" rx=".8" ry=".6" fill-opacity=".24" transform="rotate(20 111.4 83.1)"/><ellipse cx="100.9" cy="85.5" rx=".8" ry=".5" fill-opacity=".11" transform="rotate(-20 100.9 85.5)"/><ellipse cx="101" cy="85.4" rx=".8" ry=".5" fill-opacity=".23" transform="rotate(20 101 85.4)"/><ellipse cx="38.8" cy="92.1" rx=".7" ry=".5" fill-opacity=".19" transform="rotate(-10 38.8 92.1)"/><ellipse cx="41.6" cy="94.3" rx=".8" ry=".5" fill-opacity=".07" transform="rotate(10 41.6 94.3)"/><ellipse cx="71" cy="90.9" rx=".7" ry=".5" fill-opacity=".09" transform="rotate(-5 71 90.9)"/><ellipse cx="49.7" cy="91.5" rx=".7" ry=".5" fill-opacity=".18" transform="rotate(10 49.7 91.5)"/><ellipse cx="35.3" cy="94.2" rx=".6" ry=".5" fill-opacity=".07"/><ellipse cx="88.6" cy="88" rx=".5" ry=".5" fill-opacity=".22"/><ellipse cx="75" cy="93" rx=".6" ry=".5" fill-opacity=".14"/><ellipse cx="39.5" cy="90.1" rx=".8" ry=".5" fill-opacity=".12"/><ellipse cx="60.1" cy="91.9" rx=".7" ry=".5" fill-opacity=".17" transform="rotate(-5 60.1 91.9)"/><ellipse cx="61.5" cy="90.9" rx=".6" ry=".5" fill-opacity=".25"/><ellipse cx="84" cy="90.7" rx=".8" ry=".5" fill-opacity=".18" transform="rotate(-30 84 90.7)"/><ellipse cx="37.1" cy="91.7" rx=".5" ry=".5" fill-opacity=".13"/><ellipse cx="79.9" cy="88.8" rx=".5" ry=".5" fill-opacity=".13"/><ellipse cx="76.2" cy="80.7" rx=".6" ry=".5" fill-opacity=".17"/><ellipse cx="80.1" cy="83.3" rx=".7" ry=".5" fill-opacity=".23" transform="rotate(-5 80.1 83.3)"/><ellipse cx="81.4" cy="92.4" rx=".8" ry=".5" fill-opacity=".16"/><ellipse cx="76.9" cy="81.2" rx=".7" ry=".5" fill-opacity=".25" transform="rotate(5 76.9 81.2)"/><ellipse cx="79.2" cy="94.4" rx=".6" ry=".5" fill-opacity=".12"/><ellipse cx="78.9" cy="80.7" rx=".6" ry=".5" fill-opacity=".11"/><ellipse cx="79.3" cy="84.9" rx=".6" ry=".5" fill-opacity=".19"/><ellipse cx="78.8" cy="78.8" rx=".6" ry=".5" fill-opacity=".15"/><ellipse cx="76.7" cy="96.1" rx=".8" ry=".5" fill-opacity=".19" transform="rotate(30 76.7 96.1)"/><ellipse cx="79.9" cy="89.4" rx=".8" ry=".6" fill-opacity=".23"/><ellipse cx="77.4" cy="89.9" rx=".6" ry=".5" fill-opacity=".18"/><ellipse cx="79.4" cy="81.1" rx=".7" ry=".5" fill-opacity=".15" transform="rotate(-30 79.4 81.1)"/><ellipse cx="78.2" cy="83.3" rx=".6" ry=".5" fill-opacity=".22"/><ellipse cx="80.4" cy="75.8" rx=".6" ry=".5" fill-opacity=".15"/><ellipse cx="78.7" cy="72.5" rx=".7" ry=".5" fill-opacity=".19" transform="rotate(-20 78.7 72.5)"/><ellipse cx="29.8" cy="92.3" rx=".6" ry=".5" fill-opacity=".14"/><ellipse cx="34.6" cy="97" rx=".7" ry=".5" fill-opacity=".07"/><ellipse cx="36.9" cy="96.9" rx=".7" ry=".5" fill-opacity=".12" transform="rotate(-10 36.9 96.9)"/><ellipse cx="23.2" cy="89.9" rx=".8" ry=".5" fill-opacity=".12" transform="rotate(-10 23.2 89.9)"/><ellipse cx="30.9" cy="93.4" rx=".8" ry=".5" fill-opacity=".1" transform="rotate(-5 30.9 93.4)"/><ellipse cx="20.6" cy="87" rx=".5" ry=".5" fill-opacity=".08"/><ellipse cx="32" cy="94.3" rx=".7" ry=".5" fill-opacity=".09" transform="rotate(-20 32 94.3)"/><ellipse cx="96.8" cy="72.8" rx=".6" ry=".5" fill-opacity=".39"/><ellipse cx="102.2" cy="67.1" rx=".7" ry=".5" fill-opacity=".27" transform="rotate(10 102.2 67.1)"/><ellipse cx="106.2" cy="86.4" rx=".6" ry=".5" fill-opacity=".18"/><ellipse cx="104.9" cy="79.2" rx=".9" ry=".6" fill-opacity=".19"/><ellipse cx="88.3" cy="78.9" rx=".6" ry=".5" fill-opacity=".15"/><ellipse cx="105" cy="81.6" rx=".9" ry=".6" fill-opacity=".37"/><ellipse cx="97.9" cy="80.8" rx=".7" ry=".5" fill-opacity=".18"/><ellipse cx="83.6" cy="82.3" rx=".6" ry=".5" fill-opacity=".19"/><ellipse cx="70.9" cy="86.4" rx=".6" ry=".5" fill-opacity=".21"/><ellipse cx="103.3" cy="79" rx=".7" ry=".5" fill-opacity=".29" transform="rotate(5 103.3 79)"/><ellipse cx="103.9" cy="85.6" rx=".6" ry=".5" fill-opacity=".32"/><ellipse cx="109" cy="77.5" rx=".7" ry=".5" fill-opacity=".45" transform="rotate(-5 109 77.5)"/><ellipse cx="98.5" cy="69.9" rx=".5" ry=".5" fill-opacity=".3"/><ellipse cx="103.7" cy="86.7" rx=".9" ry=".6" fill-opacity=".31"/><ellipse cx="93.7" cy="89.5" rx=".7" ry=".5" fill-opacity=".32" transform="rotate(5 93.7 89.5)"/><ellipse cx="117" cy="92.6" rx=".7" ry=".5" fill-opacity=".23" transform="rotate(10 117 92.6)"/><ellipse cx="103" cy="79.7" rx=".8" ry=".5" fill-opacity=".27" transform="rotate(5 103 79.7)"/><ellipse cx="97.7" cy="87.7" rx=".9" ry=".6" fill-opacity=".29" transform="rotate(10 97.7 87.7)"/><ellipse cx="90.6" cy="82" rx=".6" ry=".5" fill-opacity=".25"/><ellipse cx="82.9" cy="74.3" rx=".6" ry=".5" fill-opacity=".36"/><ellipse cx="94.8" cy="67.1" rx=".8" ry=".5" fill-opacity=".37" transform="rotate(-10 94.8 67.1)"/><ellipse cx="117.1" cy="87.5" rx=".9" ry=".6" fill-opacity=".41"/><ellipse cx="83.6" cy="80.7" rx=".8" ry=".5" fill-opacity=".12"/><ellipse cx="118" cy="84.2" rx=".6" ry=".5" fill-opacity=".18"/><ellipse cx="99.4" cy="81.8" rx=".8" ry=".5" fill-opacity=".12" transform="rotate(20 99.4 81.8)"/><ellipse cx="78.6" cy="78.1" rx=".7" ry=".5" fill-opacity=".22"/><ellipse cx="107.4" cy="81" rx=".8" ry=".5" fill-opacity=".19"/><ellipse cx="115.7" cy="89" rx=".8" ry=".5" fill-opacity=".47"/><ellipse cx="109.7" cy="92.1" rx=".8" ry=".5" fill-opacity=".23" transform="rotate(5 109.7 92.1)"/><ellipse cx="105.6" cy="68" rx=".8" ry=".5" fill-opacity=".26" transform="rotate(-20 105.6 68)"/><ellipse cx="90.3" cy="88.3" rx=".6" ry=".5" fill-opacity=".17"/><ellipse cx="95.5" cy="73.1" rx=".8" ry=".6" fill-opacity=".31" transform="rotate(-20 95.5 73.1)"/><ellipse cx="104.5" cy="91.2" rx=".7" ry=".5" fill-opacity=".17" transform="rotate(-5 104.5 91.2)"/><ellipse cx="99.1" cy="81.1" rx=".9" ry=".6" fill-opacity=".24" transform="rotate(-20 99.1 81.1)"/><ellipse cx="103.6" cy="93.2" rx=".7" ry=".5" fill-opacity=".25" transform="rotate(-10 103.6 93.2)"/><ellipse cx="113.4" cy="80.2" rx=".5" ry=".5" fill-opacity=".26"/><ellipse cx="113.1" cy="76.2" rx="1" ry=".7" fill-opacity=".37"/><ellipse cx="85.8" cy="85.5" rx=".9" ry=".6" fill-opacity=".18"/><ellipse cx="116.1" cy="80.3" rx=".7" ry=".5" fill-opacity=".36" transform="rotate(-10 116.1 80.3)"/><ellipse cx="121.4" cy="80.2" rx=".7" ry=".5" fill-opacity=".33"/><ellipse cx="90.2" cy="69.3" rx=".6" ry=".5" fill-opacity=".17"/><ellipse cx="90.3" cy="88.5" rx=".6" ry=".5" fill-opacity=".29"/><ellipse cx="96.5" cy="83.3" rx=".9" ry=".6" fill-opacity=".19" transform="rotate(-5 96.5 83.3)"/><ellipse cx="95.9" cy="86.4" rx=".9" ry=".6" fill-opacity=".28" transform="rotate(10 95.9 86.4)"/><ellipse cx="97.6" cy="75.7" rx=".6" ry=".5" fill-opacity=".33"/><ellipse cx="105.5" cy="92.7" rx=".8" ry=".6" fill-opacity=".24" transform="rotate(10 105.5 92.7)"/><ellipse cx="84.7" cy="77.9" rx=".6" ry=".5" fill-opacity=".27"/><ellipse cx="88.7" cy="68.1" rx=".9" ry=".6" fill-opacity=".24" transform="rotate(-10 88.7 68.1)"/><ellipse cx="86.8" cy="94" rx=".7" ry=".5" fill-opacity=".17" transform="rotate(-5 86.8 94)"/><ellipse cx="94.8" cy="67.4" rx="1" ry=".6" fill-opacity=".16" transform="rotate(20 94.8 67.4)"/><ellipse cx="115" cy="80.3" rx=".5" ry=".5" fill-opacity=".34"/><ellipse cx="104.4" cy="93.4" rx=".7" ry=".5" fill-opacity=".24" transform="rotate(-30 104.4 93.4)"/><ellipse cx="100.9" cy="81.1" rx=".8" ry=".6" fill-opacity=".36" transform="rotate(-20 100.9 81.1)"/><ellipse cx="94" cy="80" rx=".7" ry=".5" fill-opacity=".29" transform="rotate(5 94 80)"/><ellipse cx="64.5" cy="88.4" rx=".6" ry=".5" fill-opacity=".19"/><ellipse cx="103.6" cy="58.4" rx=".6" ry=".5" fill-opacity=".22"/><ellipse cx="102" cy="92.6" rx=".6" ry=".5" fill-opacity=".24"/><ellipse cx="107.7" cy="90.7" rx=".8" ry=".6" fill-opacity=".36" transform="rotate(20 107.7 90.7)"/><ellipse cx="111.5" cy="79.5" rx=".7" ry=".5" fill-opacity=".27" transform="rotate(-10 111.5 79.5)"/><ellipse cx="80.4" cy="93.7" rx=".8" ry=".5" fill-opacity=".23" transform="rotate(-10 80.4 93.7)"/><ellipse cx="103.7" cy="89.3" rx=".6" ry=".5" fill-opacity=".33"/><ellipse cx="105" cy="66.1" rx=".9" ry=".6" fill-opacity=".28"/><ellipse cx="87.8" cy="93.3" rx=".6" ry=".5" fill-opacity=".2"/><ellipse cx="80.3" cy="79" rx=".6" ry=".5" fill-opacity=".12"/><ellipse cx="92.8" cy="90.5" rx=".9" ry=".6" fill-opacity=".21"/><ellipse cx="96.8" cy="77" rx=".5" ry=".5" fill-opacity=".14"/><ellipse cx="95.7" cy="63.8" rx=".6" ry=".5" fill-opacity=".27"/><ellipse cx="84.3" cy="82.8" rx=".5" ry=".5" fill-opacity=".13"/><ellipse cx="111.9" cy="94.3" rx=".7" ry=".5" fill-opacity=".19" transform="rotate(-5 111.9 94.3)"/><ellipse cx="105.4" cy="87.5" rx=".9" ry=".6" fill-opacity=".21"/><ellipse cx="103.2" cy="87.3" rx=".5" ry=".5" fill-opacity=".4"/><ellipse cx="106.2" cy="95.2" rx=".8" ry=".5" fill-opacity=".19" transform="rotate(-5 106.2 95.2)"/><ellipse cx="118.8" cy="85.8" rx=".8" ry=".5" fill-opacity=".23" transform="rotate(10 118.8 85.8)"/><ellipse cx="94.3" cy="77.6" rx=".6" ry=".5" fill-opacity=".25"/><ellipse cx="92.5" cy="73.2" rx=".7" ry=".5" fill-opacity=".19"/><ellipse cx="99.2" cy="88.2" rx=".7" ry=".5" fill-opacity=".35" transform="rotate(5 99.2 88.2)"/><ellipse cx="106.3" cy="81.5" rx=".9" ry=".6" fill-opacity=".42"/><ellipse cx="101.1" cy="81.6" rx=".7" ry=".5" fill-opacity=".19" transform="rotate(5 101.1 81.6)"/><ellipse cx="118.5" cy="71.8" rx=".7" ry=".5" fill-opacity=".32" transform="rotate(-20 118.5 71.8)"/><ellipse cx="95.5" cy="74.1" rx=".9" ry=".6" fill-opacity=".31"/><ellipse cx="102.5" cy="93.2" rx=".8" ry=".5" fill-opacity=".34" transform="rotate(5 102.5 93.2)"/><ellipse cx="116.7" cy="90.6" rx=".8" ry=".5" fill-opacity=".33" transform="rotate(-10 116.7 90.6)"/><ellipse cx="98.6" cy="93.8" rx=".8" ry=".6" fill-opacity=".42"/><ellipse cx="84.5" cy="80" rx="1" ry=".6" fill-opacity=".18" transform="rotate(10 84.5 80)"/><ellipse cx="107.5" cy="85.3" rx=".6" ry=".5" fill-opacity=".32"/><ellipse cx="77.3" cy="71.3" rx=".6" ry=".5" fill-opacity=".26"/><ellipse cx="119.8" cy="84.9" rx=".7" ry=".5" fill-opacity=".18"/><ellipse cx="79.3" cy="85.3" rx=".6" ry=".5" fill-opacity=".14"/><ellipse cx="96.7" cy="73.7" rx=".9" ry=".6" fill-opacity=".21"/><ellipse cx="111.5" cy="78.7" rx=".7" ry=".5" fill-opacity=".21" transform="rotate(5 111.5 78.7)"/><ellipse cx="82.6" cy="69.2" rx=".8" ry=".5" fill-opacity=".23" transform="rotate(10 82.6 69.2)"/><ellipse cx="92.5" cy="94.2" rx="1.4" ry="1.1" fill-opacity=".11" transform="rotate(-30 92.5 94.2)"/><ellipse cx="110.3" cy="88.3" rx="1.3" ry="1.1" fill-opacity=".18"/><ellipse cx="99.2" cy="80.2" rx="1.4" ry="1.1" fill-opacity=".09"/><ellipse cx="96.7" cy="71.5" rx="1.1" ry=".9" fill-opacity=".09" transform="rotate(10 96.7 71.5)"/><ellipse cx="83.8" cy="85.3" rx="1.3" ry="1.1" fill-opacity=".1" transform="rotate(-30 83.8 85.3)"/><ellipse cx="101" cy="91.2" rx="1.3" ry="1.1" fill-opacity=".15" transform="rotate(20 101 91.2)"/><ellipse cx="93.2" cy="82" rx="1.6" ry="1.3" fill-opacity=".1" transform="rotate(-30 93.2 82)"/><ellipse cx="118.4" cy="90.8" rx="1.6" ry="1.3" fill-opacity=".12" transform="rotate(30 118.4 90.8)"/><ellipse cx="111.4" cy="75.1" rx="1.7" ry="1.4" fill-opacity=".16" transform="rotate(-10 111.4 75.1)"/><ellipse cx="119.1" cy="82.8" rx="1.2" ry=".9" fill-opacity=".12" transform="rotate(5 119.1 82.8)"/><ellipse cx="104" cy="87.8" rx="1.1" ry=".9" fill-opacity=".1"/><ellipse cx="111.8" cy="71.9" rx="1.4" ry="1.2" fill-opacity=".17" transform="rotate(10 111.8 71.9)"/><ellipse cx="92.2" cy="75.6" rx="1.3" ry="1.1" fill-opacity=".14"/><ellipse cx="109.9" cy="90" rx="1.5" ry="1.3" fill-opacity=".11" transform="rotate(-20 109.9 90)"/><ellipse cx="96.6" cy="92.9" rx="1.1" ry=".9" fill-opacity=".13" transform="rotate(-10 96.6 92.9)"/><ellipse cx="104.2" cy="93.5" rx="1.1" ry=".9" fill-opacity=".14" transform="rotate(30 104.2 93.5)"/><ellipse cx="99.5" cy="93" rx="1.3" ry="1.1" fill-opacity=".13"/><ellipse cx="88" cy="93.5" rx="1.6" ry="1.3" fill-opacity=".13" transform="rotate(5 88 93.5)"/><ellipse cx="101.6" cy="69.2" rx="1.4" ry="1.2" fill-opacity=".13" transform="rotate(5 101.6 69.2)"/><ellipse cx="112.5" cy="88.8" rx="1.1" ry=".9" fill-opacity=".11" transform="rotate(-10 112.5 88.8)"/><ellipse cx="109.6" cy="76" rx="1.5" ry="1.3" fill-opacity=".11"/><ellipse cx="104.1" cy="86.2" rx="1.1" ry=".9" fill-opacity=".13" transform="rotate(20 104.1 86.2)"/><ellipse cx="108.5" cy="63.3" rx="1.6" ry="1.3" fill-opacity=".11"/><ellipse cx="189.3" cy="48.5" rx=".5" ry=".5" fill-opacity=".04"/><ellipse cx="197.4" cy="51.5" rx=".5" ry=".5" fill-opacity=".04"/><ellipse cx="213.5" cy="31.5" rx=".5" ry=".5" fill-opacity=".04"/><ellipse cx="183" cy="34.3" rx=".5" ry=".5" fill-opacity=".04"/><ellipse cx="206.8" cy="50.5" rx=".5" ry=".5" fill-opacity=".04"/><ellipse cx="214.4" cy="27.2" rx=".5" ry=".5" fill-opacity=".04"/><ellipse cx="183.6" cy="25.5" rx=".5" ry=".5" fill-opacity=".04"/><ellipse cx="183.8" cy="41.1" rx=".5" ry=".5" fill-opacity=".04"/><ellipse cx="209.5" cy="46.4" rx=".5" ry=".5" fill-opacity=".04"/><ellipse cx="201.9" cy="52.1" rx=".5" ry=".5" fill-opacity=".04"/><ellipse cx="197.2" cy="53.3" rx=".5" ry=".5" fill-opacity=".04"/><ellipse cx="187.5" cy="49.6" rx=".5" ry=".5" fill-opacity=".04"/><ellipse cx="184.4" cy="22.3" rx=".5" ry=".5" fill-opacity=".04"/><ellipse cx="187.9" cy="18.7" rx=".5" ry=".5" fill-opacity=".04"/><ellipse cx="189.1" cy="47.4" rx=".5" ry=".5" fill-opacity=".04"/><ellipse cx="206.7" cy="49.8" rx=".5" ry=".5" fill-opacity=".04"/><ellipse cx="207.9" cy="15.9" rx=".5" ry=".5" fill-opacity=".04"/><ellipse cx="213.6" cy="38.7" rx=".5" ry=".5" fill-opacity=".04"/><ellipse cx="214.7" cy="22.1" rx=".5" ry=".5" fill-opacity=".04"/><ellipse cx="181.3" cy="24.1" rx=".5" ry=".5" fill-opacity=".04"/><ellipse cx="210.1" cy="17.2" rx=".5" ry=".5" fill-opacity=".04"/><ellipse cx="201.9" cy="52" rx=".5" ry=".5" fill-opacity=".04"/><ellipse cx="185.2" cy="44" rx=".5" ry=".5" fill-opacity=".04"/><ellipse cx="189.8" cy="48.9" rx=".5" ry=".5" fill-opacity=".04"/><ellipse cx="182.7" cy="42" rx=".5" ry=".5" fill-opacity=".04"/><ellipse cx="214.4" cy="35.8" rx=".5" ry=".5" fill-opacity=".04"/><ellipse cx="213" cy="29.1" rx=".5" ry=".5" fill-opacity=".04"/><ellipse cx="211.7" cy="19.2" rx=".5" ry=".5" fill-opacity=".04"/><ellipse cx="213.3" cy="31.8" rx=".5" ry=".5" fill-opacity=".04"/><ellipse cx="197.4" cy="11.2" rx=".5" ry=".5" fill-opacity=".04"/><ellipse cx="194.7" cy="12.8" rx=".5" ry=".5" fill-opacity=".04"/><ellipse cx="181.4" cy="28.1" rx=".5" ry=".5" fill-opacity=".04"/><ellipse cx="189.4" cy="49" rx=".5" ry=".5" fill-opacity=".04"/><ellipse cx="214.6" cy="35.7" rx=".5" ry=".5" fill-opacity=".04"/><ellipse cx="202.6" cy="11.9" rx=".5" ry=".5" fill-opacity=".04"/><ellipse cx="213.7" cy="24.7" rx=".5" ry=".5" fill-opacity=".04"/><ellipse cx="183.5" cy="46" rx=".5" ry=".5" fill-opacity=".04"/><ellipse cx="182.4" cy="23.8" rx=".5" ry=".5" fill-opacity=".04"/><ellipse cx="214.7" cy="39" rx=".5" ry=".5" fill-opacity=".04"/><ellipse cx="183.4" cy="43.6" rx=".5" ry=".5" fill-opacity=".04"/><ellipse cx="213.1" cy="39.8" rx=".5" ry=".5" fill-opacity=".04"/><ellipse cx="215.8" cy="22.6" rx=".5" ry=".5" fill-opacity=".04"/><ellipse cx="190.1" cy="14.1" rx=".5" ry=".5" fill-opacity=".04"/><ellipse cx="216.6" cy="28.5" rx=".5" ry=".5" fill-opacity=".04"/><ellipse cx="185.9" cy="48" rx=".5" ry=".5" fill-opacity=".04"/><ellipse cx="188.8" cy="50.1" rx=".5" ry=".5" fill-opacity=".04"/><ellipse cx="184.8" cy="20.5" rx=".5" ry=".5" fill-opacity=".04"/><ellipse cx="185.2" cy="17.2" rx=".5" ry=".5" fill-opacity=".04"/><ellipse cx="200.4" cy="53.5" rx=".5" ry=".5" fill-opacity=".04"/><ellipse cx="182.3" cy="41.2" rx=".5" ry=".5" fill-opacity=".04"/><ellipse cx="217.4" cy="28.9" rx=".5" ry=".5" fill-opacity=".04"/><ellipse cx="195.2" cy="12.6" rx=".5" ry=".5" fill-opacity=".04"/><ellipse cx="215.4" cy="31.1" rx=".5" ry=".5" fill-opacity=".04"/><ellipse cx="197.2" cy="11.5" rx=".5" ry=".5" fill-opacity=".04"/><ellipse cx="181.6" cy="34.5" rx=".5" ry=".5" fill-opacity=".04"/><ellipse cx="186.7" cy="16.9" rx=".5" ry=".5" fill-opacity=".04"/><ellipse cx="182.1" cy="39.9" rx=".5" ry=".5" fill-opacity=".04"/><ellipse cx="212.5" cy="19.3" rx=".5" ry=".5" fill-opacity=".04"/><ellipse cx="181.8" cy="40.2" rx=".5" ry=".5" fill-opacity=".04"/><ellipse cx="190.5" cy="14.1" rx=".5" ry=".5" fill-opacity=".04"/><ellipse cx="214.4" cy="19" rx="1.3" ry="2.2" fill-opacity=".2" transform="rotate(30 214.4 19)"/><ellipse cx="168.5" cy="79" rx=".5" ry=".5" fill-opacity=".09"/><ellipse cx="60.7" cy="33.9" rx=".5" ry=".5" fill-opacity=".15"/><ellipse cx="81" cy="15.3" rx=".5" ry=".5" fill-opacity=".14"/><ellipse cx="166.8" cy="64.2" rx=".5" ry=".5" fill-opacity=".09"/><ellipse cx="49.2" cy="117.5" rx=".5" ry=".5" fill-opacity=".13"/><ellipse cx="4.9" cy="24.9" rx=".5" ry=".5" fill-opacity=".05"/><ellipse cx="221.4" cy="52.6" rx=".5" ry=".5" fill-opacity=".04"/><ellipse cx="57" cy="99.3" rx=".5" ry=".5" fill-opacity=".14"/><ellipse cx="168.7" cy="98" rx=".5" ry=".5" fill-opacity=".08"/><ellipse cx="74.5" cy="25.5" rx=".5" ry=".5" fill-opacity=".13"/><ellipse cx="91.6" cy="86.4" rx=".5" ry=".5" fill-opacity=".08"/><ellipse cx="2.4" cy="75.8" rx=".5" ry=".5" fill-opacity=".05"/><ellipse cx="119.2" cy="131" rx=".5" ry=".5" fill-opacity=".13"/><ellipse cx="17.8" cy="14.6" rx=".5" ry=".5" fill-opacity=".1"/><ellipse cx="85.8" cy="120.9" rx=".5" ry=".5" fill-opacity=".09"/><ellipse cx="20.8" cy="136.1" rx=".5" ry=".5" fill-opacity=".11"/><ellipse cx="155.7" cy="9.2" rx=".5" ry=".5" fill-opacity=".05"/><ellipse cx="41.1" cy="65.6" rx=".5" ry=".5" fill-opacity=".12"/><ellipse cx="167.8" cy="75.9" rx=".5" ry=".5" fill-opacity=".12"/><ellipse cx="144.1" cy="64.5" rx=".5" ry=".5" fill-opacity=".11"/><ellipse cx="210.4" cy="46.5" rx=".5" ry=".5" fill-opacity=".11"/><ellipse cx="63.5" cy="32.4" rx=".5" ry=".5" fill-opacity=".15"/><ellipse cx="204.9" cy="118.6" rx=".5" ry=".5" fill-opacity=".08"/><ellipse cx="107.7" cy="115.1" rx=".5" ry=".5" fill-opacity=".1"/><ellipse cx="120.1" cy="124" rx=".5" ry=".5" fill-opacity=".1"/><ellipse cx="112.3" cy="4.5" rx=".5" ry=".5" fill-opacity=".07"/><ellipse cx="107" cy="126.7" rx=".5" ry=".5" fill-opacity=".05"/><ellipse cx="96.8" cy="82.7" rx=".5" ry=".5" fill-opacity=".13"/><ellipse cx="24.8" cy="12.4" rx=".5" ry=".5" fill-opacity=".07"/><ellipse cx="101.7" cy="9.2" rx=".5" ry=".5" fill-opacity=".06"/><ellipse cx="53.6" cy="8.1" rx=".5" ry=".5" fill-opacity=".13"/><ellipse cx="58.6" cy="77.6" rx=".5" ry=".5" fill-opacity=".07"/><ellipse cx="115.6" cy="16.6" rx=".5" ry=".5" fill-opacity=".04"/><ellipse cx="106.9" cy="11.5" rx=".5" ry=".5" fill-opacity=".07"/><ellipse cx="162.3" cy="44.1" rx=".5" ry=".5" fill-opacity=".14"/><ellipse cx="146.1" cy="97.9" rx=".5" ry=".5" fill-opacity=".11"/><ellipse cx="190" cy="9.6" rx=".5" ry=".5" fill-opacity=".12"/><ellipse cx="106.5" cy="62.8" rx=".5" ry=".5" fill-opacity=".06"/><ellipse cx="222.4" cy="75.9" rx=".5" ry=".5" fill-opacity=".14"/><ellipse cx="91.1" cy="129.4" rx=".5" ry=".5" fill-opacity=".12"/><ellipse cx="16.7" cy="57.5" rx=".5" ry=".5" fill-opacity=".05"/><ellipse cx="48" cy="99.7" rx=".5" ry=".5" fill-opacity=".12"/><ellipse cx="222.2" cy="36.3" rx=".5" ry=".5" fill-opacity=".06"/><ellipse cx="180.1" cy="62.3" rx=".5" ry=".5" fill-opacity=".15"/><ellipse cx="195.2" cy="20.6" rx=".5" ry=".5" fill-opacity=".11"/><ellipse cx="156.1" cy="75.3" rx=".5" ry=".5" fill-opacity=".12"/><ellipse cx="125.5" cy="80" rx=".5" ry=".5" fill-opacity=".09"/><ellipse cx="194.5" cy="90.5" rx=".5" ry=".5" fill-opacity=".11"/><ellipse cx="217.4" cy="130.8" rx=".5" ry=".5" fill-opacity=".09"/><ellipse cx="213.9" cy="9.1" rx=".5" ry=".5" fill-opacity=".07"/><ellipse cx="36.4" cy="11.6" rx=".5" ry=".5" fill-opacity=".12"/><ellipse cx="52.6" cy="123.4" rx=".5" ry=".5" fill-opacity=".15"/><ellipse cx="186.6" cy="26" rx=".5" ry=".5" fill-opacity=".15"/><ellipse cx="25" cy="106.8" rx=".5" ry=".5" fill-opacity=".07"/><ellipse cx="86.2" cy="29.5" rx=".5" ry=".5" fill-opacity=".13"/><ellipse cx="43.6" cy="68.7" rx=".5" ry=".5" fill-opacity=".15"/><ellipse cx="60.7" cy="52.6" rx=".5" ry=".5" fill-opacity=".14"/><ellipse cx="113.5" cy="53.9" rx=".5" ry=".5" fill-opacity=".15"/><ellipse cx="145.5" cy="46.1" rx=".5" ry=".5" fill-opacity=".07"/><ellipse cx="25.5" cy="112.8" rx=".5" ry=".5" fill-opacity=".1"/><ellipse cx="84.3" cy="59.7" rx=".5" ry=".5" fill-opacity=".05"/><ellipse cx="170.1" cy="34.1" rx=".5" ry=".5" fill-opacity=".07"/><ellipse cx="116.5" cy="82.6" rx=".5" ry=".5" fill-opacity=".12"/><ellipse cx="14.9" cy="106.9" rx=".5" ry=".5" fill-opacity=".06"/><ellipse cx="187.2" cy="91" rx=".5" ry=".5" fill-opacity=".09"/><ellipse cx="55.9" cy="80.7" rx=".5" ry=".5" fill-opacity=".13"/><ellipse cx="124.1" cy="5" rx=".5" ry=".5" fill-opacity=".05"/><ellipse cx="36.1" cy="55.6" rx=".5" ry=".5" fill-opacity=".06"/><ellipse cx="90.7" cy="40.3" rx=".5" ry=".5" fill-opacity=".14"/><ellipse cx="203" cy="12.8" rx=".5" ry=".5" fill-opacity=".08"/><ellipse cx="171.3" cy="98.7" rx=".5" ry=".5" fill-opacity=".14"/><ellipse cx="75.1" cy="32.6" rx=".5" ry=".5" fill-opacity=".13"/><ellipse cx="126.9" cy="63.4" rx=".5" ry=".5" fill-opacity=".13"/><ellipse cx="198.7" cy="28.2" rx=".5" ry=".5" fill-opacity=".11"/><ellipse cx="180.3" cy="114.7" rx=".5" ry=".5" fill-opacity=".14"/><ellipse cx="225.5" cy="83.8" rx=".5" ry=".5" fill-opacity=".14"/><ellipse cx="49.1" cy="79.1" rx=".5" ry=".5" fill-opacity=".06"/><ellipse cx="58.3" cy="71" rx=".5" ry=".5" fill-opacity=".14"/><ellipse cx="77.4" cy="41.1" rx=".5" ry=".5" fill-opacity=".05"/><ellipse cx="51.3" cy="96.7" rx=".5" ry=".5" fill-opacity=".13"/><ellipse cx="177.3" cy="19.7" rx=".5" ry=".5" fill-opacity=".06"/><ellipse cx="24.8" cy=".9" rx=".5" ry=".5" fill-opacity=".13"/><ellipse cx="73.6" cy="10.3" rx=".5" ry=".5" fill-opacity=".14"/><ellipse cx="52.6" cy="97.6" rx=".5" ry=".5" fill-opacity=".08"/><ellipse cx="58.8" cy="122.3" rx=".5" ry=".5" fill-opacity=".05"/><ellipse cx="29.7" cy="28" rx=".5" ry=".5" fill-opacity=".04"/><ellipse cx="198.6" cy="75.3" rx=".5" ry=".5" fill-opacity=".05"/><ellipse cx="35.2" cy="101.1" rx=".5" ry=".5" fill-opacity=".1"/><ellipse cx="226.6" cy="50.8" rx=".5" ry=".5" fill-opacity=".13"/><ellipse cx="178.2" cy="3.3" rx=".5" ry=".5" fill-opacity=".1"/><ellipse cx="213.3" cy="32.3" rx=".5" ry=".5" fill-opacity=".05"/><ellipse cx="186.3" cy="5.2" rx=".5" ry=".5" fill-opacity=".11"/><ellipse cx="43.6" cy="14.3" rx=".5" ry=".5" fill-opacity=".13"/><ellipse cx="116.9" cy="122.2" rx=".5" ry=".5" fill-opacity=".06"/><ellipse cx="216.1" cy="48" rx=".5" ry=".5" fill-opacity=".12"/><ellipse cx="219.8" cy="22.7" rx=".5" ry=".5" fill-opacity=".1"/><ellipse cx="192.3" cy="87.1" rx=".5" ry=".5" fill-opacity=".14"/><ellipse cx="139.6" cy="106.8" rx=".5" ry=".5" fill-opacity=".1"/><ellipse cx="115.9" cy="40.7" rx=".5" ry=".5" fill-opacity=".06"/><ellipse cx="93.3" cy="55.3" rx=".5" ry=".5" fill-opacity=".11"/><ellipse cx="161.6" cy="89.1" rx=".5" ry=".5" fill-opacity=".07"/><ellipse cx="25.3" cy="113.8" rx=".5" ry=".5" fill-opacity=".09"/><ellipse cx="188.1" cy="119.8" rx=".5" ry=".5" fill-opacity=".04"/><ellipse cx="85" cy="115.9" rx=".5" ry=".5" fill-opacity=".06"/><ellipse cx="209.7" cy="24.3" rx=".5" ry=".5" fill-opacity=".08"/><ellipse cx="131.1" cy="106" rx=".5" ry=".5" fill-opacity=".06"/><ellipse cx="6.1" cy="13.5" rx=".5" ry=".5" fill-opacity=".1"/><ellipse cx="6" cy="65.4" rx=".5" ry=".5" fill-opacity=".04"/><ellipse cx="207.1" cy="113" rx=".5" ry=".5" fill-opacity=".09"/><ellipse cx="46.1" cy="59" rx=".5" ry=".5" fill-opacity=".12"/><ellipse cx="115.6" cy="19.2" rx=".5" ry=".5" fill-opacity=".09"/><ellipse cx="15.2" cy="35" rx=".5" ry=".5" fill-opacity=".12"/><ellipse cx="49.6" cy="59.8" rx=".5" ry=".5" fill-opacity=".08"/><ellipse cx="2" cy="134.1" rx=".5" ry=".5" fill-opacity=".09"/><ellipse cx="154.1" cy="86.9" rx=".5" ry=".5" fill-opacity=".04"/><ellipse cx="224.6" cy="10.5" rx=".5" ry=".5" fill-opacity=".09"/><ellipse cx="100.1" cy="45.3" rx=".5" ry=".5" fill-opacity=".14"/><ellipse cx="115" cy="98.3" rx=".5" ry=".5" fill-opacity=".05"/><ellipse cx="199.4" cy="42.2" rx=".5" ry=".5" fill-opacity=".13"/><ellipse cx="208.3" cy="56.2" rx=".5" ry=".5" fill-opacity=".04"/><ellipse cx="37.9" cy="133.8" rx=".5" ry=".5" fill-opacity=".1"/><ellipse cx="142.6" cy="120.3" rx=".5" ry=".5" fill-opacity=".11"/><ellipse cx="194.7" cy="41.7" rx=".5" ry=".5" fill-opacity=".11"/><ellipse cx="69.1" cy="133.4" rx=".5" ry=".5" fill-opacity=".07"/><ellipse cx="41.6" cy="11.8" rx=".5" ry=".5" fill-opacity=".06"/><ellipse cx="20.6" cy="33.3" rx=".5" ry=".5" fill-opacity=".13"/><ellipse cx="157.2" cy="98.3" rx=".5" ry=".5" fill-opacity=".07"/><ellipse cx="204.3" cy="72.2" rx=".5" ry=".5" fill-opacity=".09"/><ellipse cx="115.2" cy="65.2" rx=".5" ry=".5" fill-opacity=".1"/><ellipse cx="183.9" cy="2.5" rx=".5" ry=".5" fill-opacity=".09"/><ellipse cx="169" cy="123.4" rx=".5" ry=".5" fill-opacity=".08"/><ellipse cx="67.4" cy="47.8" rx=".5" ry=".5" fill-opacity=".11"/><ellipse cx="144.4" cy="42.9" rx=".5" ry=".5" fill-opacity=".07"/><ellipse cx="83" cy="56.9" rx=".5" ry=".5" fill-opacity=".09"/><ellipse cx="41.9" cy="61.4" rx=".5" ry=".5" fill-opacity=".06"/><ellipse cx="97.3" cy="29.9" rx=".5" ry=".5" fill-opacity=".09"/><ellipse cx="170.2" cy="115.5" rx=".5" ry=".5" fill-opacity=".12"/><ellipse cx="104.1" cy="85" rx=".5" ry=".5" fill-opacity=".12"/><ellipse cx="19.6" cy="86.8" rx=".5" ry=".5" fill-opacity=".04"/><ellipse cx="226.3" cy="20.1" rx=".5" ry=".5" fill-opacity=".04"/><ellipse cx="135.5" cy="17.9" rx=".5" ry=".5" fill-opacity=".1"/><ellipse cx="82.9" cy="71.7" rx=".5" ry=".5" fill-opacity=".04"/><ellipse cx="77.6" cy="105.4" rx=".5" ry=".5" fill-opacity=".14"/><ellipse cx="51" cy="67.9" rx=".5" ry=".5" fill-opacity=".08"/><ellipse cx="78.6" cy="56.9" rx=".5" ry=".5" fill-opacity=".08"/><ellipse cx="197.9" cy="38.8" rx=".5" ry=".5" fill-opacity=".06"/><ellipse cx="77.9" cy="25.2" rx=".5" ry=".5" fill-opacity=".12"/><ellipse cx="161.2" cy="12.3" rx=".5" ry=".5" fill-opacity=".08"/><ellipse cx="195.3" cy="86.9" rx=".5" ry=".5" fill-opacity=".09"/><ellipse cx="199.7" cy="93.4" rx=".5" ry=".5" fill-opacity=".06"/><ellipse cx="189.9" cy="122.4" rx=".5" ry=".5" fill-opacity=".11"/><ellipse cx="69" cy="84.1" rx=".5" ry=".5" fill-opacity=".11"/><ellipse cx="217.6" cy="109.2" rx=".5" ry=".5" fill-opacity=".13"/><ellipse cx="93.4" cy="64.7" rx=".5" ry=".5" fill-opacity=".14"/><ellipse cx="204.7" cy="15.9" rx=".5" ry=".5" fill-opacity=".13"/><ellipse cx="205.7" cy="31.7" rx=".5" ry=".5" fill-opacity=".08"/><ellipse cx="33.1" cy="38.8" rx=".5" ry=".5" fill-opacity=".14"/><ellipse cx="45.6" cy="65.9" rx=".5" ry=".5" fill-opacity=".15"/><ellipse cx="64.8" cy="131.8" rx=".5" ry=".5" fill-opacity=".09"/><ellipse cx="67.6" cy="130.4" rx=".5" ry=".5" fill-opacity=".1"/></g><g id="tsh" stroke="currentColor"><path d="M132 50L139 33L142 16L146 0" fill="none" stroke-width="1" stroke-opacity="0.17" stroke-linecap="round"/><path d="M132 50L133.78 45.67" fill="none" stroke-width="4.4" stroke-opacity="0.63" stroke-linecap="round"/><path d="M133.78 45.67L135.56 41.35" fill="none" stroke-width="3.78" stroke-opacity="0.56" stroke-linecap="round"/><path d="M135.56 41.35L137.35 37.02" fill="none" stroke-width="3.17" stroke-opacity="0.48" stroke-linecap="round"/><path d="M137.35 37.02L139 33L139.06 32.67" fill="none" stroke-width="2.55" stroke-opacity="0.4" stroke-linecap="round"/><path d="M139.06 32.67L139.87 28.06" fill="none" stroke-width="1.94" stroke-opacity="0.32" stroke-linecap="round"/><path d="M114 53L99 40L85.5 30L69 20L55 13L35 5" fill="none" stroke-width="1" stroke-opacity="0.1" stroke-linecap="round"/><path d="M114 53L111.1 50.49" fill="none" stroke-width="3.2" stroke-opacity="0.4" stroke-linecap="round"/><path d="M111.1 50.49L108.2 47.97" fill="none" stroke-width="2.75" stroke-opacity="0.35" stroke-linecap="round"/><path d="M108.2 47.97L105.29 45.46" fill="none" stroke-width="2.3" stroke-opacity="0.3" stroke-linecap="round"/><path d="M105.29 45.46L102.39 42.94" fill="none" stroke-width="1.86" stroke-opacity="0.26" stroke-linecap="round"/><path d="M102.39 42.94L99.49 40.43" fill="none" stroke-width="1.41" stroke-opacity="0.21" stroke-linecap="round"/><path d="M105 50L95.5 33L89 16L84 0" fill="none" stroke-width="1" stroke-opacity="0.07" stroke-linecap="round"/><path d="M105 50L103.33 47.01" fill="none" stroke-width="2.6" stroke-opacity="0.29" stroke-linecap="round"/><path d="M103.33 47.01L101.66 44.03" fill="none" stroke-width="2.24" stroke-opacity="0.25" stroke-linecap="round"/><path d="M101.66 44.03L99.99 41.04" fill="none" stroke-width="1.87" stroke-opacity="0.22" stroke-linecap="round"/><path d="M99.99 41.04L98.33 38.06" fill="none" stroke-width="1.51" stroke-opacity="0.18" stroke-linecap="round"/><path d="M98.33 38.06L96.66 35.07" fill="none" stroke-width="1.14" stroke-opacity="0.15" stroke-linecap="round"/><path d="M105 71L82 80L59 88L32 96L12 100L0 102" fill="none" stroke-width="1" stroke-opacity="0.09" stroke-linecap="round"/><path d="M105 71L101.55 72.35" fill="none" stroke-width="3" stroke-opacity="0.34" stroke-linecap="round"/><path d="M101.55 72.35L98.11 73.7" fill="none" stroke-width="2.58" stroke-opacity="0.3" stroke-linecap="round"/><path d="M98.11 73.7L94.66 75.04" fill="none" stroke-width="2.16" stroke-opacity="0.26" stroke-linecap="round"/><path d="M94.66 75.04L91.22 76.39" fill="none" stroke-width="1.74" stroke-opacity="0.22" stroke-linecap="round"/><path d="M91.22 76.39L87.77 77.74" fill="none" stroke-width="1.32" stroke-opacity="0.18" stroke-linecap="round"/><path d="M102 75L79 93L59 110L39 126L25 138" fill="none" stroke-width="1" stroke-opacity="0.09" stroke-linecap="round"/><path d="M102 75L99.09 77.28" fill="none" stroke-width="3" stroke-opacity="0.34" stroke-linecap="round"/><path d="M99.09 77.28L96.17 79.56" fill="none" stroke-width="2.58" stroke-opacity="0.3" stroke-linecap="round"/><path d="M96.17 79.56L93.26 81.84" fill="none" stroke-width="2.16" stroke-opacity="0.26" stroke-linecap="round"/><path d="M93.26 81.84L90.34 84.12" fill="none" stroke-width="1.74" stroke-opacity="0.22" stroke-linecap="round"/><path d="M90.34 84.12L87.43 86.4" fill="none" stroke-width="1.32" stroke-opacity="0.18" stroke-linecap="round"/><path d="M109 75L99 100L89 126L82 138" fill="none" stroke-width="1" stroke-opacity="0.09" stroke-linecap="round"/><path d="M109 75L107.63 78.44" fill="none" stroke-width="3" stroke-opacity="0.34" stroke-linecap="round"/><path d="M107.63 78.44L106.25 81.87" fill="none" stroke-width="2.58" stroke-opacity="0.3" stroke-linecap="round"/><path d="M106.25 81.87L104.88 85.31" fill="none" stroke-width="2.16" stroke-opacity="0.26" stroke-linecap="round"/><path d="M104.88 85.31L103.5 88.74" fill="none" stroke-width="1.74" stroke-opacity="0.22" stroke-linecap="round"/><path d="M103.5 88.74L102.13 92.18" fill="none" stroke-width="1.32" stroke-opacity="0.18" stroke-linecap="round"/><path d="M120 71L119 100L120 138" fill="none" stroke-width="1" stroke-opacity="0.1" stroke-linecap="round"/><path d="M120 71L119.87 74.84" fill="none" stroke-width="3.2" stroke-opacity="0.4" stroke-linecap="round"/><path d="M119.87 74.84L119.74 78.68" fill="none" stroke-width="2.75" stroke-opacity="0.35" stroke-linecap="round"/><path d="M119.74 78.68L119.6 82.51" fill="none" stroke-width="2.3" stroke-opacity="0.3" stroke-linecap="round"/><path d="M119.6 82.51L119.47 86.35" fill="none" stroke-width="1.86" stroke-opacity="0.26" stroke-linecap="round"/><path d="M119.47 86.35L119.34 90.19" fill="none" stroke-width="1.41" stroke-opacity="0.21" stroke-linecap="round"/><path d="M129 71L139 100L149 123L155 138" fill="none" stroke-width="1" stroke-opacity="0.1" stroke-linecap="round"/><path d="M129 71L130.25 74.63" fill="none" stroke-width="3.2" stroke-opacity="0.4" stroke-linecap="round"/><path d="M130.25 74.63L131.5 78.26" fill="none" stroke-width="2.75" stroke-opacity="0.35" stroke-linecap="round"/><path d="M131.5 78.26L132.76 81.89" fill="none" stroke-width="2.3" stroke-opacity="0.3" stroke-linecap="round"/><path d="M132.76 81.89L134.01 85.52" fill="none" stroke-width="1.86" stroke-opacity="0.26" stroke-linecap="round"/><path d="M134.01 85.52L135.26 89.15" fill="none" stroke-width="1.41" stroke-opacity="0.21" stroke-linecap="round"/><path d="M134 70L159 83L185 93L212 106L227 110" fill="none" stroke-width="1" stroke-opacity="0.09" stroke-linecap="round"/><path d="M134 70L137.16 71.64" fill="none" stroke-width="2.8" stroke-opacity="0.34" stroke-linecap="round"/><path d="M137.16 71.64L140.32 73.28" fill="none" stroke-width="2.41" stroke-opacity="0.3" stroke-linecap="round"/><path d="M140.32 73.28L143.48 74.93" fill="none" stroke-width="2.02" stroke-opacity="0.26" stroke-linecap="round"/><path d="M143.48 74.93L146.63 76.57" fill="none" stroke-width="1.62" stroke-opacity="0.22" stroke-linecap="round"/><path d="M146.63 76.57L149.79 78.21" fill="none" stroke-width="1.23" stroke-opacity="0.18" stroke-linecap="round"/><path d="M135 63L159 63L185 65L212 66L227 67" fill="none" stroke-width="1" stroke-opacity="0.08" stroke-linecap="round"/><path d="M135 63L138.56 63" fill="none" stroke-width="2.8" stroke-opacity="0.32" stroke-linecap="round"/><path d="M138.56 63L142.12 63" fill="none" stroke-width="2.41" stroke-opacity="0.28" stroke-linecap="round"/><path d="M142.12 63L145.68 63" fill="none" stroke-width="2.02" stroke-opacity="0.24" stroke-linecap="round"/><path d="M145.68 63L149.24 63" fill="none" stroke-width="1.62" stroke-opacity="0.2" stroke-linecap="round"/><path d="M149.24 63L152.8 63" fill="none" stroke-width="1.23" stroke-opacity="0.17" stroke-linecap="round"/><path d="M134 53L152 43L172 30L189 16L202 0" fill="none" stroke-width="1" stroke-opacity="0.09" stroke-linecap="round"/><path d="M134 53L137.23 51.2" fill="none" stroke-width="3" stroke-opacity="0.34" stroke-linecap="round"/><path d="M137.23 51.2L140.47 49.41" fill="none" stroke-width="2.58" stroke-opacity="0.3" stroke-linecap="round"/><path d="M140.47 49.41L143.7 47.61" fill="none" stroke-width="2.16" stroke-opacity="0.26" stroke-linecap="round"/><path d="M143.7 47.61L146.94 45.81" fill="none" stroke-width="1.74" stroke-opacity="0.22" stroke-linecap="round"/><path d="M146.94 45.81L150.17 44.02" fill="none" stroke-width="1.32" stroke-opacity="0.18" stroke-linecap="round"/><path d="M0.7 40L25 36L49 32L79 25L109 15" fill="none" stroke-width="1" stroke-opacity="0.03" stroke-linecap="round"/><path d="M2 53L16 55L32 63L44 70L57 70L74 68L90 71" fill="none" stroke-width="1" stroke-opacity="0.03" stroke-linecap="round"/><path d="M44 83L46 100L47 116L49 133" fill="none" stroke-width="1" stroke-opacity="0.04" stroke-linecap="round"/><path d="M57 96L60 116L62 133" fill="none" stroke-width="1" stroke-opacity="0.04" stroke-linecap="round"/><path d="M69 100L72 116L70 133" fill="none" stroke-width="1" stroke-opacity="0.04" stroke-linecap="round"/><path d="M190 100L212 115L227 125" fill="none" stroke-width="1" stroke-opacity="0.07" stroke-linecap="round"/><path d="M9 100L24 98L40 95L57 90L70 90L85 88" fill="none" stroke-width="1" stroke-opacity="0.04" stroke-linecap="round"/><path d="M137 75L150 90L165 100L180 100L205 105L227 108" fill="none" stroke-width="1" stroke-opacity="0.04" stroke-linecap="round"/></g><g id="tsp"><ellipse cx="124" cy="64" rx="14" ry="10" fill-opacity="0.13"/><ellipse cx="198" cy="42" rx="30" ry="36" fill-opacity="0.035"/></g><g id="tsg"><ellipse cx="123.5" cy="62" rx="12" ry="10.3" fill-opacity="0.93"/><ellipse cx="130" cy="55" rx="5" ry="4" fill-opacity="0.8"/><ellipse cx="114" cy="67" rx="5" ry="3.5" fill-opacity="0.7"/></g></defs><defs><filter id="b2" x="-10%" y="-10%" width="120%" height="120%"><feGaussianBlur stdDeviation="3"/></filter><g id="thz" stroke="currentColor" fill="none" stroke-linecap="round"><path d="M132 50L139 33L142 16L146 0" stroke-width="7" stroke-opacity="0.06"/><path d="M114 53L99 40L85.5 30L69 20L55 13L35 5" stroke-width="7" stroke-opacity="0.06"/><path d="M105 50L95.5 33L89 16L84 0" stroke-width="7" stroke-opacity="0.06"/><path d="M105 71L82 80L59 88L32 96L12 100L0 102" stroke-width="7" stroke-opacity="0.06"/><path d="M102 75L79 93L59 110L39 126L25 138" stroke-width="7" stroke-opacity="0.06"/><path d="M109 75L99 100L89 126L82 138" stroke-width="7" stroke-opacity="0.06"/><path d="M120 71L119 100L120 138" stroke-width="7" stroke-opacity="0.06"/><path d="M129 71L139 100L149 123L155 138" stroke-width="7" stroke-opacity="0.06"/><path d="M134 70L159 83L185 93L212 106L227 110" stroke-width="7" stroke-opacity="0.06"/><path d="M135 63L159 63L185 65L212 66L227 67" stroke-width="7" stroke-opacity="0.06"/><path d="M134 53L152 43L172 30L189 16L202 0" stroke-width="7" stroke-opacity="0.06"/><path d="M0.7 40L25 36L49 32L79 25L109 15" stroke-width="7" stroke-opacity="0.05"/><path d="M2 53L16 55L32 63L44 70L57 70L74 68L90 71" stroke-width="7" stroke-opacity="0.05"/><path d="M44 83L46 100L47 116L49 133" stroke-width="7" stroke-opacity="0.05"/><path d="M57 96L60 116L62 133" stroke-width="7" stroke-opacity="0.05"/><path d="M69 100L72 116L70 133" stroke-width="7" stroke-opacity="0.05"/><path d="M190 100L212 115L227 125" stroke-width="7" stroke-opacity="0.05"/><path d="M9 100L24 98L40 95L57 90L70 90L85 88" stroke-width="7" stroke-opacity="0.05"/><path d="M137 75L150 90L165 100L180 100L205 105L227 108" stroke-width="7" stroke-opacity="0.05"/><ellipse cx="105" cy="75" rx="35" ry="30" fill="currentColor" stroke="none" fill-opacity="0.06"/></g></defs><g transform="translate(1 18.2)" clip-path="url(#ct)"><rect width="227" height="137.8" fill="#080808"/><use href="#thz" style="color:#fff" filter="url(#b2)"/><use href="#tsp" fill="#fff" filter="url(#b3)"/><use href="#ts" fill="#fff" filter="url(#b1)"/></g><g transform="translate(229 18.2)" clip-path="url(#ct)"><rect width="227" height="137.8" fill="#121212"/><use href="#thz" style="color:#fff" opacity="0.6" filter="url(#b2)"/><use href="#tsh" style="color:#fff" filter="url(#b1)"/><use href="#tsg" fill="#fff" filter="url(#bs)"/><use href="#tg" fill="#fff" filter="url(#b1)"/></g><g transform="translate(457.3 18.2)" clip-path="url(#ct3)" style="isolation:isolate"><rect width="227" height="137.8" fill="#140513"/><use href="#thz" style="color:#f028f0" filter="url(#b2)"/><use href="#tsp" fill="#f028f0" opacity="0.4" filter="url(#b3)"/><use href="#ts" fill="#f028f0" filter="url(#b1)"/><g style="mix-blend-mode:screen"><use href="#tsh" style="color:#f0e040" filter="url(#b1)"/><use href="#tsg" fill="#f0d840" filter="url(#bs)"/><use href="#tg" fill="#f0f040" opacity="0.75" filter="url(#b1)"/></g><rect x="10.6" y="56.6" width="110.9" height="39.9" fill="none" stroke="#ECE83A" stroke-width="1.25" stroke-dasharray="5 3"/></g><text x="8.9" y="34.5" fill="#EB50EB" font-size="13.85">PSD-95:mTurq2:mAID</text><text x="236.2" y="34.1" fill="#E1DC5F" font-size="13.85">SEpH:GluA2</text><rect x="652.5" y="651.2" width="27.3" height="3" fill="#fff"/><g font-size="10.5" fill="#1a1a1a"><g opacity="0.95"><path d="M59.6 716.18 L77.69 718.48 L95.77 715.48 L113.56 710.8 L132.84 707.57 L150.92 739.49 L169.01 778.66 L186.8 798.84 L204.59 809.21 L222.38 811.86 L240.17 815.93 L257.96 816.23 L276.05 818.53" fill="none" stroke="#8e8e8e" stroke-width="0.6" stroke-linejoin="round" /><path d="M59.6 709.52 L77.69 704.34 L95.77 709.55 L113.56 710.8 L132.84 707.12 L150.92 736.33 L169.01 777.93 L186.8 796.1 L204.59 806.35 L222.38 811.67 L240.17 814.93 L257.96 816.28 L276.05 819.13" fill="none" stroke="#8e8e8e" stroke-width="0.6" stroke-linejoin="round" /><path d="M59.6 719.55 L77.69 721.39 L95.77 722.03 L113.56 710.8 L132.84 706.37 L150.92 767.42 L169.01 794.82 L186.8 802.36 L204.59 814.68 L222.38 817.39 L240.17 823.26 L257.96 823.08 L276.05 822.76" fill="none" stroke="#8e8e8e" stroke-width="0.6" stroke-linejoin="round" /><path d="M59.6 707.88 L77.69 711.61 L95.77 705.93 L113.56 710.8 L132.84 710.77 L150.92 747.61 L169.01 786.81 L186.8 800.01 L204.59 810.15 L222.38 813.73 L240.17 819.34 L257.96 818.64 L276.05 821.62" fill="none" stroke="#8e8e8e" stroke-width="0.6" stroke-linejoin="round" /><path d="M59.6 697.28 L77.69 698.48 L95.77 698.8 L113.56 710.8 L132.84 711.63 L150.92 747.16 L169.01 786.18 L186.8 799.89 L204.59 809.18 L222.38 814.54 L240.17 818.01 L257.96 819.72 L276.05 822.21" fill="none" stroke="#8e8e8e" stroke-width="0.6" stroke-linejoin="round" /><path d="M59.6 716.54 L77.69 714.32 L95.77 716.03 L113.56 710.8 L132.84 706.67 L150.92 786.27 L169.01 806.16 L186.8 815.19 L204.59 819.39 L222.38 820.67 L240.17 825.6 L257.96 827.06 L276.05 823.89" fill="none" stroke="#8e8e8e" stroke-width="0.6" stroke-linejoin="round" /><path d="M59.6 703.92 L77.69 706.13 L95.77 707.38 L113.56 710.8 L132.84 701.16 L150.92 744.43 L169.01 781.73 L186.8 798.62 L204.59 809.86 L222.38 814.05 L240.17 816.88 L257.96 817.57 L276.05 819.58" fill="none" stroke="#8e8e8e" stroke-width="0.6" stroke-linejoin="round" /><path d="M59.6 704.34 L77.69 712.64 L95.77 705.92 L113.56 710.8 L132.84 709.22 L150.92 778.39 L169.01 801.88 L186.8 810.57 L204.59 816.48 L222.38 818.44 L240.17 824.5 L257.96 824.17 L276.05 824.15" fill="none" stroke="#8e8e8e" stroke-width="0.6" stroke-linejoin="round" /><path d="M59.6 715.07 L77.69 703.39 L95.77 710.7 L113.56 710.8 L132.84 707.31 L150.92 787.64 L169.01 806.64 L186.8 811.65 L204.59 819.51 L222.38 823.03 L240.17 822.76 L257.96 826.1 L276.05 823.98" fill="none" stroke="#8e8e8e" stroke-width="0.6" stroke-linejoin="round" /><path d="M59.6 714.31 L77.69 712.05 L95.77 713.49 L113.56 710.8 L132.84 713.29 L150.92 791.07 L169.01 808.79 L186.8 816.75 L204.59 821.58 L222.38 822.64 L240.17 825.79 L257.96 825.04 L276.05 826.8" fill="none" stroke="#8e8e8e" stroke-width="0.6" stroke-linejoin="round" /><path d="M59.6 710.26 L77.69 711.6 L95.77 707.93 L113.56 710.8 L132.84 714.83 L150.92 790.35 L169.01 805.36 L186.8 813.69 L204.59 821.05 L222.38 824.19 L240.17 827.11 L257.96 825.94 L276.05 826.61" fill="none" stroke="#8e8e8e" stroke-width="0.6" stroke-linejoin="round" /><path d="M59.6 691.45 L77.69 691.47 L95.77 693.96 L113.56 710.8 L132.84 706.79 L150.92 756.93 L169.01 788.2 L186.8 805.02 L204.59 806.21 L222.38 814.41 L240.17 818.37 L257.96 821.04 L276.05 825.2" fill="none" stroke="#8e8e8e" stroke-width="0.6" stroke-linejoin="round" /><path d="M59.6 712.84 L77.69 706.03 L95.77 710.09 L113.56 710.8 L132.84 706.01 L150.92 746.21 L169.01 786.82 L186.8 802.6 L204.59 808.37 L222.38 813.49 L240.17 819.59 L257.96 820.86 L276.05 822.21" fill="none" stroke="#8e8e8e" stroke-width="0.6" stroke-linejoin="round" /><path d="M59.6 718.52 L77.69 720.35 L95.77 721.84 L113.56 710.8 L132.84 702.91 L150.92 794.72 L169.01 812.69 L186.8 818.42 L204.59 824.45 L222.38 827.46 L240.17 825.38 L257.96 825.06 L276.05 826.57" fill="none" stroke="#8e8e8e" stroke-width="0.6" stroke-linejoin="round" /><path d="M59.6 697.68 L77.69 697.39 L95.77 695.62 L113.56 710.8 L132.84 709 L150.92 771.22 L169.01 798.72 L186.8 808.19 L204.59 815.07 L222.38 819.87 L240.17 819.66 L257.96 822.79 L276.05 823.23" fill="none" stroke="#8e8e8e" stroke-width="0.6" stroke-linejoin="round" /><path d="M59.6 701.15 L77.69 696.96 L95.77 701.51 L113.56 710.8 L132.84 706.32 L150.92 770.74 L169.01 796.49 L186.8 808.03 L204.59 819.06 L222.38 818.67 L240.17 823.2 L257.96 824.57 L276.05 825.09" fill="none" stroke="#8e8e8e" stroke-width="0.6" stroke-linejoin="round" /><path d="M59.6 700.28 L77.69 699.54 L95.77 706.22 L113.56 710.8 L132.84 701.79 L150.92 745.96 L169.01 782.59 L186.8 800.36 L204.59 808.51 L222.38 813.79 L240.17 816.15 L257.96 820.59 L276.05 822.01" fill="none" stroke="#8e8e8e" stroke-width="0.6" stroke-linejoin="round" /><path d="M59.6 696.09 L77.69 698.54 L95.77 703.44 L113.56 710.8 L132.84 700.99 L150.92 732.87 L169.01 757.39 L186.8 769.65 L204.59 788.04 L222.38 794.17 L240.17 800.3 L257.96 803.98 L276.05 810.11" fill="none" stroke="#8e8e8e" stroke-width="0.6" stroke-linejoin="round" /></g><path d="M59.6 686.28V833.4H281.98" fill="none" stroke="#222" stroke-width="1.1"/><path d="M56.6 833.4H59.6M56.6 808.88H59.6M56.6 784.36H59.6M56.6 759.84H59.6M56.6 735.32H59.6M56.6 710.8H59.6M56.6 686.28H59.6M59.6 833.4V836.4M83.32 833.4V836.4M107.04 833.4V836.4M130.76 833.4V836.4M154.48 833.4V836.4M178.2 833.4V836.4M201.92 833.4V836.4M225.64 833.4V836.4M249.36 833.4V836.4M273.08 833.4V836.4" stroke="#222" stroke-width="1"/><text x="52.6" y="837.2" text-anchor="end">0</text><text x="52.6" y="812.68" text-anchor="end">0.2</text><text x="52.6" y="788.16" text-anchor="end">0.4</text><text x="52.6" y="763.64" text-anchor="end">0.6</text><text x="52.6" y="739.12" text-anchor="end">0.8</text><text x="52.6" y="714.6" text-anchor="end">1</text><text x="52.6" y="690.08" text-anchor="end">1.2</text><text x="59.6" y="848" text-anchor="middle">-12</text><text x="83.32" y="848" text-anchor="middle">-8</text><text x="107.04" y="848" text-anchor="middle">-4</text><text x="130.76" y="848" text-anchor="middle">0</text><text x="154.48" y="848" text-anchor="middle">4</text><text x="178.2" y="848" text-anchor="middle">8</text><text x="201.92" y="848" text-anchor="middle">12</text><text x="225.64" y="848" text-anchor="middle">16</text><text x="249.36" y="848" text-anchor="middle">20</text><text x="273.08" y="848" text-anchor="middle">24</text><text transform="translate(30.3 763.9) rotate(-90)" text-anchor="middle" font-size="11">Fractional fluorescence</text><path d="M130.76 700.38V833.4" stroke="#6426BE" stroke-width="1.5" stroke-dasharray="5 4.3"/><text transform="translate(127.76 825.4) rotate(-90)" font-size="12.7">5-ph-IAA</text><path d="M59.6 708.1 L77.69 707.12 L95.77 708.1 L113.56 710.8 L132.84 715.09 L150.92 772.1 L169.01 798.46 L186.8 809.49 L204.59 816.24 L222.38 819.91 L240.17 822.37 L257.96 823.59 L276.05 824.57" fill="none" stroke="#D723B4" stroke-width="2.3" stroke-linejoin="round" /><path d="M113.56 707.4L116.96 710.8L113.56 714.2L110.16 710.8Z" fill="#fff" stroke="#111" stroke-width="1.15"/><path d="M203.11 807.04V824.2M200.11 807.04H206.11M200.11 824.2H206.11" stroke="#111" stroke-width="1.0" fill="none"/><path d="M203.11 812.22L206.51 815.62L203.11 819.02L199.71 815.62Z" fill="#fff" stroke="#111" stroke-width="1.15"/><path d="M276.05 816.24V827.88M273.05 816.24H279.05M273.05 827.88H279.05" stroke="#111" stroke-width="1.0" fill="none"/><path d="M276.05 818.72L279.44 822.12L276.05 825.52L272.65 822.12Z" fill="#fff" stroke="#111" stroke-width="1.15"/><text x="71.6" y="684.6" font-style="italic" fill="#D62FB8" font-size="11">PSD-95:mTurq2:mAID</text><path d="M171 710.6H190" stroke="#666" stroke-width="0.7"/><text x="193.5" y="713">3h intervals</text><text x="193.5" y="726.6">(18 neurons)</text><path d="M182.4 738.6L185.6 741.8L182.4 745L179.2 741.8Z" fill="#fff" stroke="#111" stroke-width="1.15"/><text x="193.5" y="745.6">12h intervals</text><text x="193.5" y="758.6">(10 neurons)</text><text x="3.7" y="676.9" font-size="14">B</text><g><path d="M59.8 894.67 L77.89 904.22 L95.97 897.13 L113.76 890.5 L133.04 894.84 L151.12 912.42 L169.21 926.38 L187 923.07 L204.79 935.46 L222.58 938 L240.37 927.68 L258.16 930.59 L276.25 935.03" fill="none" stroke="#969696" stroke-width="0.6" stroke-linejoin="round" /><path d="M59.8 886.63 L77.89 886.51 L95.97 884.02 L113.76 890.5 L133.04 879.83 L151.12 899.21 L169.21 912.1 L187 914.27 L204.79 921.99 L222.58 922.01 L240.37 922.46 L258.16 914.84 L276.25 924.75" fill="none" stroke="#969696" stroke-width="0.6" stroke-linejoin="round" /><path d="M59.8 884.87 L77.89 892.25 L95.97 892.85 L113.76 890.5 L133.04 886.21 L151.12 886.19 L169.21 905.26 L187 909.1 L204.79 905.33 L222.58 914.31 L240.37 903.81 L258.16 916.85 L276.25 917.64" fill="none" stroke="#969696" stroke-width="0.6" stroke-linejoin="round" /><path d="M59.8 886.43 L77.89 886.15 L95.97 886.87 L113.76 890.5 L133.04 885.13 L151.12 891.63 L169.21 906.55 L187 912.46 L204.79 912.28 L222.58 913.96 L240.37 920.99 L258.16 920.95 L276.25 916.02" fill="none" stroke="#969696" stroke-width="0.6" stroke-linejoin="round" /><path d="M59.8 891.47 L77.89 892.82 L95.97 892.12 L113.76 890.5 L133.04 895.03 L151.12 908.24 L169.21 909.92 L187 920.75 L204.79 922.16 L222.58 922.53 L240.37 920.31 L258.16 924.51 L276.25 924.05" fill="none" stroke="#969696" stroke-width="0.6" stroke-linejoin="round" /><path d="M59.8 899.44 L77.89 890.5 L95.97 893.47 L113.76 890.5 L133.04 889.33 L151.12 905.89 L169.21 909.18 L187 907.13 L204.79 913.02 L222.58 915.59 L240.37 926.65 L258.16 911.12 L276.25 920.18" fill="none" stroke="#969696" stroke-width="0.6" stroke-linejoin="round" /><path d="M59.8 893.65 L77.89 893.4 L95.97 892.14 L113.76 890.5 L133.04 886.11 L151.12 889.15 L169.21 906.64 L187 904.96 L204.79 912.45 L222.58 912.28 L240.37 910.57 L258.16 911.63 L276.25 915.77" fill="none" stroke="#969696" stroke-width="0.6" stroke-linejoin="round" /><path d="M59.8 889.09 L77.89 895.38 L95.97 892.4 L113.76 890.5 L133.04 891.32 L151.12 895.93 L169.21 893.83 L187 888.92 L204.79 888.28 L222.58 881.26 L240.37 887.48 L258.16 888.29 L276.25 893.56" fill="none" stroke="#969696" stroke-width="0.6" stroke-linejoin="round" /><path d="M59.8 891.38 L77.89 898.47 L95.97 894.16 L113.76 890.5 L133.04 893.53 L151.12 905.94 L169.21 913.9 L187 917.11 L204.79 920.92 L222.58 926.43 L240.37 939.53 L258.16 921.85 L276.25 921.05" fill="none" stroke="#969696" stroke-width="0.6" stroke-linejoin="round" /><path d="M59.8 899.95 L77.89 902 L95.97 904.37 L113.76 890.5 L133.04 890.41 L151.12 904.71 L169.21 914.85 L187 933.87 L204.79 920.85 L222.58 924.52 L240.37 932.36 L258.16 937.13 L276.25 934.72" fill="none" stroke="#969696" stroke-width="0.6" stroke-linejoin="round" /><path d="M59.8 887.64 L77.89 895.4 L95.97 892.27 L113.76 890.5 L133.04 882.23 L151.12 891.83 L169.21 907.85 L187 914.97 L204.79 913.69 L222.58 918.55 L240.37 916.11 L258.16 920.85 L276.25 926.22" fill="none" stroke="#969696" stroke-width="0.6" stroke-linejoin="round" /><path d="M59.8 893.4 L77.89 887.54 L95.97 892.52 L113.76 890.5 L133.04 885.51 L151.12 894.69 L169.21 910.31 L187 916.59 L204.79 915.08 L222.58 929.57 L240.37 920.8 L258.16 929.56 L276.25 932.51" fill="none" stroke="#969696" stroke-width="0.6" stroke-linejoin="round" /><path d="M59.8 895.65 L77.89 901.47 L95.97 898.63 L113.76 890.5 L133.04 880.62 L151.12 888.36 L169.21 904.95 L187 912.1 L204.79 901.31 L222.58 908.21 L240.37 909.94 L258.16 910.32 L276.25 906.15" fill="none" stroke="#969696" stroke-width="0.6" stroke-linejoin="round" /><path d="M59.8 899.56 L77.89 901.75 L95.97 905.02 L113.76 890.5 L133.04 892.43 L151.12 903.09 L169.21 924.48 L187 931.27 L204.79 937.68 L222.58 939.68 L240.37 940.2 L258.16 941.9 L276.25 944.06" fill="none" stroke="#969696" stroke-width="0.6" stroke-linejoin="round" /><path d="M59.8 893.33 L77.89 888.27 L95.97 888.36 L113.76 890.5 L133.04 884.66 L151.12 892.29 L169.21 903.31 L187 911.16 L204.79 917.03 L222.58 916.45 L240.37 915.98 L258.16 918.11 L276.25 921.15" fill="none" stroke="#969696" stroke-width="0.6" stroke-linejoin="round" /><path d="M59.8 888.44 L77.89 892.83 L95.97 886.35 L113.76 890.5 L133.04 885.35 L151.12 894.52 L169.21 892.04 L187 897.94 L204.79 907.06 L222.58 908.46 L240.37 904.02 L258.16 904.72 L276.25 906.88" fill="none" stroke="#969696" stroke-width="0.6" stroke-linejoin="round" /><path d="M59.8 893.53 L77.89 894 L95.97 895.15 L113.76 890.5 L133.04 885.51 L151.12 899.37 L169.21 899.75 L187 913.49 L204.79 923.07 L222.58 913.14 L240.37 920.05 L258.16 923.09 L276.25 917.81" fill="none" stroke="#969696" stroke-width="0.6" stroke-linejoin="round" /><path d="M59.8 890.24 L77.89 883.83 L95.97 888.1 L113.76 890.5 L133.04 889.39 L151.12 906.72 L169.21 924.56 L187 932.93 L204.79 938.59 L222.58 944.36 L240.37 944.76 L258.16 951.76 L276.25 953.56" fill="none" stroke="#969696" stroke-width="0.6" stroke-linejoin="round" /></g><path d="M59.8 866.34V1011.3H282.18" fill="none" stroke="#222" stroke-width="1.1"/><path d="M56.8 1011.3H59.8M56.8 987.14H59.8M56.8 962.98H59.8M56.8 938.82H59.8M56.8 914.66H59.8M56.8 890.5H59.8M56.8 866.34H59.8M59.8 1011.3V1014.3M83.52 1011.3V1014.3M107.24 1011.3V1014.3M130.96 1011.3V1014.3M154.68 1011.3V1014.3M178.4 1011.3V1014.3M202.12 1011.3V1014.3M225.84 1011.3V1014.3M249.56 1011.3V1014.3M273.28 1011.3V1014.3" stroke="#222" stroke-width="1"/><text x="52.8" y="1015.1" text-anchor="end">0</text><text x="52.8" y="990.94" text-anchor="end">0.2</text><text x="52.8" y="966.78" text-anchor="end">0.4</text><text x="52.8" y="942.62" text-anchor="end">0.6</text><text x="52.8" y="918.46" text-anchor="end">0.8</text><text x="52.8" y="894.3" text-anchor="end">1</text><text x="52.8" y="870.14" text-anchor="end">1.2</text><text x="59.8" y="1025.9" text-anchor="middle">-12</text><text x="83.52" y="1025.9" text-anchor="middle">-8</text><text x="107.24" y="1025.9" text-anchor="middle">-4</text><text x="130.96" y="1025.9" text-anchor="middle">0</text><text x="154.68" y="1025.9" text-anchor="middle">4</text><text x="178.4" y="1025.9" text-anchor="middle">8</text><text x="202.12" y="1025.9" text-anchor="middle">12</text><text x="225.84" y="1025.9" text-anchor="middle">16</text><text x="249.56" y="1025.9" text-anchor="middle">20</text><text x="273.28" y="1025.9" text-anchor="middle">24</text><text transform="translate(30.5 941.8) rotate(-90)" text-anchor="middle" font-size="11">Fractional fluorescence</text><text x="165.25" y="1042.1" text-anchor="middle" font-size="11">Time from 5-ph-IAA exposure (h)</text><path d="M130.96 880.23V1011.3" stroke="#6426BE" stroke-width="1.5" stroke-dasharray="5 4.3"/><text transform="translate(127.96 1003.3) rotate(-90)" font-size="12.7">5-ph-IAA</text><path d="M59.8 891.71 L77.89 892.31 L95.97 891.71 L113.76 890.5 L133.04 889.29 L151.12 898.96 L169.21 908.62 L187 913.45 L204.79 918.28 L222.58 918.89 L240.37 919.49 L258.16 921.91 L276.25 923.36" fill="none" stroke="#80641A" stroke-width="2.3" stroke-linejoin="round" /><path d="M113.76 887.1L117.16 890.5L113.76 893.9L110.36 890.5Z" fill="#fff" stroke="#111" stroke-width="1.15"/><path d="M203.31 911.04V920.7M200.31 911.04H206.31M200.31 920.7H206.31" stroke="#111" stroke-width="1.0" fill="none"/><path d="M203.31 912.47L206.71 915.87L203.31 919.27L199.91 915.87Z" fill="#fff" stroke="#111" stroke-width="1.15"/><path d="M276.25 912.85V922.51M273.25 912.85H279.25M273.25 922.51H279.25" stroke="#111" stroke-width="1.0" fill="none"/><path d="M276.25 914.28L279.64 917.68L276.25 921.08L272.85 917.68Z" fill="#fff" stroke="#111" stroke-width="1.15"/><text x="67.6" y="871.4" font-style="italic" fill="#7A6222" font-size="10.8">SEpH:GluA2</text><path d="M171 954.4H190.5" stroke="#666" stroke-width="0.7"/><text x="193.5" y="957">3h intervals</text><text x="193.5" y="970.5">(18 neurons)</text><path d="M182.5 982.8L185.7 986L182.5 989.2L179.3 986Z" fill="#fff" stroke="#111" stroke-width="1.15"/><text x="193" y="989.8">12h intervals</text><text x="193" y="1002.3">(10 neurons)</text><text x="3.4" y="864.5" font-size="14">C</text><g><path d="M398.29 713.6 L416.67 707.2 L434.46 712.78 L454.03 712.6 L471.52 711.18 L488.42 705.56 L505.62 717.02 L523.71 716.91 L541.79 713.77 L558.99 714.39 L576.78 718.56 L594.57 717.65 L614.14 724.73" fill="none" stroke="#999" stroke-width="0.6" stroke-linejoin="round" /><path d="M398.29 727.02 L416.67 722.88 L434.46 720.97 L454.03 712.6 L471.52 711.64 L488.42 715.42 L505.62 720.71 L523.71 718.66 L541.79 725.27 L558.99 722.83 L576.78 721.32 L594.57 721.41 L614.14 729.2" fill="none" stroke="#999" stroke-width="0.6" stroke-linejoin="round" /><path d="M398.29 735.94 L416.67 732.56 L434.46 724.15 L454.03 712.6 L471.52 706.02 L488.42 724.06 L505.62 716.1 L523.71 717.73 L541.79 721.15 L558.99 720.79 L576.78 720.38 L594.57 720.49 L614.14 726.96" fill="none" stroke="#999" stroke-width="0.6" stroke-linejoin="round" /><path d="M398.29 727.19 L416.67 719.27 L434.46 718.84 L454.03 712.6 L471.52 706.39 L488.42 723.13 L505.62 724.79 L523.71 724.06 L541.79 729.83 L558.99 716.09 L576.78 734.4 L594.57 727.95 L614.14 730.29" fill="none" stroke="#999" stroke-width="0.6" stroke-linejoin="round" /><path d="M398.29 730.97 L416.67 728 L434.46 720.27 L454.03 712.6 L471.52 711.02 L488.42 707.11 L505.62 716.84 L523.71 709.53 L541.79 705.95 L558.99 700.09 L576.78 715.41 L594.57 698.63 L614.14 699.67" fill="none" stroke="#999" stroke-width="0.6" stroke-linejoin="round" /><path d="M398.29 719.03 L416.67 709.78 L434.46 713.64 L454.03 712.6 L471.52 711.68 L488.42 715.94 L505.62 720.62 L523.71 720.26 L541.79 724.05 L558.99 714.65 L576.78 731.38 L594.57 740.93 L614.14 727.41" fill="none" stroke="#999" stroke-width="0.6" stroke-linejoin="round" /><path d="M398.29 717.76 L416.67 714.87 L434.46 713.11 L454.03 712.6 L471.52 706.28 L488.42 716.05 L505.62 720.13 L523.71 709.7 L541.79 716.07 L558.99 725.06 L576.78 710.66 L594.57 719.18 L614.14 725.72" fill="none" stroke="#999" stroke-width="0.6" stroke-linejoin="round" /><path d="M398.29 720.19 L416.67 717.97 L434.46 718.2 L454.03 712.6 L471.52 713.74 L488.42 711.96 L505.62 724.11 L523.71 728.97 L541.79 721.68 L558.99 728.06 L576.78 725.59 L594.57 727.3 L614.14 735.1" fill="none" stroke="#999" stroke-width="0.6" stroke-linejoin="round" /><path d="M398.29 723.59 L416.67 714.42 L434.46 710.98 L454.03 712.6 L471.52 709.63 L488.42 715.16 L505.62 719.65 L523.71 721.18 L541.79 721.69 L558.99 722.58 L576.78 724.01 L594.57 724.29 L614.14 729.87" fill="none" stroke="#999" stroke-width="0.6" stroke-linejoin="round" /><path d="M398.29 722.96 L416.67 722.91 L434.46 714.92 L454.03 712.6 L471.52 705.11 L488.42 716.06 L505.62 718.8 L523.71 717.89 L541.79 712.56 L558.99 721.17 L576.78 712.12 L594.57 718.94 L614.14 713.94" fill="none" stroke="#999" stroke-width="0.6" stroke-linejoin="round" /></g><path d="M397.1 688.48V833.2H619.48" fill="none" stroke="#222" stroke-width="1.1"/><path d="M394.1 833.2H397.1M394.1 809.08H397.1M394.1 784.96H397.1M394.1 760.84H397.1M394.1 736.72H397.1M394.1 712.6H397.1M394.1 688.48H397.1M397.1 833.2V836.2M420.82 833.2V836.2M444.54 833.2V836.2M468.26 833.2V836.2M491.98 833.2V836.2M515.7 833.2V836.2M539.42 833.2V836.2M563.14 833.2V836.2M586.86 833.2V836.2M610.58 833.2V836.2" stroke="#222" stroke-width="1"/><text x="390.1" y="837" text-anchor="end">0</text><text x="390.1" y="812.88" text-anchor="end">0.2</text><text x="390.1" y="788.76" text-anchor="end">0.4</text><text x="390.1" y="764.64" text-anchor="end">0.6</text><text x="390.1" y="740.52" text-anchor="end">0.8</text><text x="390.1" y="716.4" text-anchor="end">1</text><text x="390.1" y="692.28" text-anchor="end">1.2</text><text x="397.1" y="847.8" text-anchor="middle">-12</text><text x="420.82" y="847.8" text-anchor="middle">-8</text><text x="444.54" y="847.8" text-anchor="middle">-4</text><text x="468.26" y="847.8" text-anchor="middle">0</text><text x="491.98" y="847.8" text-anchor="middle">4</text><text x="515.7" y="847.8" text-anchor="middle">8</text><text x="539.42" y="847.8" text-anchor="middle">12</text><text x="563.14" y="847.8" text-anchor="middle">16</text><text x="586.86" y="847.8" text-anchor="middle">20</text><text x="610.58" y="847.8" text-anchor="middle">24</text><text transform="translate(366.3 763.7) rotate(-90)" text-anchor="middle" font-size="11">Fractional fluorescence</text><path d="M468.26 702.35V833.2" stroke="#6426BE" stroke-width="1.5" stroke-dasharray="5 4.3"/><text transform="translate(465.26 825.2) rotate(-90)" font-size="12.7">5-ph-IAA</text><path d="M398.29 719.84 L416.67 716.22 L434.46 715.01 L454.03 712.6 L471.52 710.19 L488.42 713.81 L505.62 718.03 L523.71 717.18 L541.79 717.42 L558.99 719.84 L576.78 719.23 L594.57 721.04 L614.14 721.64 L622.44 722.01" fill="none" stroke="#4a4a4a" stroke-width="2.3" stroke-linejoin="round" /><path d="M454.03 709.2L457.43 712.6L454.03 716L450.63 712.6Z" fill="#fff" stroke="#111" stroke-width="1.15"/><path d="M543.57 708.38V720.44M540.57 708.38H546.57M540.57 720.44H546.57" stroke="#111" stroke-width="1.0" fill="none"/><path d="M543.57 711.37L546.97 714.77L543.57 718.17L540.17 714.77Z" fill="#fff" stroke="#111" stroke-width="1.15"/><path d="M616.81 708.38V727.31M613.81 708.38H619.81M613.81 727.31H619.81" stroke="#111" stroke-width="1.0" fill="none"/><path d="M616.81 714.27L620.21 717.67L616.81 721.07L613.41 717.67Z" fill="#fff" stroke="#111" stroke-width="1.15"/><text x="405" y="685.4" font-style="italic" fill="#555" font-size="10.85" xml:space="preserve">SEpH:GluA2,  PSD-95:mTurq2:mAID  negative</text><path d="M528.5 776.4H547.5" stroke="#666" stroke-width="0.7"/><text x="551.5" y="778.6">3h intervals</text><text x="551.5" y="792.2">(10 neurons)</text><path d="M540 805.2L543.2 808.4L540 811.6L536.8 808.4Z" fill="#fff" stroke="#111" stroke-width="1.15"/><text x="551.5" y="812">12h intervals</text><text x="551.5" y="825.2">(5 neurons)</text><text x="342.8" y="677.1" font-size="14">D</text><path d="M397.1 866.96V1011.2H619.48" fill="none" stroke="#222" stroke-width="1.1"/><path d="M394.1 1011.2H397.1M394.1 987.16H397.1M394.1 963.12H397.1M394.1 939.08H397.1M394.1 915.04H397.1M394.1 891H397.1M394.1 866.96H397.1M397.1 1011.2V1014.2M420.82 1011.2V1014.2M444.54 1011.2V1014.2M468.26 1011.2V1014.2M491.98 1011.2V1014.2M515.7 1011.2V1014.2M539.42 1011.2V1014.2M563.14 1011.2V1014.2M586.86 1011.2V1014.2M610.58 1011.2V1014.2" stroke="#222" stroke-width="1"/><text x="390.1" y="1015" text-anchor="end">0</text><text x="390.1" y="990.96" text-anchor="end">0.2</text><text x="390.1" y="966.92" text-anchor="end">0.4</text><text x="390.1" y="942.88" text-anchor="end">0.6</text><text x="390.1" y="918.84" text-anchor="end">0.8</text><text x="390.1" y="894.8" text-anchor="end">1</text><text x="390.1" y="870.76" text-anchor="end">1.2</text><text x="397.1" y="1025.8" text-anchor="middle">-12</text><text x="420.82" y="1025.8" text-anchor="middle">-8</text><text x="444.54" y="1025.8" text-anchor="middle">-4</text><text x="468.26" y="1025.8" text-anchor="middle">0</text><text x="491.98" y="1025.8" text-anchor="middle">4</text><text x="515.7" y="1025.8" text-anchor="middle">8</text><text x="539.42" y="1025.8" text-anchor="middle">12</text><text x="563.14" y="1025.8" text-anchor="middle">16</text><text x="586.86" y="1025.8" text-anchor="middle">20</text><text x="610.58" y="1025.8" text-anchor="middle">24</text><text transform="translate(366.3 941.7) rotate(-90)" text-anchor="middle" font-size="11">Fractional fluorescence</text><text x="502.55" y="1042" text-anchor="middle" font-size="11">Time from 5-ph-IAA exposure (h)</text><path d="M468.26 880.78V1011.2" stroke="#6426BE" stroke-width="1.5" stroke-dasharray="5 4.3"/><text transform="translate(465.26 1003.2) rotate(-90)" font-size="12.7">5-ph-IAA</text><path d="M398.29 883.79V889.8M416.67 883.79V888.6M434.46 884.99V889.8M471.52 893.76V900.98M488.42 928.26V971.53M505.62 958.31V995.57M523.71 976.94V1000.98M541.79 986.56V1005.79M558.99 991.61V1006.03M576.78 994.37V1006.39M594.57 996.78V1006.39M614.14 998.34V1006.75" stroke="#D82DB8" stroke-width="1.5"/><path d="M398.29 886.79 L416.67 886.19 L434.46 887.39 L454.03 891 L471.52 897.37 L488.42 949.9 L505.62 976.94 L523.71 988.96 L541.79 996.18 L558.99 998.82 L576.78 1000.38 L594.57 1001.58 L614.14 1002.55" fill="none" stroke="#D82DB8" stroke-width="2.0" stroke-linejoin="round" /><circle cx="398.29" cy="886.79" r="4.1" fill="#D82DB8"/><circle cx="416.67" cy="886.19" r="4.1" fill="#D82DB8"/><circle cx="434.46" cy="887.39" r="4.1" fill="#D82DB8"/><circle cx="454.03" cy="891" r="4.1" fill="#D82DB8"/><circle cx="471.52" cy="897.37" r="4.1" fill="#D82DB8"/><circle cx="488.42" cy="949.9" r="4.1" fill="#D82DB8"/><circle cx="505.62" cy="976.94" r="4.1" fill="#D82DB8"/><circle cx="523.71" cy="988.96" r="4.1" fill="#D82DB8"/><circle cx="541.79" cy="996.18" r="4.1" fill="#D82DB8"/><circle cx="558.99" cy="998.82" r="4.1" fill="#D82DB8"/><circle cx="576.78" cy="1000.38" r="4.1" fill="#D82DB8"/><circle cx="594.57" cy="1001.58" r="4.1" fill="#D82DB8"/><circle cx="614.14" cy="1002.55" r="4.1" fill="#D82DB8"/><path d="M398.29 887.39V894.61M416.67 889.2V896.41M434.46 888.6V895.81M471.52 888V892.8M488.42 896.17V905.78M505.62 903.98V916M523.71 906.63V921.05M541.79 911.43V925.86M558.99 911.43V925.86M576.78 912.64V927.06M594.57 913.6V929.22M614.14 913.12V934.75" stroke="#80641A" stroke-width="1.5"/><path d="M398.29 891 L416.67 892.8 L434.46 892.2 L454.03 891 L471.52 890.4 L488.42 900.98 L505.62 909.99 L523.71 913.84 L541.79 918.65 L558.99 918.65 L576.78 919.85 L594.57 921.41 L614.14 923.93" fill="none" stroke="#80641A" stroke-width="2.0" stroke-linejoin="round" /><circle cx="398.29" cy="891" r="4.1" fill="#80641A"/><circle cx="416.67" cy="892.8" r="4.1" fill="#80641A"/><circle cx="434.46" cy="892.2" r="4.1" fill="#80641A"/><circle cx="454.03" cy="891" r="4.1" fill="#80641A"/><circle cx="471.52" cy="890.4" r="4.1" fill="#80641A"/><circle cx="488.42" cy="900.98" r="4.1" fill="#80641A"/><circle cx="505.62" cy="909.99" r="4.1" fill="#80641A"/><circle cx="523.71" cy="913.84" r="4.1" fill="#80641A"/><circle cx="541.79" cy="918.65" r="4.1" fill="#80641A"/><circle cx="558.99" cy="918.65" r="4.1" fill="#80641A"/><circle cx="576.78" cy="919.85" r="4.1" fill="#80641A"/><circle cx="594.57" cy="921.41" r="4.1" fill="#80641A"/><circle cx="614.14" cy="923.93" r="4.1" fill="#80641A"/><path d="M398.29 893.64V903.26M416.67 890.28V897.49M434.46 890.28V897.49M471.52 884.99V892.2M488.42 889.8V897.01M505.62 892.2V900.62M523.71 892.2V899.41M541.79 891.84V900.26M558.99 894.73V903.14M576.78 893.4V903.02M594.57 887.39V911.43M614.14 887.87V911.91" stroke="#4D4D4D" stroke-width="1.5"/><path d="M398.29 898.45 L416.67 893.88 L434.46 893.88 L454.03 891 L471.52 888.6 L488.42 893.4 L505.62 896.41 L523.71 895.81 L541.79 896.05 L558.99 898.93 L576.78 898.21 L594.57 899.41 L614.14 899.89" fill="none" stroke="#4D4D4D" stroke-width="2.0" stroke-linejoin="round" /><circle cx="398.29" cy="898.45" r="4.1" fill="#4D4D4D"/><circle cx="416.67" cy="893.88" r="4.1" fill="#4D4D4D"/><circle cx="434.46" cy="893.88" r="4.1" fill="#4D4D4D"/><circle cx="454.03" cy="891" r="4.1" fill="#4D4D4D"/><circle cx="471.52" cy="888.6" r="4.1" fill="#4D4D4D"/><circle cx="488.42" cy="893.4" r="4.1" fill="#4D4D4D"/><circle cx="505.62" cy="896.41" r="4.1" fill="#4D4D4D"/><circle cx="523.71" cy="895.81" r="4.1" fill="#4D4D4D"/><circle cx="541.79" cy="896.05" r="4.1" fill="#4D4D4D"/><circle cx="558.99" cy="898.93" r="4.1" fill="#4D4D4D"/><circle cx="576.78" cy="898.21" r="4.1" fill="#4D4D4D"/><circle cx="594.57" cy="899.41" r="4.1" fill="#4D4D4D"/><circle cx="614.14" cy="899.89" r="4.1" fill="#4D4D4D"/><text x="444" y="870.4" font-style="italic" fill="#555" font-size="10.75">SEpH:GluA2</text><text x="444" y="883" font-style="italic" fill="#555" font-size="10.75" xml:space="preserve">PSD-95:mTurq2:mAID  (-)</text><text x="576.6" y="885.4" font-size="10.8">p=1.8*10</text><text x="619.8" y="881.7" font-size="7">-4</text><path d="M623 899.5H629V924H623" fill="none" stroke="#333" stroke-width="0.9"/><text x="548.4" y="946" font-style="italic" fill="#7A6222" font-size="10.9">SEpH:GluA2</text><text x="514" y="969" font-style="italic" fill="#D62FB8" font-size="10.75">PSD-95:mTurq2:mAID</text><text x="342.8" y="864.7" font-size="14">E</text></g>
</svg>
</body></html>
